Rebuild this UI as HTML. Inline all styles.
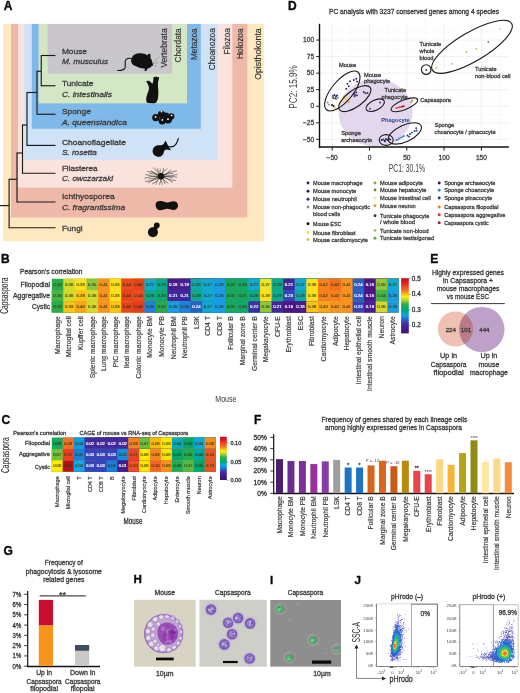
<!DOCTYPE html>
<html><head><meta charset="utf-8"><title>Figure</title>
<style>
html,body{margin:0;padding:0;background:#fff;}
body{width:520px;height:693px;overflow:hidden;font-family:"Liberation Sans",sans-serif;}
svg{display:block;font-family:"Liberation Sans",sans-serif;will-change:transform;}
</style></head><body>
<svg width="520" height="693" viewBox="0 0 520 693">
<text x="3.75" y="10.10" font-size="12" fill="#0a0a0a" font-weight="bold" stroke="#0a0a0a" stroke-width="0.35">A</text>
<rect x="3.20" y="23.80" width="260.60" height="217.50" fill="#fde8bf" />
<rect x="11.00" y="24.00" width="236.30" height="193.40" fill="#efb9aa" />
<rect x="18.00" y="24.00" width="214.30" height="163.60" fill="#fae3dc" />
<rect x="24.30" y="24.00" width="193.30" height="135.70" fill="#cfe2f6" />
<rect x="31.80" y="24.00" width="169.00" height="104.80" fill="#7fb9ea" />
<rect x="38.60" y="24.00" width="148.40" height="79.40" fill="#d4e7c5" />
<rect x="47.60" y="24.00" width="124.60" height="49.70" fill="#c9c7cc" />
<line x1="41.25" y1="55.50" x2="55.50" y2="55.50" stroke="#1a1a1a" stroke-width="1.15" />
<line x1="41.25" y1="85.75" x2="55.50" y2="85.75" stroke="#1a1a1a" stroke-width="1.15" />
<line x1="41.25" y1="55.00" x2="41.25" y2="86.25" stroke="#1a1a1a" stroke-width="1.15" />
<line x1="37.00" y1="71.25" x2="41.25" y2="71.25" stroke="#1a1a1a" stroke-width="1.15" />
<line x1="37.00" y1="70.75" x2="37.00" y2="114.75" stroke="#1a1a1a" stroke-width="1.15" />
<line x1="37.00" y1="114.25" x2="55.50" y2="114.25" stroke="#1a1a1a" stroke-width="1.15" />
<line x1="27.00" y1="92.50" x2="37.00" y2="92.50" stroke="#1a1a1a" stroke-width="1.15" />
<line x1="27.00" y1="92.00" x2="27.00" y2="145.90" stroke="#1a1a1a" stroke-width="1.15" />
<line x1="27.00" y1="145.40" x2="55.50" y2="145.40" stroke="#1a1a1a" stroke-width="1.15" />
<line x1="22.50" y1="125.00" x2="27.00" y2="125.00" stroke="#1a1a1a" stroke-width="1.15" />
<line x1="22.50" y1="124.50" x2="22.50" y2="173.75" stroke="#1a1a1a" stroke-width="1.15" />
<line x1="22.50" y1="173.25" x2="55.50" y2="173.25" stroke="#1a1a1a" stroke-width="1.15" />
<line x1="17.00" y1="153.00" x2="22.50" y2="153.00" stroke="#1a1a1a" stroke-width="1.15" />
<line x1="17.00" y1="152.50" x2="17.00" y2="202.50" stroke="#1a1a1a" stroke-width="1.15" />
<line x1="17.00" y1="202.00" x2="55.50" y2="202.00" stroke="#1a1a1a" stroke-width="1.15" />
<line x1="9.10" y1="179.30" x2="17.00" y2="179.30" stroke="#1a1a1a" stroke-width="1.15" />
<line x1="9.10" y1="178.80" x2="9.10" y2="228.20" stroke="#1a1a1a" stroke-width="1.15" />
<line x1="9.10" y1="227.70" x2="55.50" y2="227.70" stroke="#1a1a1a" stroke-width="1.15" />
<line x1="0.00" y1="205.60" x2="9.10" y2="205.60" stroke="#1a1a1a" stroke-width="1.15" />
<text x="61.90" y="53.50" font-size="8.1" textLength="25.10" lengthAdjust="spacingAndGlyphs" fill="#3a3a3a" stroke="#3a3a3a" stroke-width="0.3" >Mouse</text>
<text x="61.90" y="63.50" font-size="8.1" textLength="46.20" lengthAdjust="spacingAndGlyphs" fill="#3a3a3a" stroke="#3a3a3a" stroke-width="0.3" font-style="italic" >M. musculus</text>
<text x="61.90" y="86.25" font-size="8.1" textLength="31.60" lengthAdjust="spacingAndGlyphs" fill="#3a3a3a" stroke="#3a3a3a" stroke-width="0.3" >Tunicate</text>
<text x="61.90" y="96.75" font-size="8.1" textLength="50.00" lengthAdjust="spacingAndGlyphs" fill="#3a3a3a" stroke="#3a3a3a" stroke-width="0.3" font-style="italic" >C. intestinalis</text>
<text x="61.90" y="114.15" font-size="8.1" textLength="29.00" lengthAdjust="spacingAndGlyphs" fill="#3a3a3a" stroke="#3a3a3a" stroke-width="0.3" >Sponge</text>
<text x="61.90" y="125.05" font-size="8.1" textLength="65.00" lengthAdjust="spacingAndGlyphs" fill="#3a3a3a" stroke="#3a3a3a" stroke-width="0.3" font-style="italic" >A. queenslandica</text>
<text x="61.90" y="145.25" font-size="8.1" textLength="64.00" lengthAdjust="spacingAndGlyphs" fill="#3a3a3a" stroke="#3a3a3a" stroke-width="0.3" >Choanoflagellate</text>
<text x="61.90" y="155.25" font-size="8.1" textLength="35.00" lengthAdjust="spacingAndGlyphs" fill="#3a3a3a" stroke="#3a3a3a" stroke-width="0.3" font-style="italic" >S. rosetta</text>
<text x="61.90" y="170.75" font-size="8.1" textLength="35.75" lengthAdjust="spacingAndGlyphs" fill="#3a3a3a" stroke="#3a3a3a" stroke-width="0.3" >Filasterea</text>
<text x="61.90" y="181.25" font-size="8.1" textLength="51.25" lengthAdjust="spacingAndGlyphs" fill="#3a3a3a" stroke="#3a3a3a" stroke-width="0.3" font-style="italic" >C. owczarzaki</text>
<text x="61.90" y="199.00" font-size="8.1" textLength="52.75" lengthAdjust="spacingAndGlyphs" fill="#3a3a3a" stroke="#3a3a3a" stroke-width="0.3" >Ichthyosporea</text>
<text x="61.90" y="209.55" font-size="8.1" textLength="63.30" lengthAdjust="spacingAndGlyphs" fill="#3a3a3a" stroke="#3a3a3a" stroke-width="0.3" font-style="italic" >C. fragrantissima</text>
<text x="61.90" y="230.75" font-size="8.1" textLength="20.75" lengthAdjust="spacingAndGlyphs" fill="#3a3a3a" stroke="#3a3a3a" stroke-width="0.3" >Fungi</text>
<text transform="translate(167.39,28.30) rotate(-90)" font-size="8.5" text-anchor="end" textLength="39.50" lengthAdjust="spacingAndGlyphs" fill="#333" stroke="#333" stroke-width="0.18">Vertebrata</text>
<text transform="translate(180.69,28.30) rotate(-90)" font-size="8.5" text-anchor="end" textLength="34.10" lengthAdjust="spacingAndGlyphs" fill="#333" stroke="#333" stroke-width="0.18">Chordata</text>
<text transform="translate(196.64,28.30) rotate(-90)" font-size="8.5" text-anchor="end" textLength="31.80" lengthAdjust="spacingAndGlyphs" fill="#333" stroke="#333" stroke-width="0.18">Metazoa</text>
<text transform="translate(214.89,28.30) rotate(-90)" font-size="8.5" text-anchor="end" textLength="42.00" lengthAdjust="spacingAndGlyphs" fill="#333" stroke="#333" stroke-width="0.18">Choanozoa</text>
<text transform="translate(230.39,28.30) rotate(-90)" font-size="8.5" text-anchor="end" textLength="26.20" lengthAdjust="spacingAndGlyphs" fill="#333" stroke="#333" stroke-width="0.18">Filozoa</text>
<text transform="translate(243.29,28.30) rotate(-90)" font-size="8.5" text-anchor="end" textLength="30.80" lengthAdjust="spacingAndGlyphs" fill="#333" stroke="#333" stroke-width="0.18">Holozoa</text>
<text transform="translate(261.09,28.30) rotate(-90)" font-size="8.5" text-anchor="end" textLength="51.50" lengthAdjust="spacingAndGlyphs" fill="#333" stroke="#333" stroke-width="0.18">Opisthokonta</text>
<path d="M131.4,62.5 C130.6,58 133,54.6 137,53.6 C141,52.7 145,53.4 147.8,55.6 C147.6,54 148.6,53.4 149.6,53.7 C150.8,54.1 150.9,56 150.3,57.4 C151.6,59.4 152.4,62 153,64.4 C153.2,65.4 152.4,66 151.4,66.2 C150.8,67.4 149.6,68 148.4,68.2 L147.6,68.6 C147,69.6 146.8,70.4 146.2,71.1 L144.4,71.1 C144.8,70 145,69 144.6,68.5 C142,68.7 139,68 136.6,66.6 C134,65.6 132,64.4 131.4,62.5 Z" fill="#111"/>
<path d="M132,58.8 C129,57.5 125.6,58.6 125.2,61.4 C124.9,64 126.2,66.6 124.6,68.6 C123.2,70.2 120.4,70.6 117.8,70.5" fill="none" stroke="#111" stroke-width="1.1" stroke-linecap="round"/>
<path d="M152.4,63 L159.4,57 M152.8,63.6 L158.6,62.4 M152.4,64.6 L157,66.4" fill="none" stroke="#666" stroke-width="0.4"/>
<path d="M147,102.8 C145.6,100.5 146.2,96.5 147.5,93.5 C148.6,91 149.4,88.5 148.6,86 C148,84 146.5,82.6 146.4,81.6 C146.6,80.5 147.6,80.6 148.2,81.2 C148.8,80.4 149.8,80.6 150,81.6 C150.8,82.6 151.8,83.4 152.6,83.4 C153.4,81.5 153.6,79.5 153.4,77.6 C153.6,76.4 154.8,76.4 155.3,77.2 C156,76.3 157.2,76.4 157.5,77.4 C158.2,76.8 159.2,77.2 159,78.4 C158.2,80.5 157.8,83 158,86 C158.3,90 158.6,94 158,98 C157.6,100.2 156.8,101.8 155.8,102.9 C153,103.3 149.5,103.3 147,102.8 Z" fill="#111"/>
<circle cx="155.8" cy="117.7" r="3.6" fill="#111"/>
<circle cx="161.5" cy="114.3" r="3.6" fill="#111"/>
<circle cx="162.2" cy="120.8" r="3.6" fill="#111"/>
<circle cx="168" cy="119.6" r="4.0" fill="#111"/>
<circle cx="171.3" cy="116.4" r="3.1" fill="#111"/>
<circle cx="166" cy="115.5" r="3" fill="#111"/>
<circle cx="155.6" cy="116.9" r="0.9" fill="#fff"/>
<circle cx="161.5" cy="111.6" r="0.9" fill="#fff"/>
<circle cx="162.3" cy="119.9" r="0.9" fill="#fff"/>
<circle cx="168" cy="119.2" r="0.9" fill="#fff"/>
<circle cx="171.6" cy="115.4" r="0.9" fill="#fff"/>
<path d="M152.6,151.6 C152.4,147.8 155.5,145 159.2,145.2 C161,145.3 162.4,145.2 163.6,144 L165.6,140.4 L167.6,144.8 L171,150.2 L166.4,149.6 C165,149.8 164.2,150.8 163.8,152.4 C163,155.6 160.4,157.2 157.6,156.8 C154.8,156.4 152.8,154.4 152.6,151.6 Z" fill="#111"/>
<path d="M167.2,146.2 C170.5,147.4 174,146.8 175.8,144.4 C177.2,142.5 177.6,140.5 178.4,138.4" fill="none" stroke="#111" stroke-width="1.1" stroke-linecap="round"/>
<circle cx="161" cy="176.3" r="3.2" fill="#111"/>
<path d="M161,176.3 Q153.2,181.9 145.0,181.3 M161,176.3 Q151.5,175.4 144.2,178.3 M161,176.3 Q152.0,177.2 145.2,174.4 M161,176.3 Q154.5,170.9 147.1,171.5 M161,176.3 Q154.4,174.8 151.1,170.5 M161,176.3 Q157.4,170.8 153.0,167.5 M161,176.3 Q158.0,172.3 157.3,168.3 M161,176.3 Q159.6,172.1 160.2,168.6 M161,176.3 Q163.4,172.0 163.6,168.0 M161,176.3 Q162.8,170.9 167.3,168.6 M161,176.3 Q167.9,174.1 171.2,169.4 M161,176.3 Q168.9,171.4 176.8,170.8 M161,176.3 Q170.5,177.2 177.8,174.3 M161,176.3 Q169.9,174.8 177.0,177.3 M161,176.3 Q168.8,180.5 176.2,180.6 M161,176.3 Q168.6,178.1 172.9,182.7 M161,176.3 Q163.6,181.5 168.4,183.3 M161,176.3 Q164.2,180.2 165.2,184.1 M161,176.3 Q160.8,181.1 162.4,184.8 M161,176.3 Q161.0,181.1 159.3,184.8 M161,176.3 Q156.4,180.0 155.8,184.7 M161,176.3 Q157.4,182.1 151.8,184.2 M161,176.3 Q152.9,178.4 148.3,183.1 M161,176.3 Q155.1,172.9 149.4,173.6 M161,176.3 Q167.4,172.8 173.6,173.4 M161,176.3 Q167.7,176.3 172.8,178.1 M161,176.3 Q154.3,178.8 148.4,179.0 " fill="none" stroke="#1a1a1a" stroke-width="0.5"/>
<path d="M155.6,204.8 C155.4,202 157.6,200.8 160.6,201 C163.6,201.2 165.6,202.6 167.6,202.4 C169.8,202.2 171.6,201 174,201.2 C176.8,201.4 178.2,203.4 178,205.8 C177.8,208.4 176.2,210 173.4,210 C171,210 169.4,208.8 167.2,208.8 C165,208.8 163,210.2 160,210.2 C157,210.2 155.8,207.6 155.6,204.8 Z" fill="#111"/>
<circle cx="152.9" cy="232.2" r="5" fill="#111"/><circle cx="156.8" cy="225.3" r="2.9" fill="#111"/><rect x="153.5" y="226" width="4" height="4" fill="#111" transform="rotate(30 155.5 228)"/>
<text x="287.90" y="9.80" font-size="12" fill="#0a0a0a" font-weight="bold" stroke="#0a0a0a" stroke-width="0.35">D</text>
<text x="414.00" y="14.18" font-size="6.4" text-anchor="middle" textLength="170.00" lengthAdjust="spacingAndGlyphs" fill="#3a3a3a" stroke="#3a3a3a" stroke-width="0.3" >PC analysis with 3237 conserved genes among 4 species</text>
<line x1="319.50" y1="147.62" x2="508.80" y2="147.62" stroke="#f2f2f2" stroke-width="0.4" />
<line x1="319.50" y1="131.07" x2="508.80" y2="131.07" stroke="#f2f2f2" stroke-width="0.4" />
<line x1="319.50" y1="114.53" x2="508.80" y2="114.53" stroke="#f2f2f2" stroke-width="0.4" />
<line x1="319.50" y1="97.97" x2="508.80" y2="97.97" stroke="#f2f2f2" stroke-width="0.4" />
<line x1="319.50" y1="81.42" x2="508.80" y2="81.42" stroke="#f2f2f2" stroke-width="0.4" />
<line x1="319.50" y1="64.88" x2="508.80" y2="64.88" stroke="#f2f2f2" stroke-width="0.4" />
<line x1="319.50" y1="48.32" x2="508.80" y2="48.32" stroke="#f2f2f2" stroke-width="0.4" />
<line x1="319.50" y1="31.77" x2="508.80" y2="31.77" stroke="#f2f2f2" stroke-width="0.4" />
<line x1="350.85" y1="23.80" x2="350.85" y2="147.00" stroke="#f2f2f2" stroke-width="0.4" />
<line x1="388.15" y1="23.80" x2="388.15" y2="147.00" stroke="#f2f2f2" stroke-width="0.4" />
<line x1="425.45" y1="23.80" x2="425.45" y2="147.00" stroke="#f2f2f2" stroke-width="0.4" />
<line x1="462.75" y1="23.80" x2="462.75" y2="147.00" stroke="#f2f2f2" stroke-width="0.4" />
<line x1="500.05" y1="23.80" x2="500.05" y2="147.00" stroke="#f2f2f2" stroke-width="0.4" />
<line x1="319.50" y1="139.35" x2="508.80" y2="139.35" stroke="#e6e6e6" stroke-width="0.6" />
<line x1="319.50" y1="122.80" x2="508.80" y2="122.80" stroke="#e6e6e6" stroke-width="0.6" />
<line x1="319.50" y1="106.25" x2="508.80" y2="106.25" stroke="#e6e6e6" stroke-width="0.6" />
<line x1="319.50" y1="89.70" x2="508.80" y2="89.70" stroke="#e6e6e6" stroke-width="0.6" />
<line x1="319.50" y1="73.15" x2="508.80" y2="73.15" stroke="#e6e6e6" stroke-width="0.6" />
<line x1="319.50" y1="56.60" x2="508.80" y2="56.60" stroke="#e6e6e6" stroke-width="0.6" />
<line x1="319.50" y1="40.05" x2="508.80" y2="40.05" stroke="#e6e6e6" stroke-width="0.6" />
<line x1="332.20" y1="23.80" x2="332.20" y2="147.00" stroke="#e6e6e6" stroke-width="0.6" />
<line x1="369.50" y1="23.80" x2="369.50" y2="147.00" stroke="#e6e6e6" stroke-width="0.6" />
<line x1="406.80" y1="23.80" x2="406.80" y2="147.00" stroke="#e6e6e6" stroke-width="0.6" />
<line x1="444.10" y1="23.80" x2="444.10" y2="147.00" stroke="#e6e6e6" stroke-width="0.6" />
<line x1="481.40" y1="23.80" x2="481.40" y2="147.00" stroke="#e6e6e6" stroke-width="0.6" />
<ellipse cx="375.6" cy="112.6" rx="37" ry="34" fill="#e3d7ee"/>
<line x1="319.50" y1="23.80" x2="319.50" y2="147.70" stroke="#111" stroke-width="1.4" />
<line x1="318.80" y1="147.10" x2="508.80" y2="147.10" stroke="#111" stroke-width="1.5" />
<line x1="316.20" y1="139.35" x2="319.50" y2="139.35" stroke="#222" stroke-width="1.0" />
<text x="314.10" y="141.59" font-size="6.6" text-anchor="end" fill="#444" stroke="#444" stroke-width="0.3" >−50</text>
<line x1="316.20" y1="122.80" x2="319.50" y2="122.80" stroke="#222" stroke-width="1.0" />
<text x="314.10" y="125.04" font-size="6.6" text-anchor="end" fill="#444" stroke="#444" stroke-width="0.3" >−25</text>
<line x1="316.20" y1="106.25" x2="319.50" y2="106.25" stroke="#222" stroke-width="1.0" />
<text x="314.10" y="108.49" font-size="6.6" text-anchor="end" fill="#444" stroke="#444" stroke-width="0.3" >0</text>
<line x1="316.20" y1="89.70" x2="319.50" y2="89.70" stroke="#222" stroke-width="1.0" />
<text x="314.10" y="91.94" font-size="6.6" text-anchor="end" fill="#444" stroke="#444" stroke-width="0.3" >25</text>
<line x1="316.20" y1="73.15" x2="319.50" y2="73.15" stroke="#222" stroke-width="1.0" />
<text x="314.10" y="75.39" font-size="6.6" text-anchor="end" fill="#444" stroke="#444" stroke-width="0.3" >50</text>
<line x1="316.20" y1="56.60" x2="319.50" y2="56.60" stroke="#222" stroke-width="1.0" />
<text x="314.10" y="58.84" font-size="6.6" text-anchor="end" fill="#444" stroke="#444" stroke-width="0.3" >75</text>
<line x1="316.20" y1="40.05" x2="319.50" y2="40.05" stroke="#222" stroke-width="1.0" />
<text x="314.10" y="42.29" font-size="6.6" text-anchor="end" fill="#444" stroke="#444" stroke-width="0.3" >100</text>
<line x1="332.20" y1="147.00" x2="332.20" y2="150.60" stroke="#222" stroke-width="1.0" />
<text x="332.20" y="159.64" font-size="6.6" text-anchor="middle" fill="#444" stroke="#444" stroke-width="0.3" >−50</text>
<line x1="369.50" y1="147.00" x2="369.50" y2="150.60" stroke="#222" stroke-width="1.0" />
<text x="369.50" y="159.64" font-size="6.6" text-anchor="middle" fill="#444" stroke="#444" stroke-width="0.3" >0</text>
<line x1="406.80" y1="147.00" x2="406.80" y2="150.60" stroke="#222" stroke-width="1.0" />
<text x="406.80" y="159.64" font-size="6.6" text-anchor="middle" fill="#444" stroke="#444" stroke-width="0.3" >50</text>
<line x1="444.10" y1="147.00" x2="444.10" y2="150.60" stroke="#222" stroke-width="1.0" />
<text x="444.10" y="159.64" font-size="6.6" text-anchor="middle" fill="#444" stroke="#444" stroke-width="0.3" >100</text>
<line x1="481.40" y1="147.00" x2="481.40" y2="150.60" stroke="#222" stroke-width="1.0" />
<text x="481.40" y="159.64" font-size="6.6" text-anchor="middle" fill="#444" stroke="#444" stroke-width="0.3" >150</text>
<text x="388.80" y="171.80" font-size="10.2" textLength="36.30" lengthAdjust="spacingAndGlyphs" fill="#444" >PC1: 30.1%</text>
<text transform="translate(296.6,86.9) rotate(-90)" font-size="10.2" text-anchor="middle" textLength="43.5" lengthAdjust="spacingAndGlyphs" fill="#444">PC2: 15.9%</text>
<circle cx="347.5" cy="83.8" r="0.95" fill="#3b1a6e"/>
<circle cx="350.0" cy="81.3" r="0.95" fill="#3b1a6e"/>
<circle cx="353.8" cy="80.0" r="0.95" fill="#3b1a6e"/>
<circle cx="356.3" cy="78.8" r="0.95" fill="#3b1a6e"/>
<circle cx="348.8" cy="86.3" r="0.95" fill="#3b1a6e"/>
<circle cx="346.3" cy="88.8" r="0.95" fill="#3b1a6e"/>
<circle cx="357.0" cy="81.5" r="0.95" fill="#3b1a6e"/>
<circle cx="333.0" cy="96.0" r="0.95" fill="#2a1a5e"/>
<circle cx="334.5" cy="95.0" r="0.95" fill="#2a1a5e"/>
<circle cx="336.0" cy="96.5" r="0.95" fill="#2a1a5e"/>
<circle cx="333.5" cy="98.0" r="0.95" fill="#2a1a5e"/>
<circle cx="335.5" cy="98.5" r="0.95" fill="#2a1a5e"/>
<circle cx="337.0" cy="95.5" r="0.95" fill="#2a1a5e"/>
<circle cx="332.5" cy="97.5" r="0.95" fill="#8e8e8e"/>
<circle cx="336.5" cy="99.0" r="0.95" fill="#8e8e8e"/>
<circle cx="338.0" cy="97.8" r="0.95" fill="#8e8e8e"/>
<circle cx="343.8" cy="96.3" r="0.9" fill="#f2b233"/>
<circle cx="346.0" cy="99.0" r="0.9" fill="#f2b233"/>
<circle cx="341.5" cy="101.0" r="0.9" fill="#f2b233"/>
<circle cx="348.5" cy="100.0" r="0.9" fill="#f2b233"/>
<circle cx="344.5" cy="103.5" r="0.9" fill="#f2b233"/>
<circle cx="335.0" cy="107.5" r="0.9" fill="#f2b233"/>
<circle cx="337.0" cy="108.8" r="0.9" fill="#f2b233"/>
<circle cx="342.5" cy="98.0" r="0.9" fill="#f1e04a"/>
<circle cx="345.5" cy="101.5" r="0.9" fill="#f1e04a"/>
<circle cx="347.5" cy="97.5" r="0.9" fill="#f1e04a"/>
<circle cx="340.0" cy="103.5" r="0.9" fill="#f1e04a"/>
<circle cx="332.0" cy="105.0" r="0.95" fill="#111"/>
<circle cx="333.5" cy="106.0" r="0.95" fill="#111"/>
<circle cx="327.5" cy="102.5" r="0.95" fill="#8e8e8e"/>
<circle cx="329.0" cy="104.5" r="0.95" fill="#8e8e8e"/>
<circle cx="346.8" cy="101.2" r="0.9" fill="#f39a2e"/>
<circle cx="349.0" cy="102.2" r="0.9" fill="#f39a2e"/>
<circle cx="353.8" cy="93.8" r="0.95" fill="#3b1a6e"/>
<circle cx="355.0" cy="95.0" r="0.95" fill="#3b1a6e"/>
<circle cx="356.3" cy="92.5" r="0.95" fill="#3b1a6e"/>
<circle cx="354.5" cy="96.2" r="0.95" fill="#3b1a6e"/>
<circle cx="357.0" cy="95.4" r="0.95" fill="#3b1a6e"/>
<circle cx="363.8" cy="92.0" r="0.95" fill="#4a1a7a"/>
<circle cx="365.5" cy="93.2" r="0.95" fill="#4a1a7a"/>
<circle cx="367.5" cy="93.0" r="0.95" fill="#4a1a7a"/>
<circle cx="370.0" cy="108.8" r="0.95" fill="#4a2a7a"/>
<circle cx="380.0" cy="102.5" r="0.95" fill="#4a2a7a"/>
<circle cx="396.3" cy="108.2" r="0.85" fill="#e8282e"/>
<circle cx="398.0" cy="107.6" r="0.85" fill="#e8282e"/>
<circle cx="399.6" cy="107.2" r="0.85" fill="#e8282e"/>
<circle cx="401.3" cy="106.8" r="0.85" fill="#b80f2a"/>
<circle cx="402.6" cy="106.4" r="0.85" fill="#b80f2a"/>
<circle cx="403.8" cy="106.2" r="0.85" fill="#b80f2a"/>
<circle cx="411.6" cy="101.2" r="0.85" fill="#f07a28"/>
<circle cx="412.2" cy="100.2" r="0.85" fill="#f07a28"/>
<circle cx="411.2" cy="102.3" r="0.85" fill="#f07a28"/>
<circle cx="381.5" cy="140.0" r="0.95" fill="#16215e"/>
<circle cx="383.0" cy="139.4" r="0.95" fill="#16215e"/>
<circle cx="384.5" cy="140.4" r="0.95" fill="#16215e"/>
<circle cx="386.0" cy="139.0" r="0.95" fill="#16215e"/>
<circle cx="387.5" cy="140.0" r="0.95" fill="#16215e"/>
<circle cx="389.0" cy="138.6" r="0.95" fill="#16215e"/>
<circle cx="390.2" cy="139.6" r="0.95" fill="#16215e"/>
<circle cx="385.0" cy="141.2" r="0.95" fill="#16215e"/>
<circle cx="396.3" cy="140.0" r="0.95" fill="#4a7ab8"/>
<circle cx="399.0" cy="138.5" r="0.95" fill="#4a7ab8"/>
<circle cx="401.0" cy="137.8" r="0.95" fill="#4a7ab8"/>
<circle cx="402.5" cy="136.8" r="0.95" fill="#4a7ab8"/>
<circle cx="404.0" cy="136.0" r="0.95" fill="#4a7ab8"/>
<circle cx="398.0" cy="139.6" r="0.95" fill="#4a7ab8"/>
<circle cx="407.5" cy="135.5" r="0.95" fill="#1e3a8a"/>
<circle cx="410.0" cy="134.0" r="0.95" fill="#1e3a8a"/>
<circle cx="412.0" cy="132.6" r="0.95" fill="#1e3a8a"/>
<circle cx="414.6" cy="131.0" r="0.95" fill="#1e3a8a"/>
<circle cx="416.2" cy="128.2" r="0.95" fill="#1e3a8a"/>
<circle cx="409.0" cy="136.6" r="0.95" fill="#1e3a8a"/>
<circle cx="416.6" cy="130.6" r="0.95" fill="#1e3a8a"/>
<circle cx="436.3" cy="68.0" r="0.9" fill="#a6c85a"/>
<circle cx="452.0" cy="63.8" r="0.9" fill="#a6c85a"/>
<circle cx="466.3" cy="52.0" r="0.9" fill="#a6c85a"/>
<circle cx="476.3" cy="48.8" r="0.9" fill="#a6c85a"/>
<circle cx="488.3" cy="42.0" r="0.9" fill="#6a7a9a"/>
<circle cx="500.0" cy="28.8" r="0.9" fill="#d8d27a"/>
<circle cx="426.3" cy="70.0" r="0.95" fill="#1e4a22"/>
<ellipse cx="342.3" cy="91" rx="24.5" ry="10.5" transform="rotate(-50 342.3 91)" fill="none" stroke="#1a1a1a" stroke-width="1.1"/>
<ellipse cx="354.8" cy="98.6" rx="19" ry="8.2" transform="rotate(-36 354.8 98.6)" fill="none" stroke="#1a1a1a" stroke-width="1.1"/>
<ellipse cx="375.2" cy="105.2" rx="10" ry="5" transform="rotate(-26 375.2 105.2)" fill="none" stroke="#1a1a1a" stroke-width="1.1"/>
<ellipse cx="404.4" cy="104.8" rx="14.2" ry="4.8" transform="rotate(-22 404.4 104.8)" fill="none" stroke="#1a1a1a" stroke-width="1.1"/>
<ellipse cx="386.2" cy="140" rx="7" ry="5.4" transform="rotate(0 386.2 140)" fill="none" stroke="#1a1a1a" stroke-width="1.1"/>
<ellipse cx="404.8" cy="133.4" rx="18" ry="8.3" transform="rotate(-25 404.8 133.4)" fill="none" stroke="#1a1a1a" stroke-width="1.1"/>
<ellipse cx="426.2" cy="69.6" rx="4.8" ry="4.8" transform="rotate(0 426.2 69.6)" fill="none" stroke="#1a1a1a" stroke-width="1.1"/>
<ellipse cx="472" cy="46.8" rx="46" ry="14.5" transform="rotate(-30.5 472 46.8)" fill="none" stroke="#1a1a1a" stroke-width="1.1"/>
<text x="339.00" y="66.94" font-size="5.7" fill="#3a3a3a" stroke="#3a3a3a" stroke-width="0.3" >Mouse</text>
<text x="364.00" y="76.54" font-size="5.7" fill="#3a3a3a" stroke="#3a3a3a" stroke-width="0.3" >Mouse</text>
<text x="364.00" y="83.34" font-size="5.7" fill="#3a3a3a" stroke="#3a3a3a" stroke-width="0.3" >phagocyte</text>
<text x="384.50" y="91.74" font-size="5.7" fill="#3a3a3a" stroke="#3a3a3a" stroke-width="0.3" >Tunicate</text>
<text x="381.50" y="98.54" font-size="5.7" fill="#3a3a3a" stroke="#3a3a3a" stroke-width="0.3" >phagocyte</text>
<text x="420.20" y="101.94" font-size="5.7" fill="#3a3a3a" stroke="#3a3a3a" stroke-width="0.3" >Capsaspora</text>
<text x="341.20" y="134.54" font-size="5.7" fill="#3a3a3a" stroke="#3a3a3a" stroke-width="0.3" >Sponge</text>
<text x="341.20" y="141.94" font-size="5.7" fill="#3a3a3a" stroke="#3a3a3a" stroke-width="0.3" >archaeocyte</text>
<text x="434.60" y="126.54" font-size="5.7" fill="#3a3a3a" stroke="#3a3a3a" stroke-width="0.3" >Sponge</text>
<text x="434.60" y="133.94" font-size="5.7" fill="#3a3a3a" stroke="#3a3a3a" stroke-width="0.3" >choanocyte / pinacocyte</text>
<text x="419.60" y="45.94" font-size="5.7" fill="#3a3a3a" stroke="#3a3a3a" stroke-width="0.3" >Tunicate</text>
<text x="419.60" y="52.74" font-size="5.7" fill="#3a3a3a" stroke="#3a3a3a" stroke-width="0.3" >whole</text>
<text x="419.60" y="59.54" font-size="5.7" fill="#3a3a3a" stroke="#3a3a3a" stroke-width="0.3" >blood</text>
<text x="475.00" y="71.44" font-size="5.7" fill="#3a3a3a" stroke="#3a3a3a" stroke-width="0.3" >Tunicate</text>
<text x="475.00" y="78.14" font-size="5.7" fill="#3a3a3a" stroke="#3a3a3a" stroke-width="0.3" >non-blood cell</text>
<text x="381.20" y="122.01" font-size="5.9" textLength="28.50" lengthAdjust="spacingAndGlyphs" fill="#24408e" font-weight="bold" >Phagocyte</text>
<circle cx="308" cy="183" r="1.45" fill="#3b1a6e"/>
<text x="313.00" y="185.11" font-size="6.2" textLength="49.50" lengthAdjust="spacingAndGlyphs" fill="#3a3a3a" stroke="#3a3a3a" stroke-width="0.3" >Mouse macrophage</text>
<circle cx="308" cy="191.2" r="1.45" fill="#2a1a5e"/>
<text x="313.00" y="193.31" font-size="6.2" textLength="43.25" lengthAdjust="spacingAndGlyphs" fill="#3a3a3a" stroke="#3a3a3a" stroke-width="0.3" >Mouse monocyte</text>
<circle cx="308" cy="199.2" r="1.45" fill="#4a1a7a"/>
<text x="313.00" y="201.31" font-size="6.2" textLength="43.75" lengthAdjust="spacingAndGlyphs" fill="#3a3a3a" stroke="#3a3a3a" stroke-width="0.3" >Mouse neutrophil</text>
<circle cx="308" cy="207" r="1.45" fill="#8e8e8e"/>
<text x="313.00" y="209.11" font-size="6.2" textLength="57.00" lengthAdjust="spacingAndGlyphs" fill="#3a3a3a" stroke="#3a3a3a" stroke-width="0.3" >Mouse non-phagocytic</text>
<text x="313.00" y="215.71" font-size="6.2" textLength="27.00" lengthAdjust="spacingAndGlyphs" fill="#3a3a3a" stroke="#3a3a3a" stroke-width="0.3" >blood cells</text>
<circle cx="308" cy="223.8" r="1.45" fill="#111"/>
<text x="313.00" y="225.91" font-size="6.2" textLength="28.25" lengthAdjust="spacingAndGlyphs" fill="#3a3a3a" stroke="#3a3a3a" stroke-width="0.3" >Mouse ESC</text>
<circle cx="308" cy="232.5" r="1.45" fill="#f1e04a"/>
<text x="313.00" y="234.61" font-size="6.2" textLength="42.50" lengthAdjust="spacingAndGlyphs" fill="#3a3a3a" stroke="#3a3a3a" stroke-width="0.3" >Mouse fibroblast</text>
<circle cx="308" cy="239.6" r="1.45" fill="#f2b233"/>
<text x="313.00" y="241.71" font-size="6.2" textLength="55.00" lengthAdjust="spacingAndGlyphs" fill="#3a3a3a" stroke="#3a3a3a" stroke-width="0.3" >Mouse cardiomyocyte</text>
<circle cx="375" cy="183" r="1.45" fill="#a89a24"/>
<text x="380.00" y="185.11" font-size="6.2" textLength="43.00" lengthAdjust="spacingAndGlyphs" fill="#3a3a3a" stroke="#3a3a3a" stroke-width="0.3" >Mouse adipocyte</text>
<circle cx="375" cy="190" r="1.45" fill="#7d8a1e"/>
<text x="380.00" y="192.11" font-size="6.2" textLength="46.50" lengthAdjust="spacingAndGlyphs" fill="#3a3a3a" stroke="#3a3a3a" stroke-width="0.3" >Mouse hepatocyte</text>
<circle cx="375" cy="198" r="1.45" fill="#f7ec9a"/>
<text x="380.00" y="200.11" font-size="6.2" textLength="50.70" lengthAdjust="spacingAndGlyphs" fill="#3a3a3a" stroke="#3a3a3a" stroke-width="0.3" >Mouse intestinal cell</text>
<circle cx="375" cy="205.8" r="1.45" fill="#f39a2e"/>
<text x="380.00" y="207.91" font-size="6.2" textLength="35.70" lengthAdjust="spacingAndGlyphs" fill="#3a3a3a" stroke="#3a3a3a" stroke-width="0.3" >Mouse neuron</text>
<circle cx="375" cy="215.8" r="1.45" fill="#1e4a22"/>
<text x="380.00" y="217.91" font-size="6.2" textLength="49.30" lengthAdjust="spacingAndGlyphs" fill="#3a3a3a" stroke="#3a3a3a" stroke-width="0.3" >Tunicate phagocyte</text>
<text x="380.00" y="224.21" font-size="6.2" textLength="35.00" lengthAdjust="spacingAndGlyphs" fill="#3a3a3a" stroke="#3a3a3a" stroke-width="0.3" >/ whole blood</text>
<circle cx="375" cy="230.5" r="1.45" fill="#a6c85a"/>
<text x="380.00" y="232.61" font-size="6.2" textLength="48.80" lengthAdjust="spacingAndGlyphs" fill="#3a3a3a" stroke="#3a3a3a" stroke-width="0.3" >Tunicate non-blood</text>
<circle cx="375" cy="238.3" r="1.45" fill="#5aa83a"/>
<text x="380.00" y="240.41" font-size="6.2" textLength="54.20" lengthAdjust="spacingAndGlyphs" fill="#3a3a3a" stroke="#3a3a3a" stroke-width="0.3" >Tunicate testis/gonad</text>
<circle cx="439.2" cy="183" r="1.45" fill="#16215e"/>
<text x="444.20" y="185.11" font-size="6.2" textLength="51.20" lengthAdjust="spacingAndGlyphs" fill="#3a3a3a" stroke="#3a3a3a" stroke-width="0.3" >Sponge archaeocyte</text>
<circle cx="439.2" cy="190.3" r="1.45" fill="#4a7ab8"/>
<text x="444.20" y="192.41" font-size="6.2" textLength="50.00" lengthAdjust="spacingAndGlyphs" fill="#3a3a3a" stroke="#3a3a3a" stroke-width="0.3" >Sponge choanocyte</text>
<circle cx="439.2" cy="198" r="1.45" fill="#1e3a8a"/>
<text x="444.20" y="200.11" font-size="6.2" textLength="48.00" lengthAdjust="spacingAndGlyphs" fill="#3a3a3a" stroke="#3a3a3a" stroke-width="0.3" >Sponge pinacocyte</text>
<circle cx="439.2" cy="207" r="1.45" fill="#f07a28"/>
<text x="444.20" y="209.11" font-size="6.2" textLength="54.20" lengthAdjust="spacingAndGlyphs" fill="#3a3a3a" stroke="#3a3a3a" stroke-width="0.3" >Capsaspora filopodial</text>
<circle cx="439.2" cy="214.8" r="1.45" fill="#e8282e"/>
<text x="444.20" y="216.91" font-size="6.2" textLength="61.20" lengthAdjust="spacingAndGlyphs" fill="#3a3a3a" stroke="#3a3a3a" stroke-width="0.3" >Capsaspora aggregative</text>
<circle cx="439.2" cy="222.7" r="1.45" fill="#b80f2a"/>
<text x="444.20" y="224.81" font-size="6.2" textLength="44.50" lengthAdjust="spacingAndGlyphs" fill="#3a3a3a" stroke="#3a3a3a" stroke-width="0.3" >Capsaspora cystic</text>
<text x="1.10" y="263.00" font-size="12" fill="#0a0a0a" font-weight="bold" stroke="#0a0a0a" stroke-width="0.35">B</text>
<text x="20.00" y="274.24" font-size="6.6" textLength="62.50" lengthAdjust="spacingAndGlyphs" fill="#3a3a3a" stroke="#3a3a3a" stroke-width="0.3" >Pearson's correlation</text>
<text transform="translate(8.2,295.7) rotate(-90)" font-size="10.2" stroke="#333" stroke-width="0.12" text-anchor="middle" textLength="36.3" lengthAdjust="spacingAndGlyphs" fill="#333">Capsaspora</text>
<text x="50.00" y="286.98" font-size="7" text-anchor="end" textLength="29.50" lengthAdjust="spacingAndGlyphs" fill="#3a3a3a" stroke="#3a3a3a" stroke-width="0.3" >Filopodial</text>
<text x="50.00" y="298.38" font-size="7" text-anchor="end" textLength="37.00" lengthAdjust="spacingAndGlyphs" fill="#3a3a3a" stroke="#3a3a3a" stroke-width="0.3" >Aggregative</text>
<text x="50.00" y="309.28" font-size="7" text-anchor="end" textLength="18.00" lengthAdjust="spacingAndGlyphs" fill="#3a3a3a" stroke="#3a3a3a" stroke-width="0.3" >Cystic</text>
<rect x="51.75" y="278.75" width="347.10" height="33.75" fill="#2caa4c"/>
<rect x="63.32" y="278.75" width="335.53" height="33.75" fill="#d2db2d"/>
<rect x="74.89" y="278.75" width="323.96" height="33.75" fill="#fde01b"/>
<rect x="86.46" y="278.75" width="312.39" height="33.75" fill="#8ec63f"/>
<rect x="98.03" y="278.75" width="300.82" height="33.75" fill="#f7931e"/>
<rect x="109.60" y="278.75" width="289.25" height="33.75" fill="#fde01b"/>
<rect x="121.17" y="278.75" width="277.68" height="33.75" fill="#ea4c1f"/>
<rect x="132.74" y="278.75" width="266.11" height="33.75" fill="#e8431e"/>
<rect x="144.31" y="278.75" width="254.54" height="33.75" fill="#14a7d2"/>
<rect x="155.88" y="278.75" width="242.97" height="33.75" fill="#0fa88c"/>
<rect x="167.45" y="278.75" width="231.40" height="33.75" fill="#4a1b8b"/>
<rect x="179.02" y="278.75" width="219.83" height="33.75" fill="#471f90"/>
<rect x="190.59" y="278.75" width="208.26" height="33.75" fill="#0fa8aa"/>
<rect x="202.16" y="278.75" width="196.69" height="33.75" fill="#14a7d2"/>
<rect x="213.73" y="278.75" width="185.12" height="33.75" fill="#1a9be2"/>
<rect x="225.30" y="278.75" width="173.55" height="33.75" fill="#19a75e"/>
<rect x="236.87" y="278.75" width="161.98" height="33.75" fill="#13a770"/>
<rect x="248.44" y="278.75" width="150.41" height="33.75" fill="#14a7d2"/>
<rect x="260.01" y="278.75" width="138.84" height="33.75" fill="#ece426"/>
<rect x="271.58" y="278.75" width="127.27" height="33.75" fill="#0fa88c"/>
<rect x="283.15" y="278.75" width="115.70" height="33.75" fill="#40279c"/>
<rect x="294.72" y="278.75" width="104.13" height="33.75" fill="#14a7d2"/>
<rect x="306.29" y="278.75" width="92.56" height="33.75" fill="#fde01b"/>
<rect x="317.86" y="278.75" width="80.99" height="33.75" fill="#f5821f"/>
<rect x="329.43" y="278.75" width="69.42" height="33.75" fill="#f16f21"/>
<rect x="341.00" y="278.75" width="57.85" height="33.75" fill="#f7931e"/>
<rect x="352.57" y="278.75" width="46.28" height="33.75" fill="#2a5fc8"/>
<rect x="364.14" y="278.75" width="34.71" height="33.75" fill="#4b1585"/>
<rect x="375.71" y="278.75" width="23.14" height="33.75" fill="#8ec63f"/>
<rect x="387.28" y="278.75" width="11.57" height="33.75" fill="#14a7d2"/>
<rect x="51.75" y="290.00" width="347.10" height="22.50" fill="#48b448"/>
<rect x="63.32" y="290.00" width="335.53" height="22.50" fill="#d2db2d"/>
<rect x="74.89" y="290.00" width="323.96" height="22.50" fill="#fcc415"/>
<rect x="86.46" y="290.00" width="312.39" height="22.50" fill="#d2db2d"/>
<rect x="98.03" y="290.00" width="300.82" height="22.50" fill="#f7931e"/>
<rect x="109.60" y="290.00" width="289.25" height="22.50" fill="#fde01b"/>
<rect x="121.17" y="290.00" width="277.68" height="22.50" fill="#e8431e"/>
<rect x="132.74" y="290.00" width="266.11" height="22.50" fill="#ea4c1f"/>
<rect x="144.31" y="290.00" width="254.54" height="22.50" fill="#0fa88c"/>
<rect x="155.88" y="290.00" width="242.97" height="22.50" fill="#13a770"/>
<rect x="167.45" y="290.00" width="231.40" height="22.50" fill="#40279c"/>
<rect x="179.02" y="290.00" width="219.83" height="22.50" fill="#40279c"/>
<rect x="190.59" y="290.00" width="208.26" height="22.50" fill="#0fa88c"/>
<rect x="202.16" y="290.00" width="196.69" height="22.50" fill="#14a7d2"/>
<rect x="213.73" y="290.00" width="185.12" height="22.50" fill="#1a9be2"/>
<rect x="225.30" y="290.00" width="173.55" height="22.50" fill="#19a75e"/>
<rect x="236.87" y="290.00" width="161.98" height="22.50" fill="#19a75e"/>
<rect x="248.44" y="290.00" width="150.41" height="22.50" fill="#0fa88c"/>
<rect x="260.01" y="290.00" width="138.84" height="22.50" fill="#fde01b"/>
<rect x="271.58" y="290.00" width="127.27" height="22.50" fill="#0fa88c"/>
<rect x="283.15" y="290.00" width="115.70" height="22.50" fill="#3346b6"/>
<rect x="294.72" y="290.00" width="104.13" height="22.50" fill="#0fa8aa"/>
<rect x="306.29" y="290.00" width="92.56" height="22.50" fill="#fde01b"/>
<rect x="317.86" y="290.00" width="80.99" height="22.50" fill="#f5821f"/>
<rect x="329.43" y="290.00" width="69.42" height="22.50" fill="#f5821f"/>
<rect x="341.00" y="290.00" width="57.85" height="22.50" fill="#f7931e"/>
<rect x="352.57" y="290.00" width="46.28" height="22.50" fill="#2a5fc8"/>
<rect x="364.14" y="290.00" width="34.71" height="22.50" fill="#4b1585"/>
<rect x="375.71" y="290.00" width="23.14" height="22.50" fill="#48b448"/>
<rect x="387.28" y="290.00" width="11.57" height="22.50" fill="#1a9be2"/>
<rect x="51.75" y="301.25" width="347.10" height="11.25" fill="#2caa4c"/>
<rect x="63.32" y="301.25" width="335.53" height="11.25" fill="#fcc415"/>
<rect x="74.89" y="301.25" width="323.96" height="11.25" fill="#f9a71a"/>
<rect x="86.46" y="301.25" width="312.39" height="11.25" fill="#d2db2d"/>
<rect x="98.03" y="301.25" width="300.82" height="11.25" fill="#f7931e"/>
<rect x="109.60" y="301.25" width="289.25" height="11.25" fill="#fcc415"/>
<rect x="121.17" y="301.25" width="277.68" height="11.25" fill="#e8431e"/>
<rect x="132.74" y="301.25" width="266.11" height="11.25" fill="#e63b1e"/>
<rect x="144.31" y="301.25" width="254.54" height="11.25" fill="#1d80da"/>
<rect x="155.88" y="301.25" width="242.97" height="11.25" fill="#27aa50"/>
<rect x="167.45" y="301.25" width="231.40" height="11.25" fill="#1a9be2"/>
<rect x="179.02" y="301.25" width="219.83" height="11.25" fill="#1d80da"/>
<rect x="190.59" y="301.25" width="208.26" height="11.25" fill="#2a5fc8"/>
<rect x="202.16" y="301.25" width="196.69" height="11.25" fill="#14a7d2"/>
<rect x="213.73" y="301.25" width="185.12" height="11.25" fill="#1a9be2"/>
<rect x="225.30" y="301.25" width="173.55" height="11.25" fill="#19a75e"/>
<rect x="236.87" y="301.25" width="161.98" height="11.25" fill="#13a770"/>
<rect x="248.44" y="301.25" width="150.41" height="11.25" fill="#3b2fa4"/>
<rect x="260.01" y="301.25" width="138.84" height="11.25" fill="#8ec63f"/>
<rect x="271.58" y="301.25" width="127.27" height="11.25" fill="#40279c"/>
<rect x="283.15" y="301.25" width="115.70" height="11.25" fill="#4b1585"/>
<rect x="294.72" y="301.25" width="104.13" height="11.25" fill="#4a1b8b"/>
<rect x="306.29" y="301.25" width="92.56" height="11.25" fill="#fcc415"/>
<rect x="317.86" y="301.25" width="80.99" height="11.25" fill="#f9a71a"/>
<rect x="329.43" y="301.25" width="69.42" height="11.25" fill="#f7931e"/>
<rect x="341.00" y="301.25" width="57.85" height="11.25" fill="#f7931e"/>
<rect x="352.57" y="301.25" width="46.28" height="11.25" fill="#3346b6"/>
<rect x="364.14" y="301.25" width="34.71" height="11.25" fill="#471f90"/>
<rect x="375.71" y="301.25" width="23.14" height="11.25" fill="#d2db2d"/>
<rect x="387.28" y="301.25" width="11.57" height="11.25" fill="#1a9be2"/>
<text x="57.53" y="285.84" font-size="4.3" text-anchor="middle" fill="#3a3a10" fill-opacity="0.8" stroke="#3a3a10" stroke-width="0.18" stroke-opacity="0.8">0.33</text>
<text x="57.53" y="297.09" font-size="4.3" text-anchor="middle" fill="#3a3a10" fill-opacity="0.8" stroke="#3a3a10" stroke-width="0.18" stroke-opacity="0.8">0.34</text>
<text x="57.53" y="308.34" font-size="4.3" text-anchor="middle" fill="#3a3a10" fill-opacity="0.8" stroke="#3a3a10" stroke-width="0.18" stroke-opacity="0.8">0.33</text>
<text transform="translate(59.85,316.20) rotate(-90)" font-size="6.8" text-anchor="end" fill="#3c3c3c" stroke="#3c3c3c" stroke-width="0.18">Macrophage</text>
<text x="69.11" y="285.84" font-size="4.3" text-anchor="middle" fill="#3a3a10" fill-opacity="0.8" stroke="#3a3a10" stroke-width="0.18" stroke-opacity="0.8">0.36</text>
<text x="69.11" y="297.09" font-size="4.3" text-anchor="middle" fill="#3a3a10" fill-opacity="0.8" stroke="#3a3a10" stroke-width="0.18" stroke-opacity="0.8">0.36</text>
<text x="69.11" y="308.34" font-size="4.3" text-anchor="middle" fill="#3a3a10" fill-opacity="0.8" stroke="#3a3a10" stroke-width="0.18" stroke-opacity="0.8">0.39</text>
<text transform="translate(71.42,316.20) rotate(-90)" font-size="6.8" text-anchor="end" fill="#3c3c3c" stroke="#3c3c3c" stroke-width="0.18">Microglial cell</text>
<text x="80.67" y="285.84" font-size="4.3" text-anchor="middle" fill="#3a3a10" fill-opacity="0.8" stroke="#3a3a10" stroke-width="0.18" stroke-opacity="0.8">0.38</text>
<text x="80.67" y="297.09" font-size="4.3" text-anchor="middle" fill="#3a3a10" fill-opacity="0.8" stroke="#3a3a10" stroke-width="0.18" stroke-opacity="0.8">0.39</text>
<text x="80.67" y="308.34" font-size="4.3" text-anchor="middle" fill="#3a3a10" fill-opacity="0.8" stroke="#3a3a10" stroke-width="0.18" stroke-opacity="0.8">0.40</text>
<text transform="translate(82.99,316.20) rotate(-90)" font-size="6.8" text-anchor="end" fill="#3c3c3c" stroke="#3c3c3c" stroke-width="0.18">Kupffer cell</text>
<text x="92.25" y="285.84" font-size="4.3" text-anchor="middle" fill="#3a3a10" fill-opacity="0.8" stroke="#3a3a10" stroke-width="0.18" stroke-opacity="0.8">0.35</text>
<text x="92.25" y="297.09" font-size="4.3" text-anchor="middle" fill="#3a3a10" fill-opacity="0.8" stroke="#3a3a10" stroke-width="0.18" stroke-opacity="0.8">0.36</text>
<text x="92.25" y="308.34" font-size="4.3" text-anchor="middle" fill="#3a3a10" fill-opacity="0.8" stroke="#3a3a10" stroke-width="0.18" stroke-opacity="0.8">0.36</text>
<text transform="translate(94.56,316.20) rotate(-90)" font-size="6.8" text-anchor="end" fill="#3c3c3c" stroke="#3c3c3c" stroke-width="0.18">Splenic macrophage</text>
<text x="103.81" y="285.84" font-size="4.3" text-anchor="middle" fill="#3a3a10" fill-opacity="0.8" stroke="#3a3a10" stroke-width="0.18" stroke-opacity="0.8">0.41</text>
<text x="103.81" y="297.09" font-size="4.3" text-anchor="middle" fill="#3a3a10" fill-opacity="0.8" stroke="#3a3a10" stroke-width="0.18" stroke-opacity="0.8">0.41</text>
<text x="103.81" y="308.34" font-size="4.3" text-anchor="middle" fill="#3a3a10" fill-opacity="0.8" stroke="#3a3a10" stroke-width="0.18" stroke-opacity="0.8">0.41</text>
<text transform="translate(106.13,316.20) rotate(-90)" font-size="6.8" text-anchor="end" fill="#3c3c3c" stroke="#3c3c3c" stroke-width="0.18">Lung macrophage</text>
<text x="115.39" y="285.84" font-size="4.3" text-anchor="middle" fill="#3a3a10" fill-opacity="0.8" stroke="#3a3a10" stroke-width="0.18" stroke-opacity="0.8">0.38</text>
<text x="115.39" y="297.09" font-size="4.3" text-anchor="middle" fill="#3a3a10" fill-opacity="0.8" stroke="#3a3a10" stroke-width="0.18" stroke-opacity="0.8">0.38</text>
<text x="115.39" y="308.34" font-size="4.3" text-anchor="middle" fill="#3a3a10" fill-opacity="0.8" stroke="#3a3a10" stroke-width="0.18" stroke-opacity="0.8">0.39</text>
<text transform="translate(117.70,316.20) rotate(-90)" font-size="6.8" text-anchor="end" fill="#3c3c3c" stroke="#3c3c3c" stroke-width="0.18">PtC macrophage</text>
<text x="126.95" y="285.84" font-size="4.3" text-anchor="middle" fill="#3a3a10" fill-opacity="0.8" stroke="#3a3a10" stroke-width="0.18" stroke-opacity="0.8">0.44</text>
<text x="126.95" y="297.09" font-size="4.3" text-anchor="middle" fill="#3a3a10" fill-opacity="0.8" stroke="#3a3a10" stroke-width="0.18" stroke-opacity="0.8">0.45</text>
<text x="126.95" y="308.34" font-size="4.3" text-anchor="middle" fill="#3a3a10" fill-opacity="0.8" stroke="#3a3a10" stroke-width="0.18" stroke-opacity="0.8">0.45</text>
<text transform="translate(129.27,316.20) rotate(-90)" font-size="6.8" text-anchor="end" fill="#3c3c3c" stroke="#3c3c3c" stroke-width="0.18">Ileal macrophage</text>
<text x="138.53" y="285.84" font-size="4.3" text-anchor="middle" fill="#3a3a10" fill-opacity="0.8" stroke="#3a3a10" stroke-width="0.18" stroke-opacity="0.8">0.45</text>
<text x="138.53" y="297.09" font-size="4.3" text-anchor="middle" fill="#3a3a10" fill-opacity="0.8" stroke="#3a3a10" stroke-width="0.18" stroke-opacity="0.8">0.44</text>
<text x="138.53" y="308.34" font-size="4.3" text-anchor="middle" fill="#3a3a10" fill-opacity="0.8" stroke="#3a3a10" stroke-width="0.18" stroke-opacity="0.8">0.46</text>
<text transform="translate(140.84,316.20) rotate(-90)" font-size="6.8" text-anchor="end" fill="#3c3c3c" stroke="#3c3c3c" stroke-width="0.18">Colonic macrophage</text>
<text x="150.09" y="285.84" font-size="4.3" text-anchor="middle" fill="#3a3a10" fill-opacity="0.8" stroke="#3a3a10" stroke-width="0.18" stroke-opacity="0.8">0.27</text>
<text x="150.09" y="297.09" font-size="4.3" text-anchor="middle" fill="#3a3a10" fill-opacity="0.8" stroke="#3a3a10" stroke-width="0.18" stroke-opacity="0.8">0.29</text>
<text x="150.09" y="308.34" font-size="4.3" text-anchor="middle" fill="#3a3a10" fill-opacity="0.8" stroke="#3a3a10" stroke-width="0.18" stroke-opacity="0.8">0.25</text>
<text transform="translate(152.41,316.20) rotate(-90)" font-size="6.8" text-anchor="end" fill="#3c3c3c" stroke="#3c3c3c" stroke-width="0.18">Monocyte BM</text>
<text x="161.67" y="285.84" font-size="4.3" text-anchor="middle" fill="#3a3a10" fill-opacity="0.8" stroke="#3a3a10" stroke-width="0.18" stroke-opacity="0.8">0.29</text>
<text x="161.67" y="297.09" font-size="4.3" text-anchor="middle" fill="#3a3a10" fill-opacity="0.8" stroke="#3a3a10" stroke-width="0.18" stroke-opacity="0.8">0.30</text>
<text x="161.67" y="308.34" font-size="4.3" text-anchor="middle" fill="#3a3a10" fill-opacity="0.8" stroke="#3a3a10" stroke-width="0.18" stroke-opacity="0.8">0.32</text>
<text transform="translate(163.98,316.20) rotate(-90)" font-size="6.8" text-anchor="end" fill="#3c3c3c" stroke="#3c3c3c" stroke-width="0.18">Monocyte PB</text>
<text x="173.24" y="285.84" font-size="4.3" text-anchor="middle" fill="#fff" stroke="#fff" stroke-width="0.18">0.18</text>
<text x="173.24" y="297.09" font-size="4.3" text-anchor="middle" fill="#fff" stroke="#fff" stroke-width="0.18">0.21</text>
<text x="173.24" y="308.34" font-size="4.3" text-anchor="middle" fill="#3a3a10" fill-opacity="0.8" stroke="#3a3a10" stroke-width="0.18" stroke-opacity="0.8">0.26</text>
<text transform="translate(175.55,316.20) rotate(-90)" font-size="6.8" text-anchor="end" fill="#3c3c3c" stroke="#3c3c3c" stroke-width="0.18">Neutrophil BM</text>
<text x="184.81" y="285.84" font-size="4.3" text-anchor="middle" fill="#fff" stroke="#fff" stroke-width="0.18">0.19</text>
<text x="184.81" y="297.09" font-size="4.3" text-anchor="middle" fill="#fff" stroke="#fff" stroke-width="0.18">0.21</text>
<text x="184.81" y="308.34" font-size="4.3" text-anchor="middle" fill="#3a3a10" fill-opacity="0.8" stroke="#3a3a10" stroke-width="0.18" stroke-opacity="0.8">0.25</text>
<text transform="translate(187.12,316.20) rotate(-90)" font-size="6.8" text-anchor="end" fill="#3c3c3c" stroke="#3c3c3c" stroke-width="0.18">Neutrophil PB</text>
<text x="196.38" y="285.84" font-size="4.3" text-anchor="middle" fill="#3a3a10" fill-opacity="0.8" stroke="#3a3a10" stroke-width="0.18" stroke-opacity="0.8">0.28</text>
<text x="196.38" y="297.09" font-size="4.3" text-anchor="middle" fill="#3a3a10" fill-opacity="0.8" stroke="#3a3a10" stroke-width="0.18" stroke-opacity="0.8">0.29</text>
<text x="196.38" y="308.34" font-size="4.3" text-anchor="middle" fill="#fff" stroke="#fff" stroke-width="0.18">0.24</text>
<text transform="translate(198.69,316.20) rotate(-90)" font-size="6.8" text-anchor="end" fill="#3c3c3c" stroke="#3c3c3c" stroke-width="0.18">LSK</text>
<text x="207.94" y="285.84" font-size="4.3" text-anchor="middle" fill="#3a3a10" fill-opacity="0.8" stroke="#3a3a10" stroke-width="0.18" stroke-opacity="0.8">0.27</text>
<text x="207.94" y="297.09" font-size="4.3" text-anchor="middle" fill="#3a3a10" fill-opacity="0.8" stroke="#3a3a10" stroke-width="0.18" stroke-opacity="0.8">0.27</text>
<text x="207.94" y="308.34" font-size="4.3" text-anchor="middle" fill="#3a3a10" fill-opacity="0.8" stroke="#3a3a10" stroke-width="0.18" stroke-opacity="0.8">0.27</text>
<text transform="translate(210.26,316.20) rotate(-90)" font-size="6.8" text-anchor="end" fill="#3c3c3c" stroke="#3c3c3c" stroke-width="0.18">CD4 T</text>
<text x="219.52" y="285.84" font-size="4.3" text-anchor="middle" fill="#3a3a10" fill-opacity="0.8" stroke="#3a3a10" stroke-width="0.18" stroke-opacity="0.8">0.26</text>
<text x="219.52" y="297.09" font-size="4.3" text-anchor="middle" fill="#3a3a10" fill-opacity="0.8" stroke="#3a3a10" stroke-width="0.18" stroke-opacity="0.8">0.26</text>
<text x="219.52" y="308.34" font-size="4.3" text-anchor="middle" fill="#3a3a10" fill-opacity="0.8" stroke="#3a3a10" stroke-width="0.18" stroke-opacity="0.8">0.26</text>
<text transform="translate(221.83,316.20) rotate(-90)" font-size="6.8" text-anchor="end" fill="#3c3c3c" stroke="#3c3c3c" stroke-width="0.18">CD8 T</text>
<text x="231.09" y="285.84" font-size="4.3" text-anchor="middle" fill="#3a3a10" fill-opacity="0.8" stroke="#3a3a10" stroke-width="0.18" stroke-opacity="0.8">0.31</text>
<text x="231.09" y="297.09" font-size="4.3" text-anchor="middle" fill="#3a3a10" fill-opacity="0.8" stroke="#3a3a10" stroke-width="0.18" stroke-opacity="0.8">0.31</text>
<text x="231.09" y="308.34" font-size="4.3" text-anchor="middle" fill="#3a3a10" fill-opacity="0.8" stroke="#3a3a10" stroke-width="0.18" stroke-opacity="0.8">0.31</text>
<text transform="translate(233.40,316.20) rotate(-90)" font-size="6.8" text-anchor="end" fill="#3c3c3c" stroke="#3c3c3c" stroke-width="0.18">Follicular B</text>
<text x="242.66" y="285.84" font-size="4.3" text-anchor="middle" fill="#3a3a10" fill-opacity="0.8" stroke="#3a3a10" stroke-width="0.18" stroke-opacity="0.8">0.30</text>
<text x="242.66" y="297.09" font-size="4.3" text-anchor="middle" fill="#3a3a10" fill-opacity="0.8" stroke="#3a3a10" stroke-width="0.18" stroke-opacity="0.8">0.31</text>
<text x="242.66" y="308.34" font-size="4.3" text-anchor="middle" fill="#3a3a10" fill-opacity="0.8" stroke="#3a3a10" stroke-width="0.18" stroke-opacity="0.8">0.30</text>
<text transform="translate(244.97,316.20) rotate(-90)" font-size="6.8" text-anchor="end" fill="#3c3c3c" stroke="#3c3c3c" stroke-width="0.18">Marginal zone B</text>
<text x="254.22" y="285.84" font-size="4.3" text-anchor="middle" fill="#3a3a10" fill-opacity="0.8" stroke="#3a3a10" stroke-width="0.18" stroke-opacity="0.8">0.27</text>
<text x="254.22" y="297.09" font-size="4.3" text-anchor="middle" fill="#3a3a10" fill-opacity="0.8" stroke="#3a3a10" stroke-width="0.18" stroke-opacity="0.8">0.29</text>
<text x="254.22" y="308.34" font-size="4.3" text-anchor="middle" fill="#fff" stroke="#fff" stroke-width="0.18">0.22</text>
<text transform="translate(256.54,316.20) rotate(-90)" font-size="6.8" text-anchor="end" fill="#3c3c3c" stroke="#3c3c3c" stroke-width="0.18">Germinal center B</text>
<text x="265.80" y="285.84" font-size="4.3" text-anchor="middle" fill="#3a3a10" fill-opacity="0.8" stroke="#3a3a10" stroke-width="0.18" stroke-opacity="0.8">0.37</text>
<text x="265.80" y="297.09" font-size="4.3" text-anchor="middle" fill="#3a3a10" fill-opacity="0.8" stroke="#3a3a10" stroke-width="0.18" stroke-opacity="0.8">0.38</text>
<text x="265.80" y="308.34" font-size="4.3" text-anchor="middle" fill="#3a3a10" fill-opacity="0.8" stroke="#3a3a10" stroke-width="0.18" stroke-opacity="0.8">0.35</text>
<text transform="translate(268.11,316.20) rotate(-90)" font-size="6.8" text-anchor="end" fill="#3c3c3c" stroke="#3c3c3c" stroke-width="0.18">Megakaryocyte</text>
<text x="277.37" y="285.84" font-size="4.3" text-anchor="middle" fill="#3a3a10" fill-opacity="0.8" stroke="#3a3a10" stroke-width="0.18" stroke-opacity="0.8">0.29</text>
<text x="277.37" y="297.09" font-size="4.3" text-anchor="middle" fill="#3a3a10" fill-opacity="0.8" stroke="#3a3a10" stroke-width="0.18" stroke-opacity="0.8">0.29</text>
<text x="277.37" y="308.34" font-size="4.3" text-anchor="middle" fill="#fff" stroke="#fff" stroke-width="0.18">0.21</text>
<text transform="translate(279.68,316.20) rotate(-90)" font-size="6.8" text-anchor="end" fill="#3c3c3c" stroke="#3c3c3c" stroke-width="0.18">CFU-E</text>
<text x="288.94" y="285.84" font-size="4.3" text-anchor="middle" fill="#fff" stroke="#fff" stroke-width="0.18">0.21</text>
<text x="288.94" y="297.09" font-size="4.3" text-anchor="middle" fill="#fff" stroke="#fff" stroke-width="0.18">0.23</text>
<text x="288.94" y="308.34" font-size="4.3" text-anchor="middle" fill="#fff" stroke="#fff" stroke-width="0.18">0.16</text>
<text transform="translate(291.25,316.20) rotate(-90)" font-size="6.8" text-anchor="end" fill="#3c3c3c" stroke="#3c3c3c" stroke-width="0.18">Erythroblast</text>
<text x="300.50" y="285.84" font-size="4.3" text-anchor="middle" fill="#3a3a10" fill-opacity="0.8" stroke="#3a3a10" stroke-width="0.18" stroke-opacity="0.8">0.27</text>
<text x="300.50" y="297.09" font-size="4.3" text-anchor="middle" fill="#3a3a10" fill-opacity="0.8" stroke="#3a3a10" stroke-width="0.18" stroke-opacity="0.8">0.28</text>
<text x="300.50" y="308.34" font-size="4.3" text-anchor="middle" fill="#fff" stroke="#fff" stroke-width="0.18">0.18</text>
<text transform="translate(302.82,316.20) rotate(-90)" font-size="6.8" text-anchor="end" fill="#3c3c3c" stroke="#3c3c3c" stroke-width="0.18">ESC</text>
<text x="312.07" y="285.84" font-size="4.3" text-anchor="middle" fill="#3a3a10" fill-opacity="0.8" stroke="#3a3a10" stroke-width="0.18" stroke-opacity="0.8">0.38</text>
<text x="312.07" y="297.09" font-size="4.3" text-anchor="middle" fill="#3a3a10" fill-opacity="0.8" stroke="#3a3a10" stroke-width="0.18" stroke-opacity="0.8">0.38</text>
<text x="312.07" y="308.34" font-size="4.3" text-anchor="middle" fill="#3a3a10" fill-opacity="0.8" stroke="#3a3a10" stroke-width="0.18" stroke-opacity="0.8">0.39</text>
<text transform="translate(314.39,316.20) rotate(-90)" font-size="6.8" text-anchor="end" fill="#3c3c3c" stroke="#3c3c3c" stroke-width="0.18">Fibroblast</text>
<text x="323.64" y="285.84" font-size="4.3" text-anchor="middle" fill="#3a3a10" fill-opacity="0.8" stroke="#3a3a10" stroke-width="0.18" stroke-opacity="0.8">0.42</text>
<text x="323.64" y="297.09" font-size="4.3" text-anchor="middle" fill="#3a3a10" fill-opacity="0.8" stroke="#3a3a10" stroke-width="0.18" stroke-opacity="0.8">0.42</text>
<text x="323.64" y="308.34" font-size="4.3" text-anchor="middle" fill="#3a3a10" fill-opacity="0.8" stroke="#3a3a10" stroke-width="0.18" stroke-opacity="0.8">0.40</text>
<text transform="translate(325.96,316.20) rotate(-90)" font-size="6.8" text-anchor="end" fill="#3c3c3c" stroke="#3c3c3c" stroke-width="0.18">Cardiomyocyte</text>
<text x="335.22" y="285.84" font-size="4.3" text-anchor="middle" fill="#3a3a10" fill-opacity="0.8" stroke="#3a3a10" stroke-width="0.18" stroke-opacity="0.8">0.43</text>
<text x="335.22" y="297.09" font-size="4.3" text-anchor="middle" fill="#3a3a10" fill-opacity="0.8" stroke="#3a3a10" stroke-width="0.18" stroke-opacity="0.8">0.42</text>
<text x="335.22" y="308.34" font-size="4.3" text-anchor="middle" fill="#3a3a10" fill-opacity="0.8" stroke="#3a3a10" stroke-width="0.18" stroke-opacity="0.8">0.41</text>
<text transform="translate(337.53,316.20) rotate(-90)" font-size="6.8" text-anchor="end" fill="#3c3c3c" stroke="#3c3c3c" stroke-width="0.18">Adipocyte</text>
<text x="346.79" y="285.84" font-size="4.3" text-anchor="middle" fill="#3a3a10" fill-opacity="0.8" stroke="#3a3a10" stroke-width="0.18" stroke-opacity="0.8">0.41</text>
<text x="346.79" y="297.09" font-size="4.3" text-anchor="middle" fill="#3a3a10" fill-opacity="0.8" stroke="#3a3a10" stroke-width="0.18" stroke-opacity="0.8">0.41</text>
<text x="346.79" y="308.34" font-size="4.3" text-anchor="middle" fill="#3a3a10" fill-opacity="0.8" stroke="#3a3a10" stroke-width="0.18" stroke-opacity="0.8">0.41</text>
<text transform="translate(349.10,316.20) rotate(-90)" font-size="6.8" text-anchor="end" fill="#3c3c3c" stroke="#3c3c3c" stroke-width="0.18">Hepatocyte</text>
<text x="358.36" y="285.84" font-size="4.3" text-anchor="middle" fill="#fff" stroke="#fff" stroke-width="0.18">0.24</text>
<text x="358.36" y="297.09" font-size="4.3" text-anchor="middle" fill="#fff" stroke="#fff" stroke-width="0.18">0.24</text>
<text x="358.36" y="308.34" font-size="4.3" text-anchor="middle" fill="#fff" stroke="#fff" stroke-width="0.18">0.23</text>
<text transform="translate(360.67,316.20) rotate(-90)" font-size="6.8" text-anchor="end" fill="#3c3c3c" stroke="#3c3c3c" stroke-width="0.18">Intestinal epithelial cell</text>
<text x="369.93" y="285.84" font-size="4.3" text-anchor="middle" fill="#fff" stroke="#fff" stroke-width="0.18">0.16</text>
<text x="369.93" y="297.09" font-size="4.3" text-anchor="middle" fill="#fff" stroke="#fff" stroke-width="0.18">0.16</text>
<text x="369.93" y="308.34" font-size="4.3" text-anchor="middle" fill="#fff" stroke="#fff" stroke-width="0.18">0.19</text>
<text transform="translate(372.24,316.20) rotate(-90)" font-size="6.8" text-anchor="end" fill="#3c3c3c" stroke="#3c3c3c" stroke-width="0.18">Intestinal smooth muscle</text>
<text x="381.50" y="285.84" font-size="4.3" text-anchor="middle" fill="#3a3a10" fill-opacity="0.8" stroke="#3a3a10" stroke-width="0.18" stroke-opacity="0.8">0.35</text>
<text x="381.50" y="297.09" font-size="4.3" text-anchor="middle" fill="#3a3a10" fill-opacity="0.8" stroke="#3a3a10" stroke-width="0.18" stroke-opacity="0.8">0.34</text>
<text x="381.50" y="308.34" font-size="4.3" text-anchor="middle" fill="#3a3a10" fill-opacity="0.8" stroke="#3a3a10" stroke-width="0.18" stroke-opacity="0.8">0.36</text>
<text transform="translate(383.81,316.20) rotate(-90)" font-size="6.8" text-anchor="end" fill="#3c3c3c" stroke="#3c3c3c" stroke-width="0.18">Neuron</text>
<text x="393.06" y="285.84" font-size="4.3" text-anchor="middle" fill="#3a3a10" fill-opacity="0.8" stroke="#3a3a10" stroke-width="0.18" stroke-opacity="0.8">0.27</text>
<text x="393.06" y="297.09" font-size="4.3" text-anchor="middle" fill="#3a3a10" fill-opacity="0.8" stroke="#3a3a10" stroke-width="0.18" stroke-opacity="0.8">0.26</text>
<text x="393.06" y="308.34" font-size="4.3" text-anchor="middle" fill="#3a3a10" fill-opacity="0.8" stroke="#3a3a10" stroke-width="0.18" stroke-opacity="0.8">0.26</text>
<text transform="translate(395.38,316.20) rotate(-90)" font-size="6.8" text-anchor="end" fill="#3c3c3c" stroke="#3c3c3c" stroke-width="0.18">Astrocyte</text>
<defs><linearGradient id="gB" x1="0" y1="0" x2="0" y2="1"><stop offset="0.0%" stop-color="#b5121b"/><stop offset="8.5%" stop-color="#ed1c24"/><stop offset="20.0%" stop-color="#f26522"/><stop offset="25.5%" stop-color="#f7941d"/><stop offset="33.0%" stop-color="#fff200"/><stop offset="40.0%" stop-color="#b2d235"/><stop offset="47.0%" stop-color="#30af4b"/><stop offset="57.0%" stop-color="#00a66e"/><stop offset="61.5%" stop-color="#00a9a5"/><stop offset="67.0%" stop-color="#10a8e8"/><stop offset="73.0%" stop-color="#1c75d8"/><stop offset="80.0%" stop-color="#3b3cb2"/><stop offset="88.5%" stop-color="#4a1c8c"/><stop offset="100.0%" stop-color="#3a1874"/></linearGradient></defs>
<rect x="401.1" y="278.2" width="7.699999999999989" height="55.19999999999999" fill="url(#gB)"/>
<line x1="408.80" y1="278.40" x2="410.40" y2="278.40" stroke="#333" stroke-width="0.5" />
<text x="411.80" y="280.58" font-size="6.4" fill="#333" stroke="#333" stroke-width="0.3" >0.5</text>
<line x1="408.80" y1="294.30" x2="410.40" y2="294.30" stroke="#333" stroke-width="0.5" />
<text x="411.80" y="296.48" font-size="6.4" fill="#333" stroke="#333" stroke-width="0.3" >0.4</text>
<line x1="408.80" y1="309.80" x2="410.40" y2="309.80" stroke="#333" stroke-width="0.5" />
<text x="411.80" y="311.98" font-size="6.4" fill="#333" stroke="#333" stroke-width="0.3" >0.3</text>
<line x1="408.80" y1="325.30" x2="410.40" y2="325.30" stroke="#333" stroke-width="0.5" />
<text x="411.80" y="327.48" font-size="6.4" fill="#333" stroke="#333" stroke-width="0.3" >0.2</text>
<text x="215.30" y="402.10" font-size="9.8" textLength="21.10" lengthAdjust="spacingAndGlyphs" fill="#333" >Mouse</text>
<text x="1.40" y="423.80" font-size="12" fill="#0a0a0a" font-weight="bold" stroke="#0a0a0a" stroke-width="0.35">C</text>
<text x="13.25" y="434.97" font-size="5.8" textLength="53.00" lengthAdjust="spacingAndGlyphs" fill="#3a3a3a" stroke="#3a3a3a" stroke-width="0.3" >Pearson's correlation</text>
<text x="79.50" y="434.97" font-size="5.8" textLength="108.70" lengthAdjust="spacingAndGlyphs" fill="#3a3a3a" stroke="#3a3a3a" stroke-width="0.3" >CAGE of mouse vs RNA-seq of Capsaspora</text>
<text transform="translate(8.9,455.2) rotate(-90)" font-size="10.2" stroke="#333" stroke-width="0.12" text-anchor="middle" textLength="35.7" lengthAdjust="spacingAndGlyphs" fill="#333">Capsaspora</text>
<text x="50.00" y="445.34" font-size="6" text-anchor="end" textLength="25.00" lengthAdjust="spacingAndGlyphs" fill="#3a3a3a" stroke="#3a3a3a" stroke-width="0.3" >Filopodial</text>
<text x="50.00" y="455.94" font-size="6" text-anchor="end" textLength="31.00" lengthAdjust="spacingAndGlyphs" fill="#3a3a3a" stroke="#3a3a3a" stroke-width="0.3" >Aggregative</text>
<text x="50.00" y="468.84" font-size="6" text-anchor="end" textLength="14.90" lengthAdjust="spacingAndGlyphs" fill="#3a3a3a" stroke="#3a3a3a" stroke-width="0.3" >Cystic</text>
<rect x="51.75" y="437.50" width="163.80" height="34.26" fill="#13aa60"/>
<rect x="62.67" y="437.50" width="152.88" height="34.26" fill="#f37221"/>
<rect x="73.59" y="437.50" width="141.96" height="34.26" fill="#139ce4"/>
<rect x="84.51" y="437.50" width="131.04" height="34.26" fill="#44299c"/>
<rect x="95.43" y="437.50" width="120.12" height="34.26" fill="#44299c"/>
<rect x="106.35" y="437.50" width="109.20" height="34.26" fill="#44299c"/>
<rect x="117.27" y="437.50" width="98.28" height="34.26" fill="#44299c"/>
<rect x="128.19" y="437.50" width="87.36" height="34.26" fill="#f5831f"/>
<rect x="139.11" y="437.50" width="76.44" height="34.26" fill="#68be41"/>
<rect x="150.03" y="437.50" width="65.52" height="34.26" fill="#faba11"/>
<rect x="160.95" y="437.50" width="54.60" height="34.26" fill="#fee504"/>
<rect x="171.87" y="437.50" width="43.68" height="34.26" fill="#06a9bd"/>
<rect x="182.79" y="437.50" width="32.76" height="34.26" fill="#05a76b"/>
<rect x="193.71" y="437.50" width="21.84" height="34.26" fill="#0da8dc"/>
<rect x="204.63" y="437.50" width="10.92" height="34.26" fill="#f68c1e"/>
<rect x="51.75" y="448.92" width="163.80" height="22.84" fill="#70c040"/>
<rect x="62.67" y="448.92" width="152.88" height="22.84" fill="#ef3f23"/>
<rect x="73.59" y="448.92" width="141.96" height="22.84" fill="#1982dc"/>
<rect x="84.51" y="448.92" width="131.04" height="22.84" fill="#3744b7"/>
<rect x="95.43" y="448.92" width="120.12" height="22.84" fill="#3744b7"/>
<rect x="106.35" y="448.92" width="109.20" height="22.84" fill="#3744b7"/>
<rect x="117.27" y="448.92" width="98.28" height="22.84" fill="#168ee0"/>
<rect x="128.19" y="448.92" width="87.36" height="22.84" fill="#f04223"/>
<rect x="139.11" y="448.92" width="76.44" height="22.84" fill="#feeb02"/>
<rect x="150.03" y="448.92" width="65.52" height="22.84" fill="#f6871e"/>
<rect x="160.95" y="448.92" width="54.60" height="22.84" fill="#fde006"/>
<rect x="171.87" y="448.92" width="43.68" height="22.84" fill="#00a66e"/>
<rect x="182.79" y="448.92" width="32.76" height="22.84" fill="#21ac56"/>
<rect x="193.71" y="448.92" width="21.84" height="22.84" fill="#00a99f"/>
<rect x="204.63" y="448.92" width="10.92" height="22.84" fill="#f15522"/>
<rect x="51.75" y="460.34" width="163.80" height="11.42" fill="#feeb02"/>
<rect x="62.67" y="460.34" width="152.88" height="11.42" fill="#b5121b"/>
<rect x="73.59" y="460.34" width="141.96" height="11.42" fill="#10a8e8"/>
<rect x="84.51" y="460.34" width="131.04" height="11.42" fill="#3744b7"/>
<rect x="95.43" y="460.34" width="120.12" height="11.42" fill="#3744b7"/>
<rect x="106.35" y="460.34" width="109.20" height="11.42" fill="#1a7edb"/>
<rect x="117.27" y="460.34" width="98.28" height="11.42" fill="#451b85"/>
<rect x="128.19" y="460.34" width="87.36" height="11.42" fill="#f04f23"/>
<rect x="139.11" y="460.34" width="76.44" height="11.42" fill="#fee504"/>
<rect x="150.03" y="460.34" width="65.52" height="11.42" fill="#f26522"/>
<rect x="160.95" y="460.34" width="54.60" height="11.42" fill="#f7901d"/>
<rect x="171.87" y="460.34" width="43.68" height="11.42" fill="#1dab59"/>
<rect x="182.79" y="460.34" width="32.76" height="11.42" fill="#55b945"/>
<rect x="193.71" y="460.34" width="21.84" height="11.42" fill="#00a66e"/>
<rect x="204.63" y="460.34" width="10.92" height="11.42" fill="#f15223"/>
<text x="57.21" y="444.64" font-size="4.2" text-anchor="middle" fill="#3a3a10" fill-opacity="0.8" stroke="#3a3a10" stroke-width="0.18" stroke-opacity="0.8">0.06</text>
<text x="57.21" y="456.06" font-size="4.2" text-anchor="middle" fill="#3a3a10" fill-opacity="0.8" stroke="#3a3a10" stroke-width="0.18" stroke-opacity="0.8">0.07</text>
<text x="57.21" y="467.48" font-size="4.2" text-anchor="middle" fill="#3a3a10" fill-opacity="0.8" stroke="#3a3a10" stroke-width="0.18" stroke-opacity="0.8">0.08</text>
<text transform="translate(59.08,476.30) rotate(-90)" font-size="5.5" text-anchor="end" fill="#3a3a3a" stroke="#3a3a3a" stroke-width="0.18">Macrophage</text>
<text x="68.13" y="444.64" font-size="4.2" text-anchor="middle" fill="#3a3a10" fill-opacity="0.8" stroke="#3a3a10" stroke-width="0.18" stroke-opacity="0.8">0.09</text>
<text x="68.13" y="456.06" font-size="4.2" text-anchor="middle" fill="#3a3a10" fill-opacity="0.8" stroke="#3a3a10" stroke-width="0.18" stroke-opacity="0.8">0.11</text>
<text x="68.13" y="467.48" font-size="4.2" text-anchor="middle" fill="#3a3a10" fill-opacity="0.8" stroke="#3a3a10" stroke-width="0.18" stroke-opacity="0.8">0.12</text>
<text transform="translate(70.00,476.30) rotate(-90)" font-size="5.5" text-anchor="end" fill="#3a3a3a" stroke="#3a3a3a" stroke-width="0.18">Microglial cell</text>
<text x="79.05" y="444.64" font-size="4.2" text-anchor="middle" fill="#3a3a10" fill-opacity="0.8" stroke="#3a3a10" stroke-width="0.18" stroke-opacity="0.8">0.04</text>
<text x="79.05" y="456.06" font-size="4.2" text-anchor="middle" fill="#3a3a10" fill-opacity="0.8" stroke="#3a3a10" stroke-width="0.18" stroke-opacity="0.8">0.03</text>
<text x="79.05" y="467.48" font-size="4.2" text-anchor="middle" fill="#3a3a10" fill-opacity="0.8" stroke="#3a3a10" stroke-width="0.18" stroke-opacity="0.8">0.04</text>
<text transform="translate(80.92,476.30) rotate(-90)" font-size="5.5" text-anchor="end" fill="#3a3a3a" stroke="#3a3a3a" stroke-width="0.18">T</text>
<text x="89.97" y="444.64" font-size="4.2" text-anchor="middle" fill="#fff" stroke="#fff" stroke-width="0.18">0.02</text>
<text x="89.97" y="456.06" font-size="4.2" text-anchor="middle" fill="#fff" stroke="#fff" stroke-width="0.18">0.03</text>
<text x="89.97" y="467.48" font-size="4.2" text-anchor="middle" fill="#fff" stroke="#fff" stroke-width="0.18">0.03</text>
<text transform="translate(91.84,476.30) rotate(-90)" font-size="5.5" text-anchor="end" fill="#3a3a3a" stroke="#3a3a3a" stroke-width="0.18">CD4 T</text>
<text x="100.89" y="444.64" font-size="4.2" text-anchor="middle" fill="#fff" stroke="#fff" stroke-width="0.18">0.02</text>
<text x="100.89" y="456.06" font-size="4.2" text-anchor="middle" fill="#fff" stroke="#fff" stroke-width="0.18">0.03</text>
<text x="100.89" y="467.48" font-size="4.2" text-anchor="middle" fill="#fff" stroke="#fff" stroke-width="0.18">0.03</text>
<text transform="translate(102.76,476.30) rotate(-90)" font-size="5.5" text-anchor="end" fill="#3a3a3a" stroke="#3a3a3a" stroke-width="0.18">CD8 T</text>
<text x="111.81" y="444.64" font-size="4.2" text-anchor="middle" fill="#fff" stroke="#fff" stroke-width="0.18">0.02</text>
<text x="111.81" y="456.06" font-size="4.2" text-anchor="middle" fill="#fff" stroke="#fff" stroke-width="0.18">0.03</text>
<text x="111.81" y="467.48" font-size="4.2" text-anchor="middle" fill="#3a3a10" fill-opacity="0.8" stroke="#3a3a10" stroke-width="0.18" stroke-opacity="0.8">0.03</text>
<text transform="translate(113.68,476.30) rotate(-90)" font-size="5.5" text-anchor="end" fill="#3a3a3a" stroke="#3a3a3a" stroke-width="0.18">B</text>
<text x="122.73" y="444.64" font-size="4.2" text-anchor="middle" fill="#fff" stroke="#fff" stroke-width="0.18">0.02</text>
<text x="122.73" y="456.06" font-size="4.2" text-anchor="middle" fill="#3a3a10" fill-opacity="0.8" stroke="#3a3a10" stroke-width="0.18" stroke-opacity="0.8">0.03</text>
<text x="122.73" y="467.48" font-size="4.2" text-anchor="middle" fill="#fff" stroke="#fff" stroke-width="0.18">0.01</text>
<text transform="translate(124.60,476.30) rotate(-90)" font-size="5.5" text-anchor="end" fill="#3a3a3a" stroke="#3a3a3a" stroke-width="0.18">Megakaryocyte</text>
<text x="133.65" y="444.64" font-size="4.2" text-anchor="middle" fill="#3a3a10" fill-opacity="0.8" stroke="#3a3a10" stroke-width="0.18" stroke-opacity="0.8">0.09</text>
<text x="133.65" y="456.06" font-size="4.2" text-anchor="middle" fill="#3a3a10" fill-opacity="0.8" stroke="#3a3a10" stroke-width="0.18" stroke-opacity="0.8">0.11</text>
<text x="133.65" y="467.48" font-size="4.2" text-anchor="middle" fill="#3a3a10" fill-opacity="0.8" stroke="#3a3a10" stroke-width="0.18" stroke-opacity="0.8">0.10</text>
<text transform="translate(135.52,476.30) rotate(-90)" font-size="5.5" text-anchor="end" fill="#3a3a3a" stroke="#3a3a3a" stroke-width="0.18">Fibroblast</text>
<text x="144.57" y="444.64" font-size="4.2" text-anchor="middle" fill="#3a3a10" fill-opacity="0.8" stroke="#3a3a10" stroke-width="0.18" stroke-opacity="0.8">0.07</text>
<text x="144.57" y="456.06" font-size="4.2" text-anchor="middle" fill="#3a3a10" fill-opacity="0.8" stroke="#3a3a10" stroke-width="0.18" stroke-opacity="0.8">0.08</text>
<text x="144.57" y="467.48" font-size="4.2" text-anchor="middle" fill="#3a3a10" fill-opacity="0.8" stroke="#3a3a10" stroke-width="0.18" stroke-opacity="0.8">0.08</text>
<text transform="translate(146.44,476.30) rotate(-90)" font-size="5.5" text-anchor="end" fill="#3a3a3a" stroke="#3a3a3a" stroke-width="0.18">Cardiomyocyte</text>
<text x="155.49" y="444.64" font-size="4.2" text-anchor="middle" fill="#3a3a10" fill-opacity="0.8" stroke="#3a3a10" stroke-width="0.18" stroke-opacity="0.8">0.08</text>
<text x="155.49" y="456.06" font-size="4.2" text-anchor="middle" fill="#3a3a10" fill-opacity="0.8" stroke="#3a3a10" stroke-width="0.18" stroke-opacity="0.8">0.09</text>
<text x="155.49" y="467.48" font-size="4.2" text-anchor="middle" fill="#3a3a10" fill-opacity="0.8" stroke="#3a3a10" stroke-width="0.18" stroke-opacity="0.8">0.10</text>
<text transform="translate(157.36,476.30) rotate(-90)" font-size="5.5" text-anchor="end" fill="#3a3a3a" stroke="#3a3a3a" stroke-width="0.18">Adipocyte</text>
<text x="166.41" y="444.64" font-size="4.2" text-anchor="middle" fill="#3a3a10" fill-opacity="0.8" stroke="#3a3a10" stroke-width="0.18" stroke-opacity="0.8">0.08</text>
<text x="166.41" y="456.06" font-size="4.2" text-anchor="middle" fill="#3a3a10" fill-opacity="0.8" stroke="#3a3a10" stroke-width="0.18" stroke-opacity="0.8">0.08</text>
<text x="166.41" y="467.48" font-size="4.2" text-anchor="middle" fill="#3a3a10" fill-opacity="0.8" stroke="#3a3a10" stroke-width="0.18" stroke-opacity="0.8">0.09</text>
<text transform="translate(168.28,476.30) rotate(-90)" font-size="5.5" text-anchor="end" fill="#3a3a3a" stroke="#3a3a3a" stroke-width="0.18">Hepatocyte</text>
<text x="177.33" y="444.64" font-size="4.2" text-anchor="middle" fill="#3a3a10" fill-opacity="0.8" stroke="#3a3a10" stroke-width="0.18" stroke-opacity="0.8">0.04</text>
<text x="177.33" y="456.06" font-size="4.2" text-anchor="middle" fill="#3a3a10" fill-opacity="0.8" stroke="#3a3a10" stroke-width="0.18" stroke-opacity="0.8">0.05</text>
<text x="177.33" y="467.48" font-size="4.2" text-anchor="middle" fill="#3a3a10" fill-opacity="0.8" stroke="#3a3a10" stroke-width="0.18" stroke-opacity="0.8">0.06</text>
<text transform="translate(179.20,476.30) rotate(-90)" font-size="5.5" text-anchor="end" fill="#3a3a3a" stroke="#3a3a3a" stroke-width="0.18">Enterocyte</text>
<text x="188.25" y="444.64" font-size="4.2" text-anchor="middle" fill="#3a3a10" fill-opacity="0.8" stroke="#3a3a10" stroke-width="0.18" stroke-opacity="0.8">0.05</text>
<text x="188.25" y="456.06" font-size="4.2" text-anchor="middle" fill="#3a3a10" fill-opacity="0.8" stroke="#3a3a10" stroke-width="0.18" stroke-opacity="0.8">0.06</text>
<text x="188.25" y="467.48" font-size="4.2" text-anchor="middle" fill="#3a3a10" fill-opacity="0.8" stroke="#3a3a10" stroke-width="0.18" stroke-opacity="0.8">0.07</text>
<text transform="translate(190.12,476.30) rotate(-90)" font-size="5.5" text-anchor="end" fill="#3a3a3a" stroke="#3a3a3a" stroke-width="0.18">Smooth muscle</text>
<text x="199.17" y="444.64" font-size="4.2" text-anchor="middle" fill="#3a3a10" fill-opacity="0.8" stroke="#3a3a10" stroke-width="0.18" stroke-opacity="0.8">0.04</text>
<text x="199.17" y="456.06" font-size="4.2" text-anchor="middle" fill="#3a3a10" fill-opacity="0.8" stroke="#3a3a10" stroke-width="0.18" stroke-opacity="0.8">0.05</text>
<text x="199.17" y="467.48" font-size="4.2" text-anchor="middle" fill="#3a3a10" fill-opacity="0.8" stroke="#3a3a10" stroke-width="0.18" stroke-opacity="0.8">0.05</text>
<text transform="translate(201.04,476.30) rotate(-90)" font-size="5.5" text-anchor="end" fill="#3a3a3a" stroke="#3a3a3a" stroke-width="0.18">Neuron</text>
<text x="210.09" y="444.64" font-size="4.2" text-anchor="middle" fill="#3a3a10" fill-opacity="0.8" stroke="#3a3a10" stroke-width="0.18" stroke-opacity="0.8">0.09</text>
<text x="210.09" y="456.06" font-size="4.2" text-anchor="middle" fill="#3a3a10" fill-opacity="0.8" stroke="#3a3a10" stroke-width="0.18" stroke-opacity="0.8">0.10</text>
<text x="210.09" y="467.48" font-size="4.2" text-anchor="middle" fill="#3a3a10" fill-opacity="0.8" stroke="#3a3a10" stroke-width="0.18" stroke-opacity="0.8">0.10</text>
<text transform="translate(211.96,476.30) rotate(-90)" font-size="5.5" text-anchor="end" fill="#3a3a3a" stroke="#3a3a3a" stroke-width="0.18">Astrocyte</text>
<defs><linearGradient id="gC" x1="0" y1="0" x2="0" y2="1"><stop offset="0.0%" stop-color="#b5121b"/><stop offset="8.5%" stop-color="#ed1c24"/><stop offset="20.0%" stop-color="#f26522"/><stop offset="25.5%" stop-color="#f7941d"/><stop offset="33.0%" stop-color="#fff200"/><stop offset="40.0%" stop-color="#b2d235"/><stop offset="47.0%" stop-color="#30af4b"/><stop offset="57.0%" stop-color="#00a66e"/><stop offset="61.5%" stop-color="#00a9a5"/><stop offset="67.0%" stop-color="#10a8e8"/><stop offset="73.0%" stop-color="#1c75d8"/><stop offset="80.0%" stop-color="#3b3cb2"/><stop offset="88.5%" stop-color="#4a1c8c"/><stop offset="100.0%" stop-color="#3a1874"/></linearGradient></defs>
<rect x="220" y="436.8" width="6.800000000000011" height="43.19999999999999" fill="url(#gC)"/>
<line x1="226.80" y1="443.00" x2="228.40" y2="443.00" stroke="#333" stroke-width="0.5" />
<text x="230.40" y="444.90" font-size="5.6" fill="#333" stroke="#333" stroke-width="0.3" >0.10</text>
<line x1="226.80" y1="462.00" x2="228.40" y2="462.00" stroke="#333" stroke-width="0.5" />
<text x="230.40" y="463.90" font-size="5.6" fill="#333" stroke="#333" stroke-width="0.3" >0.05</text>
<line x1="226.80" y1="480.20" x2="228.40" y2="480.20" stroke="#333" stroke-width="0.5" />
<text x="230.40" y="482.10" font-size="5.6" fill="#333" stroke="#333" stroke-width="0.3" >0.00</text>
<text x="133.00" y="523.79" font-size="8.2" text-anchor="middle" textLength="18.80" lengthAdjust="spacingAndGlyphs" fill="#333" stroke="#333" stroke-width="0.3" >Mouse</text>
<text x="430.30" y="262.90" font-size="12" fill="#0a0a0a" font-weight="bold" stroke="#0a0a0a" stroke-width="0.35">E</text>
<text x="468.00" y="275.35" font-size="6.9" text-anchor="middle" textLength="72.00" lengthAdjust="spacingAndGlyphs" fill="#3a3a3a" stroke="#3a3a3a" stroke-width="0.3" >Highly expressed genes</text>
<text x="468.00" y="283.25" font-size="6.9" text-anchor="middle" textLength="50.00" lengthAdjust="spacingAndGlyphs" fill="#3a3a3a" stroke="#3a3a3a" stroke-width="0.3" >in Capsaspora +</text>
<text x="468.00" y="291.35" font-size="6.9" text-anchor="middle" textLength="62.50" lengthAdjust="spacingAndGlyphs" fill="#3a3a3a" stroke="#3a3a3a" stroke-width="0.3" >mouse macrophages</text>
<text x="468.00" y="299.15" font-size="6.9" text-anchor="middle" textLength="42.50" lengthAdjust="spacingAndGlyphs" fill="#3a3a3a" stroke="#3a3a3a" stroke-width="0.3" >vs mouse ESC</text>
<line x1="431.00" y1="303.60" x2="504.80" y2="303.60" stroke="#222" stroke-width="0.9" />
<circle cx="455.5" cy="329" r="17.6" fill="#efc1b4"/>
<circle cx="481.9" cy="329.5" r="22.6" fill="#bea1c8"/>
<clipPath id="clipE"><circle cx="455.5" cy="329" r="17.6"/></clipPath>
<circle cx="481.9" cy="329.5" r="22.6" fill="#b97a89" clip-path="url(#clipE)"/>
<text x="450.80" y="331.81" font-size="6.2" text-anchor="middle" fill="#3a3a3a" stroke="#3a3a3a" stroke-width="0.3" >224</text>
<text x="466.00" y="331.81" font-size="6.2" text-anchor="middle" fill="#3a3a3a" stroke="#3a3a3a" stroke-width="0.3" >101</text>
<text x="484.40" y="331.81" font-size="6.2" text-anchor="middle" fill="#3a3a3a" stroke="#3a3a3a" stroke-width="0.3" >444</text>
<text x="448.60" y="358.35" font-size="6.9" text-anchor="middle" textLength="17.00" lengthAdjust="spacingAndGlyphs" fill="#3a3a3a" stroke="#3a3a3a" stroke-width="0.3" >Up in</text>
<text x="448.60" y="367.15" font-size="6.9" text-anchor="middle" textLength="35.50" lengthAdjust="spacingAndGlyphs" fill="#3a3a3a" stroke="#3a3a3a" stroke-width="0.3" >Capsaspora</text>
<text x="448.60" y="374.75" font-size="6.9" text-anchor="middle" textLength="30.00" lengthAdjust="spacingAndGlyphs" fill="#3a3a3a" stroke="#3a3a3a" stroke-width="0.3" >filopodial</text>
<text x="488.90" y="358.35" font-size="6.9" text-anchor="middle" textLength="17.00" lengthAdjust="spacingAndGlyphs" fill="#3a3a3a" stroke="#3a3a3a" stroke-width="0.3" >Up in</text>
<text x="488.90" y="367.15" font-size="6.9" text-anchor="middle" textLength="21.00" lengthAdjust="spacingAndGlyphs" fill="#3a3a3a" stroke="#3a3a3a" stroke-width="0.3" >mouse</text>
<text x="488.90" y="374.75" font-size="6.9" text-anchor="middle" textLength="38.00" lengthAdjust="spacingAndGlyphs" fill="#3a3a3a" stroke="#3a3a3a" stroke-width="0.3" >macrophage</text>
<text x="253.90" y="424.00" font-size="12" fill="#0a0a0a" font-weight="bold" stroke="#0a0a0a" stroke-width="0.35">F</text>
<text x="394.40" y="421.55" font-size="6.9" text-anchor="middle" textLength="146.00" lengthAdjust="spacingAndGlyphs" fill="#3a3a3a" stroke="#3a3a3a" stroke-width="0.3" >Frequency of genes shared by each lineage cells</text>
<text x="393.50" y="430.05" font-size="6.9" text-anchor="middle" textLength="137.00" lengthAdjust="spacingAndGlyphs" fill="#3a3a3a" stroke="#3a3a3a" stroke-width="0.3" >among highly expressed genes in Capsaspora</text>
<line x1="273.70" y1="434.20" x2="273.70" y2="494.00" stroke="#111" stroke-width="1.2" />
<line x1="273.10" y1="493.50" x2="514.00" y2="493.50" stroke="#111" stroke-width="1.4" />
<line x1="270.30" y1="493.40" x2="273.70" y2="493.40" stroke="#222" stroke-width="0.9" />
<text x="266.80" y="495.84" font-size="6.6" text-anchor="end" fill="#333" stroke="#333" stroke-width="0.3" >0%</text>
<line x1="270.30" y1="482.20" x2="273.70" y2="482.20" stroke="#222" stroke-width="0.9" />
<text x="266.80" y="484.64" font-size="6.6" text-anchor="end" fill="#333" stroke="#333" stroke-width="0.3" >10%</text>
<line x1="270.30" y1="471.00" x2="273.70" y2="471.00" stroke="#222" stroke-width="0.9" />
<text x="266.80" y="473.44" font-size="6.6" text-anchor="end" fill="#333" stroke="#333" stroke-width="0.3" >20%</text>
<line x1="270.30" y1="459.80" x2="273.70" y2="459.80" stroke="#222" stroke-width="0.9" />
<text x="266.80" y="462.24" font-size="6.6" text-anchor="end" fill="#333" stroke="#333" stroke-width="0.3" >30%</text>
<line x1="270.30" y1="448.60" x2="273.70" y2="448.60" stroke="#222" stroke-width="0.9" />
<text x="266.80" y="451.04" font-size="6.6" text-anchor="end" fill="#333" stroke="#333" stroke-width="0.3" >40%</text>
<line x1="270.30" y1="437.40" x2="273.70" y2="437.40" stroke="#222" stroke-width="0.9" />
<text x="266.80" y="439.84" font-size="6.6" text-anchor="end" fill="#333" stroke="#333" stroke-width="0.3" >50%</text>
<rect x="276.00" y="459.13" width="7.00" height="34.07" fill="#4a1f6f" />
<text transform="translate(281.78,496.30) rotate(-90)" font-size="6.7" text-anchor="end" fill="#3c3c3c" stroke="#3c3c3c" stroke-width="0.18">Macrophage</text>
<rect x="287.44" y="461.03" width="7.00" height="32.17" fill="#6b2d91" />
<text transform="translate(293.22,496.30) rotate(-90)" font-size="6.7" text-anchor="end" fill="#3c3c3c" stroke="#3c3c3c" stroke-width="0.18">Monocyte BM</text>
<rect x="298.88" y="461.03" width="7.00" height="32.17" fill="#7a2f9c" />
<text transform="translate(304.66,496.30) rotate(-90)" font-size="6.7" text-anchor="end" fill="#3c3c3c" stroke="#3c3c3c" stroke-width="0.18">Monocyte PB</text>
<rect x="310.32" y="464.06" width="7.00" height="29.14" fill="#97309f" />
<text transform="translate(316.10,496.30) rotate(-90)" font-size="6.7" text-anchor="end" fill="#3c3c3c" stroke="#3c3c3c" stroke-width="0.18">Neutrophil BM</text>
<rect x="321.76" y="461.37" width="7.00" height="31.83" fill="#8a3ca6" />
<text transform="translate(327.54,496.30) rotate(-90)" font-size="6.7" text-anchor="end" fill="#3c3c3c" stroke="#3c3c3c" stroke-width="0.18">Neutrophil PB</text>
<rect x="333.20" y="459.91" width="7.00" height="33.29" fill="#9e9e9e" />
<text transform="translate(338.98,496.30) rotate(-90)" font-size="6.7" text-anchor="end" fill="#3c3c3c" stroke="#3c3c3c" stroke-width="0.18">LSK</text>
<rect x="344.64" y="467.53" width="7.00" height="25.67" fill="#1e74c4" />
<text transform="translate(350.42,496.30) rotate(-90)" font-size="6.7" text-anchor="end" fill="#3c3c3c" stroke="#3c3c3c" stroke-width="0.18">CD4 T</text>
<rect x="356.08" y="467.53" width="7.00" height="25.67" fill="#1e74c4" />
<text transform="translate(361.86,496.30) rotate(-90)" font-size="6.7" text-anchor="end" fill="#3c3c3c" stroke="#3c3c3c" stroke-width="0.18">CD8 T</text>
<rect x="367.52" y="465.40" width="7.00" height="27.80" fill="#d5661c" />
<text transform="translate(373.30,496.30) rotate(-90)" font-size="6.7" text-anchor="end" fill="#3c3c3c" stroke="#3c3c3c" stroke-width="0.18">Follicular B</text>
<rect x="378.96" y="460.70" width="7.00" height="32.50" fill="#d9671c" />
<text transform="translate(384.74,496.30) rotate(-90)" font-size="6.7" text-anchor="end" fill="#3c3c3c" stroke="#3c3c3c" stroke-width="0.18">Marginal zone B</text>
<rect x="390.40" y="466.18" width="7.00" height="27.02" fill="#c95b18" />
<text transform="translate(396.18,496.30) rotate(-90)" font-size="6.7" text-anchor="end" fill="#3c3c3c" stroke="#3c3c3c" stroke-width="0.18">Germinal center B</text>
<rect x="401.84" y="460.70" width="7.00" height="32.50" fill="#b98a10" />
<text transform="translate(407.62,496.30) rotate(-90)" font-size="6.7" text-anchor="end" fill="#3c3c3c" stroke="#3c3c3c" stroke-width="0.18">Megakaryocyte</text>
<rect x="413.28" y="470.78" width="7.00" height="22.42" fill="#e8444b" />
<text transform="translate(419.06,496.30) rotate(-90)" font-size="6.7" text-anchor="end" fill="#3c3c3c" stroke="#3c3c3c" stroke-width="0.18">CFU-E</text>
<rect x="424.72" y="474.25" width="7.00" height="18.95" fill="#e8444b" />
<text transform="translate(430.50,496.30) rotate(-90)" font-size="6.7" text-anchor="end" fill="#3c3c3c" stroke="#3c3c3c" stroke-width="0.18">Erythroblast</text>
<rect x="436.16" y="459.24" width="7.00" height="33.96" fill="#fcd684" />
<text transform="translate(441.94,496.30) rotate(-90)" font-size="6.7" text-anchor="end" fill="#3c3c3c" stroke="#3c3c3c" stroke-width="0.18">Fibroblast</text>
<rect x="447.60" y="464.84" width="7.00" height="28.36" fill="#f9b436" />
<text transform="translate(453.38,496.30) rotate(-90)" font-size="6.7" text-anchor="end" fill="#3c3c3c" stroke="#3c3c3c" stroke-width="0.18">Cardiomyocyte</text>
<rect x="459.04" y="453.08" width="7.00" height="40.12" fill="#b5a51c" />
<text transform="translate(464.82,496.30) rotate(-90)" font-size="6.7" text-anchor="end" fill="#3c3c3c" stroke="#3c3c3c" stroke-width="0.18">Adipocyte</text>
<rect x="470.48" y="440.31" width="7.00" height="52.89" fill="#8f8b16" />
<text transform="translate(476.26,496.30) rotate(-90)" font-size="6.7" text-anchor="end" fill="#3c3c3c" stroke="#3c3c3c" stroke-width="0.18">Hepatocyte</text>
<rect x="481.92" y="461.82" width="7.00" height="31.38" fill="#fde7a4" />
<text transform="translate(487.70,496.30) rotate(-90)" font-size="6.7" text-anchor="end" fill="#3c3c3c" stroke="#3c3c3c" stroke-width="0.18">Intestinal epithelial cell</text>
<rect x="493.36" y="458.57" width="7.00" height="34.63" fill="#fcd88c" />
<text transform="translate(499.14,496.30) rotate(-90)" font-size="6.7" text-anchor="end" fill="#3c3c3c" stroke="#3c3c3c" stroke-width="0.18">Intestinal smooth muscle</text>
<rect x="504.80" y="462.26" width="7.00" height="30.94" fill="#f58b3c" />
<text transform="translate(510.58,496.30) rotate(-90)" font-size="6.7" text-anchor="end" fill="#3c3c3c" stroke="#3c3c3c" stroke-width="0.18">Neuron</text>
<text x="348.14" y="467.00" font-size="5" text-anchor="middle" fill="#444" stroke="#444" stroke-width="0.3" >*</text>
<text x="359.58" y="467.00" font-size="5" text-anchor="middle" fill="#444" stroke="#444" stroke-width="0.3" >*</text>
<text x="372.52" y="462.33" font-size="4.2" text-anchor="middle" fill="#444" >P = .12</text>
<text x="392.90" y="464.43" font-size="4.2" text-anchor="middle" fill="#444" >P = .16</text>
<text x="416.78" y="470.30" font-size="5" text-anchor="middle" fill="#444" stroke="#444" stroke-width="0.3" >**</text>
<text x="428.22" y="473.76" font-size="4.6" text-anchor="middle" fill="#444" >****</text>
<text x="473.98" y="440.16" font-size="4.6" text-anchor="middle" fill="#444" >****</text>
<text x="3.40" y="555.30" font-size="12" fill="#0a0a0a" font-weight="bold" stroke="#0a0a0a" stroke-width="0.35">G</text>
<text x="63.80" y="564.84" font-size="6.6" text-anchor="middle" textLength="38.00" lengthAdjust="spacingAndGlyphs" fill="#3a3a3a" stroke="#3a3a3a" stroke-width="0.3" >Frequency of</text>
<text x="63.80" y="573.54" font-size="6.6" text-anchor="middle" textLength="76.00" lengthAdjust="spacingAndGlyphs" fill="#3a3a3a" stroke="#3a3a3a" stroke-width="0.3" >phagocytosis &amp; lysosome</text>
<text x="63.80" y="581.54" font-size="6.6" text-anchor="middle" textLength="41.00" lengthAdjust="spacingAndGlyphs" fill="#3a3a3a" stroke="#3a3a3a" stroke-width="0.3" >related genes</text>
<line x1="27.70" y1="591.00" x2="27.70" y2="667.00" stroke="#111" stroke-width="1.2" />
<line x1="27.10" y1="666.50" x2="100.00" y2="666.50" stroke="#111" stroke-width="1.3" />
<line x1="24.20" y1="666.20" x2="27.50" y2="666.20" stroke="#222" stroke-width="0.9" />
<text x="21.20" y="668.74" font-size="6.6" text-anchor="end" textLength="8.60" lengthAdjust="spacingAndGlyphs" fill="#333" stroke="#333" stroke-width="0.3" >0%</text>
<line x1="24.20" y1="655.92" x2="27.50" y2="655.92" stroke="#222" stroke-width="0.9" />
<text x="21.20" y="658.46" font-size="6.6" text-anchor="end" textLength="8.60" lengthAdjust="spacingAndGlyphs" fill="#333" stroke="#333" stroke-width="0.3" >1%</text>
<line x1="24.20" y1="645.64" x2="27.50" y2="645.64" stroke="#222" stroke-width="0.9" />
<text x="21.20" y="648.18" font-size="6.6" text-anchor="end" textLength="8.60" lengthAdjust="spacingAndGlyphs" fill="#333" stroke="#333" stroke-width="0.3" >2%</text>
<line x1="24.20" y1="635.36" x2="27.50" y2="635.36" stroke="#222" stroke-width="0.9" />
<text x="21.20" y="637.90" font-size="6.6" text-anchor="end" textLength="8.60" lengthAdjust="spacingAndGlyphs" fill="#333" stroke="#333" stroke-width="0.3" >3%</text>
<line x1="24.20" y1="625.08" x2="27.50" y2="625.08" stroke="#222" stroke-width="0.9" />
<text x="21.20" y="627.62" font-size="6.6" text-anchor="end" textLength="8.60" lengthAdjust="spacingAndGlyphs" fill="#333" stroke="#333" stroke-width="0.3" >4%</text>
<line x1="24.20" y1="614.80" x2="27.50" y2="614.80" stroke="#222" stroke-width="0.9" />
<text x="21.20" y="617.34" font-size="6.6" text-anchor="end" textLength="8.60" lengthAdjust="spacingAndGlyphs" fill="#333" stroke="#333" stroke-width="0.3" >5%</text>
<line x1="24.20" y1="604.52" x2="27.50" y2="604.52" stroke="#222" stroke-width="0.9" />
<text x="21.20" y="607.06" font-size="6.6" text-anchor="end" textLength="8.60" lengthAdjust="spacingAndGlyphs" fill="#333" stroke="#333" stroke-width="0.3" >6%</text>
<line x1="24.20" y1="594.24" x2="27.50" y2="594.24" stroke="#222" stroke-width="0.9" />
<text x="21.20" y="596.78" font-size="6.6" text-anchor="end" textLength="8.60" lengthAdjust="spacingAndGlyphs" fill="#333" stroke="#333" stroke-width="0.3" >7%</text>
<rect x="38.80" y="625.29" width="14.20" height="40.61" fill="#f7941d" />
<rect x="38.80" y="599.89" width="14.20" height="25.39" fill="#c8102e" />
<rect x="75.00" y="650.78" width="14.20" height="15.12" fill="#c9c9c9" />
<rect x="75.00" y="645.02" width="14.20" height="5.76" fill="#3f4b5c" />
<line x1="39.70" y1="595.90" x2="85.80" y2="595.90" stroke="#4a4a4a" stroke-width="1.2" />
<text x="62.60" y="597.66" font-size="9" text-anchor="middle" fill="#333" font-weight="bold" >**</text>
<text x="44.10" y="675.21" font-size="6.8" text-anchor="middle" textLength="15.90" lengthAdjust="spacingAndGlyphs" fill="#3a3a3a" stroke="#3a3a3a" stroke-width="0.3" >Up in</text>
<text x="44.10" y="683.71" font-size="6.8" text-anchor="middle" textLength="35.00" lengthAdjust="spacingAndGlyphs" fill="#3a3a3a" stroke="#3a3a3a" stroke-width="0.3" >Capsaspora</text>
<text x="44.10" y="691.21" font-size="6.8" text-anchor="middle" textLength="27.70" lengthAdjust="spacingAndGlyphs" fill="#3a3a3a" stroke="#3a3a3a" stroke-width="0.3" >filopodial</text>
<text x="82.70" y="675.21" font-size="6.8" text-anchor="middle" textLength="25.40" lengthAdjust="spacingAndGlyphs" fill="#3a3a3a" stroke="#3a3a3a" stroke-width="0.3" >Down in</text>
<text x="82.70" y="683.71" font-size="6.8" text-anchor="middle" textLength="35.30" lengthAdjust="spacingAndGlyphs" fill="#3a3a3a" stroke="#3a3a3a" stroke-width="0.3" >Capsaspora</text>
<text x="82.70" y="691.21" font-size="6.8" text-anchor="middle" textLength="23.70" lengthAdjust="spacingAndGlyphs" fill="#3a3a3a" stroke="#3a3a3a" stroke-width="0.3" >filopoial</text>
<defs><filter id="bl1" x="-20%" y="-20%" width="140%" height="140%"><feGaussianBlur stdDeviation="0.7"/></filter><filter id="bl2" x="-20%" y="-20%" width="140%" height="140%"><feGaussianBlur stdDeviation="0.45"/></filter><filter id="bl3" x="-30%" y="-30%" width="160%" height="160%"><feGaussianBlur stdDeviation="1.1"/></filter><radialGradient id="nuc" cx="50%" cy="50%" r="50%"><stop offset="0" stop-color="#8a2fa6"/><stop offset="0.75" stop-color="#8f3bab"/><stop offset="1" stop-color="#9a55b5"/></radialGradient><radialGradient id="capc" cx="50%" cy="50%" r="50%"><stop offset="0" stop-color="#7f5cba"/><stop offset="0.6" stop-color="#7753b3"/><stop offset="0.85" stop-color="#9a7cc4"/><stop offset="1" stop-color="#c8b0d2" stop-opacity="0.6"/></radialGradient></defs>
<text x="133.60" y="583.30" font-size="11.6" fill="#0a0a0a" font-weight="bold" stroke="#0a0a0a" stroke-width="0.35">H</text>
<text x="164.80" y="594.54" font-size="6.6" text-anchor="middle" textLength="20.50" lengthAdjust="spacingAndGlyphs" fill="#3a3a3a" stroke="#3a3a3a" stroke-width="0.3" >Mouse</text>
<text x="232.80" y="594.54" font-size="6.6" text-anchor="middle" textLength="35.50" lengthAdjust="spacingAndGlyphs" fill="#3a3a3a" stroke="#3a3a3a" stroke-width="0.3" >Capsaspora</text>
<rect x="134.00" y="599.80" width="61.70" height="66.90" fill="#d7d4c4" />
<clipPath id="cH1"><rect x="134" y="599.8" width="61.7" height="66.9"/></clipPath>
<g clip-path="url(#cH1)">
<circle cx="148.7" cy="636.2" r="0.46" fill="#b9b29c" opacity="0.55"/>
<circle cx="171.3" cy="641.7" r="0.37" fill="#b9b29c" opacity="0.55"/>
<circle cx="134.8" cy="655.8" r="0.43" fill="#b9b29c" opacity="0.55"/>
<circle cx="148.5" cy="666.4" r="0.49" fill="#b9b29c" opacity="0.55"/>
<circle cx="185.6" cy="631.7" r="0.54" fill="#b9b29c" opacity="0.55"/>
<circle cx="143.3" cy="642.3" r="0.61" fill="#b9b29c" opacity="0.55"/>
<circle cx="166.3" cy="649.4" r="0.55" fill="#b9b29c" opacity="0.55"/>
<circle cx="138.0" cy="650.5" r="0.53" fill="#b9b29c" opacity="0.55"/>
<circle cx="152.6" cy="601.9" r="0.61" fill="#b9b29c" opacity="0.55"/>
<circle cx="163.2" cy="647.9" r="0.61" fill="#b9b29c" opacity="0.55"/>
<circle cx="178.1" cy="661.4" r="0.47" fill="#b9b29c" opacity="0.55"/>
<circle cx="183.4" cy="629.5" r="0.63" fill="#b9b29c" opacity="0.55"/>
<circle cx="188.2" cy="606.3" r="0.39" fill="#b9b29c" opacity="0.55"/>
<circle cx="147.4" cy="664.4" r="0.48" fill="#b9b29c" opacity="0.55"/>
<circle cx="172.7" cy="619.9" r="0.50" fill="#b9b29c" opacity="0.55"/>
<circle cx="157.8" cy="623.3" r="0.53" fill="#b9b29c" opacity="0.55"/>
<circle cx="170.0" cy="660.3" r="0.55" fill="#b9b29c" opacity="0.55"/>
<circle cx="191.3" cy="657.1" r="0.65" fill="#b9b29c" opacity="0.55"/>
<circle cx="175.4" cy="610.7" r="0.61" fill="#b9b29c" opacity="0.55"/>
<circle cx="193.5" cy="660.3" r="0.52" fill="#b9b29c" opacity="0.55"/>
<circle cx="178.0" cy="613.9" r="0.60" fill="#b9b29c" opacity="0.55"/>
<circle cx="169.4" cy="618.9" r="0.37" fill="#b9b29c" opacity="0.55"/>
<circle cx="186.7" cy="666.0" r="0.38" fill="#b9b29c" opacity="0.55"/>
<circle cx="183.4" cy="627.3" r="0.40" fill="#b9b29c" opacity="0.55"/>
<circle cx="152.1" cy="651.2" r="0.61" fill="#b9b29c" opacity="0.55"/>
<circle cx="136.7" cy="640.9" r="0.36" fill="#b9b29c" opacity="0.55"/>
<g filter="url(#bl2)">
<circle cx="163.6" cy="633.7" r="19.4" fill="#a078c2"/>
<circle cx="163.6" cy="633.7" r="18.0" fill="#bfa6d0"/>
<circle cx="150.2" cy="624.6" r="3.0" fill="#e6dde6" stroke="#a27cc2" stroke-width="0.7"/>
<circle cx="147.9" cy="631.2" r="2.7" fill="#e6dde6" stroke="#a27cc2" stroke-width="0.7"/>
<circle cx="148.4" cy="638.0" r="2.8" fill="#e6dde6" stroke="#a27cc2" stroke-width="0.7"/>
<circle cx="151.4" cy="644.0" r="2.9" fill="#e6dde6" stroke="#a27cc2" stroke-width="0.7"/>
<circle cx="156.4" cy="648.2" r="2.8" fill="#e6dde6" stroke="#a27cc2" stroke-width="0.7"/>
<circle cx="162.2" cy="648.0" r="3.8" fill="#e6dde6" stroke="#a27cc2" stroke-width="0.7"/>
<circle cx="169.0" cy="650.0" r="2.5" fill="#e6dde6" stroke="#a27cc2" stroke-width="0.7"/>
<circle cx="174.4" cy="647.6" r="2.5" fill="#e6dde6" stroke="#a27cc2" stroke-width="0.7"/>
<circle cx="178.4" cy="643.4" r="2.3" fill="#e6dde6" stroke="#a27cc2" stroke-width="0.7"/>
<circle cx="155.2" cy="619.2" r="2.9" fill="#e6dde6" stroke="#a27cc2" stroke-width="0.7"/>
<circle cx="161.2" cy="616.8" r="2.6" fill="#e6dde6" stroke="#a27cc2" stroke-width="0.7"/>
<circle cx="167.2" cy="616.2" r="2.4" fill="#e6dde6" stroke="#a27cc2" stroke-width="0.7"/>
<circle cx="172.8" cy="617.8" r="2.3" fill="#e6dde6" stroke="#a27cc2" stroke-width="0.7"/>
<circle cx="177.4" cy="621.2" r="2.2" fill="#e6dde6" stroke="#a27cc2" stroke-width="0.7"/>
<circle cx="180.4" cy="626.0" r="2.0" fill="#e6dde6" stroke="#a27cc2" stroke-width="0.7"/>
<circle cx="181.4" cy="632" r="1.8" fill="#e6dde6" stroke="#a27cc2" stroke-width="0.7"/>
<circle cx="180.8" cy="638.2" r="2.0" fill="#e6dde6" stroke="#a27cc2" stroke-width="0.7"/>
<circle cx="153.2" cy="629.0" r="2.2" fill="#e6dde6" stroke="#a27cc2" stroke-width="0.7"/>
<circle cx="152.8" cy="635.2" r="2.3" fill="#e6dde6" stroke="#a27cc2" stroke-width="0.7"/>
<circle cx="155.0" cy="641.2" r="2.2" fill="#e6dde6" stroke="#a27cc2" stroke-width="0.7"/>
<circle cx="158.4" cy="624.0" r="2.2" fill="#e6dde6" stroke="#a27cc2" stroke-width="0.7"/>
<circle cx="158.0" cy="644.6" r="1.7" fill="#e6dde6" stroke="#a27cc2" stroke-width="0.7"/>
<path d="M157.4,633 C157,627 161,622.6 166.4,622.4 C172,622.2 177.6,626 178,632.4 C178.4,639 174,644.6 168,644.8 C162,645 157.8,640 157.4,633 Z" fill="#9a4db2"/>
<circle cx="163.0" cy="629.1" r="2.0" fill="#b98acb" opacity="0.6"/>
<circle cx="173.5" cy="631.2" r="2.2" fill="#8327a0" opacity="0.6"/>
<circle cx="171.5" cy="634.2" r="2.2" fill="#8327a0" opacity="0.6"/>
<circle cx="163.0" cy="627.3" r="1.1" fill="#b98acb" opacity="0.6"/>
<circle cx="165.5" cy="633.9" r="1.7" fill="#8327a0" opacity="0.6"/>
<circle cx="167.5" cy="633.4" r="1.2" fill="#8327a0" opacity="0.6"/>
<circle cx="166.2" cy="641.2" r="2.0" fill="#b98acb" opacity="0.6"/>
<circle cx="171.3" cy="639.3" r="1.1" fill="#8327a0" opacity="0.6"/>
<circle cx="166.8" cy="632.8" r="0.9" fill="#8327a0" opacity="0.6"/>
<circle cx="168.8" cy="632.2" r="1.2" fill="#b98acb" opacity="0.6"/>
<circle cx="175.1" cy="632.6" r="1.3" fill="#8327a0" opacity="0.6"/>
<circle cx="172.1" cy="632.4" r="1.8" fill="#8327a0" opacity="0.6"/>
<circle cx="169.9" cy="641.3" r="1.9" fill="#b98acb" opacity="0.6"/>
<circle cx="175.1" cy="631.9" r="1.3" fill="#8327a0" opacity="0.6"/>
<circle cx="166.7" cy="634.6" r="1.1" fill="#8327a0" opacity="0.6"/>
<circle cx="170.0" cy="634.5" r="1.7" fill="#b98acb" opacity="0.6"/>
<circle cx="173.4" cy="633.6" r="1.4" fill="#8327a0" opacity="0.6"/>
<circle cx="165.0" cy="640.0" r="1.6" fill="#8327a0" opacity="0.6"/>
<circle cx="165.9" cy="637.3" r="1.9" fill="#b98acb" opacity="0.6"/>
<circle cx="175.5" cy="636.4" r="0.9" fill="#8327a0" opacity="0.6"/>
<circle cx="167.6" cy="626.2" r="0.9" fill="#8327a0" opacity="0.6"/>
<circle cx="168.3" cy="630.4" r="1.7" fill="#b98acb" opacity="0.6"/>
<circle cx="168.0" cy="633.5" r="1.2" fill="#8327a0" opacity="0.6"/>
<circle cx="169.2" cy="633.0" r="2.0" fill="#8327a0" opacity="0.6"/>
<circle cx="174.9" cy="630.0" r="1.4" fill="#b98acb" opacity="0.6"/>
<circle cx="164.8" cy="637.1" r="2.0" fill="#8327a0" opacity="0.6"/>
<circle cx="172.6" cy="637.5" r="2.0" fill="#8327a0" opacity="0.6"/>
<circle cx="167.8" cy="633.3" r="2.2" fill="#b98acb" opacity="0.6"/>
<circle cx="170.1" cy="635.1" r="1.8" fill="#8327a0" opacity="0.6"/>
<circle cx="170.1" cy="632.1" r="2.2" fill="#8327a0" opacity="0.6"/>
</g>
<circle cx="163.6" cy="633.7" r="19.1" fill="none" stroke="#9668ba" stroke-width="0.8" filter="url(#bl2)"/>
</g>
<rect x="156.00" y="657.60" width="17.70" height="2.70" fill="#0a0a0a" />
<text x="164.70" y="675.98" font-size="6.4" text-anchor="middle" textLength="17.50" lengthAdjust="spacingAndGlyphs" fill="#3a3a3a" stroke="#3a3a3a" stroke-width="0.3" >10µm</text>
<rect x="199.50" y="599.80" width="67.30" height="66.90" fill="#cdcfc8" />
<g filter="url(#bl1)">
<circle cx="211" cy="609.6" r="6.8" fill="#c7b4d4" opacity="0.7"/>
<circle cx="211" cy="609.6" r="5.3" fill="#7a5cb8"/>
<circle cx="211" cy="609.6" r="3.4" fill="#9a84c8"/>
<circle cx="209.5" cy="610.1" r="0.85" fill="#d6cbe6" opacity="0.9"/>
<circle cx="212.3" cy="608.9" r="0.85" fill="#d6cbe6" opacity="0.9"/>
<circle cx="209.3" cy="609.5" r="0.85" fill="#d6cbe6" opacity="0.9"/>
<circle cx="211.6" cy="611.0" r="0.85" fill="#d6cbe6" opacity="0.9"/>
<circle cx="209.2" cy="607.6" r="0.9" fill="#6542a6" opacity="0.8"/>
<circle cx="212.6" cy="610.7" r="0.9" fill="#6542a6" opacity="0.8"/>
<circle cx="213.3" cy="611.1" r="0.9" fill="#6542a6" opacity="0.8"/>
<circle cx="228.2" cy="622.7" r="6.8" fill="#c7b4d4" opacity="0.7"/>
<circle cx="228.2" cy="622.7" r="5.3" fill="#7a5cb8"/>
<circle cx="228.2" cy="622.7" r="3.4" fill="#9a84c8"/>
<circle cx="228.0" cy="622.1" r="0.85" fill="#d6cbe6" opacity="0.9"/>
<circle cx="230.5" cy="622.4" r="0.85" fill="#d6cbe6" opacity="0.9"/>
<circle cx="227.2" cy="621.3" r="0.85" fill="#d6cbe6" opacity="0.9"/>
<circle cx="228.5" cy="623.2" r="0.85" fill="#d6cbe6" opacity="0.9"/>
<circle cx="226.6" cy="622.4" r="0.9" fill="#6542a6" opacity="0.8"/>
<circle cx="228.9" cy="624.4" r="0.9" fill="#6542a6" opacity="0.8"/>
<circle cx="230.4" cy="623.1" r="0.9" fill="#6542a6" opacity="0.8"/>
<circle cx="238.1" cy="618" r="6.8" fill="#c7b4d4" opacity="0.7"/>
<circle cx="238.1" cy="618" r="5.3" fill="#7a5cb8"/>
<circle cx="238.1" cy="618" r="3.4" fill="#9a84c8"/>
<circle cx="236.1" cy="618.8" r="0.85" fill="#d6cbe6" opacity="0.9"/>
<circle cx="236.4" cy="617.8" r="0.85" fill="#d6cbe6" opacity="0.9"/>
<circle cx="236.3" cy="618.0" r="0.85" fill="#d6cbe6" opacity="0.9"/>
<circle cx="237.0" cy="618.3" r="0.85" fill="#d6cbe6" opacity="0.9"/>
<circle cx="241.1" cy="617.9" r="0.9" fill="#6542a6" opacity="0.8"/>
<circle cx="239.5" cy="615.8" r="0.9" fill="#6542a6" opacity="0.8"/>
<circle cx="237.4" cy="619.7" r="0.9" fill="#6542a6" opacity="0.8"/>
<circle cx="250.1" cy="623.4" r="6.8" fill="#c7b4d4" opacity="0.7"/>
<circle cx="250.1" cy="623.4" r="5.3" fill="#7a5cb8"/>
<circle cx="250.1" cy="623.4" r="3.4" fill="#9a84c8"/>
<circle cx="249.9" cy="624.1" r="0.85" fill="#d6cbe6" opacity="0.9"/>
<circle cx="250.2" cy="622.1" r="0.85" fill="#d6cbe6" opacity="0.9"/>
<circle cx="250.8" cy="622.3" r="0.85" fill="#d6cbe6" opacity="0.9"/>
<circle cx="252.2" cy="622.8" r="0.85" fill="#d6cbe6" opacity="0.9"/>
<circle cx="251.9" cy="623.4" r="0.9" fill="#6542a6" opacity="0.8"/>
<circle cx="252.0" cy="622.2" r="0.9" fill="#6542a6" opacity="0.8"/>
<circle cx="252.2" cy="623.1" r="0.9" fill="#6542a6" opacity="0.8"/>
<circle cx="232.1" cy="634.2" r="6.8" fill="#c7b4d4" opacity="0.7"/>
<circle cx="232.1" cy="634.2" r="5.3" fill="#7a5cb8"/>
<circle cx="232.1" cy="634.2" r="3.4" fill="#9a84c8"/>
<circle cx="233.7" cy="635.0" r="0.85" fill="#d6cbe6" opacity="0.9"/>
<circle cx="232.3" cy="633.1" r="0.85" fill="#d6cbe6" opacity="0.9"/>
<circle cx="233.1" cy="634.8" r="0.85" fill="#d6cbe6" opacity="0.9"/>
<circle cx="234.0" cy="633.8" r="0.85" fill="#d6cbe6" opacity="0.9"/>
<circle cx="233.5" cy="635.5" r="0.9" fill="#6542a6" opacity="0.8"/>
<circle cx="233.4" cy="635.1" r="0.9" fill="#6542a6" opacity="0.8"/>
<circle cx="232.6" cy="632.5" r="0.9" fill="#6542a6" opacity="0.8"/>
<circle cx="224.4" cy="644.4" r="6.8" fill="#c7b4d4" opacity="0.7"/>
<circle cx="224.4" cy="644.4" r="5.3" fill="#7a5cb8"/>
<circle cx="224.4" cy="644.4" r="3.4" fill="#9a84c8"/>
<circle cx="223.1" cy="643.9" r="0.85" fill="#d6cbe6" opacity="0.9"/>
<circle cx="225.1" cy="646.2" r="0.85" fill="#d6cbe6" opacity="0.9"/>
<circle cx="225.6" cy="645.7" r="0.85" fill="#d6cbe6" opacity="0.9"/>
<circle cx="225.4" cy="645.3" r="0.85" fill="#d6cbe6" opacity="0.9"/>
<circle cx="224.8" cy="646.3" r="0.9" fill="#6542a6" opacity="0.8"/>
<circle cx="227.1" cy="643.9" r="0.9" fill="#6542a6" opacity="0.8"/>
<circle cx="223.5" cy="647.1" r="0.9" fill="#6542a6" opacity="0.8"/>
<circle cx="249.6" cy="658.5" r="6.8" fill="#c7b4d4" opacity="0.7"/>
<circle cx="249.6" cy="658.5" r="5.3" fill="#7a5cb8"/>
<circle cx="249.6" cy="658.5" r="3.4" fill="#9a84c8"/>
<circle cx="249.9" cy="659.8" r="0.85" fill="#d6cbe6" opacity="0.9"/>
<circle cx="250.7" cy="657.1" r="0.85" fill="#d6cbe6" opacity="0.9"/>
<circle cx="251.5" cy="659.9" r="0.85" fill="#d6cbe6" opacity="0.9"/>
<circle cx="249.8" cy="659.5" r="0.85" fill="#d6cbe6" opacity="0.9"/>
<circle cx="249.9" cy="656.5" r="0.9" fill="#6542a6" opacity="0.8"/>
<circle cx="249.1" cy="660.0" r="0.9" fill="#6542a6" opacity="0.8"/>
<circle cx="251.6" cy="659.8" r="0.9" fill="#6542a6" opacity="0.8"/>
</g>
<rect x="223.00" y="660.90" width="14.70" height="2.20" fill="#0a0a0a" />
<text x="269.90" y="583.50" font-size="11.6" fill="#0a0a0a" font-weight="bold" stroke="#0a0a0a" stroke-width="0.35">I</text>
<text x="305.40" y="594.54" font-size="6.6" text-anchor="middle" textLength="35.50" lengthAdjust="spacingAndGlyphs" fill="#3a3a3a" stroke="#3a3a3a" stroke-width="0.3" >Capsaspora</text>
<rect x="270.30" y="600.00" width="70.70" height="66.60" fill="#8e8e8e" />
<clipPath id="cI"><rect x="270.3" y="600" width="70.7" height="66.6"/></clipPath>
<g clip-path="url(#cI)"><g filter="url(#bl2)">
<circle cx="280.2" cy="608.8" r="5.6" fill="#949894"/>
<circle cx="280.2" cy="608.8" r="5.6" fill="none" stroke="#a6aca5" stroke-width="0.6"/>
<path d="M281.7,604.6 A4.6,4.6 0 0 1 283.8,611.4" fill="none" stroke="#5e645e" stroke-width="0.7" opacity="0.8"/>
<ellipse cx="279.8" cy="609.1" rx="3.9" ry="3.6" fill="#4fa76a" opacity="0.9"/>
<circle cx="279.4" cy="609.7" r="1.9" fill="#6fd08c" opacity="0.9"/>
<circle cx="281.4" cy="610.8" r="0.8" fill="#3f7a52" opacity="0.7"/>
<circle cx="278.9" cy="607.3" r="0.8" fill="#3f7a52" opacity="0.7"/>
<circle cx="313.2" cy="639.8" r="5.6" fill="#949894"/>
<circle cx="313.2" cy="639.8" r="5.6" fill="none" stroke="#a6aca5" stroke-width="0.6"/>
<path d="M314.7,635.6 A4.6,4.6 0 0 1 316.8,642.4" fill="none" stroke="#5e645e" stroke-width="0.7" opacity="0.8"/>
<ellipse cx="312.8" cy="640.1" rx="3.9" ry="3.6" fill="#4fa76a" opacity="0.9"/>
<circle cx="312.4" cy="640.7" r="1.9" fill="#6fd08c" opacity="0.9"/>
<circle cx="313.7" cy="642.2" r="0.8" fill="#3f7a52" opacity="0.7"/>
<circle cx="313.9" cy="637.9" r="0.8" fill="#3f7a52" opacity="0.7"/>
<circle cx="289.5" cy="657.5" r="5.6" fill="#949894"/>
<circle cx="289.5" cy="657.5" r="5.6" fill="none" stroke="#a6aca5" stroke-width="0.6"/>
<path d="M291.0,653.3 A4.6,4.6 0 0 1 293.1,660.1" fill="none" stroke="#5e645e" stroke-width="0.7" opacity="0.8"/>
<ellipse cx="289.1" cy="657.8" rx="3.9" ry="3.6" fill="#4fa76a" opacity="0.9"/>
<circle cx="288.7" cy="658.4" r="1.9" fill="#6fd08c" opacity="0.9"/>
<circle cx="287.9" cy="657.5" r="0.8" fill="#3f7a52" opacity="0.7"/>
<circle cx="291.3" cy="657.5" r="0.8" fill="#3f7a52" opacity="0.7"/>
<circle cx="336.9" cy="649.2" r="5.6" fill="#949894"/>
<circle cx="336.9" cy="649.2" r="5.6" fill="none" stroke="#a6aca5" stroke-width="0.6"/>
<path d="M338.4,645.0 A4.6,4.6 0 0 1 340.5,651.8" fill="none" stroke="#5e645e" stroke-width="0.7" opacity="0.8"/>
<ellipse cx="336.5" cy="649.5" rx="3.9" ry="3.6" fill="#4fa76a" opacity="0.36000000000000004"/>
<circle cx="336.1" cy="650.1" r="1.9" fill="#6fd08c" opacity="0.36000000000000004"/>
<circle cx="335.8" cy="648.5" r="0.8" fill="#3f7a52" opacity="0.7"/>
<circle cx="337.3" cy="647.7" r="0.8" fill="#3f7a52" opacity="0.7"/>
<circle cx="298" cy="603" r="1.6" fill="#999" opacity="0.8"/>
<circle cx="290.5" cy="620" r="1.6" fill="#999" opacity="0.8"/>
<circle cx="326" cy="653" r="1.6" fill="#999" opacity="0.8"/>
</g></g>
<rect x="312.00" y="660.50" width="19.20" height="3.20" fill="#0a0a0a" />
<text x="322.00" y="676.18" font-size="6.4" text-anchor="middle" textLength="17.50" lengthAdjust="spacingAndGlyphs" fill="#3a3a3a" stroke="#3a3a3a" stroke-width="0.3" >10µm</text>
<text x="354.40" y="584.20" font-size="11.6" fill="#0a0a0a" font-weight="bold" stroke="#0a0a0a" stroke-width="0.35">J</text>
<text x="407.10" y="598.84" font-size="6.6" text-anchor="middle" textLength="32.00" lengthAdjust="spacingAndGlyphs" fill="#3a3a3a" stroke="#3a3a3a" stroke-width="0.3" >pHrodo (–)</text>
<text x="488.90" y="598.64" font-size="6.6" text-anchor="middle" textLength="33.00" lengthAdjust="spacingAndGlyphs" fill="#3a3a3a" stroke="#3a3a3a" stroke-width="0.3" >pHrodo (+)</text>
<rect x="376.50" y="603.80" width="61.10" height="62.70" fill="#ffffff" />
<path d="M376.5,603.8 H411.5" fill="none" stroke="#bdbdbd" stroke-width="0.6"/>
<text x="373.50" y="607.20" font-size="4.4" text-anchor="end" fill="#444" >250K</text>
<line x1="374.90" y1="605.70" x2="376.50" y2="605.70" stroke="#666" stroke-width="0.4" />
<text x="373.50" y="619.50" font-size="4.4" text-anchor="end" fill="#444" >200K</text>
<line x1="374.90" y1="618.00" x2="376.50" y2="618.00" stroke="#666" stroke-width="0.4" />
<text x="373.50" y="631.50" font-size="4.4" text-anchor="end" fill="#444" >150K</text>
<line x1="374.90" y1="630.00" x2="376.50" y2="630.00" stroke="#666" stroke-width="0.4" />
<text x="373.50" y="643.30" font-size="4.4" text-anchor="end" fill="#444" >100K</text>
<line x1="374.90" y1="641.80" x2="376.50" y2="641.80" stroke="#666" stroke-width="0.4" />
<text x="373.50" y="655.20" font-size="4.4" text-anchor="end" fill="#444" >50K</text>
<line x1="374.90" y1="653.70" x2="376.50" y2="653.70" stroke="#666" stroke-width="0.4" />
<text x="373.50" y="666.70" font-size="4.4" text-anchor="end" fill="#444" >0K</text>
<line x1="374.90" y1="665.20" x2="376.50" y2="665.20" stroke="#666" stroke-width="0.4" />
<text x="381.2" y="673.6" font-size="4.3" text-anchor="middle" fill="#444">-10<tspan font-size="2.6" dy="-1.6">3</tspan></text>
<line x1="381.20" y1="666.50" x2="381.20" y2="668.00" stroke="#666" stroke-width="0.4" />
<text x="392.4" y="673.6" font-size="4.3" text-anchor="middle" fill="#444">0<tspan font-size="2.6" dy="-1.6"></tspan></text>
<line x1="392.40" y1="666.50" x2="392.40" y2="668.00" stroke="#666" stroke-width="0.4" />
<text x="401.2" y="673.6" font-size="4.3" text-anchor="middle" fill="#444">10<tspan font-size="2.6" dy="-1.6">3</tspan></text>
<line x1="401.20" y1="666.50" x2="401.20" y2="668.00" stroke="#666" stroke-width="0.4" />
<text x="418.8" y="673.6" font-size="4.3" text-anchor="middle" fill="#444">10<tspan font-size="2.6" dy="-1.6">4</tspan></text>
<line x1="418.80" y1="666.50" x2="418.80" y2="668.00" stroke="#666" stroke-width="0.4" />
<text x="433.5" y="673.6" font-size="4.3" text-anchor="middle" fill="#444">10<tspan font-size="2.6" dy="-1.6">5</tspan></text>
<line x1="433.50" y1="666.50" x2="433.50" y2="668.00" stroke="#666" stroke-width="0.4" />
<rect x="459.80" y="604.40" width="58.20" height="62.10" fill="#ffffff" />
<path d="M459.8,604.4 H493.4" fill="none" stroke="#bdbdbd" stroke-width="0.6"/>
<text x="456.80" y="607.20" font-size="4.4" text-anchor="end" fill="#444" >250K</text>
<line x1="458.20" y1="605.70" x2="459.80" y2="605.70" stroke="#666" stroke-width="0.4" />
<text x="456.80" y="619.50" font-size="4.4" text-anchor="end" fill="#444" >200K</text>
<line x1="458.20" y1="618.00" x2="459.80" y2="618.00" stroke="#666" stroke-width="0.4" />
<text x="456.80" y="631.50" font-size="4.4" text-anchor="end" fill="#444" >150K</text>
<line x1="458.20" y1="630.00" x2="459.80" y2="630.00" stroke="#666" stroke-width="0.4" />
<text x="456.80" y="643.30" font-size="4.4" text-anchor="end" fill="#444" >100K</text>
<line x1="458.20" y1="641.80" x2="459.80" y2="641.80" stroke="#666" stroke-width="0.4" />
<text x="456.80" y="655.20" font-size="4.4" text-anchor="end" fill="#444" >50K</text>
<line x1="458.20" y1="653.70" x2="459.80" y2="653.70" stroke="#666" stroke-width="0.4" />
<text x="456.80" y="666.70" font-size="4.4" text-anchor="end" fill="#444" >0K</text>
<line x1="458.20" y1="665.20" x2="459.80" y2="665.20" stroke="#666" stroke-width="0.4" />
<text x="462.5" y="673.6" font-size="4.3" text-anchor="middle" fill="#444">-10<tspan font-size="2.6" dy="-1.6">3</tspan></text>
<line x1="462.50" y1="666.50" x2="462.50" y2="668.00" stroke="#666" stroke-width="0.4" />
<text x="473.5" y="673.6" font-size="4.3" text-anchor="middle" fill="#444">0<tspan font-size="2.6" dy="-1.6"></tspan></text>
<line x1="473.50" y1="666.50" x2="473.50" y2="668.00" stroke="#666" stroke-width="0.4" />
<text x="482.7" y="673.6" font-size="4.3" text-anchor="middle" fill="#444">10<tspan font-size="2.6" dy="-1.6">3</tspan></text>
<line x1="482.70" y1="666.50" x2="482.70" y2="668.00" stroke="#666" stroke-width="0.4" />
<text x="500.1" y="673.6" font-size="4.3" text-anchor="middle" fill="#444">10<tspan font-size="2.6" dy="-1.6">4</tspan></text>
<line x1="500.10" y1="666.50" x2="500.10" y2="668.00" stroke="#666" stroke-width="0.4" />
<text x="514.7" y="673.6" font-size="4.3" text-anchor="middle" fill="#444">10<tspan font-size="2.6" dy="-1.6">5</tspan></text>
<line x1="514.70" y1="666.50" x2="514.70" y2="668.00" stroke="#666" stroke-width="0.4" />
<defs><filter id="blJ" x="-30%" y="-30%" width="160%" height="160%"><feGaussianBlur stdDeviation="0.55"/></filter></defs>
<clipPath id="cJ1"><rect x="377" y="604.2" width="60.2" height="61.8"/></clipPath><clipPath id="cJ2"><rect x="460.3" y="604.8" width="57.4" height="61.2"/></clipPath>
<g clip-path="url(#cJ1)">
<g filter="url(#blJ)" transform="rotate(5.5 395 644)"><ellipse cx="395.1" cy="644" rx="2.9" ry="13" fill="#1aa9b8"/><ellipse cx="394.9" cy="645.2" rx="2.0" ry="9.4" fill="#5cc24e"/><ellipse cx="394.7" cy="646" rx="1.2" ry="6.2" fill="#e9dc30"/><ellipse cx="394.6" cy="646.5" rx="0.65" ry="3.8" fill="#f0702a"/></g>
<path d="M392.9 626.3h0.7v0.7h-0.7zM394.9 624.9h0.7v0.7h-0.7zM400.0 648.9h0.7v0.7h-0.7zM397.9 660.2h0.7v0.7h-0.7zM391.7 654.3h0.7v0.7h-0.7zM402.7 649.5h0.7v0.7h-0.7zM400.4 622.2h0.7v0.7h-0.7zM404.7 627.2h0.7v0.7h-0.7zM391.4 660.0h0.7v0.7h-0.7zM393.6 659.1h0.7v0.7h-0.7zM391.1 647.5h0.7v0.7h-0.7zM391.1 653.7h0.7v0.7h-0.7zM391.2 647.2h0.7v0.7h-0.7zM396.6 617.2h0.7v0.7h-0.7zM391.9 656.9h0.7v0.7h-0.7zM401.5 634.0h0.7v0.7h-0.7zM392.7 658.1h0.7v0.7h-0.7zM392.8 658.1h0.7v0.7h-0.7zM398.0 654.0h0.7v0.7h-0.7zM396.1 625.9h0.7v0.7h-0.7zM391.3 652.8h0.7v0.7h-0.7zM391.1 648.8h0.7v0.7h-0.7zM403.0 622.1h0.7v0.7h-0.7zM396.0 656.2h0.7v0.7h-0.7zM401.3 628.8h0.7v0.7h-0.7zM401.0 629.2h0.7v0.7h-0.7zM395.3 627.6h0.7v0.7h-0.7zM400.6 647.6h0.7v0.7h-0.7zM392.2 657.4h0.7v0.7h-0.7zM390.6 650.5h0.7v0.7h-0.7zM402.3 630.6h0.7v0.7h-0.7zM391.1 657.7h0.7v0.7h-0.7zM395.7 658.8h0.7v0.7h-0.7zM401.9 647.7h0.7v0.7h-0.7zM397.9 616.5h0.7v0.7h-0.7zM392.1 636.6h0.7v0.7h-0.7zM394.1 658.7h0.7v0.7h-0.7zM394.6 629.3h0.7v0.7h-0.7zM394.3 630.6h0.7v0.7h-0.7zM402.5 637.1h0.7v0.7h-0.7zM395.0 627.0h0.7v0.7h-0.7zM398.5 621.3h0.7v0.7h-0.7zM392.9 629.9h0.7v0.7h-0.7zM392.8 656.5h0.7v0.7h-0.7zM390.9 646.7h0.7v0.7h-0.7zM390.4 644.7h0.7v0.7h-0.7zM400.4 649.8h0.7v0.7h-0.7zM397.7 655.0h0.7v0.7h-0.7zM399.8 650.9h0.7v0.7h-0.7zM391.9 640.9h0.7v0.7h-0.7zM399.7 659.8h0.7v0.7h-0.7zM396.4 625.0h0.7v0.7h-0.7zM397.8 617.4h0.7v0.7h-0.7zM400.5 654.6h0.7v0.7h-0.7zM400.4 654.1h0.7v0.7h-0.7zM400.4 615.2h0.7v0.7h-0.7zM390.8 649.0h0.7v0.7h-0.7zM391.2 647.2h0.7v0.7h-0.7zM396.1 657.1h0.7v0.7h-0.7zM404.3 632.4h0.7v0.7h-0.7zM394.7 658.9h0.7v0.7h-0.7zM390.3 654.9h0.7v0.7h-0.7zM401.0 645.9h0.7v0.7h-0.7zM391.3 656.0h0.7v0.7h-0.7zM399.9 650.0h0.7v0.7h-0.7zM405.1 646.1h0.7v0.7h-0.7zM401.7 646.7h0.7v0.7h-0.7zM390.4 655.5h0.7v0.7h-0.7zM392.7 656.3h0.7v0.7h-0.7zM393.5 633.8h0.7v0.7h-0.7zM401.0 645.4h0.7v0.7h-0.7zM399.9 652.7h0.7v0.7h-0.7zM392.6 659.0h0.7v0.7h-0.7zM400.6 628.4h0.7v0.7h-0.7zM399.8 626.6h0.7v0.7h-0.7zM400.8 619.9h0.7v0.7h-0.7zM392.6 636.4h0.7v0.7h-0.7zM401.2 623.6h0.7v0.7h-0.7zM400.8 628.7h0.7v0.7h-0.7zM391.7 658.8h0.7v0.7h-0.7zM393.1 635.1h0.7v0.7h-0.7zM398.1 660.6h0.7v0.7h-0.7zM401.7 643.6h0.7v0.7h-0.7zM392.2 637.0h0.7v0.7h-0.7zM392.6 637.0h0.7v0.7h-0.7zM399.5 656.7h0.7v0.7h-0.7zM400.0 649.3h0.7v0.7h-0.7zM393.3 633.9h0.7v0.7h-0.7zM392.3 657.9h0.7v0.7h-0.7zM401.8 643.3h0.7v0.7h-0.7zM391.2 651.4h0.7v0.7h-0.7zM396.2 620.7h0.7v0.7h-0.7zM395.7 626.3h0.7v0.7h-0.7zM398.6 653.0h0.7v0.7h-0.7zM402.0 630.6h0.7v0.7h-0.7zM392.9 635.7h0.7v0.7h-0.7zM391.2 652.2h0.7v0.7h-0.7zM397.5 654.2h0.7v0.7h-0.7zM394.3 629.8h0.7v0.7h-0.7zM393.4 634.9h0.7v0.7h-0.7zM401.5 628.7h0.7v0.7h-0.7zM398.8 652.9h0.7v0.7h-0.7zM393.0 634.8h0.7v0.7h-0.7zM399.4 654.9h0.7v0.7h-0.7zM391.1 656.6h0.7v0.7h-0.7zM399.5 653.7h0.7v0.7h-0.7zM398.8 653.7h0.7v0.7h-0.7zM397.8 619.1h0.7v0.7h-0.7zM395.5 627.5h0.7v0.7h-0.7zM395.6 656.8h0.7v0.7h-0.7zM401.7 628.1h0.7v0.7h-0.7zM401.2 641.9h0.7v0.7h-0.7zM402.0 619.3h0.7v0.7h-0.7zM395.3 625.3h0.7v0.7h-0.7zM401.1 652.6h0.7v0.7h-0.7zM393.8 659.3h0.7v0.7h-0.7zM392.4 657.7h0.7v0.7h-0.7zM394.3 656.7h0.7v0.7h-0.7zM400.9 625.9h0.7v0.7h-0.7zM391.0 653.2h0.7v0.7h-0.7zM400.5 620.6h0.7v0.7h-0.7zM398.9 616.2h0.7v0.7h-0.7zM402.5 624.8h0.7v0.7h-0.7zM391.2 648.1h0.7v0.7h-0.7zM393.9 632.8h0.7v0.7h-0.7zM400.1 656.7h0.7v0.7h-0.7zM400.2 625.3h0.7v0.7h-0.7zM394.6 658.1h0.7v0.7h-0.7zM392.9 633.1h0.7v0.7h-0.7zM401.3 619.4h0.7v0.7h-0.7zM393.3 632.3h0.7v0.7h-0.7zM392.0 659.1h0.7v0.7h-0.7zM390.3 655.8h0.7v0.7h-0.7zM401.8 636.8h0.7v0.7h-0.7zM398.0 623.4h0.7v0.7h-0.7zM401.9 638.5h0.7v0.7h-0.7zM395.4 656.4h0.7v0.7h-0.7zM402.2 636.6h0.7v0.7h-0.7zM406.1 630.7h0.7v0.7h-0.7zM396.3 624.6h0.7v0.7h-0.7zM389.7 645.2h0.7v0.7h-0.7zM395.8 624.9h0.7v0.7h-0.7zM398.2 620.8h0.7v0.7h-0.7zM391.3 646.4h0.7v0.7h-0.7zM395.0 626.5h0.7v0.7h-0.7zM398.7 614.3h0.7v0.7h-0.7zM393.7 633.6h0.7v0.7h-0.7zM395.9 657.5h0.7v0.7h-0.7zM395.1 627.5h0.7v0.7h-0.7zM401.6 631.9h0.7v0.7h-0.7zM399.7 659.5h0.7v0.7h-0.7zM391.2 644.1h0.7v0.7h-0.7zM392.4 659.4h0.7v0.7h-0.7zM408.4 628.7h0.7v0.7h-0.7zM395.0 625.1h0.7v0.7h-0.7zM390.9 652.7h0.7v0.7h-0.7zM391.9 638.1h0.7v0.7h-0.7zM401.1 641.3h0.7v0.7h-0.7zM401.3 636.4h0.7v0.7h-0.7zM395.5 657.0h0.7v0.7h-0.7zM399.1 654.2h0.7v0.7h-0.7zM395.4 624.2h0.7v0.7h-0.7zM391.3 640.2h0.7v0.7h-0.7zM399.6 653.8h0.7v0.7h-0.7zM403.3 634.1h0.7v0.7h-0.7zM392.6 627.8h0.7v0.7h-0.7zM391.3 644.0h0.7v0.7h-0.7zM391.0 652.1h0.7v0.7h-0.7zM401.0 631.2h0.7v0.7h-0.7zM403.9 629.8h0.7v0.7h-0.7zM402.8 645.6h0.7v0.7h-0.7zM391.5 653.6h0.7v0.7h-0.7zM401.0 643.6h0.7v0.7h-0.7zM390.1 651.4h0.7v0.7h-0.7zM397.4 621.6h0.7v0.7h-0.7zM399.4 615.1h0.7v0.7h-0.7zM392.6 659.5h0.7v0.7h-0.7zM396.4 624.2h0.7v0.7h-0.7zM403.8 641.7h0.7v0.7h-0.7zM396.0 656.3h0.7v0.7h-0.7zM390.5 656.4h0.7v0.7h-0.7zM391.7 641.9h0.7v0.7h-0.7zM390.2 652.9h0.7v0.7h-0.7zM404.4 638.0h0.7v0.7h-0.7zM403.3 626.2h0.7v0.7h-0.7zM399.3 651.2h0.7v0.7h-0.7zM400.3 647.4h0.7v0.7h-0.7zM391.3 646.4h0.7v0.7h-0.7zM387.9 653.1h0.7v0.7h-0.7zM392.9 632.4h0.7v0.7h-0.7zM394.6 625.5h0.7v0.7h-0.7zM391.4 654.2h0.7v0.7h-0.7zM404.0 618.7h0.7v0.7h-0.7zM401.8 645.8h0.7v0.7h-0.7zM394.9 656.9h0.7v0.7h-0.7zM391.8 659.1h0.7v0.7h-0.7zM398.7 624.6h0.7v0.7h-0.7zM394.7 625.9h0.7v0.7h-0.7zM401.7 632.3h0.7v0.7h-0.7zM402.5 628.2h0.7v0.7h-0.7zM395.4 621.7h0.7v0.7h-0.7zM392.7 636.1h0.7v0.7h-0.7zM391.4 645.1h0.7v0.7h-0.7zM392.1 637.9h0.7v0.7h-0.7zM401.2 625.4h0.7v0.7h-0.7zM391.4 639.8h0.7v0.7h-0.7zM390.5 645.8h0.7v0.7h-0.7zM392.4 635.2h0.7v0.7h-0.7zM397.3 613.9h0.7v0.7h-0.7zM399.7 651.5h0.7v0.7h-0.7zM392.9 659.0h0.7v0.7h-0.7zM396.7 624.7h0.7v0.7h-0.7zM398.1 624.6h0.7v0.7h-0.7zM402.3 634.6h0.7v0.7h-0.7zM400.2 649.2h0.7v0.7h-0.7zM393.6 628.9h0.7v0.7h-0.7zM391.3 658.7h0.7v0.7h-0.7zM395.0 624.6h0.7v0.7h-0.7zM397.9 619.5h0.7v0.7h-0.7zM397.5 654.3h0.7v0.7h-0.7zM391.5 658.9h0.7v0.7h-0.7zM398.2 658.3h0.7v0.7h-0.7zM392.9 636.6h0.7v0.7h-0.7zM402.8 627.5h0.7v0.7h-0.7zM396.6 658.6h0.7v0.7h-0.7zM400.5 646.0h0.7v0.7h-0.7zM394.4 626.4h0.7v0.7h-0.7zM400.9 629.8h0.7v0.7h-0.7zM394.0 659.4h0.7v0.7h-0.7zM391.9 657.3h0.7v0.7h-0.7zM402.2 628.0h0.7v0.7h-0.7zM397.3 623.0h0.7v0.7h-0.7zM390.7 650.8h0.7v0.7h-0.7zM401.3 644.2h0.7v0.7h-0.7zM390.0 652.9h0.7v0.7h-0.7zM395.1 627.1h0.7v0.7h-0.7zM399.9 620.3h0.7v0.7h-0.7zM390.9 649.2h0.7v0.7h-0.7zM393.3 635.2h0.7v0.7h-0.7zM393.1 633.7h0.7v0.7h-0.7zM405.3 629.9h0.7v0.7h-0.7zM393.8 632.0h0.7v0.7h-0.7zM401.9 648.3h0.7v0.7h-0.7zM392.3 660.1h0.7v0.7h-0.7zM402.5 627.4h0.7v0.7h-0.7zM399.2 657.0h0.7v0.7h-0.7zM402.0 631.1h0.7v0.7h-0.7zM397.4 621.9h0.7v0.7h-0.7zM392.0 659.0h0.7v0.7h-0.7zM395.7 623.4h0.7v0.7h-0.7zM400.6 645.7h0.7v0.7h-0.7zM392.2 660.6h0.7v0.7h-0.7zM389.8 656.4h0.7v0.7h-0.7zM397.2 657.6h0.7v0.7h-0.7zM397.0 621.8h0.7v0.7h-0.7zM403.6 643.6h0.7v0.7h-0.7zM396.3 624.8h0.7v0.7h-0.7zM402.3 647.1h0.7v0.7h-0.7zM403.0 623.5h0.7v0.7h-0.7zM396.0 624.7h0.7v0.7h-0.7zM391.5 654.7h0.7v0.7h-0.7zM390.2 646.3h0.7v0.7h-0.7zM390.9 646.4h0.7v0.7h-0.7zM398.0 655.3h0.7v0.7h-0.7zM390.9 651.1h0.7v0.7h-0.7zM401.3 635.0h0.7v0.7h-0.7zM403.2 628.6h0.7v0.7h-0.7zM395.6 660.8h0.7v0.7h-0.7zM391.9 641.4h0.7v0.7h-0.7zM391.0 659.8h0.7v0.7h-0.7zM401.1 646.7h0.7v0.7h-0.7zM404.8 624.6h0.7v0.7h-0.7zM389.4 649.0h0.7v0.7h-0.7zM395.9 625.0h0.7v0.7h-0.7zM397.2 615.2h0.7v0.7h-0.7zM396.7 658.1h0.7v0.7h-0.7zM400.2 622.2h0.7v0.7h-0.7zM401.7 645.9h0.7v0.7h-0.7zM396.8 655.6h0.7v0.7h-0.7zM398.8 652.7h0.7v0.7h-0.7zM393.3 631.0h0.7v0.7h-0.7zM402.6 629.7h0.7v0.7h-0.7zM392.8 656.4h0.7v0.7h-0.7zM397.7 619.3h0.7v0.7h-0.7zM400.2 627.2h0.7v0.7h-0.7zM399.7 619.9h0.7v0.7h-0.7zM403.9 627.9h0.7v0.7h-0.7zM389.7 655.4h0.7v0.7h-0.7zM390.9 648.3h0.7v0.7h-0.7zM393.1 658.8h0.7v0.7h-0.7zM390.5 650.2h0.7v0.7h-0.7zM403.5 621.9h0.7v0.7h-0.7zM402.2 635.5h0.7v0.7h-0.7zM400.9 619.0h0.7v0.7h-0.7zM397.1 623.2h0.7v0.7h-0.7zM396.7 657.1h0.7v0.7h-0.7zM399.6 651.1h0.7v0.7h-0.7zM391.8 655.3h0.7v0.7h-0.7zM400.4 651.5h0.7v0.7h-0.7zM399.4 621.9h0.7v0.7h-0.7zM394.4 627.3h0.7v0.7h-0.7zM398.1 622.8h0.7v0.7h-0.7zM391.9 655.2h0.7v0.7h-0.7zM393.5 628.8h0.7v0.7h-0.7zM398.9 652.7h0.7v0.7h-0.7zM390.6 659.5h0.7v0.7h-0.7zM395.8 622.2h0.7v0.7h-0.7zM400.1 649.4h0.7v0.7h-0.7zM396.9 656.3h0.7v0.7h-0.7zM402.7 650.6h0.7v0.7h-0.7zM402.9 659.1h0.7v0.7h-0.7zM397.4 657.0h0.7v0.7h-0.7zM391.5 644.7h0.7v0.7h-0.7zM402.2 642.0h0.7v0.7h-0.7zM395.3 624.5h0.7v0.7h-0.7zM390.5 653.1h0.7v0.7h-0.7zM397.0 655.2h0.7v0.7h-0.7zM398.3 622.5h0.7v0.7h-0.7zM397.3 659.1h0.7v0.7h-0.7zM401.9 648.2h0.7v0.7h-0.7zM404.8 613.8h0.7v0.7h-0.7zM394.0 630.9h0.7v0.7h-0.7zM397.8 619.4h0.7v0.7h-0.7zM393.9 632.8h0.7v0.7h-0.7zM400.6 652.1h0.7v0.7h-0.7zM401.7 643.6h0.7v0.7h-0.7zM390.0 660.7h0.7v0.7h-0.7zM397.9 618.8h0.7v0.7h-0.7zM401.4 649.2h0.7v0.7h-0.7zM394.5 623.8h0.7v0.7h-0.7zM397.5 658.4h0.7v0.7h-0.7zM401.8 639.0h0.7v0.7h-0.7zM391.4 640.3h0.7v0.7h-0.7zM401.6 640.5h0.7v0.7h-0.7zM391.7 660.1h0.7v0.7h-0.7zM405.5 659.1h0.7v0.7h-0.7zM398.3 658.3h0.7v0.7h-0.7zM396.1 658.3h0.7v0.7h-0.7zM392.6 635.1h0.7v0.7h-0.7zM401.9 652.2h0.7v0.7h-0.7zM391.6 654.4h0.7v0.7h-0.7zM400.9 643.8h0.7v0.7h-0.7zM400.8 626.1h0.7v0.7h-0.7zM401.5 639.5h0.7v0.7h-0.7zM402.5 625.2h0.7v0.7h-0.7zM401.3 634.3h0.7v0.7h-0.7zM397.4 624.4h0.7v0.7h-0.7zM400.0 651.6h0.7v0.7h-0.7zM391.4 654.4h0.7v0.7h-0.7zM390.6 645.0h0.7v0.7h-0.7zM392.0 657.8h0.7v0.7h-0.7zM391.9 637.8h0.7v0.7h-0.7z" fill="#3d36b4" opacity="0.85"/>
<path d="M394.0 635.2h0.8v0.8h-0.8zM397.6 627.1h0.8v0.8h-0.8zM399.7 631.1h0.8v0.8h-0.8zM392.2 649.4h0.8v0.8h-0.8zM400.0 642.3h0.8v0.8h-0.8zM396.8 651.8h0.8v0.8h-0.8zM398.3 626.2h0.8v0.8h-0.8zM400.0 646.2h0.8v0.8h-0.8zM392.4 650.7h0.8v0.8h-0.8zM391.8 650.9h0.8v0.8h-0.8zM397.8 650.1h0.8v0.8h-0.8zM392.5 640.2h0.8v0.8h-0.8zM392.7 639.1h0.8v0.8h-0.8zM395.3 630.6h0.8v0.8h-0.8zM391.6 645.6h0.8v0.8h-0.8zM392.1 651.0h0.8v0.8h-0.8zM399.7 632.1h0.8v0.8h-0.8zM399.3 626.3h0.8v0.8h-0.8zM392.7 641.0h0.8v0.8h-0.8zM393.9 637.9h0.8v0.8h-0.8zM394.4 654.9h0.8v0.8h-0.8zM398.6 648.8h0.8v0.8h-0.8zM393.3 637.8h0.8v0.8h-0.8zM394.3 654.8h0.8v0.8h-0.8zM393.7 633.8h0.8v0.8h-0.8zM396.6 630.1h0.8v0.8h-0.8zM392.7 644.1h0.8v0.8h-0.8zM397.5 649.6h0.8v0.8h-0.8zM393.7 634.7h0.8v0.8h-0.8zM397.0 630.6h0.8v0.8h-0.8zM396.0 651.5h0.8v0.8h-0.8zM394.4 635.8h0.8v0.8h-0.8zM398.5 648.8h0.8v0.8h-0.8zM392.7 652.2h0.8v0.8h-0.8zM398.8 648.2h0.8v0.8h-0.8zM396.2 632.8h0.8v0.8h-0.8zM395.9 653.8h0.8v0.8h-0.8zM399.0 640.7h0.8v0.8h-0.8zM398.6 648.7h0.8v0.8h-0.8zM393.7 633.8h0.8v0.8h-0.8zM393.4 639.6h0.8v0.8h-0.8zM398.7 634.5h0.8v0.8h-0.8zM393.0 639.7h0.8v0.8h-0.8zM394.8 652.5h0.8v0.8h-0.8zM399.2 640.0h0.8v0.8h-0.8zM391.4 648.7h0.8v0.8h-0.8zM399.8 633.8h0.8v0.8h-0.8zM396.8 650.5h0.8v0.8h-0.8zM391.5 651.0h0.8v0.8h-0.8zM396.1 631.8h0.8v0.8h-0.8zM394.5 653.1h0.8v0.8h-0.8zM399.3 638.8h0.8v0.8h-0.8zM392.7 643.6h0.8v0.8h-0.8zM398.5 652.1h0.8v0.8h-0.8zM395.0 634.5h0.8v0.8h-0.8zM399.2 630.8h0.8v0.8h-0.8zM393.3 653.3h0.8v0.8h-0.8zM397.5 650.6h0.8v0.8h-0.8zM400.9 634.0h0.8v0.8h-0.8zM393.9 638.2h0.8v0.8h-0.8zM396.7 651.4h0.8v0.8h-0.8zM393.5 636.5h0.8v0.8h-0.8zM392.7 653.4h0.8v0.8h-0.8zM392.7 651.3h0.8v0.8h-0.8zM397.1 629.7h0.8v0.8h-0.8zM393.3 639.9h0.8v0.8h-0.8zM392.1 650.0h0.8v0.8h-0.8zM392.2 654.6h0.8v0.8h-0.8zM392.8 642.6h0.8v0.8h-0.8zM397.1 628.7h0.8v0.8h-0.8zM398.5 633.0h0.8v0.8h-0.8zM394.0 635.1h0.8v0.8h-0.8zM392.4 652.1h0.8v0.8h-0.8zM398.6 649.0h0.8v0.8h-0.8zM392.8 642.7h0.8v0.8h-0.8zM392.5 642.4h0.8v0.8h-0.8zM398.2 648.2h0.8v0.8h-0.8zM399.7 638.8h0.8v0.8h-0.8zM392.6 654.9h0.8v0.8h-0.8zM398.9 641.8h0.8v0.8h-0.8zM394.4 631.0h0.8v0.8h-0.8zM393.8 656.1h0.8v0.8h-0.8zM398.3 646.2h0.8v0.8h-0.8zM392.4 642.7h0.8v0.8h-0.8zM396.8 632.3h0.8v0.8h-0.8zM396.0 655.0h0.8v0.8h-0.8zM392.3 655.7h0.8v0.8h-0.8zM398.7 646.0h0.8v0.8h-0.8zM392.0 649.1h0.8v0.8h-0.8zM397.1 652.0h0.8v0.8h-0.8zM394.0 636.5h0.8v0.8h-0.8zM395.2 629.2h0.8v0.8h-0.8zM392.5 652.3h0.8v0.8h-0.8zM391.7 645.6h0.8v0.8h-0.8zM397.2 651.5h0.8v0.8h-0.8zM397.1 652.3h0.8v0.8h-0.8zM399.4 637.1h0.8v0.8h-0.8zM400.2 630.3h0.8v0.8h-0.8zM398.1 652.4h0.8v0.8h-0.8zM391.7 649.0h0.8v0.8h-0.8zM392.0 650.0h0.8v0.8h-0.8zM395.4 652.3h0.8v0.8h-0.8zM399.0 648.5h0.8v0.8h-0.8zM394.0 635.0h0.8v0.8h-0.8zM393.7 636.1h0.8v0.8h-0.8zM392.6 643.2h0.8v0.8h-0.8zM393.0 656.4h0.8v0.8h-0.8zM401.0 632.8h0.8v0.8h-0.8zM399.0 638.0h0.8v0.8h-0.8zM398.0 646.0h0.8v0.8h-0.8zM398.2 647.0h0.8v0.8h-0.8zM393.9 638.1h0.8v0.8h-0.8zM393.0 653.7h0.8v0.8h-0.8zM392.2 651.8h0.8v0.8h-0.8zM393.3 652.9h0.8v0.8h-0.8zM396.1 651.5h0.8v0.8h-0.8zM392.6 652.5h0.8v0.8h-0.8zM395.6 653.6h0.8v0.8h-0.8zM398.9 629.2h0.8v0.8h-0.8zM399.0 627.8h0.8v0.8h-0.8zM397.2 629.5h0.8v0.8h-0.8zM398.8 649.9h0.8v0.8h-0.8zM391.7 654.6h0.8v0.8h-0.8zM392.3 647.1h0.8v0.8h-0.8zM392.8 655.1h0.8v0.8h-0.8zM391.3 650.3h0.8v0.8h-0.8zM400.2 640.4h0.8v0.8h-0.8zM399.9 634.5h0.8v0.8h-0.8zM395.6 633.3h0.8v0.8h-0.8zM399.6 647.3h0.8v0.8h-0.8zM399.0 634.2h0.8v0.8h-0.8zM396.3 630.0h0.8v0.8h-0.8zM393.7 636.5h0.8v0.8h-0.8zM392.9 652.9h0.8v0.8h-0.8zM399.6 640.5h0.8v0.8h-0.8zM395.0 653.4h0.8v0.8h-0.8zM398.0 652.3h0.8v0.8h-0.8zM393.9 653.6h0.8v0.8h-0.8zM401.1 637.8h0.8v0.8h-0.8zM392.4 650.0h0.8v0.8h-0.8zM398.4 646.9h0.8v0.8h-0.8zM398.9 625.6h0.8v0.8h-0.8zM391.7 650.8h0.8v0.8h-0.8zM392.7 653.9h0.8v0.8h-0.8zM398.3 646.2h0.8v0.8h-0.8zM393.1 640.4h0.8v0.8h-0.8zM398.0 630.7h0.8v0.8h-0.8zM399.7 632.0h0.8v0.8h-0.8zM393.0 641.0h0.8v0.8h-0.8zM398.6 643.9h0.8v0.8h-0.8zM397.1 626.2h0.8v0.8h-0.8zM392.8 654.6h0.8v0.8h-0.8zM394.3 633.9h0.8v0.8h-0.8zM397.5 625.2h0.8v0.8h-0.8zM395.0 632.1h0.8v0.8h-0.8zM395.9 632.1h0.8v0.8h-0.8zM397.7 647.9h0.8v0.8h-0.8zM391.9 648.3h0.8v0.8h-0.8zM400.5 633.9h0.8v0.8h-0.8zM392.5 645.3h0.8v0.8h-0.8zM400.6 641.3h0.8v0.8h-0.8zM397.9 646.3h0.8v0.8h-0.8zM392.4 655.4h0.8v0.8h-0.8zM396.9 649.8h0.8v0.8h-0.8zM393.1 637.0h0.8v0.8h-0.8zM394.9 633.6h0.8v0.8h-0.8zM393.0 652.0h0.8v0.8h-0.8zM399.8 640.9h0.8v0.8h-0.8zM396.9 629.5h0.8v0.8h-0.8zM396.3 652.5h0.8v0.8h-0.8zM399.4 648.9h0.8v0.8h-0.8zM399.2 636.7h0.8v0.8h-0.8zM396.0 627.6h0.8v0.8h-0.8zM397.9 634.5h0.8v0.8h-0.8zM394.0 635.5h0.8v0.8h-0.8zM396.6 650.4h0.8v0.8h-0.8zM397.3 633.1h0.8v0.8h-0.8zM397.8 649.1h0.8v0.8h-0.8zM399.9 637.8h0.8v0.8h-0.8zM399.5 629.7h0.8v0.8h-0.8zM397.9 650.4h0.8v0.8h-0.8zM399.3 644.2h0.8v0.8h-0.8zM391.5 649.4h0.8v0.8h-0.8zM397.5 650.5h0.8v0.8h-0.8zM398.2 646.6h0.8v0.8h-0.8zM393.4 653.6h0.8v0.8h-0.8zM392.7 653.8h0.8v0.8h-0.8zM392.6 653.6h0.8v0.8h-0.8zM393.3 636.8h0.8v0.8h-0.8zM399.8 637.4h0.8v0.8h-0.8zM399.9 646.0h0.8v0.8h-0.8zM400.8 631.9h0.8v0.8h-0.8zM395.1 651.8h0.8v0.8h-0.8zM392.2 647.3h0.8v0.8h-0.8zM396.4 627.8h0.8v0.8h-0.8zM400.0 630.1h0.8v0.8h-0.8zM398.9 648.5h0.8v0.8h-0.8zM396.0 628.7h0.8v0.8h-0.8zM398.6 639.8h0.8v0.8h-0.8zM399.0 649.5h0.8v0.8h-0.8zM393.2 653.7h0.8v0.8h-0.8zM397.5 632.5h0.8v0.8h-0.8zM395.5 631.2h0.8v0.8h-0.8zM393.3 656.0h0.8v0.8h-0.8zM399.5 645.9h0.8v0.8h-0.8zM399.4 635.2h0.8v0.8h-0.8zM398.8 647.2h0.8v0.8h-0.8zM392.3 641.4h0.8v0.8h-0.8zM396.4 629.6h0.8v0.8h-0.8zM392.3 646.2h0.8v0.8h-0.8zM393.6 638.0h0.8v0.8h-0.8zM393.3 653.2h0.8v0.8h-0.8zM392.2 651.0h0.8v0.8h-0.8zM394.3 635.0h0.8v0.8h-0.8zM391.8 649.5h0.8v0.8h-0.8zM398.5 625.2h0.8v0.8h-0.8zM398.2 630.7h0.8v0.8h-0.8zM398.6 627.4h0.8v0.8h-0.8zM392.5 644.3h0.8v0.8h-0.8zM397.7 651.3h0.8v0.8h-0.8zM392.9 642.2h0.8v0.8h-0.8zM392.6 654.7h0.8v0.8h-0.8zM394.4 631.2h0.8v0.8h-0.8zM397.3 649.9h0.8v0.8h-0.8zM398.6 641.7h0.8v0.8h-0.8zM396.7 652.4h0.8v0.8h-0.8zM396.5 630.9h0.8v0.8h-0.8zM393.9 638.3h0.8v0.8h-0.8zM393.3 654.8h0.8v0.8h-0.8zM396.6 628.0h0.8v0.8h-0.8zM399.1 646.6h0.8v0.8h-0.8zM395.0 653.1h0.8v0.8h-0.8zM392.3 649.3h0.8v0.8h-0.8zM396.1 654.6h0.8v0.8h-0.8zM398.2 646.7h0.8v0.8h-0.8zM396.0 628.6h0.8v0.8h-0.8zM399.4 637.4h0.8v0.8h-0.8zM396.4 625.9h0.8v0.8h-0.8zM392.4 645.1h0.8v0.8h-0.8zM392.6 652.9h0.8v0.8h-0.8zM396.8 653.1h0.8v0.8h-0.8zM393.5 652.3h0.8v0.8h-0.8zM399.5 633.7h0.8v0.8h-0.8zM398.2 651.5h0.8v0.8h-0.8zM395.9 653.1h0.8v0.8h-0.8zM393.9 655.7h0.8v0.8h-0.8zM399.7 636.8h0.8v0.8h-0.8zM396.5 650.4h0.8v0.8h-0.8zM399.9 636.1h0.8v0.8h-0.8zM391.7 648.6h0.8v0.8h-0.8zM391.4 652.2h0.8v0.8h-0.8zM397.2 651.6h0.8v0.8h-0.8zM392.3 647.3h0.8v0.8h-0.8zM399.6 630.7h0.8v0.8h-0.8zM395.6 632.1h0.8v0.8h-0.8zM393.2 653.6h0.8v0.8h-0.8zM396.2 631.8h0.8v0.8h-0.8zM395.5 653.4h0.8v0.8h-0.8zM396.9 632.2h0.8v0.8h-0.8zM392.4 649.6h0.8v0.8h-0.8zM396.1 631.6h0.8v0.8h-0.8zM395.0 630.4h0.8v0.8h-0.8zM398.4 651.8h0.8v0.8h-0.8zM392.5 650.7h0.8v0.8h-0.8zM398.5 635.6h0.8v0.8h-0.8zM399.0 642.0h0.8v0.8h-0.8zM398.3 649.9h0.8v0.8h-0.8zM399.1 627.4h0.8v0.8h-0.8zM392.6 651.9h0.8v0.8h-0.8zM395.4 632.1h0.8v0.8h-0.8zM392.4 646.7h0.8v0.8h-0.8zM396.5 652.4h0.8v0.8h-0.8zM391.7 654.1h0.8v0.8h-0.8zM399.0 647.6h0.8v0.8h-0.8zM395.3 652.8h0.8v0.8h-0.8zM398.3 652.4h0.8v0.8h-0.8zM399.3 647.5h0.8v0.8h-0.8zM393.5 639.2h0.8v0.8h-0.8zM395.3 653.7h0.8v0.8h-0.8zM398.1 632.6h0.8v0.8h-0.8zM398.2 648.2h0.8v0.8h-0.8zM395.4 629.4h0.8v0.8h-0.8zM398.1 645.7h0.8v0.8h-0.8zM393.5 653.0h0.8v0.8h-0.8zM399.4 633.9h0.8v0.8h-0.8zM393.2 637.8h0.8v0.8h-0.8zM394.9 632.2h0.8v0.8h-0.8zM399.0 648.3h0.8v0.8h-0.8zM391.4 647.5h0.8v0.8h-0.8zM391.8 650.7h0.8v0.8h-0.8zM393.4 640.3h0.8v0.8h-0.8zM397.2 650.6h0.8v0.8h-0.8zM392.4 649.6h0.8v0.8h-0.8zM391.7 646.1h0.8v0.8h-0.8zM399.7 646.9h0.8v0.8h-0.8zM392.3 648.7h0.8v0.8h-0.8zM395.3 632.6h0.8v0.8h-0.8zM392.3 649.3h0.8v0.8h-0.8zM398.1 647.4h0.8v0.8h-0.8zM399.9 629.1h0.8v0.8h-0.8zM398.4 648.1h0.8v0.8h-0.8zM398.4 651.7h0.8v0.8h-0.8zM400.9 639.2h0.8v0.8h-0.8zM393.3 652.7h0.8v0.8h-0.8zM396.6 626.6h0.8v0.8h-0.8zM396.9 653.2h0.8v0.8h-0.8zM392.3 644.7h0.8v0.8h-0.8zM400.3 646.5h0.8v0.8h-0.8zM392.1 650.4h0.8v0.8h-0.8zM394.5 635.9h0.8v0.8h-0.8zM392.4 652.4h0.8v0.8h-0.8zM393.9 637.1h0.8v0.8h-0.8zM391.6 651.2h0.8v0.8h-0.8zM394.5 630.8h0.8v0.8h-0.8zM392.8 655.3h0.8v0.8h-0.8zM396.8 651.0h0.8v0.8h-0.8zM392.0 654.5h0.8v0.8h-0.8zM392.9 652.0h0.8v0.8h-0.8zM396.4 628.0h0.8v0.8h-0.8zM395.8 631.6h0.8v0.8h-0.8zM391.9 649.9h0.8v0.8h-0.8zM392.0 645.8h0.8v0.8h-0.8zM398.7 651.0h0.8v0.8h-0.8zM393.1 655.0h0.8v0.8h-0.8zM392.1 651.4h0.8v0.8h-0.8zM392.7 655.3h0.8v0.8h-0.8zM399.3 638.9h0.8v0.8h-0.8zM392.5 650.7h0.8v0.8h-0.8zM392.3 649.1h0.8v0.8h-0.8zM392.1 646.6h0.8v0.8h-0.8zM391.8 645.9h0.8v0.8h-0.8zM391.7 651.1h0.8v0.8h-0.8zM399.6 645.0h0.8v0.8h-0.8zM391.7 645.8h0.8v0.8h-0.8zM391.8 652.6h0.8v0.8h-0.8zM392.8 640.8h0.8v0.8h-0.8zM392.3 646.1h0.8v0.8h-0.8zM394.2 654.9h0.8v0.8h-0.8zM398.2 635.1h0.8v0.8h-0.8zM391.2 649.7h0.8v0.8h-0.8zM392.0 651.5h0.8v0.8h-0.8zM392.3 652.3h0.8v0.8h-0.8zM397.9 648.5h0.8v0.8h-0.8zM392.1 650.0h0.8v0.8h-0.8zM391.3 652.6h0.8v0.8h-0.8zM400.4 633.5h0.8v0.8h-0.8zM399.6 647.4h0.8v0.8h-0.8zM397.0 649.4h0.8v0.8h-0.8zM391.4 650.5h0.8v0.8h-0.8zM397.1 649.4h0.8v0.8h-0.8zM397.4 650.6h0.8v0.8h-0.8zM394.2 636.0h0.8v0.8h-0.8zM399.2 639.0h0.8v0.8h-0.8zM399.3 639.6h0.8v0.8h-0.8zM391.5 647.3h0.8v0.8h-0.8zM398.0 627.2h0.8v0.8h-0.8zM398.6 647.2h0.8v0.8h-0.8zM395.7 652.6h0.8v0.8h-0.8zM391.4 649.5h0.8v0.8h-0.8zM399.9 636.4h0.8v0.8h-0.8zM394.7 631.2h0.8v0.8h-0.8zM394.4 633.3h0.8v0.8h-0.8zM395.3 633.5h0.8v0.8h-0.8zM391.8 650.1h0.8v0.8h-0.8zM396.6 632.7h0.8v0.8h-0.8zM394.3 632.6h0.8v0.8h-0.8zM392.8 639.1h0.8v0.8h-0.8zM395.2 653.0h0.8v0.8h-0.8zM391.7 645.7h0.8v0.8h-0.8zM398.5 640.2h0.8v0.8h-0.8zM394.2 634.9h0.8v0.8h-0.8zM394.5 631.3h0.8v0.8h-0.8zM398.1 649.0h0.8v0.8h-0.8zM392.5 641.9h0.8v0.8h-0.8zM392.7 656.2h0.8v0.8h-0.8zM397.7 651.0h0.8v0.8h-0.8zM393.7 652.9h0.8v0.8h-0.8zM392.3 652.7h0.8v0.8h-0.8zM392.3 642.6h0.8v0.8h-0.8zM400.1 636.6h0.8v0.8h-0.8zM396.0 629.5h0.8v0.8h-0.8zM395.2 653.7h0.8v0.8h-0.8zM395.3 630.9h0.8v0.8h-0.8zM392.1 653.9h0.8v0.8h-0.8zM391.4 650.2h0.8v0.8h-0.8zM396.2 629.3h0.8v0.8h-0.8zM398.7 638.3h0.8v0.8h-0.8zM395.6 632.8h0.8v0.8h-0.8zM394.8 655.0h0.8v0.8h-0.8zM398.9 650.3h0.8v0.8h-0.8zM397.1 624.9h0.8v0.8h-0.8zM398.6 647.8h0.8v0.8h-0.8zM396.1 632.4h0.8v0.8h-0.8zM398.2 652.0h0.8v0.8h-0.8zM393.0 655.9h0.8v0.8h-0.8zM395.4 652.3h0.8v0.8h-0.8zM398.1 652.5h0.8v0.8h-0.8zM394.9 634.7h0.8v0.8h-0.8zM396.7 653.6h0.8v0.8h-0.8zM397.0 632.8h0.8v0.8h-0.8zM392.0 646.2h0.8v0.8h-0.8zM399.3 637.5h0.8v0.8h-0.8zM394.9 633.9h0.8v0.8h-0.8zM398.3 629.7h0.8v0.8h-0.8zM397.7 650.6h0.8v0.8h-0.8zM397.9 650.0h0.8v0.8h-0.8zM393.0 653.5h0.8v0.8h-0.8zM392.7 652.8h0.8v0.8h-0.8zM391.2 647.4h0.8v0.8h-0.8zM398.7 638.0h0.8v0.8h-0.8zM396.6 629.1h0.8v0.8h-0.8zM397.5 631.8h0.8v0.8h-0.8zM392.1 643.7h0.8v0.8h-0.8zM393.0 640.3h0.8v0.8h-0.8zM395.8 655.0h0.8v0.8h-0.8zM391.7 647.0h0.8v0.8h-0.8zM398.2 633.6h0.8v0.8h-0.8zM392.6 652.2h0.8v0.8h-0.8zM398.3 631.5h0.8v0.8h-0.8zM398.1 647.5h0.8v0.8h-0.8zM391.7 651.8h0.8v0.8h-0.8zM398.0 625.8h0.8v0.8h-0.8zM393.8 633.7h0.8v0.8h-0.8zM395.7 631.3h0.8v0.8h-0.8zM395.7 651.6h0.8v0.8h-0.8zM396.1 652.2h0.8v0.8h-0.8zM395.9 652.9h0.8v0.8h-0.8zM396.6 653.9h0.8v0.8h-0.8zM393.1 652.2h0.8v0.8h-0.8zM392.6 653.0h0.8v0.8h-0.8zM391.7 652.7h0.8v0.8h-0.8zM396.3 626.4h0.8v0.8h-0.8zM393.1 655.3h0.8v0.8h-0.8zM399.1 635.3h0.8v0.8h-0.8zM396.6 626.4h0.8v0.8h-0.8zM400.7 639.8h0.8v0.8h-0.8zM397.1 650.0h0.8v0.8h-0.8zM393.8 633.9h0.8v0.8h-0.8zM400.0 640.0h0.8v0.8h-0.8zM399.7 649.1h0.8v0.8h-0.8zM398.5 627.9h0.8v0.8h-0.8zM391.9 650.3h0.8v0.8h-0.8zM394.2 635.6h0.8v0.8h-0.8zM400.5 639.1h0.8v0.8h-0.8zM395.4 631.6h0.8v0.8h-0.8zM392.6 654.0h0.8v0.8h-0.8zM392.8 651.7h0.8v0.8h-0.8zM395.5 629.2h0.8v0.8h-0.8zM393.1 655.0h0.8v0.8h-0.8zM393.9 652.6h0.8v0.8h-0.8zM397.7 651.8h0.8v0.8h-0.8zM392.8 653.7h0.8v0.8h-0.8zM397.1 650.8h0.8v0.8h-0.8zM392.7 643.2h0.8v0.8h-0.8zM393.8 655.8h0.8v0.8h-0.8zM393.3 636.9h0.8v0.8h-0.8zM392.0 654.1h0.8v0.8h-0.8zM397.1 626.1h0.8v0.8h-0.8zM391.7 648.8h0.8v0.8h-0.8zM393.7 637.8h0.8v0.8h-0.8zM398.6 642.2h0.8v0.8h-0.8zM393.6 639.0h0.8v0.8h-0.8zM393.7 652.4h0.8v0.8h-0.8zM398.6 647.6h0.8v0.8h-0.8zM396.9 630.3h0.8v0.8h-0.8zM398.7 644.6h0.8v0.8h-0.8zM392.6 651.8h0.8v0.8h-0.8zM394.2 636.9h0.8v0.8h-0.8zM391.3 650.3h0.8v0.8h-0.8zM393.4 653.3h0.8v0.8h-0.8zM396.2 631.6h0.8v0.8h-0.8zM400.7 639.1h0.8v0.8h-0.8zM392.0 648.8h0.8v0.8h-0.8zM399.5 640.1h0.8v0.8h-0.8zM399.2 640.5h0.8v0.8h-0.8zM395.0 634.1h0.8v0.8h-0.8zM391.9 653.5h0.8v0.8h-0.8zM396.1 631.5h0.8v0.8h-0.8zM392.9 653.8h0.8v0.8h-0.8zM398.9 649.2h0.8v0.8h-0.8zM399.4 637.9h0.8v0.8h-0.8zM394.9 634.4h0.8v0.8h-0.8zM392.9 637.3h0.8v0.8h-0.8zM394.2 654.1h0.8v0.8h-0.8zM398.6 647.7h0.8v0.8h-0.8zM399.9 645.3h0.8v0.8h-0.8zM393.4 653.1h0.8v0.8h-0.8zM396.5 652.4h0.8v0.8h-0.8zM392.4 644.8h0.8v0.8h-0.8zM392.7 638.8h0.8v0.8h-0.8zM399.9 637.5h0.8v0.8h-0.8zM399.6 630.7h0.8v0.8h-0.8zM391.9 648.0h0.8v0.8h-0.8zM394.7 632.6h0.8v0.8h-0.8zM399.5 646.9h0.8v0.8h-0.8zM396.4 652.9h0.8v0.8h-0.8zM392.3 643.6h0.8v0.8h-0.8zM393.3 639.2h0.8v0.8h-0.8zM398.2 634.4h0.8v0.8h-0.8zM393.6 635.9h0.8v0.8h-0.8zM397.6 650.6h0.8v0.8h-0.8zM393.3 654.9h0.8v0.8h-0.8zM393.1 655.1h0.8v0.8h-0.8zM392.8 656.2h0.8v0.8h-0.8zM399.1 649.3h0.8v0.8h-0.8zM398.3 648.4h0.8v0.8h-0.8zM396.1 650.9h0.8v0.8h-0.8zM395.4 631.2h0.8v0.8h-0.8zM392.5 653.1h0.8v0.8h-0.8zM398.4 650.9h0.8v0.8h-0.8zM395.3 628.4h0.8v0.8h-0.8zM392.7 643.6h0.8v0.8h-0.8zM391.7 650.0h0.8v0.8h-0.8zM397.2 651.8h0.8v0.8h-0.8zM400.9 639.8h0.8v0.8h-0.8zM392.0 647.7h0.8v0.8h-0.8zM392.8 653.3h0.8v0.8h-0.8zM393.1 652.8h0.8v0.8h-0.8zM400.1 640.8h0.8v0.8h-0.8zM396.3 631.4h0.8v0.8h-0.8zM398.8 647.3h0.8v0.8h-0.8zM398.2 652.5h0.8v0.8h-0.8zM394.7 652.9h0.8v0.8h-0.8zM392.4 644.0h0.8v0.8h-0.8zM400.8 630.9h0.8v0.8h-0.8zM399.1 634.9h0.8v0.8h-0.8zM400.2 633.5h0.8v0.8h-0.8zM396.9 650.1h0.8v0.8h-0.8zM395.5 653.5h0.8v0.8h-0.8zM394.0 637.0h0.8v0.8h-0.8zM398.5 638.3h0.8v0.8h-0.8zM394.4 655.6h0.8v0.8h-0.8zM399.3 649.9h0.8v0.8h-0.8zM400.2 645.5h0.8v0.8h-0.8zM393.8 652.7h0.8v0.8h-0.8zM392.8 654.5h0.8v0.8h-0.8zM392.3 652.8h0.8v0.8h-0.8zM393.9 655.6h0.8v0.8h-0.8zM391.4 646.0h0.8v0.8h-0.8zM399.6 649.2h0.8v0.8h-0.8zM397.2 628.0h0.8v0.8h-0.8zM392.8 643.5h0.8v0.8h-0.8zM398.6 634.9h0.8v0.8h-0.8zM393.0 652.2h0.8v0.8h-0.8zM392.8 652.4h0.8v0.8h-0.8zM394.1 632.3h0.8v0.8h-0.8zM395.5 630.8h0.8v0.8h-0.8zM394.8 630.8h0.8v0.8h-0.8zM392.6 640.7h0.8v0.8h-0.8zM400.0 640.8h0.8v0.8h-0.8zM399.9 646.6h0.8v0.8h-0.8zM394.3 634.8h0.8v0.8h-0.8zM401.1 639.9h0.8v0.8h-0.8zM391.8 649.5h0.8v0.8h-0.8zM395.0 654.1h0.8v0.8h-0.8zM397.3 631.3h0.8v0.8h-0.8zM393.1 641.5h0.8v0.8h-0.8zM398.3 636.1h0.8v0.8h-0.8zM392.7 638.6h0.8v0.8h-0.8zM393.4 653.4h0.8v0.8h-0.8zM394.1 633.2h0.8v0.8h-0.8zM394.9 653.6h0.8v0.8h-0.8zM392.8 651.7h0.8v0.8h-0.8zM395.6 653.4h0.8v0.8h-0.8zM394.6 652.1h0.8v0.8h-0.8zM392.2 642.7h0.8v0.8h-0.8zM393.7 652.6h0.8v0.8h-0.8zM398.0 634.1h0.8v0.8h-0.8zM396.4 627.7h0.8v0.8h-0.8zM398.7 646.5h0.8v0.8h-0.8zM391.6 648.9h0.8v0.8h-0.8zM392.9 654.1h0.8v0.8h-0.8zM398.6 635.2h0.8v0.8h-0.8zM392.0 647.7h0.8v0.8h-0.8zM400.3 635.2h0.8v0.8h-0.8zM392.7 653.7h0.8v0.8h-0.8zM399.9 636.3h0.8v0.8h-0.8zM400.7 630.0h0.8v0.8h-0.8zM392.0 653.6h0.8v0.8h-0.8zM396.1 651.8h0.8v0.8h-0.8zM400.0 640.9h0.8v0.8h-0.8zM394.5 632.7h0.8v0.8h-0.8zM396.7 631.3h0.8v0.8h-0.8zM395.5 653.5h0.8v0.8h-0.8zM393.2 637.8h0.8v0.8h-0.8zM392.7 652.0h0.8v0.8h-0.8zM396.1 627.1h0.8v0.8h-0.8zM395.5 654.5h0.8v0.8h-0.8zM398.2 648.4h0.8v0.8h-0.8zM392.9 638.0h0.8v0.8h-0.8zM392.2 652.4h0.8v0.8h-0.8zM398.4 635.3h0.8v0.8h-0.8zM395.5 631.5h0.8v0.8h-0.8zM398.4 645.3h0.8v0.8h-0.8zM399.1 642.5h0.8v0.8h-0.8zM399.2 633.1h0.8v0.8h-0.8zM395.1 631.8h0.8v0.8h-0.8zM393.8 654.9h0.8v0.8h-0.8zM393.9 633.8h0.8v0.8h-0.8zM391.8 645.3h0.8v0.8h-0.8zM398.2 631.7h0.8v0.8h-0.8zM392.1 651.8h0.8v0.8h-0.8zM392.6 652.4h0.8v0.8h-0.8zM395.7 654.0h0.8v0.8h-0.8zM399.3 649.2h0.8v0.8h-0.8zM392.1 651.8h0.8v0.8h-0.8zM393.7 655.2h0.8v0.8h-0.8zM394.7 655.2h0.8v0.8h-0.8zM399.1 637.6h0.8v0.8h-0.8zM397.2 652.9h0.8v0.8h-0.8zM391.8 650.0h0.8v0.8h-0.8zM393.1 656.0h0.8v0.8h-0.8zM394.0 636.3h0.8v0.8h-0.8zM395.6 628.5h0.8v0.8h-0.8zM394.1 637.0h0.8v0.8h-0.8zM392.1 654.6h0.8v0.8h-0.8zM391.3 652.0h0.8v0.8h-0.8zM397.4 633.4h0.8v0.8h-0.8zM395.2 653.5h0.8v0.8h-0.8zM392.1 650.6h0.8v0.8h-0.8zM392.5 644.3h0.8v0.8h-0.8zM391.7 651.6h0.8v0.8h-0.8zM400.1 647.4h0.8v0.8h-0.8zM399.7 641.9h0.8v0.8h-0.8zM394.4 634.8h0.8v0.8h-0.8zM397.5 627.5h0.8v0.8h-0.8zM394.0 636.4h0.8v0.8h-0.8zM400.2 629.4h0.8v0.8h-0.8zM393.2 653.5h0.8v0.8h-0.8zM392.4 644.3h0.8v0.8h-0.8zM394.3 653.8h0.8v0.8h-0.8zM399.8 643.7h0.8v0.8h-0.8zM392.0 646.6h0.8v0.8h-0.8zM392.2 649.7h0.8v0.8h-0.8zM397.0 630.1h0.8v0.8h-0.8zM392.1 652.9h0.8v0.8h-0.8zM393.0 641.5h0.8v0.8h-0.8zM391.8 645.6h0.8v0.8h-0.8zM392.4 651.7h0.8v0.8h-0.8zM396.3 631.5h0.8v0.8h-0.8zM396.9 650.6h0.8v0.8h-0.8zM398.1 650.2h0.8v0.8h-0.8zM397.2 628.3h0.8v0.8h-0.8zM394.9 654.7h0.8v0.8h-0.8zM399.9 642.6h0.8v0.8h-0.8zM400.8 639.7h0.8v0.8h-0.8zM392.2 649.3h0.8v0.8h-0.8zM392.2 654.9h0.8v0.8h-0.8zM392.8 638.5h0.8v0.8h-0.8zM393.2 655.6h0.8v0.8h-0.8zM393.0 641.1h0.8v0.8h-0.8zM392.3 655.2h0.8v0.8h-0.8zM393.8 638.0h0.8v0.8h-0.8zM391.4 648.5h0.8v0.8h-0.8zM394.9 653.8h0.8v0.8h-0.8zM396.2 632.3h0.8v0.8h-0.8zM397.9 647.7h0.8v0.8h-0.8zM395.9 629.4h0.8v0.8h-0.8zM397.5 650.8h0.8v0.8h-0.8zM399.1 642.4h0.8v0.8h-0.8zM393.0 654.1h0.8v0.8h-0.8zM392.3 650.6h0.8v0.8h-0.8zM398.2 633.4h0.8v0.8h-0.8zM397.9 646.6h0.8v0.8h-0.8zM392.6 643.4h0.8v0.8h-0.8zM399.9 643.0h0.8v0.8h-0.8zM398.8 625.5h0.8v0.8h-0.8zM398.1 630.5h0.8v0.8h-0.8zM392.5 654.9h0.8v0.8h-0.8zM394.0 635.5h0.8v0.8h-0.8zM399.4 630.4h0.8v0.8h-0.8zM398.9 633.7h0.8v0.8h-0.8zM398.6 633.4h0.8v0.8h-0.8zM396.1 654.5h0.8v0.8h-0.8zM392.4 645.1h0.8v0.8h-0.8zM393.2 652.3h0.8v0.8h-0.8zM391.4 646.7h0.8v0.8h-0.8zM392.5 651.3h0.8v0.8h-0.8zM399.2 633.4h0.8v0.8h-0.8zM393.2 654.8h0.8v0.8h-0.8zM395.3 652.8h0.8v0.8h-0.8zM398.8 642.5h0.8v0.8h-0.8zM392.3 649.4h0.8v0.8h-0.8zM391.6 646.2h0.8v0.8h-0.8zM398.3 647.0h0.8v0.8h-0.8zM391.6 649.6h0.8v0.8h-0.8zM395.7 652.9h0.8v0.8h-0.8zM394.8 635.2h0.8v0.8h-0.8zM391.4 646.9h0.8v0.8h-0.8zM398.1 633.7h0.8v0.8h-0.8zM398.6 632.7h0.8v0.8h-0.8zM392.1 651.7h0.8v0.8h-0.8zM391.5 652.3h0.8v0.8h-0.8zM393.8 654.5h0.8v0.8h-0.8zM398.8 634.3h0.8v0.8h-0.8zM393.3 652.6h0.8v0.8h-0.8zM398.0 632.4h0.8v0.8h-0.8zM399.5 649.8h0.8v0.8h-0.8zM392.7 651.9h0.8v0.8h-0.8zM392.2 648.3h0.8v0.8h-0.8zM393.6 654.0h0.8v0.8h-0.8zM395.4 653.9h0.8v0.8h-0.8zM397.0 626.5h0.8v0.8h-0.8zM393.2 638.0h0.8v0.8h-0.8zM398.0 647.7h0.8v0.8h-0.8zM398.8 637.9h0.8v0.8h-0.8zM400.3 633.9h0.8v0.8h-0.8zM398.0 646.6h0.8v0.8h-0.8zM396.8 625.2h0.8v0.8h-0.8zM393.2 640.9h0.8v0.8h-0.8zM392.2 650.4h0.8v0.8h-0.8zM393.6 636.1h0.8v0.8h-0.8zM394.3 636.8h0.8v0.8h-0.8zM393.8 634.2h0.8v0.8h-0.8zM391.7 647.5h0.8v0.8h-0.8zM393.1 655.0h0.8v0.8h-0.8zM395.6 630.9h0.8v0.8h-0.8zM393.8 638.6h0.8v0.8h-0.8zM398.8 631.8h0.8v0.8h-0.8zM392.7 652.8h0.8v0.8h-0.8zM396.3 627.6h0.8v0.8h-0.8zM397.9 633.1h0.8v0.8h-0.8zM392.4 639.6h0.8v0.8h-0.8zM398.5 637.3h0.8v0.8h-0.8zM395.9 651.4h0.8v0.8h-0.8zM399.0 633.4h0.8v0.8h-0.8zM397.4 631.8h0.8v0.8h-0.8zM392.0 643.2h0.8v0.8h-0.8zM392.4 650.9h0.8v0.8h-0.8zM393.2 641.5h0.8v0.8h-0.8zM399.3 647.8h0.8v0.8h-0.8zM398.1 650.1h0.8v0.8h-0.8zM396.3 631.1h0.8v0.8h-0.8zM396.2 651.2h0.8v0.8h-0.8zM398.5 638.3h0.8v0.8h-0.8zM397.8 648.9h0.8v0.8h-0.8zM400.1 637.8h0.8v0.8h-0.8zM392.3 641.1h0.8v0.8h-0.8zM394.9 653.9h0.8v0.8h-0.8zM394.2 635.4h0.8v0.8h-0.8zM392.6 651.7h0.8v0.8h-0.8zM392.4 654.0h0.8v0.8h-0.8zM392.3 646.6h0.8v0.8h-0.8zM399.6 638.2h0.8v0.8h-0.8zM400.6 635.6h0.8v0.8h-0.8zM400.2 629.1h0.8v0.8h-0.8zM392.9 651.7h0.8v0.8h-0.8zM400.5 641.2h0.8v0.8h-0.8zM398.0 647.6h0.8v0.8h-0.8zM397.4 650.0h0.8v0.8h-0.8zM396.4 631.1h0.8v0.8h-0.8zM393.4 653.3h0.8v0.8h-0.8zM392.0 651.5h0.8v0.8h-0.8zM397.5 632.1h0.8v0.8h-0.8zM396.9 654.2h0.8v0.8h-0.8zM395.8 627.2h0.8v0.8h-0.8zM394.9 630.1h0.8v0.8h-0.8zM391.8 653.7h0.8v0.8h-0.8zM394.8 653.0h0.8v0.8h-0.8zM393.4 652.3h0.8v0.8h-0.8zM393.5 636.6h0.8v0.8h-0.8zM391.7 649.8h0.8v0.8h-0.8zM397.2 625.0h0.8v0.8h-0.8zM395.9 651.0h0.8v0.8h-0.8zM391.9 652.2h0.8v0.8h-0.8zM391.5 651.6h0.8v0.8h-0.8zM397.8 650.5h0.8v0.8h-0.8zM394.1 636.1h0.8v0.8h-0.8zM397.3 631.6h0.8v0.8h-0.8zM396.5 632.5h0.8v0.8h-0.8zM392.6 651.5h0.8v0.8h-0.8zM391.2 649.9h0.8v0.8h-0.8zM392.0 642.1h0.8v0.8h-0.8zM394.9 631.7h0.8v0.8h-0.8zM395.9 627.4h0.8v0.8h-0.8zM394.9 633.7h0.8v0.8h-0.8zM396.1 631.8h0.8v0.8h-0.8zM399.0 648.5h0.8v0.8h-0.8zM400.2 636.6h0.8v0.8h-0.8zM393.5 652.7h0.8v0.8h-0.8zM394.0 653.5h0.8v0.8h-0.8zM395.9 654.6h0.8v0.8h-0.8zM393.6 639.1h0.8v0.8h-0.8zM397.7 647.7h0.8v0.8h-0.8zM399.8 646.0h0.8v0.8h-0.8zM397.8 648.4h0.8v0.8h-0.8zM392.3 653.5h0.8v0.8h-0.8zM398.0 651.0h0.8v0.8h-0.8zM400.9 632.0h0.8v0.8h-0.8zM391.9 644.1h0.8v0.8h-0.8zM391.4 652.2h0.8v0.8h-0.8zM393.3 654.6h0.8v0.8h-0.8zM395.0 654.4h0.8v0.8h-0.8zM392.4 644.4h0.8v0.8h-0.8zM392.4 645.0h0.8v0.8h-0.8zM393.1 641.9h0.8v0.8h-0.8zM391.4 652.5h0.8v0.8h-0.8zM397.5 651.6h0.8v0.8h-0.8zM394.1 632.2h0.8v0.8h-0.8zM394.0 652.2h0.8v0.8h-0.8zM394.0 636.9h0.8v0.8h-0.8zM396.7 651.0h0.8v0.8h-0.8zM392.3 647.4h0.8v0.8h-0.8zM391.8 651.6h0.8v0.8h-0.8zM395.4 632.0h0.8v0.8h-0.8zM398.0 629.5h0.8v0.8h-0.8zM392.1 642.8h0.8v0.8h-0.8zM392.9 655.7h0.8v0.8h-0.8zM395.0 633.2h0.8v0.8h-0.8zM392.4 645.1h0.8v0.8h-0.8zM400.2 638.8h0.8v0.8h-0.8zM399.3 636.5h0.8v0.8h-0.8zM392.8 652.3h0.8v0.8h-0.8zM392.7 642.2h0.8v0.8h-0.8zM391.5 648.0h0.8v0.8h-0.8zM396.4 652.5h0.8v0.8h-0.8zM397.9 646.7h0.8v0.8h-0.8zM395.2 631.1h0.8v0.8h-0.8zM394.3 653.6h0.8v0.8h-0.8zM398.3 647.2h0.8v0.8h-0.8zM395.7 652.8h0.8v0.8h-0.8zM399.5 642.2h0.8v0.8h-0.8zM399.5 640.6h0.8v0.8h-0.8zM400.8 634.2h0.8v0.8h-0.8zM392.1 648.4h0.8v0.8h-0.8zM396.7 628.0h0.8v0.8h-0.8zM398.9 631.9h0.8v0.8h-0.8zM392.5 651.5h0.8v0.8h-0.8zM397.8 649.2h0.8v0.8h-0.8zM392.3 653.9h0.8v0.8h-0.8zM399.8 638.3h0.8v0.8h-0.8zM399.7 649.1h0.8v0.8h-0.8zM398.7 633.3h0.8v0.8h-0.8z" fill="#2a66d4" opacity="1"/>
<path d="M392.5 647.2h0.8v0.8h-0.8zM397.1 647.9h0.8v0.8h-0.8zM396.6 636.3h0.8v0.8h-0.8zM397.5 643.2h0.8v0.8h-0.8zM394.9 636.1h0.8v0.8h-0.8zM397.9 639.4h0.8v0.8h-0.8zM396.0 650.9h0.8v0.8h-0.8zM395.5 635.2h0.8v0.8h-0.8zM394.1 650.1h0.8v0.8h-0.8zM397.5 645.0h0.8v0.8h-0.8zM393.2 651.9h0.8v0.8h-0.8zM393.2 651.9h0.8v0.8h-0.8zM394.2 639.3h0.8v0.8h-0.8zM393.0 646.9h0.8v0.8h-0.8zM394.9 650.7h0.8v0.8h-0.8zM396.4 635.7h0.8v0.8h-0.8zM393.2 650.9h0.8v0.8h-0.8zM396.5 647.6h0.8v0.8h-0.8zM393.1 644.8h0.8v0.8h-0.8zM397.4 645.8h0.8v0.8h-0.8zM393.9 650.5h0.8v0.8h-0.8zM395.2 635.5h0.8v0.8h-0.8zM396.5 634.5h0.8v0.8h-0.8zM394.9 649.5h0.8v0.8h-0.8zM397.4 642.9h0.8v0.8h-0.8zM397.9 642.6h0.8v0.8h-0.8zM392.5 647.2h0.8v0.8h-0.8zM394.8 651.5h0.8v0.8h-0.8zM392.7 644.2h0.8v0.8h-0.8zM396.4 648.5h0.8v0.8h-0.8zM394.1 638.3h0.8v0.8h-0.8zM393.4 651.9h0.8v0.8h-0.8zM394.4 651.8h0.8v0.8h-0.8zM397.6 638.0h0.8v0.8h-0.8zM396.1 635.7h0.8v0.8h-0.8zM397.4 647.3h0.8v0.8h-0.8zM395.0 637.6h0.8v0.8h-0.8zM395.9 637.2h0.8v0.8h-0.8zM394.4 650.1h0.8v0.8h-0.8zM394.3 651.7h0.8v0.8h-0.8zM392.9 644.9h0.8v0.8h-0.8zM393.0 651.8h0.8v0.8h-0.8zM396.7 646.5h0.8v0.8h-0.8zM397.9 636.2h0.8v0.8h-0.8zM397.4 634.5h0.8v0.8h-0.8zM394.6 637.0h0.8v0.8h-0.8zM395.5 650.0h0.8v0.8h-0.8zM393.8 641.0h0.8v0.8h-0.8zM397.3 642.8h0.8v0.8h-0.8zM394.8 638.3h0.8v0.8h-0.8zM396.7 648.2h0.8v0.8h-0.8zM393.1 643.7h0.8v0.8h-0.8zM397.7 647.0h0.8v0.8h-0.8zM393.4 651.1h0.8v0.8h-0.8zM393.2 643.5h0.8v0.8h-0.8zM395.7 633.7h0.8v0.8h-0.8zM396.6 649.1h0.8v0.8h-0.8zM397.0 636.8h0.8v0.8h-0.8zM396.9 640.0h0.8v0.8h-0.8zM393.0 645.0h0.8v0.8h-0.8zM393.6 642.6h0.8v0.8h-0.8zM397.5 635.5h0.8v0.8h-0.8zM397.0 641.6h0.8v0.8h-0.8zM394.1 639.4h0.8v0.8h-0.8zM394.8 649.7h0.8v0.8h-0.8zM396.7 635.8h0.8v0.8h-0.8zM394.0 640.2h0.8v0.8h-0.8zM396.3 636.3h0.8v0.8h-0.8zM393.7 641.3h0.8v0.8h-0.8zM393.5 649.9h0.8v0.8h-0.8zM395.3 635.8h0.8v0.8h-0.8zM393.6 650.8h0.8v0.8h-0.8zM394.0 650.1h0.8v0.8h-0.8zM397.3 647.8h0.8v0.8h-0.8zM396.8 634.1h0.8v0.8h-0.8zM395.1 650.0h0.8v0.8h-0.8zM396.7 648.4h0.8v0.8h-0.8zM392.8 648.2h0.8v0.8h-0.8zM393.0 646.1h0.8v0.8h-0.8zM394.9 650.4h0.8v0.8h-0.8zM394.1 651.8h0.8v0.8h-0.8zM394.4 650.4h0.8v0.8h-0.8zM392.9 644.7h0.8v0.8h-0.8zM398.2 644.0h0.8v0.8h-0.8zM396.6 647.1h0.8v0.8h-0.8zM396.7 645.9h0.8v0.8h-0.8zM392.9 648.5h0.8v0.8h-0.8zM396.1 648.2h0.8v0.8h-0.8zM396.9 636.1h0.8v0.8h-0.8zM397.4 645.1h0.8v0.8h-0.8zM397.8 642.2h0.8v0.8h-0.8zM393.4 643.5h0.8v0.8h-0.8zM397.2 647.0h0.8v0.8h-0.8zM396.6 648.5h0.8v0.8h-0.8zM396.9 647.7h0.8v0.8h-0.8zM392.9 649.9h0.8v0.8h-0.8zM393.3 641.3h0.8v0.8h-0.8zM397.9 642.6h0.8v0.8h-0.8zM396.6 637.0h0.8v0.8h-0.8zM393.0 646.3h0.8v0.8h-0.8zM392.8 646.3h0.8v0.8h-0.8zM396.9 647.8h0.8v0.8h-0.8zM392.8 647.0h0.8v0.8h-0.8zM395.9 650.1h0.8v0.8h-0.8zM394.2 638.5h0.8v0.8h-0.8zM393.1 651.0h0.8v0.8h-0.8zM396.8 648.8h0.8v0.8h-0.8zM392.9 647.2h0.8v0.8h-0.8zM395.8 650.6h0.8v0.8h-0.8zM393.7 640.6h0.8v0.8h-0.8zM394.9 637.1h0.8v0.8h-0.8zM392.5 648.3h0.8v0.8h-0.8zM392.6 649.4h0.8v0.8h-0.8zM396.6 635.0h0.8v0.8h-0.8zM395.1 634.9h0.8v0.8h-0.8zM396.7 638.8h0.8v0.8h-0.8zM396.2 649.2h0.8v0.8h-0.8zM395.1 634.5h0.8v0.8h-0.8zM397.0 646.3h0.8v0.8h-0.8zM394.8 637.2h0.8v0.8h-0.8zM393.6 641.8h0.8v0.8h-0.8zM397.6 644.3h0.8v0.8h-0.8zM392.7 650.3h0.8v0.8h-0.8zM398.0 644.8h0.8v0.8h-0.8zM395.4 634.4h0.8v0.8h-0.8zM397.0 644.9h0.8v0.8h-0.8zM398.1 644.4h0.8v0.8h-0.8zM394.8 637.2h0.8v0.8h-0.8zM393.0 651.7h0.8v0.8h-0.8zM397.0 648.5h0.8v0.8h-0.8zM394.9 649.6h0.8v0.8h-0.8zM396.8 638.1h0.8v0.8h-0.8zM395.4 649.7h0.8v0.8h-0.8zM396.9 647.4h0.8v0.8h-0.8zM394.8 651.5h0.8v0.8h-0.8zM393.1 651.1h0.8v0.8h-0.8zM393.1 652.0h0.8v0.8h-0.8zM398.0 640.1h0.8v0.8h-0.8zM392.8 648.4h0.8v0.8h-0.8zM397.4 646.6h0.8v0.8h-0.8zM395.2 635.4h0.8v0.8h-0.8zM395.4 650.9h0.8v0.8h-0.8zM392.7 646.9h0.8v0.8h-0.8zM397.2 643.2h0.8v0.8h-0.8zM393.8 650.5h0.8v0.8h-0.8zM397.2 647.3h0.8v0.8h-0.8zM394.9 636.2h0.8v0.8h-0.8zM393.9 650.4h0.8v0.8h-0.8zM394.1 640.1h0.8v0.8h-0.8zM393.6 650.9h0.8v0.8h-0.8zM395.7 636.3h0.8v0.8h-0.8zM397.9 639.4h0.8v0.8h-0.8zM396.7 633.5h0.8v0.8h-0.8zM396.2 650.4h0.8v0.8h-0.8zM392.4 647.5h0.8v0.8h-0.8zM393.6 642.9h0.8v0.8h-0.8zM393.5 650.0h0.8v0.8h-0.8zM396.6 647.9h0.8v0.8h-0.8zM397.2 638.4h0.8v0.8h-0.8zM392.4 648.5h0.8v0.8h-0.8zM394.9 636.8h0.8v0.8h-0.8zM396.6 646.1h0.8v0.8h-0.8zM397.6 639.2h0.8v0.8h-0.8zM393.0 648.6h0.8v0.8h-0.8zM395.6 637.2h0.8v0.8h-0.8zM392.8 649.0h0.8v0.8h-0.8zM397.4 646.7h0.8v0.8h-0.8zM394.6 651.2h0.8v0.8h-0.8zM397.0 645.8h0.8v0.8h-0.8zM397.4 635.9h0.8v0.8h-0.8zM397.4 643.3h0.8v0.8h-0.8zM392.9 647.9h0.8v0.8h-0.8zM395.0 650.9h0.8v0.8h-0.8zM392.8 649.2h0.8v0.8h-0.8zM392.4 647.2h0.8v0.8h-0.8zM395.3 651.4h0.8v0.8h-0.8zM394.1 650.0h0.8v0.8h-0.8zM393.7 650.0h0.8v0.8h-0.8zM397.2 638.5h0.8v0.8h-0.8zM392.8 646.4h0.8v0.8h-0.8zM396.5 647.9h0.8v0.8h-0.8zM396.1 636.0h0.8v0.8h-0.8zM393.8 641.0h0.8v0.8h-0.8zM393.8 641.1h0.8v0.8h-0.8zM392.5 647.5h0.8v0.8h-0.8zM396.9 647.0h0.8v0.8h-0.8zM394.5 639.1h0.8v0.8h-0.8zM397.1 640.4h0.8v0.8h-0.8zM397.1 636.1h0.8v0.8h-0.8zM397.5 642.2h0.8v0.8h-0.8zM396.1 636.2h0.8v0.8h-0.8zM398.2 637.0h0.8v0.8h-0.8zM397.0 648.0h0.8v0.8h-0.8zM393.8 651.4h0.8v0.8h-0.8zM394.6 637.6h0.8v0.8h-0.8zM396.3 637.0h0.8v0.8h-0.8zM393.7 652.0h0.8v0.8h-0.8zM395.2 650.5h0.8v0.8h-0.8zM393.8 650.9h0.8v0.8h-0.8zM395.2 650.9h0.8v0.8h-0.8zM392.8 647.4h0.8v0.8h-0.8zM395.1 635.9h0.8v0.8h-0.8zM395.8 650.1h0.8v0.8h-0.8zM394.0 638.5h0.8v0.8h-0.8zM393.0 648.5h0.8v0.8h-0.8zM394.9 636.6h0.8v0.8h-0.8zM393.2 651.2h0.8v0.8h-0.8zM395.5 635.8h0.8v0.8h-0.8zM397.0 645.9h0.8v0.8h-0.8zM398.1 637.7h0.8v0.8h-0.8zM396.8 634.3h0.8v0.8h-0.8zM397.2 642.3h0.8v0.8h-0.8zM394.5 638.7h0.8v0.8h-0.8zM394.5 650.2h0.8v0.8h-0.8zM392.8 649.5h0.8v0.8h-0.8zM395.2 651.3h0.8v0.8h-0.8zM395.0 637.6h0.8v0.8h-0.8zM393.1 651.6h0.8v0.8h-0.8zM397.3 645.1h0.8v0.8h-0.8zM392.5 647.6h0.8v0.8h-0.8zM394.8 638.2h0.8v0.8h-0.8zM395.0 636.1h0.8v0.8h-0.8zM398.1 642.7h0.8v0.8h-0.8zM397.9 637.5h0.8v0.8h-0.8zM397.2 639.6h0.8v0.8h-0.8zM398.1 636.5h0.8v0.8h-0.8zM395.7 648.9h0.8v0.8h-0.8zM393.8 652.1h0.8v0.8h-0.8zM398.0 640.8h0.8v0.8h-0.8zM393.1 649.1h0.8v0.8h-0.8zM395.1 634.9h0.8v0.8h-0.8zM393.7 650.0h0.8v0.8h-0.8zM393.2 651.9h0.8v0.8h-0.8zM397.0 646.2h0.8v0.8h-0.8zM396.8 633.6h0.8v0.8h-0.8zM394.3 650.4h0.8v0.8h-0.8zM393.1 644.7h0.8v0.8h-0.8zM393.5 650.3h0.8v0.8h-0.8zM392.9 643.4h0.8v0.8h-0.8zM393.8 640.9h0.8v0.8h-0.8zM395.7 635.5h0.8v0.8h-0.8zM395.8 649.5h0.8v0.8h-0.8zM393.3 651.9h0.8v0.8h-0.8zM394.9 637.2h0.8v0.8h-0.8zM395.4 651.3h0.8v0.8h-0.8zM396.8 646.6h0.8v0.8h-0.8zM392.8 648.7h0.8v0.8h-0.8zM394.4 651.5h0.8v0.8h-0.8zM398.3 641.0h0.8v0.8h-0.8zM398.3 642.2h0.8v0.8h-0.8zM392.7 645.6h0.8v0.8h-0.8zM395.3 637.2h0.8v0.8h-0.8zM394.1 639.0h0.8v0.8h-0.8zM392.8 648.9h0.8v0.8h-0.8zM393.4 643.4h0.8v0.8h-0.8zM394.3 639.9h0.8v0.8h-0.8zM393.1 651.0h0.8v0.8h-0.8zM396.9 649.0h0.8v0.8h-0.8zM396.5 647.6h0.8v0.8h-0.8zM393.6 650.6h0.8v0.8h-0.8zM393.4 652.1h0.8v0.8h-0.8zM392.7 646.8h0.8v0.8h-0.8zM396.7 633.2h0.8v0.8h-0.8zM396.9 649.3h0.8v0.8h-0.8zM397.3 648.6h0.8v0.8h-0.8zM392.6 650.5h0.8v0.8h-0.8zM397.5 637.5h0.8v0.8h-0.8zM394.6 649.9h0.8v0.8h-0.8zM395.7 635.5h0.8v0.8h-0.8zM392.9 650.1h0.8v0.8h-0.8zM396.7 635.5h0.8v0.8h-0.8zM398.0 638.8h0.8v0.8h-0.8zM393.9 639.7h0.8v0.8h-0.8zM394.0 639.4h0.8v0.8h-0.8zM395.2 634.3h0.8v0.8h-0.8zM392.9 647.9h0.8v0.8h-0.8zM397.9 639.6h0.8v0.8h-0.8zM393.1 642.3h0.8v0.8h-0.8zM392.9 650.3h0.8v0.8h-0.8zM397.4 648.1h0.8v0.8h-0.8zM396.6 647.9h0.8v0.8h-0.8zM393.4 651.5h0.8v0.8h-0.8zM394.8 637.3h0.8v0.8h-0.8zM392.8 651.1h0.8v0.8h-0.8zM394.1 639.3h0.8v0.8h-0.8zM393.4 652.1h0.8v0.8h-0.8zM397.4 648.3h0.8v0.8h-0.8zM393.1 649.8h0.8v0.8h-0.8zM394.3 640.0h0.8v0.8h-0.8zM392.8 645.4h0.8v0.8h-0.8zM393.4 651.2h0.8v0.8h-0.8zM395.3 636.9h0.8v0.8h-0.8zM397.7 646.3h0.8v0.8h-0.8zM393.4 650.9h0.8v0.8h-0.8zM396.3 636.4h0.8v0.8h-0.8zM395.5 650.1h0.8v0.8h-0.8zM396.6 649.0h0.8v0.8h-0.8zM394.4 652.0h0.8v0.8h-0.8zM393.1 649.7h0.8v0.8h-0.8zM396.0 633.1h0.8v0.8h-0.8zM395.5 635.2h0.8v0.8h-0.8zM397.4 646.6h0.8v0.8h-0.8zM397.1 645.8h0.8v0.8h-0.8zM395.9 633.9h0.8v0.8h-0.8zM394.1 650.5h0.8v0.8h-0.8zM395.9 650.4h0.8v0.8h-0.8zM395.9 634.7h0.8v0.8h-0.8zM397.3 646.0h0.8v0.8h-0.8zM395.8 648.6h0.8v0.8h-0.8zM394.4 650.0h0.8v0.8h-0.8zM394.3 639.9h0.8v0.8h-0.8zM392.7 651.0h0.8v0.8h-0.8zM395.0 635.3h0.8v0.8h-0.8zM397.2 647.7h0.8v0.8h-0.8zM396.4 638.3h0.8v0.8h-0.8zM393.0 650.4h0.8v0.8h-0.8zM393.4 643.8h0.8v0.8h-0.8zM395.3 636.8h0.8v0.8h-0.8zM392.4 649.5h0.8v0.8h-0.8zM397.7 636.3h0.8v0.8h-0.8zM397.6 641.7h0.8v0.8h-0.8zM395.4 650.7h0.8v0.8h-0.8zM395.6 635.6h0.8v0.8h-0.8zM393.0 651.8h0.8v0.8h-0.8zM395.0 649.8h0.8v0.8h-0.8zM393.0 645.1h0.8v0.8h-0.8zM393.6 651.2h0.8v0.8h-0.8zM393.2 651.9h0.8v0.8h-0.8zM396.2 636.6h0.8v0.8h-0.8zM393.6 650.3h0.8v0.8h-0.8zM392.9 650.2h0.8v0.8h-0.8zM393.7 642.2h0.8v0.8h-0.8zM397.6 646.7h0.8v0.8h-0.8zM393.2 642.1h0.8v0.8h-0.8zM393.0 649.4h0.8v0.8h-0.8zM396.0 648.2h0.8v0.8h-0.8zM393.0 644.1h0.8v0.8h-0.8zM395.3 634.4h0.8v0.8h-0.8zM393.0 650.9h0.8v0.8h-0.8zM392.8 651.0h0.8v0.8h-0.8zM394.8 650.4h0.8v0.8h-0.8zM393.4 651.8h0.8v0.8h-0.8zM394.8 637.6h0.8v0.8h-0.8zM397.6 641.2h0.8v0.8h-0.8zM396.5 634.0h0.8v0.8h-0.8zM395.3 650.0h0.8v0.8h-0.8zM393.0 646.4h0.8v0.8h-0.8zM392.8 645.9h0.8v0.8h-0.8zM396.5 648.6h0.8v0.8h-0.8zM398.1 636.2h0.8v0.8h-0.8zM397.2 645.2h0.8v0.8h-0.8zM397.3 643.2h0.8v0.8h-0.8zM394.2 650.4h0.8v0.8h-0.8zM397.5 646.0h0.8v0.8h-0.8zM395.2 634.8h0.8v0.8h-0.8zM396.9 643.9h0.8v0.8h-0.8zM395.2 634.3h0.8v0.8h-0.8zM392.8 648.4h0.8v0.8h-0.8zM397.1 639.6h0.8v0.8h-0.8zM394.0 651.0h0.8v0.8h-0.8zM396.2 633.3h0.8v0.8h-0.8zM395.0 651.4h0.8v0.8h-0.8zM396.3 634.6h0.8v0.8h-0.8zM398.0 642.9h0.8v0.8h-0.8zM393.2 644.6h0.8v0.8h-0.8zM393.0 649.6h0.8v0.8h-0.8zM394.6 637.1h0.8v0.8h-0.8zM397.0 647.1h0.8v0.8h-0.8zM398.3 642.2h0.8v0.8h-0.8zM393.5 650.3h0.8v0.8h-0.8zM395.2 650.4h0.8v0.8h-0.8zM396.9 637.3h0.8v0.8h-0.8zM392.6 648.6h0.8v0.8h-0.8zM394.5 651.9h0.8v0.8h-0.8zM393.3 651.9h0.8v0.8h-0.8zM395.2 635.1h0.8v0.8h-0.8zM397.0 645.9h0.8v0.8h-0.8zM397.6 636.2h0.8v0.8h-0.8zM397.2 645.9h0.8v0.8h-0.8zM398.0 636.4h0.8v0.8h-0.8zM394.9 650.0h0.8v0.8h-0.8zM393.6 650.2h0.8v0.8h-0.8zM397.2 645.4h0.8v0.8h-0.8zM396.9 642.9h0.8v0.8h-0.8zM398.2 643.0h0.8v0.8h-0.8zM392.8 647.1h0.8v0.8h-0.8zM397.0 642.3h0.8v0.8h-0.8zM397.3 645.9h0.8v0.8h-0.8zM393.7 651.1h0.8v0.8h-0.8zM393.9 639.2h0.8v0.8h-0.8zM393.7 640.1h0.8v0.8h-0.8zM395.5 636.4h0.8v0.8h-0.8zM396.8 635.8h0.8v0.8h-0.8zM393.5 643.2h0.8v0.8h-0.8zM397.2 641.3h0.8v0.8h-0.8zM394.0 639.9h0.8v0.8h-0.8zM395.7 650.8h0.8v0.8h-0.8zM393.7 650.8h0.8v0.8h-0.8zM395.1 637.0h0.8v0.8h-0.8zM396.2 637.4h0.8v0.8h-0.8zM396.6 648.2h0.8v0.8h-0.8zM397.0 646.2h0.8v0.8h-0.8zM392.8 651.3h0.8v0.8h-0.8zM393.2 650.5h0.8v0.8h-0.8zM393.2 642.5h0.8v0.8h-0.8zM393.5 652.1h0.8v0.8h-0.8zM397.2 635.1h0.8v0.8h-0.8zM396.1 634.5h0.8v0.8h-0.8zM394.1 652.1h0.8v0.8h-0.8zM395.8 650.5h0.8v0.8h-0.8zM396.9 639.5h0.8v0.8h-0.8zM396.7 648.4h0.8v0.8h-0.8zM396.3 647.8h0.8v0.8h-0.8zM395.1 650.5h0.8v0.8h-0.8zM393.0 647.5h0.8v0.8h-0.8zM394.7 637.0h0.8v0.8h-0.8zM397.7 647.0h0.8v0.8h-0.8zM393.1 644.0h0.8v0.8h-0.8zM395.7 635.7h0.8v0.8h-0.8zM396.6 635.0h0.8v0.8h-0.8zM397.7 636.2h0.8v0.8h-0.8zM397.5 640.3h0.8v0.8h-0.8zM392.7 645.8h0.8v0.8h-0.8zM395.9 649.0h0.8v0.8h-0.8zM392.9 650.5h0.8v0.8h-0.8zM395.4 636.7h0.8v0.8h-0.8zM395.4 636.8h0.8v0.8h-0.8zM394.9 636.4h0.8v0.8h-0.8zM397.4 635.6h0.8v0.8h-0.8zM396.6 647.2h0.8v0.8h-0.8zM397.0 648.6h0.8v0.8h-0.8zM395.7 649.3h0.8v0.8h-0.8zM394.5 650.5h0.8v0.8h-0.8zM393.0 642.6h0.8v0.8h-0.8zM396.8 639.2h0.8v0.8h-0.8zM393.1 643.9h0.8v0.8h-0.8zM393.8 639.2h0.8v0.8h-0.8zM396.6 646.4h0.8v0.8h-0.8zM394.0 651.9h0.8v0.8h-0.8zM392.9 650.1h0.8v0.8h-0.8zM395.8 650.2h0.8v0.8h-0.8zM398.0 640.8h0.8v0.8h-0.8zM397.3 648.0h0.8v0.8h-0.8zM395.5 633.8h0.8v0.8h-0.8zM393.0 645.1h0.8v0.8h-0.8zM397.1 648.8h0.8v0.8h-0.8zM396.8 637.5h0.8v0.8h-0.8zM394.8 651.1h0.8v0.8h-0.8zM397.5 640.7h0.8v0.8h-0.8zM392.8 647.0h0.8v0.8h-0.8zM393.2 645.2h0.8v0.8h-0.8zM397.5 641.2h0.8v0.8h-0.8zM397.5 647.0h0.8v0.8h-0.8zM396.1 635.6h0.8v0.8h-0.8zM396.5 636.4h0.8v0.8h-0.8zM394.5 638.8h0.8v0.8h-0.8zM394.7 637.0h0.8v0.8h-0.8zM395.8 650.7h0.8v0.8h-0.8zM395.6 650.1h0.8v0.8h-0.8zM393.8 651.9h0.8v0.8h-0.8zM397.7 642.8h0.8v0.8h-0.8zM396.3 647.9h0.8v0.8h-0.8zM395.8 633.3h0.8v0.8h-0.8zM395.0 650.8h0.8v0.8h-0.8zM393.2 643.4h0.8v0.8h-0.8zM393.7 650.4h0.8v0.8h-0.8zM395.3 636.3h0.8v0.8h-0.8zM397.3 648.7h0.8v0.8h-0.8zM392.8 644.7h0.8v0.8h-0.8zM395.3 650.4h0.8v0.8h-0.8zM393.0 647.2h0.8v0.8h-0.8zM396.9 641.0h0.8v0.8h-0.8zM395.4 650.3h0.8v0.8h-0.8zM392.5 647.7h0.8v0.8h-0.8zM393.0 646.5h0.8v0.8h-0.8zM394.8 636.9h0.8v0.8h-0.8zM392.9 650.8h0.8v0.8h-0.8zM394.4 638.0h0.8v0.8h-0.8zM395.9 633.4h0.8v0.8h-0.8zM393.1 644.2h0.8v0.8h-0.8zM393.0 647.6h0.8v0.8h-0.8zM395.8 650.1h0.8v0.8h-0.8zM397.7 647.2h0.8v0.8h-0.8zM393.4 652.1h0.8v0.8h-0.8zM394.7 637.8h0.8v0.8h-0.8zM397.0 648.0h0.8v0.8h-0.8zM394.4 636.6h0.8v0.8h-0.8zM395.6 650.7h0.8v0.8h-0.8zM397.3 634.0h0.8v0.8h-0.8zM393.5 640.5h0.8v0.8h-0.8zM395.2 636.4h0.8v0.8h-0.8zM395.3 635.2h0.8v0.8h-0.8zM392.5 649.4h0.8v0.8h-0.8zM395.9 633.4h0.8v0.8h-0.8zM394.7 650.3h0.8v0.8h-0.8zM394.4 650.5h0.8v0.8h-0.8zM393.5 642.7h0.8v0.8h-0.8zM393.3 641.7h0.8v0.8h-0.8zM397.1 648.1h0.8v0.8h-0.8zM393.2 650.7h0.8v0.8h-0.8zM396.9 648.0h0.8v0.8h-0.8zM395.8 633.6h0.8v0.8h-0.8zM393.0 649.4h0.8v0.8h-0.8zM393.9 640.5h0.8v0.8h-0.8zM392.4 647.3h0.8v0.8h-0.8zM392.9 647.9h0.8v0.8h-0.8zM392.6 646.3h0.8v0.8h-0.8zM395.7 648.8h0.8v0.8h-0.8zM395.5 650.3h0.8v0.8h-0.8zM397.7 646.5h0.8v0.8h-0.8zM397.4 646.2h0.8v0.8h-0.8zM395.4 651.0h0.8v0.8h-0.8zM394.3 651.8h0.8v0.8h-0.8zM397.6 644.7h0.8v0.8h-0.8zM395.9 633.7h0.8v0.8h-0.8zM396.4 649.6h0.8v0.8h-0.8zM397.0 640.6h0.8v0.8h-0.8zM396.7 649.6h0.8v0.8h-0.8zM396.4 650.3h0.8v0.8h-0.8zM395.9 650.1h0.8v0.8h-0.8zM395.6 636.1h0.8v0.8h-0.8zM392.5 645.8h0.8v0.8h-0.8zM393.3 651.4h0.8v0.8h-0.8zM392.9 646.1h0.8v0.8h-0.8zM393.3 642.2h0.8v0.8h-0.8zM397.9 646.3h0.8v0.8h-0.8zM393.3 642.9h0.8v0.8h-0.8zM392.7 645.4h0.8v0.8h-0.8zM395.8 634.3h0.8v0.8h-0.8zM395.7 636.4h0.8v0.8h-0.8zM395.3 637.2h0.8v0.8h-0.8zM397.1 649.0h0.8v0.8h-0.8zM398.1 636.1h0.8v0.8h-0.8zM395.7 635.1h0.8v0.8h-0.8zM398.1 640.4h0.8v0.8h-0.8zM395.0 636.5h0.8v0.8h-0.8zM393.6 641.6h0.8v0.8h-0.8zM397.1 647.6h0.8v0.8h-0.8zM393.9 650.7h0.8v0.8h-0.8zM398.0 643.6h0.8v0.8h-0.8zM396.5 636.8h0.8v0.8h-0.8zM392.7 648.4h0.8v0.8h-0.8zM395.3 635.7h0.8v0.8h-0.8zM398.0 638.9h0.8v0.8h-0.8zM393.5 649.9h0.8v0.8h-0.8zM396.7 649.4h0.8v0.8h-0.8zM392.4 647.1h0.8v0.8h-0.8zM397.2 646.2h0.8v0.8h-0.8zM394.7 651.6h0.8v0.8h-0.8zM392.7 647.6h0.8v0.8h-0.8zM394.4 650.1h0.8v0.8h-0.8zM397.9 637.5h0.8v0.8h-0.8zM394.5 636.3h0.8v0.8h-0.8zM394.5 638.0h0.8v0.8h-0.8zM393.0 650.2h0.8v0.8h-0.8zM393.2 649.0h0.8v0.8h-0.8zM397.0 638.5h0.8v0.8h-0.8zM394.2 637.5h0.8v0.8h-0.8zM393.4 649.7h0.8v0.8h-0.8zM395.7 635.5h0.8v0.8h-0.8zM393.0 647.5h0.8v0.8h-0.8zM393.8 640.7h0.8v0.8h-0.8zM392.6 645.0h0.8v0.8h-0.8zM397.2 636.7h0.8v0.8h-0.8zM395.7 633.3h0.8v0.8h-0.8zM397.3 635.2h0.8v0.8h-0.8zM393.4 640.7h0.8v0.8h-0.8zM392.8 650.6h0.8v0.8h-0.8zM394.9 638.2h0.8v0.8h-0.8zM392.9 647.0h0.8v0.8h-0.8zM396.8 646.9h0.8v0.8h-0.8zM394.5 649.9h0.8v0.8h-0.8zM393.4 641.5h0.8v0.8h-0.8zM395.0 650.5h0.8v0.8h-0.8zM396.6 649.9h0.8v0.8h-0.8zM393.5 652.0h0.8v0.8h-0.8zM395.5 636.3h0.8v0.8h-0.8zM393.6 642.0h0.8v0.8h-0.8zM397.7 642.8h0.8v0.8h-0.8zM397.4 639.7h0.8v0.8h-0.8zM394.6 637.4h0.8v0.8h-0.8zM397.1 640.3h0.8v0.8h-0.8z" fill="#1aa9b8" opacity="1"/>
<path d="M395.9 645.4h0.8v0.8h-0.8zM395.9 641.6h0.8v0.8h-0.8zM393.5 648.4h0.8v0.8h-0.8zM395.9 638.2h0.8v0.8h-0.8zM394.5 639.8h0.8v0.8h-0.8zM393.7 649.4h0.8v0.8h-0.8zM393.2 648.8h0.8v0.8h-0.8zM394.9 639.3h0.8v0.8h-0.8zM393.7 648.0h0.8v0.8h-0.8zM396.4 646.0h0.8v0.8h-0.8zM393.4 646.9h0.8v0.8h-0.8zM396.5 640.8h0.8v0.8h-0.8zM396.0 644.5h0.8v0.8h-0.8zM395.0 639.0h0.8v0.8h-0.8zM396.1 644.2h0.8v0.8h-0.8zM393.2 648.3h0.8v0.8h-0.8zM394.9 639.0h0.8v0.8h-0.8zM396.0 641.5h0.8v0.8h-0.8zM393.2 647.4h0.8v0.8h-0.8zM395.0 648.0h0.8v0.8h-0.8zM393.9 643.0h0.8v0.8h-0.8zM395.3 638.3h0.8v0.8h-0.8zM394.2 640.8h0.8v0.8h-0.8zM394.6 641.2h0.8v0.8h-0.8zM393.2 647.4h0.8v0.8h-0.8zM396.0 645.8h0.8v0.8h-0.8zM394.6 640.0h0.8v0.8h-0.8zM394.6 639.8h0.8v0.8h-0.8zM395.7 647.7h0.8v0.8h-0.8zM394.0 648.5h0.8v0.8h-0.8zM395.8 643.4h0.8v0.8h-0.8zM393.4 648.9h0.8v0.8h-0.8zM395.0 639.2h0.8v0.8h-0.8zM396.3 643.0h0.8v0.8h-0.8zM395.4 648.1h0.8v0.8h-0.8zM393.3 647.1h0.8v0.8h-0.8zM394.5 640.3h0.8v0.8h-0.8zM395.8 646.6h0.8v0.8h-0.8zM393.5 647.6h0.8v0.8h-0.8zM395.8 641.2h0.8v0.8h-0.8zM396.2 643.1h0.8v0.8h-0.8zM394.8 640.3h0.8v0.8h-0.8zM395.7 648.5h0.8v0.8h-0.8zM395.4 637.9h0.8v0.8h-0.8zM393.2 647.7h0.8v0.8h-0.8zM393.8 649.8h0.8v0.8h-0.8zM396.6 642.1h0.8v0.8h-0.8zM395.1 639.0h0.8v0.8h-0.8zM394.4 640.2h0.8v0.8h-0.8zM393.5 645.9h0.8v0.8h-0.8zM393.4 645.6h0.8v0.8h-0.8zM395.8 647.6h0.8v0.8h-0.8zM396.2 640.8h0.8v0.8h-0.8zM393.4 647.5h0.8v0.8h-0.8zM393.2 646.0h0.8v0.8h-0.8zM393.0 646.6h0.8v0.8h-0.8zM395.0 648.2h0.8v0.8h-0.8zM395.5 646.6h0.8v0.8h-0.8zM393.5 649.8h0.8v0.8h-0.8zM394.4 641.2h0.8v0.8h-0.8zM396.3 645.9h0.8v0.8h-0.8zM393.0 647.6h0.8v0.8h-0.8zM396.4 639.6h0.8v0.8h-0.8zM396.6 640.6h0.8v0.8h-0.8zM396.3 639.8h0.8v0.8h-0.8zM395.7 640.1h0.8v0.8h-0.8zM393.9 641.5h0.8v0.8h-0.8zM394.7 639.4h0.8v0.8h-0.8zM396.1 641.9h0.8v0.8h-0.8zM394.9 638.4h0.8v0.8h-0.8zM395.9 641.7h0.8v0.8h-0.8zM393.3 645.1h0.8v0.8h-0.8zM393.6 648.6h0.8v0.8h-0.8zM393.9 648.9h0.8v0.8h-0.8zM393.4 649.4h0.8v0.8h-0.8zM396.4 641.2h0.8v0.8h-0.8zM395.1 639.0h0.8v0.8h-0.8zM394.4 641.6h0.8v0.8h-0.8zM396.4 645.6h0.8v0.8h-0.8zM396.1 640.8h0.8v0.8h-0.8zM393.5 648.7h0.8v0.8h-0.8zM393.8 642.6h0.8v0.8h-0.8zM396.1 639.2h0.8v0.8h-0.8zM393.3 647.2h0.8v0.8h-0.8zM393.3 645.3h0.8v0.8h-0.8zM393.4 648.1h0.8v0.8h-0.8zM393.2 648.2h0.8v0.8h-0.8zM394.6 649.6h0.8v0.8h-0.8zM393.3 649.2h0.8v0.8h-0.8zM393.7 649.3h0.8v0.8h-0.8zM393.9 642.9h0.8v0.8h-0.8zM394.3 641.7h0.8v0.8h-0.8zM395.9 646.9h0.8v0.8h-0.8zM393.9 648.6h0.8v0.8h-0.8zM395.3 647.9h0.8v0.8h-0.8zM395.7 647.6h0.8v0.8h-0.8zM396.2 647.0h0.8v0.8h-0.8zM395.4 648.4h0.8v0.8h-0.8zM395.3 639.3h0.8v0.8h-0.8zM395.0 649.1h0.8v0.8h-0.8zM393.3 647.4h0.8v0.8h-0.8zM396.7 641.1h0.8v0.8h-0.8zM393.4 649.6h0.8v0.8h-0.8zM396.1 646.3h0.8v0.8h-0.8zM395.1 639.4h0.8v0.8h-0.8zM393.6 647.8h0.8v0.8h-0.8zM395.7 640.1h0.8v0.8h-0.8zM394.1 640.7h0.8v0.8h-0.8zM394.4 641.2h0.8v0.8h-0.8zM393.8 644.0h0.8v0.8h-0.8zM395.5 648.4h0.8v0.8h-0.8zM396.0 647.9h0.8v0.8h-0.8zM393.4 647.7h0.8v0.8h-0.8zM396.7 640.0h0.8v0.8h-0.8zM393.2 648.8h0.8v0.8h-0.8zM393.7 648.5h0.8v0.8h-0.8zM395.5 647.8h0.8v0.8h-0.8zM393.7 648.1h0.8v0.8h-0.8zM393.6 647.7h0.8v0.8h-0.8zM395.6 647.7h0.8v0.8h-0.8zM395.3 647.8h0.8v0.8h-0.8zM395.1 639.7h0.8v0.8h-0.8zM395.9 639.8h0.8v0.8h-0.8zM393.5 649.6h0.8v0.8h-0.8zM395.0 640.1h0.8v0.8h-0.8zM393.8 649.3h0.8v0.8h-0.8zM394.4 640.5h0.8v0.8h-0.8zM393.9 648.5h0.8v0.8h-0.8zM396.7 645.1h0.8v0.8h-0.8zM394.0 648.4h0.8v0.8h-0.8zM393.4 646.4h0.8v0.8h-0.8zM393.4 646.6h0.8v0.8h-0.8zM395.8 646.6h0.8v0.8h-0.8zM393.7 643.5h0.8v0.8h-0.8zM393.3 647.9h0.8v0.8h-0.8zM396.6 639.3h0.8v0.8h-0.8zM394.0 641.6h0.8v0.8h-0.8zM393.3 647.1h0.8v0.8h-0.8zM395.5 640.8h0.8v0.8h-0.8zM394.2 649.5h0.8v0.8h-0.8zM393.5 646.4h0.8v0.8h-0.8zM395.4 648.5h0.8v0.8h-0.8zM396.4 643.9h0.8v0.8h-0.8zM396.0 645.0h0.8v0.8h-0.8zM393.3 645.1h0.8v0.8h-0.8zM396.2 646.0h0.8v0.8h-0.8zM395.8 648.5h0.8v0.8h-0.8zM395.5 648.2h0.8v0.8h-0.8zM394.2 642.0h0.8v0.8h-0.8zM394.8 640.9h0.8v0.8h-0.8zM395.3 637.7h0.8v0.8h-0.8zM395.2 647.6h0.8v0.8h-0.8zM395.9 645.4h0.8v0.8h-0.8zM396.5 641.1h0.8v0.8h-0.8zM395.6 648.4h0.8v0.8h-0.8zM394.5 639.6h0.8v0.8h-0.8zM396.6 643.7h0.8v0.8h-0.8zM395.9 646.6h0.8v0.8h-0.8zM396.4 641.6h0.8v0.8h-0.8zM393.7 643.1h0.8v0.8h-0.8zM393.9 643.7h0.8v0.8h-0.8zM394.9 649.2h0.8v0.8h-0.8zM396.1 638.9h0.8v0.8h-0.8zM395.5 647.4h0.8v0.8h-0.8zM393.3 648.8h0.8v0.8h-0.8zM393.2 647.0h0.8v0.8h-0.8zM396.5 646.7h0.8v0.8h-0.8zM394.9 647.8h0.8v0.8h-0.8zM393.4 649.0h0.8v0.8h-0.8zM393.4 647.1h0.8v0.8h-0.8zM394.2 649.7h0.8v0.8h-0.8zM394.8 648.7h0.8v0.8h-0.8zM396.0 637.9h0.8v0.8h-0.8zM396.0 646.8h0.8v0.8h-0.8zM393.8 649.1h0.8v0.8h-0.8zM393.1 647.5h0.8v0.8h-0.8zM394.7 639.2h0.8v0.8h-0.8zM396.5 646.3h0.8v0.8h-0.8zM396.5 644.2h0.8v0.8h-0.8zM396.0 644.1h0.8v0.8h-0.8zM393.3 647.5h0.8v0.8h-0.8zM396.0 642.4h0.8v0.8h-0.8zM395.2 639.1h0.8v0.8h-0.8zM393.7 649.8h0.8v0.8h-0.8zM393.5 648.9h0.8v0.8h-0.8zM396.4 645.9h0.8v0.8h-0.8zM396.1 638.6h0.8v0.8h-0.8zM394.5 649.3h0.8v0.8h-0.8zM395.6 648.6h0.8v0.8h-0.8zM393.9 649.1h0.8v0.8h-0.8zM395.2 648.7h0.8v0.8h-0.8zM393.5 649.3h0.8v0.8h-0.8zM395.7 647.0h0.8v0.8h-0.8zM396.3 643.1h0.8v0.8h-0.8zM393.4 649.4h0.8v0.8h-0.8zM393.2 649.1h0.8v0.8h-0.8zM395.9 641.8h0.8v0.8h-0.8zM396.1 640.3h0.8v0.8h-0.8zM393.3 647.5h0.8v0.8h-0.8zM394.7 648.7h0.8v0.8h-0.8zM393.4 647.5h0.8v0.8h-0.8zM393.9 642.9h0.8v0.8h-0.8zM395.6 648.1h0.8v0.8h-0.8zM396.7 645.2h0.8v0.8h-0.8zM395.1 638.2h0.8v0.8h-0.8zM396.4 640.7h0.8v0.8h-0.8zM393.2 645.9h0.8v0.8h-0.8zM393.2 648.3h0.8v0.8h-0.8zM396.4 643.8h0.8v0.8h-0.8zM393.8 649.9h0.8v0.8h-0.8zM393.5 646.2h0.8v0.8h-0.8zM393.9 649.1h0.8v0.8h-0.8zM395.3 648.0h0.8v0.8h-0.8zM393.1 645.9h0.8v0.8h-0.8zM396.3 641.4h0.8v0.8h-0.8zM393.4 649.1h0.8v0.8h-0.8zM393.1 647.0h0.8v0.8h-0.8zM395.2 638.5h0.8v0.8h-0.8zM395.7 640.7h0.8v0.8h-0.8zM395.7 640.6h0.8v0.8h-0.8zM393.2 646.2h0.8v0.8h-0.8zM394.4 649.3h0.8v0.8h-0.8zM394.6 640.1h0.8v0.8h-0.8zM396.6 642.1h0.8v0.8h-0.8zM394.8 648.7h0.8v0.8h-0.8zM394.6 648.6h0.8v0.8h-0.8zM393.5 647.0h0.8v0.8h-0.8zM396.2 646.2h0.8v0.8h-0.8zM396.0 646.8h0.8v0.8h-0.8zM395.0 639.7h0.8v0.8h-0.8zM393.6 649.8h0.8v0.8h-0.8zM395.4 639.8h0.8v0.8h-0.8zM395.5 639.8h0.8v0.8h-0.8zM393.7 649.5h0.8v0.8h-0.8zM394.8 639.5h0.8v0.8h-0.8zM393.7 642.4h0.8v0.8h-0.8zM395.6 648.5h0.8v0.8h-0.8zM396.3 642.8h0.8v0.8h-0.8zM396.5 642.6h0.8v0.8h-0.8zM393.5 648.1h0.8v0.8h-0.8zM394.4 649.1h0.8v0.8h-0.8zM396.3 646.9h0.8v0.8h-0.8zM395.3 637.8h0.8v0.8h-0.8zM393.5 647.0h0.8v0.8h-0.8zM393.6 644.5h0.8v0.8h-0.8zM396.4 640.4h0.8v0.8h-0.8zM393.3 648.0h0.8v0.8h-0.8zM395.6 639.3h0.8v0.8h-0.8zM394.6 639.3h0.8v0.8h-0.8zM395.9 642.4h0.8v0.8h-0.8zM394.5 641.0h0.8v0.8h-0.8zM396.1 640.6h0.8v0.8h-0.8zM393.3 645.9h0.8v0.8h-0.8zM394.4 639.9h0.8v0.8h-0.8zM393.5 648.3h0.8v0.8h-0.8zM393.9 648.7h0.8v0.8h-0.8zM394.4 640.6h0.8v0.8h-0.8zM396.8 643.7h0.8v0.8h-0.8zM393.6 648.6h0.8v0.8h-0.8zM395.8 640.6h0.8v0.8h-0.8zM393.4 648.0h0.8v0.8h-0.8zM395.3 648.1h0.8v0.8h-0.8zM395.6 638.7h0.8v0.8h-0.8zM393.9 648.5h0.8v0.8h-0.8zM396.2 646.7h0.8v0.8h-0.8zM396.5 641.2h0.8v0.8h-0.8zM393.1 647.1h0.8v0.8h-0.8zM395.9 645.0h0.8v0.8h-0.8zM395.5 641.3h0.8v0.8h-0.8zM394.1 641.0h0.8v0.8h-0.8zM395.6 648.4h0.8v0.8h-0.8zM394.2 649.8h0.8v0.8h-0.8zM396.3 641.5h0.8v0.8h-0.8zM396.5 646.5h0.8v0.8h-0.8zM395.9 647.4h0.8v0.8h-0.8zM395.3 637.7h0.8v0.8h-0.8zM396.3 638.7h0.8v0.8h-0.8zM393.8 649.9h0.8v0.8h-0.8zM394.0 641.6h0.8v0.8h-0.8zM394.0 649.0h0.8v0.8h-0.8zM395.8 644.7h0.8v0.8h-0.8zM396.0 641.2h0.8v0.8h-0.8zM393.3 648.7h0.8v0.8h-0.8zM394.8 649.5h0.8v0.8h-0.8zM396.3 646.0h0.8v0.8h-0.8zM393.3 649.1h0.8v0.8h-0.8zM394.2 641.1h0.8v0.8h-0.8zM393.8 649.3h0.8v0.8h-0.8zM393.9 648.5h0.8v0.8h-0.8zM394.9 638.8h0.8v0.8h-0.8zM396.9 641.2h0.8v0.8h-0.8zM393.6 649.0h0.8v0.8h-0.8zM396.1 646.7h0.8v0.8h-0.8zM395.8 646.0h0.8v0.8h-0.8zM393.7 649.8h0.8v0.8h-0.8zM396.2 640.1h0.8v0.8h-0.8zM393.0 647.8h0.8v0.8h-0.8zM394.0 641.1h0.8v0.8h-0.8zM393.2 647.9h0.8v0.8h-0.8zM395.3 648.9h0.8v0.8h-0.8zM394.8 640.6h0.8v0.8h-0.8zM396.1 647.8h0.8v0.8h-0.8zM396.0 643.9h0.8v0.8h-0.8zM395.0 648.9h0.8v0.8h-0.8zM395.9 637.9h0.8v0.8h-0.8zM394.9 648.4h0.8v0.8h-0.8zM395.4 638.2h0.8v0.8h-0.8zM395.9 647.7h0.8v0.8h-0.8zM394.1 641.6h0.8v0.8h-0.8zM394.3 648.5h0.8v0.8h-0.8zM395.7 640.6h0.8v0.8h-0.8zM393.9 642.9h0.8v0.8h-0.8zM396.3 640.4h0.8v0.8h-0.8zM393.5 648.9h0.8v0.8h-0.8zM396.5 645.4h0.8v0.8h-0.8zM394.1 649.7h0.8v0.8h-0.8zM396.1 639.8h0.8v0.8h-0.8zM396.2 644.0h0.8v0.8h-0.8zM393.4 648.6h0.8v0.8h-0.8zM393.1 645.9h0.8v0.8h-0.8zM396.0 642.6h0.8v0.8h-0.8zM394.5 641.4h0.8v0.8h-0.8zM395.2 638.8h0.8v0.8h-0.8zM394.3 641.8h0.8v0.8h-0.8zM396.0 647.5h0.8v0.8h-0.8zM393.5 648.0h0.8v0.8h-0.8zM396.0 646.9h0.8v0.8h-0.8zM393.3 647.6h0.8v0.8h-0.8zM395.7 639.0h0.8v0.8h-0.8zM393.8 649.9h0.8v0.8h-0.8zM394.3 648.7h0.8v0.8h-0.8zM394.1 641.7h0.8v0.8h-0.8z" fill="#5cc24e" opacity="1"/>
<path d="M394.8 647.1h0.8v0.8h-0.8zM394.5 647.1h0.8v0.8h-0.8zM394.2 647.9h0.8v0.8h-0.8zM395.0 643.1h0.8v0.8h-0.8zM393.9 647.5h0.8v0.8h-0.8zM394.3 647.7h0.8v0.8h-0.8zM394.6 647.1h0.8v0.8h-0.8zM394.3 647.9h0.8v0.8h-0.8zM395.3 641.8h0.8v0.8h-0.8zM394.5 647.7h0.8v0.8h-0.8zM395.1 643.2h0.8v0.8h-0.8zM395.1 646.0h0.8v0.8h-0.8zM393.7 645.0h0.8v0.8h-0.8zM394.6 642.8h0.8v0.8h-0.8zM393.5 646.7h0.8v0.8h-0.8zM395.2 645.8h0.8v0.8h-0.8zM394.2 643.4h0.8v0.8h-0.8zM394.7 647.0h0.8v0.8h-0.8zM393.6 646.6h0.8v0.8h-0.8zM395.6 645.8h0.8v0.8h-0.8zM395.2 641.5h0.8v0.8h-0.8zM393.8 645.3h0.8v0.8h-0.8zM393.7 646.2h0.8v0.8h-0.8zM394.7 641.7h0.8v0.8h-0.8zM393.7 645.9h0.8v0.8h-0.8zM393.9 645.1h0.8v0.8h-0.8zM395.1 644.0h0.8v0.8h-0.8zM394.8 641.8h0.8v0.8h-0.8zM394.0 648.1h0.8v0.8h-0.8zM394.4 643.3h0.8v0.8h-0.8zM394.3 648.1h0.8v0.8h-0.8zM395.6 643.0h0.8v0.8h-0.8zM395.6 644.9h0.8v0.8h-0.8zM395.2 646.4h0.8v0.8h-0.8zM395.6 646.2h0.8v0.8h-0.8zM393.6 645.6h0.8v0.8h-0.8zM394.4 642.1h0.8v0.8h-0.8zM393.7 645.3h0.8v0.8h-0.8zM394.8 641.4h0.8v0.8h-0.8zM393.9 644.7h0.8v0.8h-0.8zM395.6 644.9h0.8v0.8h-0.8zM393.8 644.5h0.8v0.8h-0.8zM393.7 646.4h0.8v0.8h-0.8zM393.7 646.9h0.8v0.8h-0.8zM394.4 642.4h0.8v0.8h-0.8zM394.2 643.5h0.8v0.8h-0.8zM395.4 646.8h0.8v0.8h-0.8zM394.5 647.1h0.8v0.8h-0.8zM393.7 646.6h0.8v0.8h-0.8zM395.2 645.7h0.8v0.8h-0.8zM393.6 647.0h0.8v0.8h-0.8zM394.8 641.8h0.8v0.8h-0.8zM394.5 642.3h0.8v0.8h-0.8zM395.0 647.2h0.8v0.8h-0.8zM393.6 647.4h0.8v0.8h-0.8zM393.5 646.0h0.8v0.8h-0.8zM393.8 646.9h0.8v0.8h-0.8zM394.6 647.2h0.8v0.8h-0.8zM393.7 645.8h0.8v0.8h-0.8zM394.8 641.9h0.8v0.8h-0.8zM394.1 644.0h0.8v0.8h-0.8zM395.3 646.3h0.8v0.8h-0.8zM394.9 646.6h0.8v0.8h-0.8zM395.1 644.6h0.8v0.8h-0.8zM394.5 647.3h0.8v0.8h-0.8zM393.6 646.6h0.8v0.8h-0.8zM395.3 644.0h0.8v0.8h-0.8zM395.5 642.0h0.8v0.8h-0.8zM394.5 642.5h0.8v0.8h-0.8zM395.3 644.2h0.8v0.8h-0.8zM393.6 646.9h0.8v0.8h-0.8zM395.7 645.4h0.8v0.8h-0.8zM393.8 647.5h0.8v0.8h-0.8zM394.8 647.8h0.8v0.8h-0.8zM394.2 644.0h0.8v0.8h-0.8zM394.7 641.2h0.8v0.8h-0.8zM394.1 643.8h0.8v0.8h-0.8zM393.7 647.4h0.8v0.8h-0.8zM395.8 643.3h0.8v0.8h-0.8zM394.8 641.5h0.8v0.8h-0.8zM393.9 644.1h0.8v0.8h-0.8zM395.6 641.6h0.8v0.8h-0.8zM394.7 641.5h0.8v0.8h-0.8zM394.8 646.9h0.8v0.8h-0.8zM393.9 647.6h0.8v0.8h-0.8zM394.4 642.4h0.8v0.8h-0.8zM394.8 647.8h0.8v0.8h-0.8zM394.5 641.6h0.8v0.8h-0.8zM395.6 643.0h0.8v0.8h-0.8zM393.9 647.3h0.8v0.8h-0.8zM395.1 641.1h0.8v0.8h-0.8zM395.3 645.3h0.8v0.8h-0.8zM395.1 645.8h0.8v0.8h-0.8zM395.0 647.0h0.8v0.8h-0.8zM394.8 641.6h0.8v0.8h-0.8zM394.7 646.9h0.8v0.8h-0.8zM394.5 647.6h0.8v0.8h-0.8zM395.1 644.0h0.8v0.8h-0.8zM394.5 642.6h0.8v0.8h-0.8zM395.5 642.9h0.8v0.8h-0.8zM393.8 648.1h0.8v0.8h-0.8zM394.1 643.7h0.8v0.8h-0.8zM393.6 645.4h0.8v0.8h-0.8zM394.4 642.1h0.8v0.8h-0.8zM394.5 647.5h0.8v0.8h-0.8zM395.5 644.1h0.8v0.8h-0.8zM393.7 647.2h0.8v0.8h-0.8zM395.1 646.7h0.8v0.8h-0.8zM395.0 641.9h0.8v0.8h-0.8zM394.4 642.3h0.8v0.8h-0.8zM394.4 641.9h0.8v0.8h-0.8zM394.7 647.9h0.8v0.8h-0.8zM395.8 644.1h0.8v0.8h-0.8zM395.1 642.8h0.8v0.8h-0.8zM394.8 643.2h0.8v0.8h-0.8zM395.6 643.4h0.8v0.8h-0.8zM393.9 644.6h0.8v0.8h-0.8zM393.6 646.1h0.8v0.8h-0.8zM395.3 641.6h0.8v0.8h-0.8zM394.6 642.2h0.8v0.8h-0.8zM393.9 647.6h0.8v0.8h-0.8zM395.0 641.5h0.8v0.8h-0.8zM394.4 647.7h0.8v0.8h-0.8zM394.6 642.8h0.8v0.8h-0.8zM395.1 646.5h0.8v0.8h-0.8zM393.8 648.0h0.8v0.8h-0.8zM395.4 642.0h0.8v0.8h-0.8zM395.4 646.3h0.8v0.8h-0.8zM393.7 645.9h0.8v0.8h-0.8zM394.6 642.5h0.8v0.8h-0.8zM394.4 642.6h0.8v0.8h-0.8zM394.8 641.2h0.8v0.8h-0.8zM395.6 644.5h0.8v0.8h-0.8zM394.3 647.3h0.8v0.8h-0.8zM394.0 647.6h0.8v0.8h-0.8zM393.7 646.4h0.8v0.8h-0.8zM393.7 646.9h0.8v0.8h-0.8zM395.4 646.9h0.8v0.8h-0.8z" fill="#e9dc30" opacity="1"/>
<path d="M394.9 644.5h0.8v0.8h-0.8zM394.1 645.6h0.8v0.8h-0.8zM394.9 643.9h0.8v0.8h-0.8zM394.5 643.9h0.8v0.8h-0.8zM394.2 647.1h0.8v0.8h-0.8zM394.7 646.4h0.8v0.8h-0.8zM394.7 643.9h0.8v0.8h-0.8zM394.5 643.6h0.8v0.8h-0.8zM395.0 643.9h0.8v0.8h-0.8zM394.0 646.3h0.8v0.8h-0.8zM393.9 647.0h0.8v0.8h-0.8zM394.3 645.9h0.8v0.8h-0.8zM394.7 646.0h0.8v0.8h-0.8zM394.0 645.7h0.8v0.8h-0.8zM395.0 645.4h0.8v0.8h-0.8zM393.9 646.1h0.8v0.8h-0.8zM394.2 645.5h0.8v0.8h-0.8zM394.6 646.2h0.8v0.8h-0.8zM394.4 644.0h0.8v0.8h-0.8zM394.9 646.1h0.8v0.8h-0.8zM394.6 644.9h0.8v0.8h-0.8zM394.1 645.9h0.8v0.8h-0.8zM394.4 643.9h0.8v0.8h-0.8zM395.0 645.2h0.8v0.8h-0.8zM394.5 645.6h0.8v0.8h-0.8zM394.0 645.8h0.8v0.8h-0.8zM393.9 646.3h0.8v0.8h-0.8zM394.2 645.4h0.8v0.8h-0.8zM394.1 645.9h0.8v0.8h-0.8zM394.1 646.2h0.8v0.8h-0.8zM394.1 646.5h0.8v0.8h-0.8zM394.3 646.8h0.8v0.8h-0.8zM394.6 644.9h0.8v0.8h-0.8zM394.1 646.3h0.8v0.8h-0.8zM393.9 645.8h0.8v0.8h-0.8zM394.7 646.4h0.8v0.8h-0.8zM394.8 643.4h0.8v0.8h-0.8zM394.1 644.6h0.8v0.8h-0.8zM394.4 645.4h0.8v0.8h-0.8zM394.3 644.0h0.8v0.8h-0.8zM394.4 646.6h0.8v0.8h-0.8zM394.1 646.4h0.8v0.8h-0.8zM393.9 645.4h0.8v0.8h-0.8zM393.9 645.5h0.8v0.8h-0.8zM394.5 644.2h0.8v0.8h-0.8zM395.0 643.9h0.8v0.8h-0.8zM394.9 645.5h0.8v0.8h-0.8zM394.5 645.2h0.8v0.8h-0.8zM394.0 646.2h0.8v0.8h-0.8zM394.4 644.1h0.8v0.8h-0.8zM394.5 644.8h0.8v0.8h-0.8zM394.0 645.3h0.8v0.8h-0.8zM394.2 644.6h0.8v0.8h-0.8zM394.6 646.6h0.8v0.8h-0.8zM394.4 644.2h0.8v0.8h-0.8zM394.6 645.7h0.8v0.8h-0.8zM394.1 644.3h0.8v0.8h-0.8zM394.2 645.5h0.8v0.8h-0.8zM394.0 646.3h0.8v0.8h-0.8zM394.3 645.8h0.8v0.8h-0.8zM394.3 644.5h0.8v0.8h-0.8zM393.9 645.4h0.8v0.8h-0.8zM394.2 644.6h0.8v0.8h-0.8z" fill="#f0702a" opacity="1"/>
</g>
<g clip-path="url(#cJ2)">
<g filter="url(#blJ)"><ellipse cx="505.1" cy="652.6" rx="5.8" ry="6.6" fill="#1aa9b8"/><ellipse cx="505.2" cy="653" rx="4.1" ry="4.8" fill="#5cc24e"/><ellipse cx="505.2" cy="653.4" rx="2.6" ry="3" fill="#e9dc30"/><ellipse cx="505.2" cy="653.6" rx="1.4" ry="1.7" fill="#f0702a"/></g>
<path d="M507.8 638.0h0.7v0.7h-0.7zM494.8 660.3h0.7v0.7h-0.7zM512.2 644.0h0.7v0.7h-0.7zM495.5 661.3h0.7v0.7h-0.7zM504.6 639.4h0.7v0.7h-0.7zM492.3 656.0h0.7v0.7h-0.7zM513.3 645.9h0.7v0.7h-0.7zM493.6 659.3h0.7v0.7h-0.7zM510.0 639.6h0.7v0.7h-0.7zM507.6 634.1h0.7v0.7h-0.7zM497.1 641.0h0.7v0.7h-0.7zM490.4 655.9h0.7v0.7h-0.7zM494.9 641.5h0.7v0.7h-0.7zM492.2 644.8h0.7v0.7h-0.7zM507.2 636.2h0.7v0.7h-0.7zM505.9 639.5h0.7v0.7h-0.7zM496.8 661.6h0.7v0.7h-0.7zM501.6 639.1h0.7v0.7h-0.7zM513.0 645.9h0.7v0.7h-0.7zM509.7 640.5h0.7v0.7h-0.7zM493.1 643.7h0.7v0.7h-0.7zM511.8 640.2h0.7v0.7h-0.7zM496.4 640.4h0.7v0.7h-0.7zM513.7 646.1h0.7v0.7h-0.7zM498.8 637.5h0.7v0.7h-0.7zM504.4 637.5h0.7v0.7h-0.7zM494.1 640.7h0.7v0.7h-0.7zM511.9 635.8h0.7v0.7h-0.7zM497.1 642.3h0.7v0.7h-0.7zM495.7 642.7h0.7v0.7h-0.7zM504.4 637.3h0.7v0.7h-0.7zM491.9 656.8h0.7v0.7h-0.7zM500.5 636.2h0.7v0.7h-0.7zM498.5 641.4h0.7v0.7h-0.7zM503.2 631.6h0.7v0.7h-0.7zM489.3 658.9h0.7v0.7h-0.7zM502.6 638.9h0.7v0.7h-0.7zM491.3 656.8h0.7v0.7h-0.7zM511.8 636.8h0.7v0.7h-0.7zM506.5 637.7h0.7v0.7h-0.7zM492.0 649.0h0.7v0.7h-0.7zM498.7 641.3h0.7v0.7h-0.7zM503.7 639.5h0.7v0.7h-0.7zM505.5 636.8h0.7v0.7h-0.7zM495.0 642.4h0.7v0.7h-0.7zM507.1 639.7h0.7v0.7h-0.7zM494.2 660.6h0.7v0.7h-0.7zM511.3 642.0h0.7v0.7h-0.7zM503.3 633.1h0.7v0.7h-0.7zM505.9 637.0h0.7v0.7h-0.7zM509.8 641.3h0.7v0.7h-0.7zM500.8 633.4h0.7v0.7h-0.7zM501.8 639.7h0.7v0.7h-0.7zM491.3 642.0h0.7v0.7h-0.7zM506.3 639.6h0.7v0.7h-0.7zM488.1 655.4h0.7v0.7h-0.7zM496.5 641.5h0.7v0.7h-0.7zM491.8 658.5h0.7v0.7h-0.7zM490.9 654.8h0.7v0.7h-0.7zM509.5 638.4h0.7v0.7h-0.7zM512.0 638.9h0.7v0.7h-0.7zM513.2 641.1h0.7v0.7h-0.7zM513.4 641.6h0.7v0.7h-0.7zM512.3 636.2h0.7v0.7h-0.7zM506.2 632.0h0.7v0.7h-0.7zM501.3 636.1h0.7v0.7h-0.7zM505.2 639.4h0.7v0.7h-0.7zM507.9 631.3h0.7v0.7h-0.7zM512.9 641.1h0.7v0.7h-0.7zM512.5 637.1h0.7v0.7h-0.7zM511.1 626.5h0.7v0.7h-0.7zM505.8 630.2h0.7v0.7h-0.7zM509.2 637.3h0.7v0.7h-0.7zM508.0 633.2h0.7v0.7h-0.7zM511.2 642.2h0.7v0.7h-0.7zM504.0 636.1h0.7v0.7h-0.7zM507.0 628.1h0.7v0.7h-0.7zM509.4 638.8h0.7v0.7h-0.7zM506.0 632.4h0.7v0.7h-0.7zM506.7 636.7h0.7v0.7h-0.7zM511.7 640.8h0.7v0.7h-0.7zM502.4 639.5h0.7v0.7h-0.7zM506.1 635.5h0.7v0.7h-0.7zM511.8 631.3h0.7v0.7h-0.7zM502.8 639.3h0.7v0.7h-0.7zM510.9 636.8h0.7v0.7h-0.7zM509.7 638.5h0.7v0.7h-0.7zM511.3 627.0h0.7v0.7h-0.7zM508.5 639.5h0.7v0.7h-0.7zM508.5 624.3h0.7v0.7h-0.7zM507.2 639.5h0.7v0.7h-0.7zM502.9 635.4h0.7v0.7h-0.7zM513.8 621.5h0.7v0.7h-0.7zM504.2 639.6h0.7v0.7h-0.7zM507.1 637.1h0.7v0.7h-0.7zM509.0 639.4h0.7v0.7h-0.7zM505.3 633.4h0.7v0.7h-0.7zM508.3 634.7h0.7v0.7h-0.7zM513.1 643.1h0.7v0.7h-0.7zM510.0 626.7h0.7v0.7h-0.7zM504.6 632.0h0.7v0.7h-0.7zM510.7 641.5h0.7v0.7h-0.7zM508.2 639.1h0.7v0.7h-0.7zM511.4 635.5h0.7v0.7h-0.7zM512.4 640.0h0.7v0.7h-0.7zM511.5 638.9h0.7v0.7h-0.7zM513.5 638.1h0.7v0.7h-0.7zM505.0 629.8h0.7v0.7h-0.7zM506.3 639.2h0.7v0.7h-0.7zM507.9 633.5h0.7v0.7h-0.7zM507.9 619.8h0.7v0.7h-0.7zM512.4 642.9h0.7v0.7h-0.7zM513.3 631.8h0.7v0.7h-0.7zM509.3 629.7h0.7v0.7h-0.7zM503.6 634.7h0.7v0.7h-0.7zM500.9 631.7h0.7v0.7h-0.7zM512.3 633.5h0.7v0.7h-0.7zM508.2 640.5h0.7v0.7h-0.7zM512.1 623.8h0.7v0.7h-0.7zM511.5 639.9h0.7v0.7h-0.7zM501.8 630.9h0.7v0.7h-0.7zM506.6 639.0h0.7v0.7h-0.7zM499.4 637.5h0.7v0.7h-0.7zM507.6 630.4h0.7v0.7h-0.7zM506.2 637.0h0.7v0.7h-0.7zM513.7 633.7h0.7v0.7h-0.7zM509.0 636.1h0.7v0.7h-0.7zM505.1 639.0h0.7v0.7h-0.7zM507.8 637.2h0.7v0.7h-0.7zM506.2 630.7h0.7v0.7h-0.7zM504.9 639.2h0.7v0.7h-0.7zM506.3 636.5h0.7v0.7h-0.7zM506.8 628.0h0.7v0.7h-0.7zM511.1 624.0h0.7v0.7h-0.7zM504.1 627.5h0.7v0.7h-0.7zM511.8 630.8h0.7v0.7h-0.7zM504.7 635.4h0.7v0.7h-0.7zM503.6 631.1h0.7v0.7h-0.7zM510.0 633.9h0.7v0.7h-0.7zM510.7 641.5h0.7v0.7h-0.7zM508.6 629.5h0.7v0.7h-0.7zM502.9 632.5h0.7v0.7h-0.7zM513.1 626.9h0.7v0.7h-0.7zM510.6 640.2h0.7v0.7h-0.7zM509.7 641.1h0.7v0.7h-0.7zM505.6 626.4h0.7v0.7h-0.7zM508.4 632.1h0.7v0.7h-0.7zM512.5 628.2h0.7v0.7h-0.7zM506.5 635.6h0.7v0.7h-0.7zM509.7 636.1h0.7v0.7h-0.7zM510.9 630.7h0.7v0.7h-0.7zM508.5 635.8h0.7v0.7h-0.7zM505.8 632.3h0.7v0.7h-0.7zM505.0 635.6h0.7v0.7h-0.7zM508.3 631.4h0.7v0.7h-0.7zM507.7 634.0h0.7v0.7h-0.7zM512.9 642.1h0.7v0.7h-0.7zM513.5 645.6h0.7v0.7h-0.7zM505.9 635.3h0.7v0.7h-0.7zM511.1 639.9h0.7v0.7h-0.7zM508.0 632.8h0.7v0.7h-0.7zM501.4 634.0h0.7v0.7h-0.7zM509.7 631.1h0.7v0.7h-0.7zM509.6 631.4h0.7v0.7h-0.7zM507.1 633.4h0.7v0.7h-0.7zM505.5 630.5h0.7v0.7h-0.7zM509.3 631.1h0.7v0.7h-0.7zM509.2 623.2h0.7v0.7h-0.7zM509.0 639.2h0.7v0.7h-0.7zM505.0 632.6h0.7v0.7h-0.7zM504.7 628.0h0.7v0.7h-0.7zM506.3 635.3h0.7v0.7h-0.7zM506.8 638.9h0.7v0.7h-0.7zM510.8 636.9h0.7v0.7h-0.7zM505.7 624.3h0.7v0.7h-0.7zM510.8 637.4h0.7v0.7h-0.7zM508.0 639.9h0.7v0.7h-0.7zM509.5 639.0h0.7v0.7h-0.7zM507.5 637.1h0.7v0.7h-0.7zM507.9 630.9h0.7v0.7h-0.7zM509.5 623.3h0.7v0.7h-0.7zM504.3 635.5h0.7v0.7h-0.7zM506.6 622.6h0.7v0.7h-0.7zM507.3 633.8h0.7v0.7h-0.7zM508.7 639.9h0.7v0.7h-0.7zM510.5 641.1h0.7v0.7h-0.7zM506.5 631.7h0.7v0.7h-0.7zM511.8 643.4h0.7v0.7h-0.7zM508.8 631.2h0.7v0.7h-0.7zM507.1 638.6h0.7v0.7h-0.7zM509.9 633.9h0.7v0.7h-0.7zM508.3 636.5h0.7v0.7h-0.7zM507.8 635.2h0.7v0.7h-0.7zM509.2 636.6h0.7v0.7h-0.7zM508.8 640.4h0.7v0.7h-0.7zM513.1 644.5h0.7v0.7h-0.7zM512.1 632.8h0.7v0.7h-0.7zM512.0 626.2h0.7v0.7h-0.7zM506.0 635.1h0.7v0.7h-0.7zM510.4 630.5h0.7v0.7h-0.7zM507.7 622.1h0.7v0.7h-0.7zM511.1 632.7h0.7v0.7h-0.7zM504.4 638.0h0.7v0.7h-0.7zM513.1 643.7h0.7v0.7h-0.7zM507.0 640.0h0.7v0.7h-0.7zM509.6 626.9h0.7v0.7h-0.7zM512.2 638.8h0.7v0.7h-0.7zM508.1 636.5h0.7v0.7h-0.7zM505.4 638.8h0.7v0.7h-0.7zM509.2 639.0h0.7v0.7h-0.7zM508.1 633.1h0.7v0.7h-0.7zM507.1 640.0h0.7v0.7h-0.7zM508.4 640.2h0.7v0.7h-0.7zM511.9 638.5h0.7v0.7h-0.7zM506.6 637.1h0.7v0.7h-0.7zM512.1 635.3h0.7v0.7h-0.7zM513.0 620.0h0.7v0.7h-0.7zM509.3 620.5h0.7v0.7h-0.7zM511.8 642.2h0.7v0.7h-0.7zM511.0 641.0h0.7v0.7h-0.7zM511.6 635.6h0.7v0.7h-0.7zM510.9 635.7h0.7v0.7h-0.7zM504.4 637.4h0.7v0.7h-0.7zM509.8 641.6h0.7v0.7h-0.7zM503.2 638.0h0.7v0.7h-0.7zM502.7 633.3h0.7v0.7h-0.7zM504.9 634.0h0.7v0.7h-0.7zM507.9 636.2h0.7v0.7h-0.7zM511.6 628.0h0.7v0.7h-0.7zM507.8 634.0h0.7v0.7h-0.7zM506.2 638.9h0.7v0.7h-0.7zM509.3 634.6h0.7v0.7h-0.7zM506.5 637.8h0.7v0.7h-0.7zM510.5 628.8h0.7v0.7h-0.7zM510.4 630.3h0.7v0.7h-0.7zM506.9 637.9h0.7v0.7h-0.7zM510.9 639.8h0.7v0.7h-0.7zM505.9 638.9h0.7v0.7h-0.7zM509.1 628.6h0.7v0.7h-0.7zM510.1 637.5h0.7v0.7h-0.7zM512.8 639.6h0.7v0.7h-0.7zM505.7 631.9h0.7v0.7h-0.7zM504.8 631.4h0.7v0.7h-0.7zM509.9 630.8h0.7v0.7h-0.7zM507.2 634.5h0.7v0.7h-0.7zM508.2 635.9h0.7v0.7h-0.7zM503.1 636.9h0.7v0.7h-0.7zM513.0 640.4h0.7v0.7h-0.7zM510.2 636.5h0.7v0.7h-0.7zM507.4 639.4h0.7v0.7h-0.7zM506.6 628.0h0.7v0.7h-0.7zM506.4 632.0h0.7v0.7h-0.7zM510.3 640.7h0.7v0.7h-0.7zM506.0 627.5h0.7v0.7h-0.7zM511.8 639.6h0.7v0.7h-0.7zM507.6 625.0h0.7v0.7h-0.7zM500.5 639.6h0.7v0.7h-0.7zM511.3 624.1h0.7v0.7h-0.7zM513.1 636.7h0.7v0.7h-0.7zM503.3 629.9h0.7v0.7h-0.7zM513.7 643.4h0.7v0.7h-0.7zM509.1 634.2h0.7v0.7h-0.7zM507.4 638.6h0.7v0.7h-0.7zM509.3 626.5h0.7v0.7h-0.7zM511.4 629.9h0.7v0.7h-0.7zM507.1 630.2h0.7v0.7h-0.7zM509.3 622.4h0.7v0.7h-0.7zM503.0 638.9h0.7v0.7h-0.7zM511.0 628.4h0.7v0.7h-0.7zM506.1 638.4h0.7v0.7h-0.7zM512.6 630.4h0.7v0.7h-0.7zM513.8 643.0h0.7v0.7h-0.7zM507.7 628.6h0.7v0.7h-0.7zM512.1 631.9h0.7v0.7h-0.7zM491.1 655.1h0.7v0.7h-0.7zM489.0 658.4h0.7v0.7h-0.7zM492.5 657.0h0.7v0.7h-0.7zM486.0 652.4h0.7v0.7h-0.7zM481.4 657.2h0.7v0.7h-0.7zM491.5 656.8h0.7v0.7h-0.7zM490.3 651.5h0.7v0.7h-0.7zM488.2 658.4h0.7v0.7h-0.7zM487.0 655.9h0.7v0.7h-0.7zM480.8 655.6h0.7v0.7h-0.7zM490.1 659.8h0.7v0.7h-0.7zM494.8 661.0h0.7v0.7h-0.7zM491.2 652.8h0.7v0.7h-0.7zM492.7 660.4h0.7v0.7h-0.7zM486.2 659.4h0.7v0.7h-0.7zM481.6 652.9h0.7v0.7h-0.7zM485.4 657.2h0.7v0.7h-0.7zM491.8 650.4h0.7v0.7h-0.7zM492.3 656.9h0.7v0.7h-0.7zM491.7 659.7h0.7v0.7h-0.7zM487.5 656.4h0.7v0.7h-0.7zM496.3 661.9h0.7v0.7h-0.7zM491.3 656.5h0.7v0.7h-0.7zM487.8 654.7h0.7v0.7h-0.7zM485.8 657.9h0.7v0.7h-0.7zM485.3 658.0h0.7v0.7h-0.7zM488.3 658.2h0.7v0.7h-0.7zM493.1 658.6h0.7v0.7h-0.7zM496.1 661.3h0.7v0.7h-0.7zM475.6 655.3h0.7v0.7h-0.7zM490.7 654.9h0.7v0.7h-0.7zM490.1 656.8h0.7v0.7h-0.7zM490.4 657.8h0.7v0.7h-0.7zM491.4 655.9h0.7v0.7h-0.7zM481.4 653.6h0.7v0.7h-0.7zM485.1 659.8h0.7v0.7h-0.7zM490.6 655.1h0.7v0.7h-0.7zM480.3 656.9h0.7v0.7h-0.7zM493.4 661.1h0.7v0.7h-0.7zM494.4 661.6h0.7v0.7h-0.7zM488.6 654.6h0.7v0.7h-0.7zM490.9 657.5h0.7v0.7h-0.7zM490.0 656.0h0.7v0.7h-0.7zM488.6 658.2h0.7v0.7h-0.7zM486.2 654.7h0.7v0.7h-0.7zM492.2 659.0h0.7v0.7h-0.7zM491.0 657.2h0.7v0.7h-0.7zM494.4 660.7h0.7v0.7h-0.7zM491.9 655.0h0.7v0.7h-0.7zM479.9 656.1h0.7v0.7h-0.7zM489.4 653.4h0.7v0.7h-0.7zM486.8 657.0h0.7v0.7h-0.7zM490.9 657.6h0.7v0.7h-0.7zM493.1 658.5h0.7v0.7h-0.7zM493.4 658.3h0.7v0.7h-0.7zM481.4 654.3h0.7v0.7h-0.7zM482.4 659.7h0.7v0.7h-0.7zM486.2 656.9h0.7v0.7h-0.7zM489.8 654.6h0.7v0.7h-0.7zM485.4 653.7h0.7v0.7h-0.7zM481.8 657.2h0.7v0.7h-0.7zM490.3 655.8h0.7v0.7h-0.7zM477.2 656.3h0.7v0.7h-0.7zM491.2 655.0h0.7v0.7h-0.7zM490.5 655.2h0.7v0.7h-0.7zM492.2 657.2h0.7v0.7h-0.7zM492.0 660.3h0.7v0.7h-0.7zM478.0 657.8h0.7v0.7h-0.7zM487.9 657.7h0.7v0.7h-0.7zM486.7 658.9h0.7v0.7h-0.7zM492.4 656.4h0.7v0.7h-0.7zM488.7 654.1h0.7v0.7h-0.7zM485.5 653.8h0.7v0.7h-0.7zM487.5 657.4h0.7v0.7h-0.7zM483.1 657.2h0.7v0.7h-0.7zM489.0 657.4h0.7v0.7h-0.7zM494.6 661.1h0.7v0.7h-0.7zM488.5 658.1h0.7v0.7h-0.7zM493.4 660.8h0.7v0.7h-0.7zM491.0 655.7h0.7v0.7h-0.7zM483.3 657.1h0.7v0.7h-0.7zM488.7 658.3h0.7v0.7h-0.7zM490.2 655.2h0.7v0.7h-0.7zM490.6 655.7h0.7v0.7h-0.7zM483.4 654.2h0.7v0.7h-0.7zM486.3 654.9h0.7v0.7h-0.7zM489.8 656.6h0.7v0.7h-0.7zM489.0 658.3h0.7v0.7h-0.7zM484.7 656.9h0.7v0.7h-0.7zM483.9 656.1h0.7v0.7h-0.7zM482.5 657.7h0.7v0.7h-0.7zM486.0 656.6h0.7v0.7h-0.7zM486.4 657.7h0.7v0.7h-0.7zM489.2 658.4h0.7v0.7h-0.7zM491.9 651.6h0.7v0.7h-0.7zM491.6 659.3h0.7v0.7h-0.7zM487.1 650.3h0.7v0.7h-0.7zM485.5 654.5h0.7v0.7h-0.7zM491.4 656.4h0.7v0.7h-0.7zM490.8 653.7h0.7v0.7h-0.7zM490.1 655.2h0.7v0.7h-0.7zM490.9 651.9h0.7v0.7h-0.7zM490.4 652.5h0.7v0.7h-0.7zM491.8 656.4h0.7v0.7h-0.7zM487.5 656.1h0.7v0.7h-0.7zM486.7 656.4h0.7v0.7h-0.7zM492.2 658.5h0.7v0.7h-0.7zM489.6 659.1h0.7v0.7h-0.7zM487.5 652.5h0.7v0.7h-0.7zM491.7 651.9h0.7v0.7h-0.7zM486.2 652.8h0.7v0.7h-0.7zM490.5 657.5h0.7v0.7h-0.7zM487.9 656.8h0.7v0.7h-0.7zM492.6 659.6h0.7v0.7h-0.7zM491.9 657.5h0.7v0.7h-0.7zM494.3 659.4h0.7v0.7h-0.7zM491.6 656.8h0.7v0.7h-0.7zM487.8 659.6h0.7v0.7h-0.7zM483.9 657.8h0.7v0.7h-0.7zM485.8 657.0h0.7v0.7h-0.7zM483.0 658.8h0.7v0.7h-0.7zM489.8 653.9h0.7v0.7h-0.7zM484.0 653.1h0.7v0.7h-0.7zM493.7 658.9h0.7v0.7h-0.7zM491.6 651.3h0.7v0.7h-0.7zM482.2 658.3h0.7v0.7h-0.7zM488.9 656.6h0.7v0.7h-0.7zM489.8 657.3h0.7v0.7h-0.7zM481.5 656.0h0.7v0.7h-0.7zM483.6 654.2h0.7v0.7h-0.7zM485.9 660.8h0.7v0.7h-0.7zM487.9 655.0h0.7v0.7h-0.7zM493.5 659.4h0.7v0.7h-0.7zM490.7 660.2h0.7v0.7h-0.7zM491.1 656.1h0.7v0.7h-0.7zM487.5 657.7h0.7v0.7h-0.7zM492.1 658.6h0.7v0.7h-0.7zM493.0 658.3h0.7v0.7h-0.7zM488.0 657.0h0.7v0.7h-0.7zM488.9 652.1h0.7v0.7h-0.7zM490.0 655.4h0.7v0.7h-0.7zM489.4 654.1h0.7v0.7h-0.7zM490.9 656.8h0.7v0.7h-0.7zM492.7 659.8h0.7v0.7h-0.7zM494.4 660.7h0.7v0.7h-0.7zM488.1 653.8h0.7v0.7h-0.7zM476.8 657.1h0.7v0.7h-0.7zM491.6 659.9h0.7v0.7h-0.7zM485.3 655.9h0.7v0.7h-0.7zM481.3 654.1h0.7v0.7h-0.7zM494.4 660.4h0.7v0.7h-0.7zM485.3 657.2h0.7v0.7h-0.7zM489.2 654.4h0.7v0.7h-0.7zM492.5 658.1h0.7v0.7h-0.7zM491.3 657.8h0.7v0.7h-0.7zM490.4 656.6h0.7v0.7h-0.7zM492.8 659.2h0.7v0.7h-0.7zM484.7 653.6h0.7v0.7h-0.7zM489.7 658.9h0.7v0.7h-0.7zM469.9 656.0h0.7v0.7h-0.7zM492.5 657.1h0.7v0.7h-0.7zM489.9 653.8h0.7v0.7h-0.7zM490.1 652.1h0.7v0.7h-0.7zM488.6 656.1h0.7v0.7h-0.7zM491.8 654.4h0.7v0.7h-0.7zM483.8 658.1h0.7v0.7h-0.7zM489.1 658.9h0.7v0.7h-0.7zM485.1 654.3h0.7v0.7h-0.7zM495.8 661.1h0.7v0.7h-0.7zM484.3 654.9h0.7v0.7h-0.7zM491.8 653.2h0.7v0.7h-0.7zM490.7 658.0h0.7v0.7h-0.7zM481.7 654.5h0.7v0.7h-0.7zM486.7 656.8h0.7v0.7h-0.7zM483.6 658.6h0.7v0.7h-0.7zM481.2 657.6h0.7v0.7h-0.7zM479.4 655.9h0.7v0.7h-0.7zM488.7 657.2h0.7v0.7h-0.7zM491.3 657.7h0.7v0.7h-0.7zM477.3 644.4h0.7v0.7h-0.7zM484.3 657.0h0.7v0.7h-0.7zM484.5 652.8h0.7v0.7h-0.7zM483.3 656.0h0.7v0.7h-0.7zM479.3 658.3h0.7v0.7h-0.7zM483.5 655.3h0.7v0.7h-0.7zM482.4 656.4h0.7v0.7h-0.7zM478.1 650.5h0.7v0.7h-0.7zM476.4 657.2h0.7v0.7h-0.7zM473.3 644.4h0.7v0.7h-0.7zM483.7 644.3h0.7v0.7h-0.7zM473.2 648.0h0.7v0.7h-0.7zM480.9 651.6h0.7v0.7h-0.7zM472.3 643.4h0.7v0.7h-0.7zM483.7 655.1h0.7v0.7h-0.7zM483.2 643.2h0.7v0.7h-0.7zM477.3 648.9h0.7v0.7h-0.7zM485.9 647.6h0.7v0.7h-0.7z" fill="#3d36b4" opacity="0.85"/>
<path d="M497.4 658.3h0.8v0.8h-0.8zM513.5 655.8h0.8v0.8h-0.8zM499.6 645.8h0.8v0.8h-0.8zM493.2 653.8h0.8v0.8h-0.8zM505.9 644.8h0.8v0.8h-0.8zM512.8 648.8h0.8v0.8h-0.8zM493.3 654.3h0.8v0.8h-0.8zM511.7 654.9h0.8v0.8h-0.8zM510.0 660.2h0.8v0.8h-0.8zM509.7 647.9h0.8v0.8h-0.8zM507.3 644.5h0.8v0.8h-0.8zM499.2 661.6h0.8v0.8h-0.8zM499.4 658.7h0.8v0.8h-0.8zM504.8 643.9h0.8v0.8h-0.8zM510.9 649.1h0.8v0.8h-0.8zM507.5 662.1h0.8v0.8h-0.8zM508.0 643.9h0.8v0.8h-0.8zM498.0 656.2h0.8v0.8h-0.8zM508.2 646.5h0.8v0.8h-0.8zM509.6 659.3h0.8v0.8h-0.8zM495.5 653.1h0.8v0.8h-0.8zM508.3 644.2h0.8v0.8h-0.8zM503.4 660.3h0.8v0.8h-0.8zM505.7 660.8h0.8v0.8h-0.8zM504.7 644.1h0.8v0.8h-0.8zM506.4 660.4h0.8v0.8h-0.8zM495.1 646.9h0.8v0.8h-0.8zM497.9 643.1h0.8v0.8h-0.8zM510.0 656.6h0.8v0.8h-0.8zM509.5 657.8h0.8v0.8h-0.8zM507.3 644.7h0.8v0.8h-0.8zM507.1 645.3h0.8v0.8h-0.8zM496.4 655.9h0.8v0.8h-0.8zM509.8 648.9h0.8v0.8h-0.8zM510.8 647.6h0.8v0.8h-0.8zM503.5 641.9h0.8v0.8h-0.8zM499.8 644.9h0.8v0.8h-0.8zM508.1 643.3h0.8v0.8h-0.8zM506.3 662.0h0.8v0.8h-0.8zM499.8 647.0h0.8v0.8h-0.8zM508.0 660.3h0.8v0.8h-0.8zM498.0 648.5h0.8v0.8h-0.8zM505.2 660.2h0.8v0.8h-0.8zM511.1 650.1h0.8v0.8h-0.8zM496.2 655.2h0.8v0.8h-0.8zM494.4 656.4h0.8v0.8h-0.8zM512.9 656.0h0.8v0.8h-0.8zM506.0 644.8h0.8v0.8h-0.8zM508.7 646.7h0.8v0.8h-0.8zM497.1 658.6h0.8v0.8h-0.8zM500.9 644.3h0.8v0.8h-0.8zM498.3 658.6h0.8v0.8h-0.8zM509.1 658.1h0.8v0.8h-0.8zM496.7 653.1h0.8v0.8h-0.8zM497.9 646.0h0.8v0.8h-0.8zM513.2 654.6h0.8v0.8h-0.8zM508.6 660.1h0.8v0.8h-0.8zM496.6 655.1h0.8v0.8h-0.8zM499.2 646.7h0.8v0.8h-0.8zM508.4 646.6h0.8v0.8h-0.8zM496.9 654.1h0.8v0.8h-0.8zM497.2 658.9h0.8v0.8h-0.8zM509.5 646.7h0.8v0.8h-0.8zM494.7 649.4h0.8v0.8h-0.8zM513.6 654.1h0.8v0.8h-0.8zM498.7 658.9h0.8v0.8h-0.8zM505.1 640.8h0.8v0.8h-0.8zM504.2 660.6h0.8v0.8h-0.8zM494.1 653.9h0.8v0.8h-0.8zM507.3 644.5h0.8v0.8h-0.8zM498.9 659.3h0.8v0.8h-0.8zM497.9 656.4h0.8v0.8h-0.8zM513.5 648.9h0.8v0.8h-0.8zM508.5 658.2h0.8v0.8h-0.8zM499.8 658.4h0.8v0.8h-0.8zM494.7 651.2h0.8v0.8h-0.8zM497.3 661.0h0.8v0.8h-0.8zM501.8 644.8h0.8v0.8h-0.8zM503.0 645.3h0.8v0.8h-0.8zM509.1 657.7h0.8v0.8h-0.8zM510.7 652.2h0.8v0.8h-0.8zM509.8 646.3h0.8v0.8h-0.8zM503.7 641.6h0.8v0.8h-0.8zM503.7 643.5h0.8v0.8h-0.8zM510.4 647.6h0.8v0.8h-0.8zM506.4 642.8h0.8v0.8h-0.8zM494.9 651.7h0.8v0.8h-0.8zM510.3 659.1h0.8v0.8h-0.8zM495.5 657.7h0.8v0.8h-0.8zM508.0 642.2h0.8v0.8h-0.8zM511.0 646.7h0.8v0.8h-0.8zM512.7 657.4h0.8v0.8h-0.8zM508.7 661.6h0.8v0.8h-0.8zM505.8 660.9h0.8v0.8h-0.8zM498.7 647.7h0.8v0.8h-0.8zM507.1 660.2h0.8v0.8h-0.8zM510.2 656.5h0.8v0.8h-0.8zM510.3 645.5h0.8v0.8h-0.8zM495.4 653.6h0.8v0.8h-0.8zM504.1 661.8h0.8v0.8h-0.8zM513.6 651.4h0.8v0.8h-0.8zM506.8 645.4h0.8v0.8h-0.8zM511.1 654.4h0.8v0.8h-0.8zM497.5 648.1h0.8v0.8h-0.8zM511.8 655.6h0.8v0.8h-0.8zM511.9 656.0h0.8v0.8h-0.8zM498.3 657.6h0.8v0.8h-0.8zM494.9 653.3h0.8v0.8h-0.8zM507.4 642.1h0.8v0.8h-0.8zM495.2 648.4h0.8v0.8h-0.8zM502.2 643.2h0.8v0.8h-0.8zM508.0 643.7h0.8v0.8h-0.8zM503.6 641.2h0.8v0.8h-0.8zM508.5 646.2h0.8v0.8h-0.8zM496.3 648.0h0.8v0.8h-0.8zM508.5 660.1h0.8v0.8h-0.8zM497.0 650.8h0.8v0.8h-0.8zM511.1 654.6h0.8v0.8h-0.8zM506.6 641.8h0.8v0.8h-0.8zM505.1 644.3h0.8v0.8h-0.8zM506.4 660.0h0.8v0.8h-0.8zM510.3 646.5h0.8v0.8h-0.8zM497.9 643.6h0.8v0.8h-0.8zM508.4 658.2h0.8v0.8h-0.8zM511.0 657.8h0.8v0.8h-0.8zM497.9 648.1h0.8v0.8h-0.8zM493.7 655.9h0.8v0.8h-0.8zM504.3 642.3h0.8v0.8h-0.8zM503.0 643.3h0.8v0.8h-0.8zM508.4 646.6h0.8v0.8h-0.8zM504.0 661.0h0.8v0.8h-0.8zM496.4 654.9h0.8v0.8h-0.8zM513.5 657.1h0.8v0.8h-0.8zM497.8 656.5h0.8v0.8h-0.8zM498.6 647.8h0.8v0.8h-0.8zM503.7 644.3h0.8v0.8h-0.8zM504.7 640.1h0.8v0.8h-0.8zM501.2 645.4h0.8v0.8h-0.8zM507.3 643.2h0.8v0.8h-0.8zM501.0 659.0h0.8v0.8h-0.8zM503.8 642.3h0.8v0.8h-0.8zM503.3 644.3h0.8v0.8h-0.8zM495.7 654.7h0.8v0.8h-0.8zM495.1 658.6h0.8v0.8h-0.8zM506.3 642.2h0.8v0.8h-0.8zM510.3 644.5h0.8v0.8h-0.8zM503.5 660.5h0.8v0.8h-0.8zM508.9 641.5h0.8v0.8h-0.8zM494.5 645.7h0.8v0.8h-0.8zM496.7 648.0h0.8v0.8h-0.8zM500.2 659.4h0.8v0.8h-0.8zM509.1 647.5h0.8v0.8h-0.8zM507.9 660.2h0.8v0.8h-0.8zM504.6 644.3h0.8v0.8h-0.8zM507.1 645.7h0.8v0.8h-0.8zM512.3 658.4h0.8v0.8h-0.8zM506.8 643.6h0.8v0.8h-0.8zM511.0 655.6h0.8v0.8h-0.8zM507.0 642.0h0.8v0.8h-0.8zM501.9 660.5h0.8v0.8h-0.8zM509.7 648.0h0.8v0.8h-0.8zM500.5 642.4h0.8v0.8h-0.8zM497.6 645.5h0.8v0.8h-0.8zM496.5 653.9h0.8v0.8h-0.8zM510.3 656.1h0.8v0.8h-0.8zM510.0 658.2h0.8v0.8h-0.8zM496.4 651.3h0.8v0.8h-0.8zM497.1 650.5h0.8v0.8h-0.8zM510.3 647.1h0.8v0.8h-0.8zM509.5 659.4h0.8v0.8h-0.8zM504.9 643.7h0.8v0.8h-0.8zM506.0 659.9h0.8v0.8h-0.8zM499.6 644.7h0.8v0.8h-0.8zM502.5 642.5h0.8v0.8h-0.8zM509.7 643.4h0.8v0.8h-0.8zM510.7 655.4h0.8v0.8h-0.8zM508.7 643.5h0.8v0.8h-0.8zM508.6 661.3h0.8v0.8h-0.8zM507.9 645.2h0.8v0.8h-0.8zM501.9 644.8h0.8v0.8h-0.8zM504.8 640.6h0.8v0.8h-0.8zM510.1 656.3h0.8v0.8h-0.8zM500.6 641.6h0.8v0.8h-0.8zM495.9 648.6h0.8v0.8h-0.8zM503.3 643.2h0.8v0.8h-0.8zM504.2 660.5h0.8v0.8h-0.8zM507.2 644.5h0.8v0.8h-0.8zM505.6 643.5h0.8v0.8h-0.8zM511.1 644.9h0.8v0.8h-0.8zM501.4 661.6h0.8v0.8h-0.8zM498.9 641.3h0.8v0.8h-0.8zM493.6 648.4h0.8v0.8h-0.8zM501.3 645.1h0.8v0.8h-0.8zM498.6 645.7h0.8v0.8h-0.8zM501.4 645.3h0.8v0.8h-0.8zM497.9 648.6h0.8v0.8h-0.8zM509.4 660.8h0.8v0.8h-0.8zM503.3 660.0h0.8v0.8h-0.8zM506.3 661.8h0.8v0.8h-0.8zM509.1 644.6h0.8v0.8h-0.8zM504.1 643.8h0.8v0.8h-0.8zM494.2 650.0h0.8v0.8h-0.8zM504.5 644.3h0.8v0.8h-0.8zM509.4 646.7h0.8v0.8h-0.8zM508.9 645.1h0.8v0.8h-0.8zM499.4 659.3h0.8v0.8h-0.8zM511.3 659.9h0.8v0.8h-0.8zM505.2 642.9h0.8v0.8h-0.8zM508.4 643.5h0.8v0.8h-0.8zM505.7 645.1h0.8v0.8h-0.8zM495.7 653.9h0.8v0.8h-0.8zM513.3 649.0h0.8v0.8h-0.8zM501.8 645.6h0.8v0.8h-0.8zM497.1 651.7h0.8v0.8h-0.8zM506.3 644.9h0.8v0.8h-0.8zM494.7 652.6h0.8v0.8h-0.8zM509.2 647.5h0.8v0.8h-0.8zM508.1 661.5h0.8v0.8h-0.8zM512.1 654.7h0.8v0.8h-0.8zM510.1 660.1h0.8v0.8h-0.8zM497.3 646.8h0.8v0.8h-0.8zM510.2 656.4h0.8v0.8h-0.8zM499.2 642.2h0.8v0.8h-0.8zM510.5 655.8h0.8v0.8h-0.8zM504.1 661.2h0.8v0.8h-0.8zM508.5 646.2h0.8v0.8h-0.8zM507.6 643.3h0.8v0.8h-0.8zM492.2 652.7h0.8v0.8h-0.8zM512.8 658.7h0.8v0.8h-0.8zM496.7 648.7h0.8v0.8h-0.8zM499.1 658.7h0.8v0.8h-0.8zM497.4 647.3h0.8v0.8h-0.8zM508.8 659.5h0.8v0.8h-0.8zM509.3 660.5h0.8v0.8h-0.8zM509.3 658.4h0.8v0.8h-0.8zM498.4 645.9h0.8v0.8h-0.8zM501.3 645.7h0.8v0.8h-0.8zM498.5 658.4h0.8v0.8h-0.8zM499.7 662.0h0.8v0.8h-0.8zM505.9 645.2h0.8v0.8h-0.8zM500.9 643.9h0.8v0.8h-0.8zM506.5 643.6h0.8v0.8h-0.8zM495.5 653.7h0.8v0.8h-0.8zM505.7 642.7h0.8v0.8h-0.8zM506.0 643.9h0.8v0.8h-0.8zM505.7 641.9h0.8v0.8h-0.8zM505.8 660.9h0.8v0.8h-0.8zM509.2 646.6h0.8v0.8h-0.8zM497.8 642.8h0.8v0.8h-0.8zM506.9 645.3h0.8v0.8h-0.8zM513.7 656.1h0.8v0.8h-0.8zM499.5 641.9h0.8v0.8h-0.8zM502.4 643.3h0.8v0.8h-0.8zM512.4 653.0h0.8v0.8h-0.8zM495.4 653.9h0.8v0.8h-0.8zM512.2 651.0h0.8v0.8h-0.8zM497.4 644.3h0.8v0.8h-0.8zM510.8 654.8h0.8v0.8h-0.8zM498.3 658.5h0.8v0.8h-0.8zM511.4 656.1h0.8v0.8h-0.8zM500.0 644.3h0.8v0.8h-0.8zM508.8 658.6h0.8v0.8h-0.8zM497.3 650.1h0.8v0.8h-0.8zM504.7 642.4h0.8v0.8h-0.8zM511.2 655.8h0.8v0.8h-0.8zM511.6 653.6h0.8v0.8h-0.8zM508.1 645.7h0.8v0.8h-0.8zM494.2 649.1h0.8v0.8h-0.8zM497.7 647.8h0.8v0.8h-0.8zM509.8 659.2h0.8v0.8h-0.8zM508.9 643.3h0.8v0.8h-0.8zM495.4 656.2h0.8v0.8h-0.8zM497.3 657.0h0.8v0.8h-0.8zM494.5 646.5h0.8v0.8h-0.8zM500.3 645.2h0.8v0.8h-0.8zM497.8 659.5h0.8v0.8h-0.8zM497.7 649.1h0.8v0.8h-0.8zM506.6 644.4h0.8v0.8h-0.8zM503.5 642.8h0.8v0.8h-0.8zM498.2 647.5h0.8v0.8h-0.8zM511.5 650.2h0.8v0.8h-0.8zM500.5 646.1h0.8v0.8h-0.8zM497.6 646.1h0.8v0.8h-0.8zM510.9 659.0h0.8v0.8h-0.8zM513.5 655.6h0.8v0.8h-0.8zM512.8 654.9h0.8v0.8h-0.8zM499.9 646.5h0.8v0.8h-0.8zM496.8 650.5h0.8v0.8h-0.8zM502.4 661.6h0.8v0.8h-0.8zM496.1 650.4h0.8v0.8h-0.8zM503.8 660.1h0.8v0.8h-0.8zM492.8 654.6h0.8v0.8h-0.8zM494.4 657.4h0.8v0.8h-0.8zM507.6 645.2h0.8v0.8h-0.8zM499.5 647.2h0.8v0.8h-0.8zM496.1 653.2h0.8v0.8h-0.8zM502.1 640.0h0.8v0.8h-0.8zM501.0 660.4h0.8v0.8h-0.8zM497.6 656.5h0.8v0.8h-0.8zM496.3 647.4h0.8v0.8h-0.8zM497.2 659.2h0.8v0.8h-0.8zM510.7 654.9h0.8v0.8h-0.8zM508.9 647.2h0.8v0.8h-0.8zM501.6 661.7h0.8v0.8h-0.8zM500.0 642.4h0.8v0.8h-0.8zM503.3 659.8h0.8v0.8h-0.8zM511.4 655.4h0.8v0.8h-0.8zM509.0 643.2h0.8v0.8h-0.8zM510.8 660.1h0.8v0.8h-0.8zM504.4 644.2h0.8v0.8h-0.8zM505.7 660.2h0.8v0.8h-0.8zM497.0 655.8h0.8v0.8h-0.8zM494.3 656.8h0.8v0.8h-0.8zM507.7 660.5h0.8v0.8h-0.8zM499.6 644.9h0.8v0.8h-0.8zM510.9 647.1h0.8v0.8h-0.8zM506.8 640.3h0.8v0.8h-0.8zM513.8 652.3h0.8v0.8h-0.8zM494.4 653.6h0.8v0.8h-0.8zM507.7 661.9h0.8v0.8h-0.8zM510.6 656.4h0.8v0.8h-0.8zM506.8 643.3h0.8v0.8h-0.8zM499.2 659.0h0.8v0.8h-0.8zM507.5 645.1h0.8v0.8h-0.8zM499.9 660.5h0.8v0.8h-0.8zM511.2 648.2h0.8v0.8h-0.8zM512.1 657.3h0.8v0.8h-0.8zM500.4 660.0h0.8v0.8h-0.8zM495.6 648.9h0.8v0.8h-0.8zM495.6 654.4h0.8v0.8h-0.8zM508.2 661.9h0.8v0.8h-0.8zM508.6 646.0h0.8v0.8h-0.8zM498.1 658.7h0.8v0.8h-0.8zM506.2 644.9h0.8v0.8h-0.8zM501.3 659.4h0.8v0.8h-0.8zM499.0 658.1h0.8v0.8h-0.8zM509.6 646.5h0.8v0.8h-0.8zM507.0 659.4h0.8v0.8h-0.8zM507.7 644.9h0.8v0.8h-0.8zM495.1 648.1h0.8v0.8h-0.8zM495.7 657.6h0.8v0.8h-0.8zM509.3 659.9h0.8v0.8h-0.8zM500.3 646.5h0.8v0.8h-0.8zM500.9 643.3h0.8v0.8h-0.8zM497.6 649.5h0.8v0.8h-0.8zM510.9 647.8h0.8v0.8h-0.8zM509.0 658.2h0.8v0.8h-0.8zM496.8 651.6h0.8v0.8h-0.8zM504.7 643.9h0.8v0.8h-0.8zM495.7 652.5h0.8v0.8h-0.8zM505.8 660.6h0.8v0.8h-0.8zM502.9 641.9h0.8v0.8h-0.8zM511.7 646.6h0.8v0.8h-0.8zM497.5 649.1h0.8v0.8h-0.8zM512.2 656.8h0.8v0.8h-0.8zM508.3 642.6h0.8v0.8h-0.8zM495.9 649.6h0.8v0.8h-0.8zM495.1 657.1h0.8v0.8h-0.8zM507.6 661.6h0.8v0.8h-0.8zM506.1 642.8h0.8v0.8h-0.8zM491.9 651.8h0.8v0.8h-0.8zM492.7 652.4h0.8v0.8h-0.8zM510.2 646.8h0.8v0.8h-0.8zM494.8 657.8h0.8v0.8h-0.8zM500.8 645.5h0.8v0.8h-0.8zM496.4 651.8h0.8v0.8h-0.8zM513.4 656.8h0.8v0.8h-0.8zM508.6 661.5h0.8v0.8h-0.8zM513.7 656.0h0.8v0.8h-0.8zM496.4 661.0h0.8v0.8h-0.8zM499.6 646.5h0.8v0.8h-0.8zM497.3 657.6h0.8v0.8h-0.8zM497.0 660.2h0.8v0.8h-0.8zM508.1 645.7h0.8v0.8h-0.8zM511.6 655.3h0.8v0.8h-0.8zM511.5 644.3h0.8v0.8h-0.8zM511.3 649.6h0.8v0.8h-0.8zM509.7 641.7h0.8v0.8h-0.8zM496.6 648.6h0.8v0.8h-0.8zM510.6 650.1h0.8v0.8h-0.8zM500.5 642.9h0.8v0.8h-0.8zM496.7 653.1h0.8v0.8h-0.8zM504.9 644.6h0.8v0.8h-0.8zM512.8 646.4h0.8v0.8h-0.8zM513.0 649.3h0.8v0.8h-0.8zM501.9 644.6h0.8v0.8h-0.8zM507.9 641.3h0.8v0.8h-0.8zM505.5 640.6h0.8v0.8h-0.8zM512.6 648.3h0.8v0.8h-0.8zM506.9 644.1h0.8v0.8h-0.8zM505.5 643.5h0.8v0.8h-0.8zM501.9 640.8h0.8v0.8h-0.8zM510.4 645.8h0.8v0.8h-0.8zM507.8 641.5h0.8v0.8h-0.8zM506.6 643.4h0.8v0.8h-0.8zM511.4 645.0h0.8v0.8h-0.8zM506.8 641.9h0.8v0.8h-0.8zM509.8 645.8h0.8v0.8h-0.8zM504.8 642.1h0.8v0.8h-0.8zM506.2 641.9h0.8v0.8h-0.8zM503.1 644.2h0.8v0.8h-0.8zM507.6 641.2h0.8v0.8h-0.8zM506.1 640.4h0.8v0.8h-0.8zM505.9 641.0h0.8v0.8h-0.8zM506.7 642.5h0.8v0.8h-0.8zM513.4 650.3h0.8v0.8h-0.8zM509.1 646.8h0.8v0.8h-0.8zM508.0 645.3h0.8v0.8h-0.8zM506.9 643.5h0.8v0.8h-0.8zM503.9 641.8h0.8v0.8h-0.8zM505.9 641.5h0.8v0.8h-0.8zM512.5 649.3h0.8v0.8h-0.8zM501.9 645.4h0.8v0.8h-0.8zM508.3 643.7h0.8v0.8h-0.8zM512.1 649.3h0.8v0.8h-0.8zM504.1 644.4h0.8v0.8h-0.8zM513.2 649.6h0.8v0.8h-0.8zM507.5 640.5h0.8v0.8h-0.8zM511.5 651.2h0.8v0.8h-0.8zM510.4 642.6h0.8v0.8h-0.8zM500.5 645.6h0.8v0.8h-0.8zM509.0 642.1h0.8v0.8h-0.8zM507.4 641.6h0.8v0.8h-0.8zM510.6 642.6h0.8v0.8h-0.8zM511.3 646.1h0.8v0.8h-0.8zM496.8 650.1h0.8v0.8h-0.8zM508.8 641.4h0.8v0.8h-0.8zM503.1 645.1h0.8v0.8h-0.8zM511.9 651.3h0.8v0.8h-0.8zM509.1 643.1h0.8v0.8h-0.8zM503.3 642.6h0.8v0.8h-0.8zM500.7 644.3h0.8v0.8h-0.8zM510.5 651.1h0.8v0.8h-0.8zM504.2 642.9h0.8v0.8h-0.8zM502.7 645.3h0.8v0.8h-0.8zM506.4 644.9h0.8v0.8h-0.8zM506.5 641.9h0.8v0.8h-0.8zM510.8 648.6h0.8v0.8h-0.8zM512.7 645.6h0.8v0.8h-0.8zM504.4 640.0h0.8v0.8h-0.8zM505.5 639.9h0.8v0.8h-0.8zM496.1 651.7h0.8v0.8h-0.8zM509.9 643.2h0.8v0.8h-0.8zM501.3 640.4h0.8v0.8h-0.8zM511.9 648.6h0.8v0.8h-0.8zM502.7 642.8h0.8v0.8h-0.8zM510.3 648.5h0.8v0.8h-0.8zM511.5 643.8h0.8v0.8h-0.8zM506.6 644.1h0.8v0.8h-0.8zM510.2 645.3h0.8v0.8h-0.8zM505.4 645.1h0.8v0.8h-0.8zM508.9 645.1h0.8v0.8h-0.8zM508.4 646.2h0.8v0.8h-0.8zM512.8 651.8h0.8v0.8h-0.8zM502.8 644.9h0.8v0.8h-0.8zM507.3 644.3h0.8v0.8h-0.8zM509.3 643.7h0.8v0.8h-0.8zM504.8 643.4h0.8v0.8h-0.8zM501.0 641.7h0.8v0.8h-0.8zM506.3 643.6h0.8v0.8h-0.8zM510.8 649.3h0.8v0.8h-0.8zM507.9 641.9h0.8v0.8h-0.8zM507.0 645.7h0.8v0.8h-0.8zM510.8 647.4h0.8v0.8h-0.8zM511.0 646.6h0.8v0.8h-0.8zM501.1 642.4h0.8v0.8h-0.8zM509.2 645.0h0.8v0.8h-0.8zM504.6 645.0h0.8v0.8h-0.8zM504.8 641.2h0.8v0.8h-0.8zM509.0 641.1h0.8v0.8h-0.8zM505.3 641.2h0.8v0.8h-0.8zM504.7 640.0h0.8v0.8h-0.8zM512.2 651.0h0.8v0.8h-0.8zM504.7 643.1h0.8v0.8h-0.8zM507.0 645.0h0.8v0.8h-0.8zM505.1 640.7h0.8v0.8h-0.8zM506.0 643.1h0.8v0.8h-0.8zM507.1 645.2h0.8v0.8h-0.8zM503.7 644.2h0.8v0.8h-0.8zM513.7 652.7h0.8v0.8h-0.8zM510.6 651.2h0.8v0.8h-0.8zM511.0 647.4h0.8v0.8h-0.8zM509.2 644.8h0.8v0.8h-0.8zM502.4 642.8h0.8v0.8h-0.8zM511.0 651.8h0.8v0.8h-0.8zM505.1 644.9h0.8v0.8h-0.8zM506.9 645.2h0.8v0.8h-0.8zM506.7 641.9h0.8v0.8h-0.8zM503.1 643.5h0.8v0.8h-0.8zM510.2 646.3h0.8v0.8h-0.8zM511.8 652.3h0.8v0.8h-0.8zM512.3 652.0h0.8v0.8h-0.8zM509.7 642.5h0.8v0.8h-0.8zM503.6 642.5h0.8v0.8h-0.8zM511.5 649.9h0.8v0.8h-0.8zM497.6 644.5h0.8v0.8h-0.8zM506.9 645.6h0.8v0.8h-0.8zM510.4 645.1h0.8v0.8h-0.8zM497.4 649.1h0.8v0.8h-0.8zM509.8 646.3h0.8v0.8h-0.8zM510.9 647.5h0.8v0.8h-0.8zM505.1 640.8h0.8v0.8h-0.8zM502.9 641.3h0.8v0.8h-0.8zM508.9 646.8h0.8v0.8h-0.8zM507.9 640.6h0.8v0.8h-0.8zM507.0 643.0h0.8v0.8h-0.8zM501.4 644.6h0.8v0.8h-0.8zM510.0 645.5h0.8v0.8h-0.8zM505.4 642.3h0.8v0.8h-0.8zM509.8 646.1h0.8v0.8h-0.8zM510.8 645.5h0.8v0.8h-0.8zM504.2 644.0h0.8v0.8h-0.8zM501.8 641.1h0.8v0.8h-0.8zM506.6 640.1h0.8v0.8h-0.8zM503.4 645.1h0.8v0.8h-0.8zM503.1 640.9h0.8v0.8h-0.8zM509.1 646.6h0.8v0.8h-0.8zM504.3 644.3h0.8v0.8h-0.8zM504.2 641.2h0.8v0.8h-0.8zM509.9 642.9h0.8v0.8h-0.8zM505.9 643.7h0.8v0.8h-0.8zM508.8 646.8h0.8v0.8h-0.8zM512.6 646.4h0.8v0.8h-0.8zM508.8 643.9h0.8v0.8h-0.8zM508.9 642.2h0.8v0.8h-0.8zM507.0 642.4h0.8v0.8h-0.8zM511.1 648.9h0.8v0.8h-0.8zM509.1 643.6h0.8v0.8h-0.8zM508.6 646.5h0.8v0.8h-0.8zM505.6 642.6h0.8v0.8h-0.8zM507.4 643.5h0.8v0.8h-0.8zM513.3 647.5h0.8v0.8h-0.8zM501.7 642.8h0.8v0.8h-0.8zM508.4 642.7h0.8v0.8h-0.8zM503.2 641.3h0.8v0.8h-0.8zM506.6 644.5h0.8v0.8h-0.8zM504.7 644.6h0.8v0.8h-0.8zM506.4 644.3h0.8v0.8h-0.8zM506.9 643.1h0.8v0.8h-0.8zM502.6 641.9h0.8v0.8h-0.8zM511.0 652.3h0.8v0.8h-0.8zM510.6 643.1h0.8v0.8h-0.8zM508.4 640.8h0.8v0.8h-0.8zM503.2 642.4h0.8v0.8h-0.8zM504.7 644.0h0.8v0.8h-0.8zM508.8 647.1h0.8v0.8h-0.8zM509.2 647.3h0.8v0.8h-0.8zM507.9 645.7h0.8v0.8h-0.8zM505.7 643.9h0.8v0.8h-0.8zM508.4 645.0h0.8v0.8h-0.8zM505.9 640.5h0.8v0.8h-0.8zM509.6 645.2h0.8v0.8h-0.8zM509.8 645.5h0.8v0.8h-0.8zM506.5 641.6h0.8v0.8h-0.8zM506.2 642.6h0.8v0.8h-0.8zM506.3 644.4h0.8v0.8h-0.8zM497.0 652.1h0.8v0.8h-0.8zM502.2 642.6h0.8v0.8h-0.8zM510.7 648.8h0.8v0.8h-0.8zM511.9 647.9h0.8v0.8h-0.8zM507.8 645.8h0.8v0.8h-0.8zM503.6 639.9h0.8v0.8h-0.8zM512.4 649.7h0.8v0.8h-0.8zM505.4 643.9h0.8v0.8h-0.8zM503.1 642.3h0.8v0.8h-0.8zM504.4 644.0h0.8v0.8h-0.8zM496.3 649.3h0.8v0.8h-0.8zM501.9 642.7h0.8v0.8h-0.8zM504.2 645.0h0.8v0.8h-0.8zM505.0 645.0h0.8v0.8h-0.8zM492.1 651.9h0.8v0.8h-0.8zM498.2 658.3h0.8v0.8h-0.8zM492.5 653.2h0.8v0.8h-0.8zM500.9 660.6h0.8v0.8h-0.8zM499.6 659.7h0.8v0.8h-0.8zM496.5 656.5h0.8v0.8h-0.8zM501.0 658.9h0.8v0.8h-0.8zM502.4 661.8h0.8v0.8h-0.8zM497.2 656.3h0.8v0.8h-0.8zM500.7 660.1h0.8v0.8h-0.8zM501.4 660.9h0.8v0.8h-0.8zM493.5 657.6h0.8v0.8h-0.8zM499.3 659.8h0.8v0.8h-0.8zM497.8 657.9h0.8v0.8h-0.8zM492.6 656.5h0.8v0.8h-0.8zM495.5 651.5h0.8v0.8h-0.8zM495.0 655.8h0.8v0.8h-0.8zM497.4 660.3h0.8v0.8h-0.8zM492.4 654.7h0.8v0.8h-0.8zM496.4 658.1h0.8v0.8h-0.8zM496.8 655.3h0.8v0.8h-0.8zM496.7 648.5h0.8v0.8h-0.8zM500.8 658.7h0.8v0.8h-0.8zM495.0 659.5h0.8v0.8h-0.8zM494.9 655.4h0.8v0.8h-0.8zM496.1 656.7h0.8v0.8h-0.8zM495.2 655.5h0.8v0.8h-0.8zM494.1 648.6h0.8v0.8h-0.8zM496.0 658.2h0.8v0.8h-0.8zM496.5 657.5h0.8v0.8h-0.8zM502.1 659.3h0.8v0.8h-0.8zM496.1 655.0h0.8v0.8h-0.8zM496.5 651.6h0.8v0.8h-0.8zM492.7 654.3h0.8v0.8h-0.8zM495.4 657.5h0.8v0.8h-0.8zM497.3 657.9h0.8v0.8h-0.8zM495.7 652.5h0.8v0.8h-0.8zM495.8 655.6h0.8v0.8h-0.8zM495.6 655.1h0.8v0.8h-0.8zM495.0 654.0h0.8v0.8h-0.8zM498.7 659.1h0.8v0.8h-0.8zM492.1 655.2h0.8v0.8h-0.8zM494.9 657.6h0.8v0.8h-0.8zM496.8 655.8h0.8v0.8h-0.8zM494.4 656.9h0.8v0.8h-0.8zM496.1 660.1h0.8v0.8h-0.8zM495.8 653.0h0.8v0.8h-0.8zM496.6 652.4h0.8v0.8h-0.8zM498.1 659.9h0.8v0.8h-0.8zM496.2 655.5h0.8v0.8h-0.8zM495.5 653.5h0.8v0.8h-0.8zM502.7 659.9h0.8v0.8h-0.8zM492.4 653.1h0.8v0.8h-0.8zM494.1 655.5h0.8v0.8h-0.8zM500.3 660.8h0.8v0.8h-0.8zM496.1 657.9h0.8v0.8h-0.8zM499.0 659.8h0.8v0.8h-0.8zM501.2 658.8h0.8v0.8h-0.8zM492.4 656.3h0.8v0.8h-0.8zM497.9 656.7h0.8v0.8h-0.8zM496.0 657.2h0.8v0.8h-0.8zM501.1 659.8h0.8v0.8h-0.8zM499.7 659.1h0.8v0.8h-0.8zM495.9 651.1h0.8v0.8h-0.8zM495.6 651.8h0.8v0.8h-0.8zM495.9 659.5h0.8v0.8h-0.8zM496.4 657.8h0.8v0.8h-0.8zM492.3 655.4h0.8v0.8h-0.8zM497.9 658.3h0.8v0.8h-0.8zM493.7 656.4h0.8v0.8h-0.8zM498.4 660.8h0.8v0.8h-0.8zM495.1 658.8h0.8v0.8h-0.8zM496.2 655.2h0.8v0.8h-0.8zM497.1 658.1h0.8v0.8h-0.8zM492.6 654.5h0.8v0.8h-0.8zM494.9 656.1h0.8v0.8h-0.8zM494.1 658.5h0.8v0.8h-0.8zM498.4 659.7h0.8v0.8h-0.8zM494.9 656.2h0.8v0.8h-0.8zM492.1 654.3h0.8v0.8h-0.8zM495.2 652.5h0.8v0.8h-0.8zM501.1 659.1h0.8v0.8h-0.8zM495.6 657.9h0.8v0.8h-0.8zM495.8 656.7h0.8v0.8h-0.8zM496.8 650.2h0.8v0.8h-0.8zM500.1 662.0h0.8v0.8h-0.8zM500.2 659.0h0.8v0.8h-0.8zM499.4 658.5h0.8v0.8h-0.8zM497.2 659.8h0.8v0.8h-0.8zM495.9 657.8h0.8v0.8h-0.8zM494.9 656.0h0.8v0.8h-0.8zM493.5 654.2h0.8v0.8h-0.8zM495.9 657.3h0.8v0.8h-0.8zM494.5 656.9h0.8v0.8h-0.8zM495.5 659.6h0.8v0.8h-0.8zM494.8 655.3h0.8v0.8h-0.8zM492.1 655.2h0.8v0.8h-0.8zM495.8 654.0h0.8v0.8h-0.8zM495.6 658.2h0.8v0.8h-0.8zM496.5 649.9h0.8v0.8h-0.8zM499.1 658.7h0.8v0.8h-0.8zM502.7 660.9h0.8v0.8h-0.8zM496.5 658.6h0.8v0.8h-0.8zM502.3 660.2h0.8v0.8h-0.8zM502.0 660.3h0.8v0.8h-0.8zM501.0 658.9h0.8v0.8h-0.8zM500.9 660.2h0.8v0.8h-0.8zM497.4 658.0h0.8v0.8h-0.8zM495.3 659.1h0.8v0.8h-0.8zM496.0 658.4h0.8v0.8h-0.8zM493.7 656.4h0.8v0.8h-0.8zM498.5 657.7h0.8v0.8h-0.8zM501.1 661.3h0.8v0.8h-0.8zM498.6 658.3h0.8v0.8h-0.8zM500.8 659.0h0.8v0.8h-0.8zM498.0 661.9h0.8v0.8h-0.8zM497.2 656.1h0.8v0.8h-0.8zM492.5 651.9h0.8v0.8h-0.8zM493.9 654.3h0.8v0.8h-0.8zM491.9 653.9h0.8v0.8h-0.8zM498.5 659.9h0.8v0.8h-0.8zM496.4 655.0h0.8v0.8h-0.8zM496.8 656.9h0.8v0.8h-0.8zM500.6 661.6h0.8v0.8h-0.8zM497.6 658.5h0.8v0.8h-0.8zM501.7 659.9h0.8v0.8h-0.8zM492.7 654.9h0.8v0.8h-0.8zM492.0 654.0h0.8v0.8h-0.8zM496.5 650.2h0.8v0.8h-0.8zM495.7 654.0h0.8v0.8h-0.8zM500.0 659.9h0.8v0.8h-0.8zM499.1 658.2h0.8v0.8h-0.8zM495.6 658.6h0.8v0.8h-0.8zM492.8 656.8h0.8v0.8h-0.8zM497.1 655.3h0.8v0.8h-0.8zM500.4 659.3h0.8v0.8h-0.8zM494.8 652.6h0.8v0.8h-0.8zM495.1 655.7h0.8v0.8h-0.8zM502.0 661.1h0.8v0.8h-0.8zM499.5 658.1h0.8v0.8h-0.8zM501.2 659.9h0.8v0.8h-0.8zM496.7 656.0h0.8v0.8h-0.8zM498.3 656.8h0.8v0.8h-0.8zM502.1 659.8h0.8v0.8h-0.8zM501.4 659.7h0.8v0.8h-0.8zM496.3 657.6h0.8v0.8h-0.8zM494.0 651.4h0.8v0.8h-0.8zM493.8 657.1h0.8v0.8h-0.8zM495.4 651.2h0.8v0.8h-0.8zM493.2 657.4h0.8v0.8h-0.8zM493.7 657.2h0.8v0.8h-0.8zM496.1 653.6h0.8v0.8h-0.8zM495.1 657.8h0.8v0.8h-0.8zM494.3 657.2h0.8v0.8h-0.8zM496.2 658.1h0.8v0.8h-0.8zM494.6 655.9h0.8v0.8h-0.8zM495.0 652.7h0.8v0.8h-0.8zM495.7 654.4h0.8v0.8h-0.8zM493.0 653.7h0.8v0.8h-0.8zM493.7 653.4h0.8v0.8h-0.8zM493.1 654.2h0.8v0.8h-0.8zM493.8 655.7h0.8v0.8h-0.8zM498.8 661.7h0.8v0.8h-0.8zM495.8 654.8h0.8v0.8h-0.8zM499.3 660.8h0.8v0.8h-0.8zM496.5 659.4h0.8v0.8h-0.8zM501.2 660.1h0.8v0.8h-0.8zM494.7 655.4h0.8v0.8h-0.8zM500.5 659.1h0.8v0.8h-0.8zM499.4 659.4h0.8v0.8h-0.8zM496.3 660.8h0.8v0.8h-0.8zM496.5 657.3h0.8v0.8h-0.8zM498.2 658.5h0.8v0.8h-0.8zM501.8 660.9h0.8v0.8h-0.8zM496.2 653.1h0.8v0.8h-0.8zM499.5 658.5h0.8v0.8h-0.8zM496.5 657.2h0.8v0.8h-0.8zM496.1 653.4h0.8v0.8h-0.8zM500.6 660.2h0.8v0.8h-0.8zM494.8 659.0h0.8v0.8h-0.8zM497.6 657.8h0.8v0.8h-0.8zM494.4 656.8h0.8v0.8h-0.8zM494.0 654.7h0.8v0.8h-0.8zM498.2 657.9h0.8v0.8h-0.8zM497.1 655.1h0.8v0.8h-0.8zM493.3 657.5h0.8v0.8h-0.8zM493.0 656.2h0.8v0.8h-0.8zM496.7 655.7h0.8v0.8h-0.8zM493.4 658.2h0.8v0.8h-0.8zM500.4 659.1h0.8v0.8h-0.8zM492.3 653.9h0.8v0.8h-0.8zM498.4 657.6h0.8v0.8h-0.8zM500.9 659.0h0.8v0.8h-0.8zM495.4 652.2h0.8v0.8h-0.8zM495.8 658.0h0.8v0.8h-0.8zM498.4 659.6h0.8v0.8h-0.8zM493.3 657.3h0.8v0.8h-0.8zM495.7 656.7h0.8v0.8h-0.8zM498.5 658.8h0.8v0.8h-0.8zM492.0 652.5h0.8v0.8h-0.8zM499.8 658.3h0.8v0.8h-0.8zM495.2 656.1h0.8v0.8h-0.8zM497.8 656.7h0.8v0.8h-0.8zM501.1 661.1h0.8v0.8h-0.8zM498.0 660.2h0.8v0.8h-0.8zM495.4 658.6h0.8v0.8h-0.8zM495.9 653.5h0.8v0.8h-0.8zM498.2 659.3h0.8v0.8h-0.8zM496.2 659.2h0.8v0.8h-0.8zM494.3 658.3h0.8v0.8h-0.8zM497.2 656.8h0.8v0.8h-0.8zM497.5 659.2h0.8v0.8h-0.8zM500.0 659.9h0.8v0.8h-0.8zM498.0 658.9h0.8v0.8h-0.8zM501.1 659.8h0.8v0.8h-0.8zM495.8 654.8h0.8v0.8h-0.8zM494.4 659.3h0.8v0.8h-0.8zM497.3 650.4h0.8v0.8h-0.8zM495.2 654.2h0.8v0.8h-0.8zM494.9 655.8h0.8v0.8h-0.8zM500.1 658.8h0.8v0.8h-0.8zM496.1 653.5h0.8v0.8h-0.8zM496.9 653.1h0.8v0.8h-0.8zM494.5 653.2h0.8v0.8h-0.8zM492.5 652.8h0.8v0.8h-0.8zM493.5 652.0h0.8v0.8h-0.8zM494.5 659.3h0.8v0.8h-0.8zM493.4 654.8h0.8v0.8h-0.8zM497.4 658.5h0.8v0.8h-0.8zM496.9 653.0h0.8v0.8h-0.8zM497.4 657.7h0.8v0.8h-0.8zM492.4 654.7h0.8v0.8h-0.8zM493.3 655.5h0.8v0.8h-0.8zM502.4 660.2h0.8v0.8h-0.8zM495.6 653.4h0.8v0.8h-0.8zM497.9 656.8h0.8v0.8h-0.8zM495.3 651.7h0.8v0.8h-0.8zM494.3 657.5h0.8v0.8h-0.8zM498.8 659.1h0.8v0.8h-0.8zM501.2 660.0h0.8v0.8h-0.8zM492.4 653.6h0.8v0.8h-0.8zM492.2 654.8h0.8v0.8h-0.8zM496.8 651.4h0.8v0.8h-0.8zM495.2 659.0h0.8v0.8h-0.8zM501.7 660.6h0.8v0.8h-0.8zM502.5 661.6h0.8v0.8h-0.8zM496.0 659.1h0.8v0.8h-0.8zM497.8 657.1h0.8v0.8h-0.8zM495.3 651.9h0.8v0.8h-0.8zM500.3 658.4h0.8v0.8h-0.8zM497.0 657.7h0.8v0.8h-0.8zM495.7 656.5h0.8v0.8h-0.8zM494.7 658.8h0.8v0.8h-0.8zM497.0 657.2h0.8v0.8h-0.8zM501.9 659.1h0.8v0.8h-0.8z" fill="#2a66d4" opacity="1"/>
<path d="M506.9 657.2h0.8v0.8h-0.8zM501.9 658.0h0.8v0.8h-0.8zM503.8 647.3h0.8v0.8h-0.8zM506.9 657.6h0.8v0.8h-0.8zM500.4 657.1h0.8v0.8h-0.8zM509.0 651.6h0.8v0.8h-0.8zM505.6 646.9h0.8v0.8h-0.8zM509.9 652.7h0.8v0.8h-0.8zM508.4 658.0h0.8v0.8h-0.8zM503.2 659.1h0.8v0.8h-0.8zM503.6 657.6h0.8v0.8h-0.8zM499.0 654.0h0.8v0.8h-0.8zM499.0 655.5h0.8v0.8h-0.8zM507.2 658.7h0.8v0.8h-0.8zM509.2 656.8h0.8v0.8h-0.8zM501.0 646.8h0.8v0.8h-0.8zM507.9 657.9h0.8v0.8h-0.8zM504.1 645.8h0.8v0.8h-0.8zM509.4 651.8h0.8v0.8h-0.8zM505.0 658.6h0.8v0.8h-0.8zM507.2 656.8h0.8v0.8h-0.8zM500.9 657.4h0.8v0.8h-0.8zM509.1 648.6h0.8v0.8h-0.8zM510.3 650.5h0.8v0.8h-0.8zM509.2 655.1h0.8v0.8h-0.8zM509.4 655.0h0.8v0.8h-0.8zM507.9 648.8h0.8v0.8h-0.8zM508.7 649.7h0.8v0.8h-0.8zM507.1 657.7h0.8v0.8h-0.8zM498.6 651.3h0.8v0.8h-0.8zM507.2 647.3h0.8v0.8h-0.8zM504.5 646.1h0.8v0.8h-0.8zM507.4 657.4h0.8v0.8h-0.8zM507.4 657.6h0.8v0.8h-0.8zM500.7 657.5h0.8v0.8h-0.8zM506.0 658.4h0.8v0.8h-0.8zM505.5 646.0h0.8v0.8h-0.8zM509.7 654.9h0.8v0.8h-0.8zM498.7 654.7h0.8v0.8h-0.8zM508.5 650.1h0.8v0.8h-0.8zM498.0 649.6h0.8v0.8h-0.8zM505.4 646.6h0.8v0.8h-0.8zM509.9 655.3h0.8v0.8h-0.8zM508.3 657.4h0.8v0.8h-0.8zM504.6 647.5h0.8v0.8h-0.8zM499.8 657.5h0.8v0.8h-0.8zM505.3 659.4h0.8v0.8h-0.8zM508.3 647.7h0.8v0.8h-0.8zM509.0 652.9h0.8v0.8h-0.8zM498.7 651.6h0.8v0.8h-0.8zM508.3 647.5h0.8v0.8h-0.8zM506.7 648.2h0.8v0.8h-0.8zM510.4 654.5h0.8v0.8h-0.8zM501.3 646.3h0.8v0.8h-0.8zM499.6 655.2h0.8v0.8h-0.8zM503.2 645.4h0.8v0.8h-0.8zM499.2 651.8h0.8v0.8h-0.8zM507.2 645.9h0.8v0.8h-0.8zM503.6 646.6h0.8v0.8h-0.8zM507.0 648.1h0.8v0.8h-0.8zM506.0 658.0h0.8v0.8h-0.8zM505.0 646.4h0.8v0.8h-0.8zM500.2 656.9h0.8v0.8h-0.8zM504.9 647.0h0.8v0.8h-0.8zM501.9 647.7h0.8v0.8h-0.8zM501.8 647.0h0.8v0.8h-0.8zM500.9 656.4h0.8v0.8h-0.8zM507.7 657.5h0.8v0.8h-0.8zM508.3 649.0h0.8v0.8h-0.8zM500.6 647.8h0.8v0.8h-0.8zM499.5 656.5h0.8v0.8h-0.8zM501.7 647.0h0.8v0.8h-0.8zM509.9 654.8h0.8v0.8h-0.8zM505.8 657.7h0.8v0.8h-0.8zM508.8 656.8h0.8v0.8h-0.8zM506.4 658.4h0.8v0.8h-0.8zM501.0 647.2h0.8v0.8h-0.8zM506.6 647.5h0.8v0.8h-0.8zM509.2 648.0h0.8v0.8h-0.8zM505.5 646.5h0.8v0.8h-0.8zM502.3 647.5h0.8v0.8h-0.8zM500.0 655.4h0.8v0.8h-0.8zM505.7 647.6h0.8v0.8h-0.8zM508.3 657.6h0.8v0.8h-0.8zM497.4 652.0h0.8v0.8h-0.8zM507.9 648.8h0.8v0.8h-0.8zM508.1 648.9h0.8v0.8h-0.8zM506.8 648.2h0.8v0.8h-0.8zM509.1 651.8h0.8v0.8h-0.8zM500.6 647.6h0.8v0.8h-0.8zM507.4 657.4h0.8v0.8h-0.8zM502.7 657.9h0.8v0.8h-0.8zM502.2 658.0h0.8v0.8h-0.8zM498.9 655.3h0.8v0.8h-0.8zM498.2 652.9h0.8v0.8h-0.8zM504.9 646.9h0.8v0.8h-0.8zM510.2 653.2h0.8v0.8h-0.8zM499.9 649.8h0.8v0.8h-0.8zM498.8 648.2h0.8v0.8h-0.8zM506.3 645.4h0.8v0.8h-0.8zM508.6 655.3h0.8v0.8h-0.8zM506.6 647.4h0.8v0.8h-0.8zM509.2 650.2h0.8v0.8h-0.8zM499.5 648.2h0.8v0.8h-0.8zM507.9 657.6h0.8v0.8h-0.8zM503.6 646.7h0.8v0.8h-0.8zM499.7 656.4h0.8v0.8h-0.8zM499.3 654.4h0.8v0.8h-0.8zM505.9 646.1h0.8v0.8h-0.8zM501.5 647.6h0.8v0.8h-0.8zM508.0 648.8h0.8v0.8h-0.8zM506.9 647.4h0.8v0.8h-0.8zM509.2 655.3h0.8v0.8h-0.8zM507.1 657.8h0.8v0.8h-0.8zM506.7 648.1h0.8v0.8h-0.8zM508.8 655.9h0.8v0.8h-0.8zM508.6 649.5h0.8v0.8h-0.8zM498.5 653.3h0.8v0.8h-0.8zM504.1 658.9h0.8v0.8h-0.8zM510.3 653.3h0.8v0.8h-0.8zM507.3 646.2h0.8v0.8h-0.8zM506.9 657.8h0.8v0.8h-0.8zM505.7 646.3h0.8v0.8h-0.8zM508.0 647.3h0.8v0.8h-0.8zM498.0 651.9h0.8v0.8h-0.8zM498.0 651.2h0.8v0.8h-0.8zM507.6 647.8h0.8v0.8h-0.8zM500.7 657.8h0.8v0.8h-0.8zM504.6 646.2h0.8v0.8h-0.8zM501.6 657.5h0.8v0.8h-0.8zM503.8 646.6h0.8v0.8h-0.8zM499.6 655.3h0.8v0.8h-0.8zM509.0 655.1h0.8v0.8h-0.8zM509.9 653.7h0.8v0.8h-0.8zM503.6 658.9h0.8v0.8h-0.8zM506.0 657.9h0.8v0.8h-0.8zM506.7 645.9h0.8v0.8h-0.8zM510.2 653.3h0.8v0.8h-0.8zM505.1 645.8h0.8v0.8h-0.8zM504.2 659.1h0.8v0.8h-0.8zM510.1 653.0h0.8v0.8h-0.8zM505.5 658.9h0.8v0.8h-0.8zM504.4 646.3h0.8v0.8h-0.8zM499.3 651.1h0.8v0.8h-0.8zM499.4 657.1h0.8v0.8h-0.8zM508.4 649.5h0.8v0.8h-0.8zM507.2 657.7h0.8v0.8h-0.8zM499.9 656.6h0.8v0.8h-0.8zM505.3 646.4h0.8v0.8h-0.8zM499.4 655.6h0.8v0.8h-0.8zM507.1 648.2h0.8v0.8h-0.8zM506.4 658.6h0.8v0.8h-0.8zM501.8 657.6h0.8v0.8h-0.8zM509.0 647.8h0.8v0.8h-0.8zM508.6 648.9h0.8v0.8h-0.8zM499.5 647.9h0.8v0.8h-0.8zM498.8 654.4h0.8v0.8h-0.8zM505.5 659.2h0.8v0.8h-0.8zM500.6 656.0h0.8v0.8h-0.8zM501.7 648.5h0.8v0.8h-0.8zM503.2 658.0h0.8v0.8h-0.8zM503.6 645.3h0.8v0.8h-0.8zM502.7 647.6h0.8v0.8h-0.8zM497.9 654.4h0.8v0.8h-0.8zM510.0 655.2h0.8v0.8h-0.8zM501.1 658.1h0.8v0.8h-0.8zM499.3 652.2h0.8v0.8h-0.8zM510.2 655.5h0.8v0.8h-0.8zM506.4 657.3h0.8v0.8h-0.8zM510.0 651.9h0.8v0.8h-0.8zM509.0 647.6h0.8v0.8h-0.8zM508.0 647.5h0.8v0.8h-0.8zM507.6 647.5h0.8v0.8h-0.8zM507.8 647.9h0.8v0.8h-0.8zM508.8 649.8h0.8v0.8h-0.8zM503.6 645.3h0.8v0.8h-0.8zM498.6 656.2h0.8v0.8h-0.8zM509.0 650.6h0.8v0.8h-0.8zM499.5 647.7h0.8v0.8h-0.8zM505.0 646.0h0.8v0.8h-0.8zM508.9 657.2h0.8v0.8h-0.8zM500.7 656.6h0.8v0.8h-0.8zM505.3 659.3h0.8v0.8h-0.8zM506.9 646.2h0.8v0.8h-0.8zM509.4 651.0h0.8v0.8h-0.8zM500.1 648.5h0.8v0.8h-0.8zM503.5 658.6h0.8v0.8h-0.8zM505.9 657.9h0.8v0.8h-0.8zM510.2 655.5h0.8v0.8h-0.8zM500.1 649.5h0.8v0.8h-0.8zM508.9 656.2h0.8v0.8h-0.8zM503.4 646.8h0.8v0.8h-0.8zM498.1 654.6h0.8v0.8h-0.8zM498.1 652.3h0.8v0.8h-0.8zM505.2 647.3h0.8v0.8h-0.8zM502.5 659.0h0.8v0.8h-0.8zM501.2 657.0h0.8v0.8h-0.8zM501.4 658.5h0.8v0.8h-0.8zM508.8 655.7h0.8v0.8h-0.8zM506.0 657.7h0.8v0.8h-0.8zM503.2 658.9h0.8v0.8h-0.8zM508.4 647.7h0.8v0.8h-0.8zM510.2 653.4h0.8v0.8h-0.8zM498.1 653.9h0.8v0.8h-0.8zM506.6 657.5h0.8v0.8h-0.8zM509.9 652.4h0.8v0.8h-0.8zM499.5 649.4h0.8v0.8h-0.8zM509.5 649.6h0.8v0.8h-0.8zM505.4 646.3h0.8v0.8h-0.8zM503.9 658.7h0.8v0.8h-0.8zM506.7 648.1h0.8v0.8h-0.8zM508.8 651.2h0.8v0.8h-0.8zM502.5 647.5h0.8v0.8h-0.8zM508.9 650.0h0.8v0.8h-0.8zM506.9 648.2h0.8v0.8h-0.8zM508.5 655.9h0.8v0.8h-0.8zM510.6 653.6h0.8v0.8h-0.8zM503.0 658.8h0.8v0.8h-0.8zM507.9 647.9h0.8v0.8h-0.8zM506.4 658.9h0.8v0.8h-0.8zM504.0 658.2h0.8v0.8h-0.8zM509.6 653.9h0.8v0.8h-0.8zM502.4 646.3h0.8v0.8h-0.8zM508.3 656.5h0.8v0.8h-0.8zM506.6 646.5h0.8v0.8h-0.8zM505.3 658.2h0.8v0.8h-0.8zM505.2 646.9h0.8v0.8h-0.8zM507.3 648.0h0.8v0.8h-0.8zM498.2 650.4h0.8v0.8h-0.8zM504.9 658.0h0.8v0.8h-0.8zM501.6 657.6h0.8v0.8h-0.8zM507.1 647.2h0.8v0.8h-0.8zM507.0 648.2h0.8v0.8h-0.8zM502.2 658.0h0.8v0.8h-0.8zM502.4 658.2h0.8v0.8h-0.8zM501.5 658.1h0.8v0.8h-0.8zM497.9 655.7h0.8v0.8h-0.8zM509.0 657.3h0.8v0.8h-0.8zM504.6 658.9h0.8v0.8h-0.8zM498.6 656.3h0.8v0.8h-0.8zM502.5 657.4h0.8v0.8h-0.8zM508.6 656.6h0.8v0.8h-0.8zM501.7 646.0h0.8v0.8h-0.8zM503.7 646.8h0.8v0.8h-0.8zM500.0 655.9h0.8v0.8h-0.8zM508.8 649.1h0.8v0.8h-0.8zM507.6 647.5h0.8v0.8h-0.8zM508.6 655.0h0.8v0.8h-0.8zM508.7 656.1h0.8v0.8h-0.8zM508.1 657.0h0.8v0.8h-0.8zM498.0 655.5h0.8v0.8h-0.8zM508.2 647.6h0.8v0.8h-0.8zM507.3 658.4h0.8v0.8h-0.8zM509.2 652.2h0.8v0.8h-0.8zM499.6 649.9h0.8v0.8h-0.8zM502.5 657.7h0.8v0.8h-0.8zM499.6 650.4h0.8v0.8h-0.8zM503.8 659.0h0.8v0.8h-0.8zM505.7 659.2h0.8v0.8h-0.8zM505.4 659.3h0.8v0.8h-0.8zM499.5 656.7h0.8v0.8h-0.8zM507.2 656.9h0.8v0.8h-0.8zM498.5 652.6h0.8v0.8h-0.8zM503.5 645.6h0.8v0.8h-0.8zM507.1 646.3h0.8v0.8h-0.8zM505.3 647.5h0.8v0.8h-0.8zM507.4 648.7h0.8v0.8h-0.8zM508.3 648.0h0.8v0.8h-0.8zM499.7 654.8h0.8v0.8h-0.8zM508.9 653.9h0.8v0.8h-0.8zM500.2 649.1h0.8v0.8h-0.8zM503.6 646.3h0.8v0.8h-0.8zM506.2 647.3h0.8v0.8h-0.8zM497.4 653.7h0.8v0.8h-0.8zM508.9 654.4h0.8v0.8h-0.8zM501.3 656.7h0.8v0.8h-0.8zM497.3 651.0h0.8v0.8h-0.8zM504.1 646.2h0.8v0.8h-0.8zM501.6 647.1h0.8v0.8h-0.8zM507.1 657.8h0.8v0.8h-0.8zM505.2 645.8h0.8v0.8h-0.8zM504.3 658.6h0.8v0.8h-0.8zM508.2 658.1h0.8v0.8h-0.8zM498.4 655.6h0.8v0.8h-0.8zM507.0 646.4h0.8v0.8h-0.8zM503.9 647.2h0.8v0.8h-0.8zM508.4 657.1h0.8v0.8h-0.8zM510.1 653.1h0.8v0.8h-0.8zM499.4 651.0h0.8v0.8h-0.8zM506.1 647.6h0.8v0.8h-0.8zM500.8 647.2h0.8v0.8h-0.8zM505.8 659.3h0.8v0.8h-0.8zM501.0 656.4h0.8v0.8h-0.8zM506.1 659.3h0.8v0.8h-0.8zM499.1 652.2h0.8v0.8h-0.8zM506.9 657.5h0.8v0.8h-0.8zM509.4 655.9h0.8v0.8h-0.8zM507.3 646.9h0.8v0.8h-0.8zM509.2 650.9h0.8v0.8h-0.8zM500.1 658.0h0.8v0.8h-0.8zM502.1 657.6h0.8v0.8h-0.8zM499.3 651.8h0.8v0.8h-0.8zM510.0 655.3h0.8v0.8h-0.8zM507.6 657.2h0.8v0.8h-0.8zM500.7 656.4h0.8v0.8h-0.8zM510.0 655.9h0.8v0.8h-0.8zM506.4 658.4h0.8v0.8h-0.8zM509.2 652.6h0.8v0.8h-0.8zM509.5 656.2h0.8v0.8h-0.8zM499.3 656.6h0.8v0.8h-0.8zM499.1 649.2h0.8v0.8h-0.8zM498.5 652.3h0.8v0.8h-0.8zM503.0 658.2h0.8v0.8h-0.8zM506.2 659.1h0.8v0.8h-0.8zM508.8 651.1h0.8v0.8h-0.8zM504.5 645.7h0.8v0.8h-0.8zM508.1 648.2h0.8v0.8h-0.8zM509.7 653.8h0.8v0.8h-0.8zM508.3 656.6h0.8v0.8h-0.8zM507.6 657.2h0.8v0.8h-0.8zM509.3 652.5h0.8v0.8h-0.8zM506.1 647.7h0.8v0.8h-0.8zM504.6 658.0h0.8v0.8h-0.8zM504.8 657.9h0.8v0.8h-0.8zM500.7 647.5h0.8v0.8h-0.8zM508.9 653.4h0.8v0.8h-0.8zM499.4 647.6h0.8v0.8h-0.8zM507.0 658.1h0.8v0.8h-0.8zM497.8 650.2h0.8v0.8h-0.8zM507.9 647.7h0.8v0.8h-0.8zM508.8 651.1h0.8v0.8h-0.8zM509.4 655.0h0.8v0.8h-0.8zM505.6 659.0h0.8v0.8h-0.8zM503.0 658.4h0.8v0.8h-0.8zM500.8 657.0h0.8v0.8h-0.8zM508.2 649.9h0.8v0.8h-0.8zM502.9 657.7h0.8v0.8h-0.8zM500.6 647.7h0.8v0.8h-0.8zM498.9 648.0h0.8v0.8h-0.8zM505.4 659.0h0.8v0.8h-0.8zM507.9 649.4h0.8v0.8h-0.8zM506.7 658.7h0.8v0.8h-0.8zM501.9 658.9h0.8v0.8h-0.8zM505.4 647.5h0.8v0.8h-0.8zM508.8 649.0h0.8v0.8h-0.8zM505.3 647.3h0.8v0.8h-0.8zM497.6 652.7h0.8v0.8h-0.8zM497.4 655.1h0.8v0.8h-0.8zM508.2 657.2h0.8v0.8h-0.8zM509.7 653.3h0.8v0.8h-0.8zM505.1 647.1h0.8v0.8h-0.8zM506.8 647.0h0.8v0.8h-0.8zM507.7 657.1h0.8v0.8h-0.8zM508.8 657.6h0.8v0.8h-0.8zM506.5 645.5h0.8v0.8h-0.8zM499.1 654.9h0.8v0.8h-0.8zM498.4 652.1h0.8v0.8h-0.8zM504.0 646.1h0.8v0.8h-0.8zM509.8 655.9h0.8v0.8h-0.8zM508.6 655.5h0.8v0.8h-0.8zM506.8 645.8h0.8v0.8h-0.8zM497.2 652.5h0.8v0.8h-0.8zM498.2 653.6h0.8v0.8h-0.8zM500.7 648.5h0.8v0.8h-0.8zM508.8 654.3h0.8v0.8h-0.8zM501.4 658.5h0.8v0.8h-0.8zM502.7 658.6h0.8v0.8h-0.8zM500.4 649.9h0.8v0.8h-0.8zM508.7 651.2h0.8v0.8h-0.8zM499.6 648.3h0.8v0.8h-0.8zM508.0 656.2h0.8v0.8h-0.8zM500.7 658.2h0.8v0.8h-0.8zM497.2 653.9h0.8v0.8h-0.8zM498.9 652.0h0.8v0.8h-0.8zM504.9 647.2h0.8v0.8h-0.8zM509.9 655.3h0.8v0.8h-0.8zM508.5 656.0h0.8v0.8h-0.8zM499.5 651.5h0.8v0.8h-0.8zM500.5 649.5h0.8v0.8h-0.8zM510.2 655.3h0.8v0.8h-0.8zM499.1 653.7h0.8v0.8h-0.8zM505.6 658.0h0.8v0.8h-0.8zM507.3 646.5h0.8v0.8h-0.8zM507.0 658.9h0.8v0.8h-0.8zM507.2 658.4h0.8v0.8h-0.8zM498.9 654.6h0.8v0.8h-0.8zM509.4 655.8h0.8v0.8h-0.8zM505.1 658.4h0.8v0.8h-0.8zM503.7 647.4h0.8v0.8h-0.8zM506.5 657.7h0.8v0.8h-0.8zM505.0 646.0h0.8v0.8h-0.8zM508.6 655.9h0.8v0.8h-0.8zM508.8 649.6h0.8v0.8h-0.8zM508.5 650.4h0.8v0.8h-0.8zM508.9 653.7h0.8v0.8h-0.8zM497.3 652.0h0.8v0.8h-0.8zM500.6 649.3h0.8v0.8h-0.8zM505.7 657.9h0.8v0.8h-0.8zM508.5 657.2h0.8v0.8h-0.8zM498.7 653.1h0.8v0.8h-0.8zM505.8 658.1h0.8v0.8h-0.8zM509.9 655.5h0.8v0.8h-0.8zM502.7 646.6h0.8v0.8h-0.8zM500.4 646.6h0.8v0.8h-0.8zM500.1 658.0h0.8v0.8h-0.8zM498.8 653.8h0.8v0.8h-0.8zM499.3 656.5h0.8v0.8h-0.8zM502.6 657.3h0.8v0.8h-0.8zM507.6 646.8h0.8v0.8h-0.8zM501.9 646.5h0.8v0.8h-0.8zM498.6 652.4h0.8v0.8h-0.8zM499.4 649.4h0.8v0.8h-0.8zM506.2 647.7h0.8v0.8h-0.8zM507.1 648.5h0.8v0.8h-0.8zM497.0 652.5h0.8v0.8h-0.8zM501.0 656.7h0.8v0.8h-0.8zM509.9 653.1h0.8v0.8h-0.8zM498.4 656.1h0.8v0.8h-0.8zM505.6 645.9h0.8v0.8h-0.8zM509.4 648.6h0.8v0.8h-0.8zM504.3 646.6h0.8v0.8h-0.8zM510.2 653.0h0.8v0.8h-0.8zM509.2 652.6h0.8v0.8h-0.8zM503.9 646.4h0.8v0.8h-0.8zM507.5 646.7h0.8v0.8h-0.8zM505.0 646.8h0.8v0.8h-0.8zM508.3 649.7h0.8v0.8h-0.8zM505.4 645.5h0.8v0.8h-0.8zM505.9 646.9h0.8v0.8h-0.8zM509.1 647.7h0.8v0.8h-0.8zM508.6 650.7h0.8v0.8h-0.8zM507.6 646.2h0.8v0.8h-0.8zM509.7 650.1h0.8v0.8h-0.8zM509.5 651.9h0.8v0.8h-0.8zM506.6 646.8h0.8v0.8h-0.8zM505.9 647.5h0.8v0.8h-0.8zM507.2 646.8h0.8v0.8h-0.8zM507.3 646.3h0.8v0.8h-0.8zM501.7 646.2h0.8v0.8h-0.8zM506.7 647.2h0.8v0.8h-0.8zM504.2 645.3h0.8v0.8h-0.8zM505.2 645.6h0.8v0.8h-0.8zM506.3 646.0h0.8v0.8h-0.8zM504.0 646.5h0.8v0.8h-0.8zM508.3 647.1h0.8v0.8h-0.8zM506.8 648.1h0.8v0.8h-0.8zM509.2 651.4h0.8v0.8h-0.8zM507.5 648.0h0.8v0.8h-0.8zM505.2 646.3h0.8v0.8h-0.8zM507.9 649.3h0.8v0.8h-0.8zM505.0 645.3h0.8v0.8h-0.8zM505.9 645.4h0.8v0.8h-0.8zM509.7 651.2h0.8v0.8h-0.8zM503.7 645.2h0.8v0.8h-0.8zM501.4 648.5h0.8v0.8h-0.8zM509.5 652.5h0.8v0.8h-0.8zM500.3 646.7h0.8v0.8h-0.8zM509.3 649.0h0.8v0.8h-0.8zM509.2 649.3h0.8v0.8h-0.8zM504.7 647.0h0.8v0.8h-0.8zM506.2 646.1h0.8v0.8h-0.8zM501.0 648.4h0.8v0.8h-0.8zM505.8 647.7h0.8v0.8h-0.8zM508.4 647.8h0.8v0.8h-0.8zM507.8 648.4h0.8v0.8h-0.8zM502.6 646.0h0.8v0.8h-0.8zM504.6 646.9h0.8v0.8h-0.8zM503.3 647.6h0.8v0.8h-0.8zM503.9 645.8h0.8v0.8h-0.8zM504.5 646.5h0.8v0.8h-0.8zM500.9 648.1h0.8v0.8h-0.8zM502.8 647.1h0.8v0.8h-0.8zM503.5 647.5h0.8v0.8h-0.8zM503.2 645.8h0.8v0.8h-0.8zM507.3 647.0h0.8v0.8h-0.8zM501.1 647.1h0.8v0.8h-0.8zM502.8 646.2h0.8v0.8h-0.8zM510.0 651.5h0.8v0.8h-0.8zM506.1 646.2h0.8v0.8h-0.8zM504.4 647.4h0.8v0.8h-0.8zM503.4 647.6h0.8v0.8h-0.8zM506.0 647.6h0.8v0.8h-0.8zM504.9 647.1h0.8v0.8h-0.8zM502.9 647.8h0.8v0.8h-0.8zM505.0 645.6h0.8v0.8h-0.8zM505.6 646.2h0.8v0.8h-0.8zM504.6 645.9h0.8v0.8h-0.8zM508.8 651.6h0.8v0.8h-0.8zM508.3 647.3h0.8v0.8h-0.8zM501.7 647.9h0.8v0.8h-0.8zM505.1 646.5h0.8v0.8h-0.8zM506.7 646.0h0.8v0.8h-0.8zM499.9 650.7h0.8v0.8h-0.8zM497.9 653.0h0.8v0.8h-0.8zM509.9 652.7h0.8v0.8h-0.8zM506.5 647.3h0.8v0.8h-0.8zM504.1 647.4h0.8v0.8h-0.8zM508.6 647.6h0.8v0.8h-0.8zM505.6 645.9h0.8v0.8h-0.8zM497.3 652.7h0.8v0.8h-0.8zM507.6 648.5h0.8v0.8h-0.8zM504.0 646.5h0.8v0.8h-0.8zM509.4 648.3h0.8v0.8h-0.8zM499.4 650.0h0.8v0.8h-0.8zM505.6 646.5h0.8v0.8h-0.8zM510.6 652.4h0.8v0.8h-0.8zM509.4 650.0h0.8v0.8h-0.8zM502.0 647.6h0.8v0.8h-0.8zM499.2 648.4h0.8v0.8h-0.8zM500.0 648.1h0.8v0.8h-0.8zM499.4 648.9h0.8v0.8h-0.8zM509.4 650.4h0.8v0.8h-0.8zM504.5 645.8h0.8v0.8h-0.8zM506.1 647.3h0.8v0.8h-0.8zM499.1 656.2h0.8v0.8h-0.8zM498.4 652.5h0.8v0.8h-0.8zM499.2 653.7h0.8v0.8h-0.8zM498.9 653.7h0.8v0.8h-0.8zM500.7 657.9h0.8v0.8h-0.8zM498.0 655.6h0.8v0.8h-0.8zM498.6 652.2h0.8v0.8h-0.8zM498.4 652.7h0.8v0.8h-0.8zM498.2 649.8h0.8v0.8h-0.8zM498.7 653.5h0.8v0.8h-0.8zM501.3 658.2h0.8v0.8h-0.8zM500.3 656.4h0.8v0.8h-0.8zM498.1 649.8h0.8v0.8h-0.8zM499.1 654.6h0.8v0.8h-0.8zM497.8 652.9h0.8v0.8h-0.8zM499.0 652.6h0.8v0.8h-0.8zM498.0 650.5h0.8v0.8h-0.8zM502.8 657.5h0.8v0.8h-0.8zM498.6 650.6h0.8v0.8h-0.8zM499.3 655.2h0.8v0.8h-0.8zM498.9 653.8h0.8v0.8h-0.8zM500.1 657.6h0.8v0.8h-0.8zM498.3 652.7h0.8v0.8h-0.8zM501.3 658.1h0.8v0.8h-0.8zM500.2 658.1h0.8v0.8h-0.8zM497.8 652.5h0.8v0.8h-0.8zM499.9 657.5h0.8v0.8h-0.8zM498.6 654.7h0.8v0.8h-0.8zM501.5 658.7h0.8v0.8h-0.8zM500.3 657.1h0.8v0.8h-0.8zM499.9 658.0h0.8v0.8h-0.8zM499.8 657.6h0.8v0.8h-0.8zM497.1 654.1h0.8v0.8h-0.8zM498.7 654.8h0.8v0.8h-0.8zM498.0 654.6h0.8v0.8h-0.8zM497.6 655.6h0.8v0.8h-0.8zM500.3 656.4h0.8v0.8h-0.8zM497.9 652.5h0.8v0.8h-0.8zM500.3 656.6h0.8v0.8h-0.8zM499.1 653.0h0.8v0.8h-0.8zM498.5 652.4h0.8v0.8h-0.8zM498.0 655.6h0.8v0.8h-0.8zM497.4 652.8h0.8v0.8h-0.8zM498.0 653.7h0.8v0.8h-0.8zM498.6 656.3h0.8v0.8h-0.8zM501.9 658.3h0.8v0.8h-0.8zM497.8 650.7h0.8v0.8h-0.8zM499.9 657.0h0.8v0.8h-0.8zM498.7 655.9h0.8v0.8h-0.8zM497.9 654.9h0.8v0.8h-0.8zM497.8 652.2h0.8v0.8h-0.8zM501.9 658.1h0.8v0.8h-0.8zM500.1 657.6h0.8v0.8h-0.8zM502.5 658.0h0.8v0.8h-0.8zM498.6 654.5h0.8v0.8h-0.8zM500.1 657.4h0.8v0.8h-0.8zM499.1 655.3h0.8v0.8h-0.8zM498.1 655.1h0.8v0.8h-0.8zM502.7 658.0h0.8v0.8h-0.8zM497.5 654.0h0.8v0.8h-0.8zM498.3 654.7h0.8v0.8h-0.8zM500.3 656.4h0.8v0.8h-0.8zM499.2 656.2h0.8v0.8h-0.8zM499.7 655.5h0.8v0.8h-0.8zM499.5 654.6h0.8v0.8h-0.8zM497.8 652.2h0.8v0.8h-0.8zM498.7 654.1h0.8v0.8h-0.8zM499.4 654.4h0.8v0.8h-0.8zM497.6 655.6h0.8v0.8h-0.8zM499.2 650.1h0.8v0.8h-0.8zM499.4 654.3h0.8v0.8h-0.8zM498.4 656.3h0.8v0.8h-0.8zM501.5 656.7h0.8v0.8h-0.8zM497.5 654.5h0.8v0.8h-0.8zM498.1 649.8h0.8v0.8h-0.8zM497.9 653.9h0.8v0.8h-0.8zM502.6 658.5h0.8v0.8h-0.8zM499.7 657.0h0.8v0.8h-0.8zM501.5 657.1h0.8v0.8h-0.8zM499.8 656.3h0.8v0.8h-0.8zM501.7 648.5h0.8v0.8h-0.8zM502.1 658.0h0.8v0.8h-0.8zM499.4 657.3h0.8v0.8h-0.8zM498.8 654.0h0.8v0.8h-0.8zM500.7 656.4h0.8v0.8h-0.8zM500.8 657.0h0.8v0.8h-0.8zM500.4 657.1h0.8v0.8h-0.8zM499.0 656.8h0.8v0.8h-0.8zM498.3 655.5h0.8v0.8h-0.8zM498.8 656.6h0.8v0.8h-0.8zM498.5 652.6h0.8v0.8h-0.8zM498.5 653.3h0.8v0.8h-0.8zM497.7 650.8h0.8v0.8h-0.8zM499.8 656.5h0.8v0.8h-0.8zM501.0 656.7h0.8v0.8h-0.8zM502.6 658.2h0.8v0.8h-0.8zM500.1 657.6h0.8v0.8h-0.8zM498.0 655.6h0.8v0.8h-0.8zM498.2 654.4h0.8v0.8h-0.8zM499.3 653.5h0.8v0.8h-0.8zM500.9 658.4h0.8v0.8h-0.8zM500.4 658.2h0.8v0.8h-0.8zM500.0 657.3h0.8v0.8h-0.8zM500.1 649.7h0.8v0.8h-0.8zM497.8 650.6h0.8v0.8h-0.8zM497.8 654.2h0.8v0.8h-0.8zM502.5 658.4h0.8v0.8h-0.8zM498.1 650.8h0.8v0.8h-0.8zM502.3 647.6h0.8v0.8h-0.8zM500.2 648.7h0.8v0.8h-0.8zM497.9 655.7h0.8v0.8h-0.8zM498.4 656.6h0.8v0.8h-0.8zM501.8 657.2h0.8v0.8h-0.8zM501.1 657.4h0.8v0.8h-0.8zM502.5 659.1h0.8v0.8h-0.8zM499.1 653.2h0.8v0.8h-0.8zM500.3 656.7h0.8v0.8h-0.8zM498.4 656.3h0.8v0.8h-0.8z" fill="#1aa9b8" opacity="1"/>
<path d="M501.4 655.9h0.8v0.8h-0.8zM504.3 657.4h0.8v0.8h-0.8zM507.4 650.9h0.8v0.8h-0.8zM501.8 655.4h0.8v0.8h-0.8zM508.4 651.2h0.8v0.8h-0.8zM502.0 656.1h0.8v0.8h-0.8zM500.9 653.3h0.8v0.8h-0.8zM503.8 649.1h0.8v0.8h-0.8zM502.9 657.1h0.8v0.8h-0.8zM507.6 652.9h0.8v0.8h-0.8zM504.9 657.1h0.8v0.8h-0.8zM503.4 649.5h0.8v0.8h-0.8zM500.4 651.3h0.8v0.8h-0.8zM508.3 650.4h0.8v0.8h-0.8zM506.1 649.3h0.8v0.8h-0.8zM504.5 656.7h0.8v0.8h-0.8zM501.1 651.8h0.8v0.8h-0.8zM500.9 653.7h0.8v0.8h-0.8zM501.1 654.1h0.8v0.8h-0.8zM500.6 652.9h0.8v0.8h-0.8zM505.8 657.0h0.8v0.8h-0.8zM506.3 655.6h0.8v0.8h-0.8zM507.5 652.0h0.8v0.8h-0.8zM503.4 649.4h0.8v0.8h-0.8zM500.1 651.6h0.8v0.8h-0.8zM500.8 654.4h0.8v0.8h-0.8zM508.8 653.9h0.8v0.8h-0.8zM507.2 648.8h0.8v0.8h-0.8zM506.8 650.2h0.8v0.8h-0.8zM503.8 647.9h0.8v0.8h-0.8zM504.9 656.9h0.8v0.8h-0.8zM499.6 651.8h0.8v0.8h-0.8zM508.0 653.4h0.8v0.8h-0.8zM501.0 651.6h0.8v0.8h-0.8zM501.1 655.0h0.8v0.8h-0.8zM502.7 656.2h0.8v0.8h-0.8zM499.9 654.4h0.8v0.8h-0.8zM503.9 649.3h0.8v0.8h-0.8zM503.5 647.8h0.8v0.8h-0.8zM503.1 649.0h0.8v0.8h-0.8zM506.6 649.6h0.8v0.8h-0.8zM504.6 648.0h0.8v0.8h-0.8zM508.1 654.0h0.8v0.8h-0.8zM502.3 649.4h0.8v0.8h-0.8zM502.6 648.2h0.8v0.8h-0.8zM507.4 649.6h0.8v0.8h-0.8zM504.2 656.5h0.8v0.8h-0.8zM506.9 654.9h0.8v0.8h-0.8zM505.7 648.4h0.8v0.8h-0.8zM505.4 657.2h0.8v0.8h-0.8zM499.5 652.1h0.8v0.8h-0.8zM507.4 653.1h0.8v0.8h-0.8zM505.7 648.5h0.8v0.8h-0.8zM500.5 650.7h0.8v0.8h-0.8zM501.2 650.3h0.8v0.8h-0.8zM500.9 650.3h0.8v0.8h-0.8zM506.2 648.5h0.8v0.8h-0.8zM507.6 654.8h0.8v0.8h-0.8zM507.4 652.1h0.8v0.8h-0.8zM502.5 648.6h0.8v0.8h-0.8zM507.5 649.8h0.8v0.8h-0.8zM508.2 654.4h0.8v0.8h-0.8zM507.8 651.0h0.8v0.8h-0.8zM508.6 654.9h0.8v0.8h-0.8zM506.2 648.5h0.8v0.8h-0.8zM502.8 656.1h0.8v0.8h-0.8zM506.8 648.8h0.8v0.8h-0.8zM507.1 655.5h0.8v0.8h-0.8zM502.8 656.0h0.8v0.8h-0.8zM506.7 655.8h0.8v0.8h-0.8zM500.8 650.5h0.8v0.8h-0.8zM505.8 647.8h0.8v0.8h-0.8zM506.5 650.4h0.8v0.8h-0.8zM507.3 655.5h0.8v0.8h-0.8zM507.8 655.6h0.8v0.8h-0.8zM505.3 649.5h0.8v0.8h-0.8zM505.9 656.0h0.8v0.8h-0.8zM505.5 648.1h0.8v0.8h-0.8zM506.1 649.5h0.8v0.8h-0.8zM507.6 654.5h0.8v0.8h-0.8zM507.0 651.4h0.8v0.8h-0.8zM505.9 649.0h0.8v0.8h-0.8zM507.0 655.6h0.8v0.8h-0.8zM506.6 656.3h0.8v0.8h-0.8zM501.5 656.2h0.8v0.8h-0.8zM501.8 655.5h0.8v0.8h-0.8zM507.1 650.3h0.8v0.8h-0.8zM502.1 655.8h0.8v0.8h-0.8zM502.9 656.5h0.8v0.8h-0.8zM500.6 651.6h0.8v0.8h-0.8zM507.6 655.9h0.8v0.8h-0.8zM506.0 648.7h0.8v0.8h-0.8zM508.2 654.5h0.8v0.8h-0.8zM508.4 652.8h0.8v0.8h-0.8zM504.7 647.8h0.8v0.8h-0.8zM508.0 655.2h0.8v0.8h-0.8zM504.9 657.3h0.8v0.8h-0.8zM501.0 651.3h0.8v0.8h-0.8zM507.4 655.3h0.8v0.8h-0.8zM503.0 656.0h0.8v0.8h-0.8zM501.2 652.0h0.8v0.8h-0.8zM507.0 655.5h0.8v0.8h-0.8zM508.5 654.3h0.8v0.8h-0.8zM506.0 656.0h0.8v0.8h-0.8zM502.8 650.3h0.8v0.8h-0.8zM501.8 655.6h0.8v0.8h-0.8zM501.5 655.3h0.8v0.8h-0.8zM508.2 653.4h0.8v0.8h-0.8zM500.0 651.6h0.8v0.8h-0.8zM507.4 654.4h0.8v0.8h-0.8zM507.8 654.1h0.8v0.8h-0.8zM505.7 656.3h0.8v0.8h-0.8zM501.9 649.1h0.8v0.8h-0.8zM505.2 656.9h0.8v0.8h-0.8zM507.6 656.0h0.8v0.8h-0.8zM505.4 648.3h0.8v0.8h-0.8zM507.6 652.3h0.8v0.8h-0.8zM506.4 649.9h0.8v0.8h-0.8zM507.6 652.7h0.8v0.8h-0.8zM508.3 651.3h0.8v0.8h-0.8zM505.4 648.1h0.8v0.8h-0.8zM503.4 657.4h0.8v0.8h-0.8zM503.1 657.2h0.8v0.8h-0.8zM502.7 649.6h0.8v0.8h-0.8zM500.5 653.3h0.8v0.8h-0.8zM505.9 649.1h0.8v0.8h-0.8zM503.7 656.3h0.8v0.8h-0.8zM508.7 652.7h0.8v0.8h-0.8zM502.2 656.9h0.8v0.8h-0.8zM502.5 650.4h0.8v0.8h-0.8zM500.7 654.4h0.8v0.8h-0.8zM502.6 656.0h0.8v0.8h-0.8zM508.0 650.1h0.8v0.8h-0.8zM499.9 654.4h0.8v0.8h-0.8zM500.8 652.8h0.8v0.8h-0.8zM503.5 648.4h0.8v0.8h-0.8zM501.9 655.2h0.8v0.8h-0.8zM506.0 656.7h0.8v0.8h-0.8zM501.0 653.4h0.8v0.8h-0.8zM499.6 654.0h0.8v0.8h-0.8zM507.4 649.3h0.8v0.8h-0.8zM507.9 655.5h0.8v0.8h-0.8zM508.4 655.1h0.8v0.8h-0.8zM501.2 651.6h0.8v0.8h-0.8zM506.1 656.7h0.8v0.8h-0.8zM504.8 648.1h0.8v0.8h-0.8zM505.0 657.6h0.8v0.8h-0.8zM505.4 648.5h0.8v0.8h-0.8zM500.3 653.7h0.8v0.8h-0.8zM504.7 648.1h0.8v0.8h-0.8zM500.8 653.7h0.8v0.8h-0.8zM499.6 652.7h0.8v0.8h-0.8zM504.4 657.1h0.8v0.8h-0.8zM500.2 654.6h0.8v0.8h-0.8zM508.3 651.7h0.8v0.8h-0.8zM500.6 653.5h0.8v0.8h-0.8zM501.3 655.7h0.8v0.8h-0.8zM507.1 655.7h0.8v0.8h-0.8zM505.2 656.3h0.8v0.8h-0.8zM507.4 650.4h0.8v0.8h-0.8zM508.0 653.5h0.8v0.8h-0.8zM505.1 657.1h0.8v0.8h-0.8zM501.2 652.1h0.8v0.8h-0.8zM504.9 648.3h0.8v0.8h-0.8zM503.2 648.7h0.8v0.8h-0.8zM503.2 648.1h0.8v0.8h-0.8zM506.4 656.6h0.8v0.8h-0.8zM500.3 650.6h0.8v0.8h-0.8zM500.2 653.4h0.8v0.8h-0.8zM502.4 655.9h0.8v0.8h-0.8zM501.0 653.9h0.8v0.8h-0.8zM508.0 651.8h0.8v0.8h-0.8zM507.0 651.2h0.8v0.8h-0.8zM505.9 649.8h0.8v0.8h-0.8zM508.3 654.3h0.8v0.8h-0.8zM508.3 654.2h0.8v0.8h-0.8zM507.4 656.6h0.8v0.8h-0.8zM501.1 655.4h0.8v0.8h-0.8zM507.9 653.2h0.8v0.8h-0.8zM508.2 654.8h0.8v0.8h-0.8zM507.9 655.2h0.8v0.8h-0.8zM500.2 653.9h0.8v0.8h-0.8zM501.4 650.8h0.8v0.8h-0.8zM505.6 655.9h0.8v0.8h-0.8zM507.2 649.0h0.8v0.8h-0.8zM507.0 650.7h0.8v0.8h-0.8zM500.5 652.5h0.8v0.8h-0.8zM501.4 654.2h0.8v0.8h-0.8zM507.3 650.7h0.8v0.8h-0.8zM503.4 656.4h0.8v0.8h-0.8zM506.4 656.3h0.8v0.8h-0.8zM500.9 649.3h0.8v0.8h-0.8zM502.8 648.6h0.8v0.8h-0.8zM508.2 652.5h0.8v0.8h-0.8zM506.5 649.7h0.8v0.8h-0.8zM501.5 649.4h0.8v0.8h-0.8zM502.3 656.4h0.8v0.8h-0.8zM507.3 648.7h0.8v0.8h-0.8zM507.4 654.1h0.8v0.8h-0.8zM506.0 648.4h0.8v0.8h-0.8zM501.6 650.2h0.8v0.8h-0.8zM504.3 649.0h0.8v0.8h-0.8zM502.1 656.5h0.8v0.8h-0.8zM503.9 656.1h0.8v0.8h-0.8zM506.5 650.3h0.8v0.8h-0.8zM499.8 654.6h0.8v0.8h-0.8zM500.4 651.8h0.8v0.8h-0.8zM501.7 648.7h0.8v0.8h-0.8zM506.4 648.0h0.8v0.8h-0.8zM505.0 649.2h0.8v0.8h-0.8zM503.0 649.4h0.8v0.8h-0.8zM506.6 649.8h0.8v0.8h-0.8zM503.0 655.9h0.8v0.8h-0.8zM505.4 656.5h0.8v0.8h-0.8zM507.5 656.3h0.8v0.8h-0.8zM505.5 656.2h0.8v0.8h-0.8zM505.4 656.3h0.8v0.8h-0.8zM501.6 650.5h0.8v0.8h-0.8zM501.9 648.6h0.8v0.8h-0.8zM501.4 652.2h0.8v0.8h-0.8zM500.9 655.1h0.8v0.8h-0.8zM507.3 650.5h0.8v0.8h-0.8zM501.3 651.0h0.8v0.8h-0.8zM508.6 653.9h0.8v0.8h-0.8zM507.6 654.4h0.8v0.8h-0.8zM507.3 655.7h0.8v0.8h-0.8zM507.4 656.4h0.8v0.8h-0.8zM503.0 649.2h0.8v0.8h-0.8zM500.7 656.1h0.8v0.8h-0.8zM500.8 649.7h0.8v0.8h-0.8zM505.4 648.5h0.8v0.8h-0.8zM500.5 654.7h0.8v0.8h-0.8zM507.3 651.4h0.8v0.8h-0.8zM500.9 655.3h0.8v0.8h-0.8zM506.6 649.9h0.8v0.8h-0.8zM502.9 650.2h0.8v0.8h-0.8zM507.4 650.2h0.8v0.8h-0.8zM507.2 656.4h0.8v0.8h-0.8zM507.8 653.3h0.8v0.8h-0.8zM508.1 652.1h0.8v0.8h-0.8zM502.2 655.8h0.8v0.8h-0.8zM499.6 653.0h0.8v0.8h-0.8zM504.4 657.4h0.8v0.8h-0.8zM507.7 653.6h0.8v0.8h-0.8zM507.0 650.5h0.8v0.8h-0.8zM507.3 651.5h0.8v0.8h-0.8zM502.6 656.6h0.8v0.8h-0.8zM501.6 649.3h0.8v0.8h-0.8zM507.7 649.5h0.8v0.8h-0.8zM501.8 656.1h0.8v0.8h-0.8zM503.2 649.4h0.8v0.8h-0.8zM504.4 648.1h0.8v0.8h-0.8zM502.2 649.0h0.8v0.8h-0.8zM507.4 655.5h0.8v0.8h-0.8zM505.0 648.9h0.8v0.8h-0.8zM506.4 656.0h0.8v0.8h-0.8zM502.1 648.5h0.8v0.8h-0.8zM506.9 655.6h0.8v0.8h-0.8zM499.5 653.6h0.8v0.8h-0.8zM506.9 655.4h0.8v0.8h-0.8zM502.2 648.7h0.8v0.8h-0.8zM507.0 656.8h0.8v0.8h-0.8zM501.2 654.7h0.8v0.8h-0.8zM501.1 653.5h0.8v0.8h-0.8zM500.9 653.5h0.8v0.8h-0.8zM501.5 654.8h0.8v0.8h-0.8zM508.1 654.7h0.8v0.8h-0.8zM504.4 647.8h0.8v0.8h-0.8zM500.1 653.9h0.8v0.8h-0.8zM504.3 656.4h0.8v0.8h-0.8zM507.0 651.3h0.8v0.8h-0.8zM505.0 657.2h0.8v0.8h-0.8zM503.7 656.1h0.8v0.8h-0.8zM507.3 653.9h0.8v0.8h-0.8zM508.0 655.2h0.8v0.8h-0.8zM506.8 656.8h0.8v0.8h-0.8zM506.6 656.0h0.8v0.8h-0.8zM508.5 653.4h0.8v0.8h-0.8zM506.3 656.9h0.8v0.8h-0.8zM508.1 654.6h0.8v0.8h-0.8zM503.8 656.8h0.8v0.8h-0.8zM500.7 653.6h0.8v0.8h-0.8zM507.3 651.3h0.8v0.8h-0.8zM507.6 653.5h0.8v0.8h-0.8zM500.4 650.3h0.8v0.8h-0.8zM505.8 656.5h0.8v0.8h-0.8zM508.4 654.5h0.8v0.8h-0.8zM507.5 655.2h0.8v0.8h-0.8zM501.8 650.4h0.8v0.8h-0.8zM506.5 650.4h0.8v0.8h-0.8zM507.3 656.3h0.8v0.8h-0.8zM502.2 655.2h0.8v0.8h-0.8zM507.0 654.9h0.8v0.8h-0.8zM508.8 653.9h0.8v0.8h-0.8zM508.4 655.2h0.8v0.8h-0.8zM506.5 655.9h0.8v0.8h-0.8zM505.6 656.9h0.8v0.8h-0.8zM507.6 654.0h0.8v0.8h-0.8zM503.8 648.4h0.8v0.8h-0.8zM504.7 649.0h0.8v0.8h-0.8zM501.1 650.4h0.8v0.8h-0.8zM507.7 655.1h0.8v0.8h-0.8zM507.2 656.6h0.8v0.8h-0.8zM507.2 655.2h0.8v0.8h-0.8zM507.7 655.6h0.8v0.8h-0.8zM506.7 655.6h0.8v0.8h-0.8zM505.5 656.0h0.8v0.8h-0.8zM507.3 653.7h0.8v0.8h-0.8zM502.5 655.3h0.8v0.8h-0.8zM500.4 652.6h0.8v0.8h-0.8zM505.3 657.1h0.8v0.8h-0.8zM505.7 648.2h0.8v0.8h-0.8zM500.3 653.8h0.8v0.8h-0.8zM504.0 656.2h0.8v0.8h-0.8zM506.9 656.9h0.8v0.8h-0.8zM502.3 648.8h0.8v0.8h-0.8zM502.5 655.9h0.8v0.8h-0.8zM508.7 651.9h0.8v0.8h-0.8zM503.8 656.3h0.8v0.8h-0.8zM507.6 655.8h0.8v0.8h-0.8zM507.9 653.7h0.8v0.8h-0.8zM503.8 649.5h0.8v0.8h-0.8zM501.3 651.0h0.8v0.8h-0.8zM500.8 654.9h0.8v0.8h-0.8zM505.3 656.8h0.8v0.8h-0.8zM508.7 652.6h0.8v0.8h-0.8zM504.0 648.9h0.8v0.8h-0.8zM501.5 654.3h0.8v0.8h-0.8zM508.1 655.9h0.8v0.8h-0.8zM506.9 654.9h0.8v0.8h-0.8zM502.4 649.4h0.8v0.8h-0.8zM499.6 652.7h0.8v0.8h-0.8zM506.1 648.3h0.8v0.8h-0.8zM504.8 648.6h0.8v0.8h-0.8zM504.7 647.8h0.8v0.8h-0.8zM502.2 648.6h0.8v0.8h-0.8zM506.4 650.2h0.8v0.8h-0.8zM502.7 648.0h0.8v0.8h-0.8zM503.1 649.2h0.8v0.8h-0.8zM507.5 652.8h0.8v0.8h-0.8zM503.1 649.8h0.8v0.8h-0.8zM502.6 649.2h0.8v0.8h-0.8zM507.0 649.6h0.8v0.8h-0.8zM507.1 649.2h0.8v0.8h-0.8zM504.3 648.3h0.8v0.8h-0.8zM504.0 647.6h0.8v0.8h-0.8zM508.5 652.9h0.8v0.8h-0.8zM506.7 650.3h0.8v0.8h-0.8zM505.1 648.1h0.8v0.8h-0.8zM505.5 648.4h0.8v0.8h-0.8zM502.1 649.0h0.8v0.8h-0.8zM501.2 651.9h0.8v0.8h-0.8zM508.7 652.9h0.8v0.8h-0.8zM504.6 649.4h0.8v0.8h-0.8zM502.8 649.5h0.8v0.8h-0.8zM507.5 650.6h0.8v0.8h-0.8zM501.3 650.9h0.8v0.8h-0.8zM504.6 649.2h0.8v0.8h-0.8zM506.8 650.5h0.8v0.8h-0.8zM505.1 649.5h0.8v0.8h-0.8zM508.1 652.5h0.8v0.8h-0.8zM502.1 650.5h0.8v0.8h-0.8zM506.2 648.9h0.8v0.8h-0.8zM503.7 648.6h0.8v0.8h-0.8zM508.0 652.4h0.8v0.8h-0.8zM502.5 650.5h0.8v0.8h-0.8zM506.8 649.5h0.8v0.8h-0.8zM504.7 649.5h0.8v0.8h-0.8zM507.7 651.4h0.8v0.8h-0.8zM500.8 652.9h0.8v0.8h-0.8zM506.5 648.9h0.8v0.8h-0.8zM508.1 652.5h0.8v0.8h-0.8zM503.5 648.7h0.8v0.8h-0.8zM507.1 650.8h0.8v0.8h-0.8zM505.3 649.0h0.8v0.8h-0.8zM506.9 650.2h0.8v0.8h-0.8zM507.7 651.1h0.8v0.8h-0.8zM506.6 650.3h0.8v0.8h-0.8zM504.4 648.2h0.8v0.8h-0.8zM499.8 653.2h0.8v0.8h-0.8zM508.4 650.8h0.8v0.8h-0.8zM501.6 649.7h0.8v0.8h-0.8zM508.5 652.0h0.8v0.8h-0.8zM506.4 649.8h0.8v0.8h-0.8zM507.1 650.8h0.8v0.8h-0.8zM502.3 649.4h0.8v0.8h-0.8zM502.4 649.6h0.8v0.8h-0.8zM507.2 651.3h0.8v0.8h-0.8zM503.4 648.8h0.8v0.8h-0.8zM502.0 649.3h0.8v0.8h-0.8zM507.2 650.2h0.8v0.8h-0.8zM504.1 648.2h0.8v0.8h-0.8zM503.0 649.6h0.8v0.8h-0.8zM507.5 651.5h0.8v0.8h-0.8zM503.2 649.6h0.8v0.8h-0.8zM501.2 651.4h0.8v0.8h-0.8zM504.6 647.9h0.8v0.8h-0.8zM507.4 650.8h0.8v0.8h-0.8zM501.2 652.4h0.8v0.8h-0.8zM508.0 650.1h0.8v0.8h-0.8zM506.9 649.9h0.8v0.8h-0.8zM504.1 649.5h0.8v0.8h-0.8zM506.1 649.3h0.8v0.8h-0.8zM500.1 654.8h0.8v0.8h-0.8zM499.4 653.9h0.8v0.8h-0.8zM502.1 655.5h0.8v0.8h-0.8zM502.2 655.2h0.8v0.8h-0.8zM500.8 655.7h0.8v0.8h-0.8zM500.4 654.5h0.8v0.8h-0.8zM501.2 649.3h0.8v0.8h-0.8zM502.6 655.9h0.8v0.8h-0.8zM502.6 648.2h0.8v0.8h-0.8zM500.5 652.7h0.8v0.8h-0.8zM500.1 654.5h0.8v0.8h-0.8zM500.5 654.8h0.8v0.8h-0.8zM499.4 652.7h0.8v0.8h-0.8zM502.6 649.8h0.8v0.8h-0.8zM500.2 655.4h0.8v0.8h-0.8zM501.1 656.2h0.8v0.8h-0.8zM501.0 654.8h0.8v0.8h-0.8zM500.8 655.2h0.8v0.8h-0.8zM501.3 654.1h0.8v0.8h-0.8zM500.1 652.3h0.8v0.8h-0.8zM501.5 655.3h0.8v0.8h-0.8zM501.4 655.3h0.8v0.8h-0.8zM500.8 653.6h0.8v0.8h-0.8zM500.4 654.3h0.8v0.8h-0.8zM502.6 656.6h0.8v0.8h-0.8zM501.1 652.9h0.8v0.8h-0.8zM501.1 655.1h0.8v0.8h-0.8zM500.4 654.3h0.8v0.8h-0.8zM499.9 653.5h0.8v0.8h-0.8zM500.0 654.3h0.8v0.8h-0.8zM501.1 651.8h0.8v0.8h-0.8zM500.3 655.5h0.8v0.8h-0.8zM500.6 654.8h0.8v0.8h-0.8zM500.7 650.7h0.8v0.8h-0.8zM500.0 653.7h0.8v0.8h-0.8zM500.1 654.1h0.8v0.8h-0.8zM500.2 655.1h0.8v0.8h-0.8zM501.8 655.8h0.8v0.8h-0.8zM501.2 653.2h0.8v0.8h-0.8zM499.5 652.6h0.8v0.8h-0.8zM500.5 653.1h0.8v0.8h-0.8zM502.7 656.5h0.8v0.8h-0.8zM501.5 651.3h0.8v0.8h-0.8zM499.5 653.3h0.8v0.8h-0.8zM500.8 655.5h0.8v0.8h-0.8zM500.4 655.0h0.8v0.8h-0.8zM501.4 649.9h0.8v0.8h-0.8zM501.1 654.2h0.8v0.8h-0.8zM500.6 655.5h0.8v0.8h-0.8zM501.5 655.8h0.8v0.8h-0.8zM502.5 655.8h0.8v0.8h-0.8zM500.9 654.3h0.8v0.8h-0.8zM501.4 655.8h0.8v0.8h-0.8zM501.0 651.2h0.8v0.8h-0.8zM499.5 652.2h0.8v0.8h-0.8zM501.9 655.9h0.8v0.8h-0.8zM501.7 655.9h0.8v0.8h-0.8zM501.1 653.7h0.8v0.8h-0.8zM501.0 651.5h0.8v0.8h-0.8zM500.6 649.8h0.8v0.8h-0.8zM500.4 653.7h0.8v0.8h-0.8zM499.6 652.5h0.8v0.8h-0.8zM501.2 652.0h0.8v0.8h-0.8zM501.2 655.7h0.8v0.8h-0.8zM502.6 649.3h0.8v0.8h-0.8zM501.0 653.5h0.8v0.8h-0.8zM500.8 653.6h0.8v0.8h-0.8zM502.4 657.1h0.8v0.8h-0.8zM501.5 656.0h0.8v0.8h-0.8zM499.7 652.8h0.8v0.8h-0.8zM501.7 655.0h0.8v0.8h-0.8z" fill="#5cc24e" opacity="1"/>
<path d="M503.9 654.8h0.8v0.8h-0.8zM502.4 653.5h0.8v0.8h-0.8zM505.6 654.6h0.8v0.8h-0.8zM503.0 650.3h0.8v0.8h-0.8zM506.8 654.9h0.8v0.8h-0.8zM503.5 654.5h0.8v0.8h-0.8zM506.7 651.8h0.8v0.8h-0.8zM506.7 652.4h0.8v0.8h-0.8zM503.9 651.0h0.8v0.8h-0.8zM507.2 654.1h0.8v0.8h-0.8zM505.9 650.2h0.8v0.8h-0.8zM505.1 654.8h0.8v0.8h-0.8zM502.0 653.4h0.8v0.8h-0.8zM502.9 650.6h0.8v0.8h-0.8zM505.8 651.0h0.8v0.8h-0.8zM505.0 650.2h0.8v0.8h-0.8zM506.6 651.4h0.8v0.8h-0.8zM506.8 654.5h0.8v0.8h-0.8zM501.9 652.1h0.8v0.8h-0.8zM505.4 655.9h0.8v0.8h-0.8zM502.5 651.7h0.8v0.8h-0.8zM501.6 652.1h0.8v0.8h-0.8zM505.2 655.1h0.8v0.8h-0.8zM507.2 653.9h0.8v0.8h-0.8zM504.1 655.3h0.8v0.8h-0.8zM504.5 654.7h0.8v0.8h-0.8zM506.6 653.2h0.8v0.8h-0.8zM502.3 655.1h0.8v0.8h-0.8zM506.1 655.3h0.8v0.8h-0.8zM506.5 653.8h0.8v0.8h-0.8zM504.4 655.1h0.8v0.8h-0.8zM503.0 654.6h0.8v0.8h-0.8zM503.8 655.6h0.8v0.8h-0.8zM506.1 654.6h0.8v0.8h-0.8zM505.1 650.1h0.8v0.8h-0.8zM506.0 651.7h0.8v0.8h-0.8zM505.8 650.0h0.8v0.8h-0.8zM506.4 655.0h0.8v0.8h-0.8zM503.5 655.2h0.8v0.8h-0.8zM502.2 654.9h0.8v0.8h-0.8zM502.3 653.0h0.8v0.8h-0.8zM501.5 653.8h0.8v0.8h-0.8zM503.1 654.0h0.8v0.8h-0.8zM502.8 651.2h0.8v0.8h-0.8zM504.7 650.8h0.8v0.8h-0.8zM505.7 649.9h0.8v0.8h-0.8zM504.6 650.5h0.8v0.8h-0.8zM502.4 653.0h0.8v0.8h-0.8zM501.7 654.1h0.8v0.8h-0.8zM505.9 654.4h0.8v0.8h-0.8zM502.3 655.0h0.8v0.8h-0.8zM505.6 651.1h0.8v0.8h-0.8zM505.2 655.1h0.8v0.8h-0.8zM503.4 654.5h0.8v0.8h-0.8zM506.6 652.7h0.8v0.8h-0.8zM505.8 655.6h0.8v0.8h-0.8zM502.1 651.1h0.8v0.8h-0.8zM506.6 653.8h0.8v0.8h-0.8zM506.5 651.2h0.8v0.8h-0.8zM503.0 652.2h0.8v0.8h-0.8zM506.9 654.0h0.8v0.8h-0.8zM502.7 653.6h0.8v0.8h-0.8zM502.7 650.6h0.8v0.8h-0.8zM504.5 654.8h0.8v0.8h-0.8zM507.2 653.1h0.8v0.8h-0.8zM507.0 653.5h0.8v0.8h-0.8zM502.5 654.8h0.8v0.8h-0.8zM505.2 651.1h0.8v0.8h-0.8zM505.9 651.5h0.8v0.8h-0.8zM505.1 649.8h0.8v0.8h-0.8zM506.7 653.6h0.8v0.8h-0.8zM506.1 650.8h0.8v0.8h-0.8zM501.8 654.4h0.8v0.8h-0.8zM505.8 654.3h0.8v0.8h-0.8zM503.1 654.3h0.8v0.8h-0.8zM502.6 655.0h0.8v0.8h-0.8zM505.5 654.9h0.8v0.8h-0.8zM504.1 650.0h0.8v0.8h-0.8zM503.7 655.6h0.8v0.8h-0.8zM505.2 655.5h0.8v0.8h-0.8zM502.3 654.9h0.8v0.8h-0.8zM503.3 654.8h0.8v0.8h-0.8zM502.9 651.5h0.8v0.8h-0.8zM506.5 653.5h0.8v0.8h-0.8zM504.1 655.5h0.8v0.8h-0.8zM506.4 653.5h0.8v0.8h-0.8zM505.9 655.5h0.8v0.8h-0.8zM505.1 649.8h0.8v0.8h-0.8zM505.3 654.8h0.8v0.8h-0.8zM504.2 650.0h0.8v0.8h-0.8zM503.2 650.3h0.8v0.8h-0.8zM503.9 650.8h0.8v0.8h-0.8zM505.0 651.3h0.8v0.8h-0.8zM505.7 654.4h0.8v0.8h-0.8zM503.0 650.2h0.8v0.8h-0.8zM502.8 651.1h0.8v0.8h-0.8zM505.2 655.8h0.8v0.8h-0.8zM506.6 653.7h0.8v0.8h-0.8zM503.5 651.3h0.8v0.8h-0.8zM504.0 655.1h0.8v0.8h-0.8zM507.2 653.6h0.8v0.8h-0.8zM506.8 653.4h0.8v0.8h-0.8zM506.0 654.1h0.8v0.8h-0.8zM503.9 655.2h0.8v0.8h-0.8zM506.6 651.4h0.8v0.8h-0.8zM502.3 654.9h0.8v0.8h-0.8zM503.1 654.3h0.8v0.8h-0.8zM507.3 652.9h0.8v0.8h-0.8zM503.6 650.8h0.8v0.8h-0.8zM501.7 653.7h0.8v0.8h-0.8zM504.0 655.0h0.8v0.8h-0.8zM504.9 655.5h0.8v0.8h-0.8zM502.2 654.6h0.8v0.8h-0.8zM502.4 651.0h0.8v0.8h-0.8zM501.7 652.2h0.8v0.8h-0.8zM501.7 654.0h0.8v0.8h-0.8zM506.3 650.8h0.8v0.8h-0.8zM502.7 655.2h0.8v0.8h-0.8zM503.2 650.5h0.8v0.8h-0.8zM506.6 651.1h0.8v0.8h-0.8zM504.9 650.3h0.8v0.8h-0.8zM506.0 654.8h0.8v0.8h-0.8zM504.7 655.8h0.8v0.8h-0.8zM505.9 654.2h0.8v0.8h-0.8zM503.9 651.2h0.8v0.8h-0.8zM506.9 654.2h0.8v0.8h-0.8zM503.0 655.0h0.8v0.8h-0.8zM506.1 653.7h0.8v0.8h-0.8zM501.6 653.8h0.8v0.8h-0.8zM506.2 654.9h0.8v0.8h-0.8zM506.5 653.5h0.8v0.8h-0.8zM505.7 654.9h0.8v0.8h-0.8zM505.9 654.6h0.8v0.8h-0.8zM505.9 650.5h0.8v0.8h-0.8zM506.1 654.9h0.8v0.8h-0.8zM505.1 649.8h0.8v0.8h-0.8zM507.1 653.3h0.8v0.8h-0.8zM506.3 653.0h0.8v0.8h-0.8zM504.6 651.0h0.8v0.8h-0.8zM504.0 650.1h0.8v0.8h-0.8zM505.6 655.5h0.8v0.8h-0.8zM504.9 649.9h0.8v0.8h-0.8zM503.9 655.6h0.8v0.8h-0.8zM504.8 651.2h0.8v0.8h-0.8zM506.7 653.6h0.8v0.8h-0.8zM504.1 655.2h0.8v0.8h-0.8zM505.1 654.7h0.8v0.8h-0.8zM503.4 651.2h0.8v0.8h-0.8zM502.3 652.6h0.8v0.8h-0.8zM506.5 653.3h0.8v0.8h-0.8zM502.6 654.5h0.8v0.8h-0.8zM506.8 653.2h0.8v0.8h-0.8zM504.8 655.0h0.8v0.8h-0.8zM506.2 654.0h0.8v0.8h-0.8zM506.7 653.6h0.8v0.8h-0.8zM506.0 654.0h0.8v0.8h-0.8zM505.5 655.6h0.8v0.8h-0.8zM507.1 653.9h0.8v0.8h-0.8zM502.7 652.2h0.8v0.8h-0.8zM506.5 654.2h0.8v0.8h-0.8zM505.1 651.0h0.8v0.8h-0.8zM502.6 654.8h0.8v0.8h-0.8zM502.4 653.7h0.8v0.8h-0.8zM501.7 654.4h0.8v0.8h-0.8zM506.2 652.3h0.8v0.8h-0.8zM505.8 650.2h0.8v0.8h-0.8zM506.4 652.3h0.8v0.8h-0.8zM504.1 654.6h0.8v0.8h-0.8zM504.0 654.7h0.8v0.8h-0.8zM506.5 653.9h0.8v0.8h-0.8zM502.6 652.9h0.8v0.8h-0.8zM506.4 655.1h0.8v0.8h-0.8zM506.9 653.8h0.8v0.8h-0.8zM505.3 650.7h0.8v0.8h-0.8zM506.5 652.2h0.8v0.8h-0.8zM507.0 652.1h0.8v0.8h-0.8zM505.7 654.7h0.8v0.8h-0.8zM504.1 655.0h0.8v0.8h-0.8zM503.7 655.4h0.8v0.8h-0.8zM506.5 650.6h0.8v0.8h-0.8zM505.5 651.3h0.8v0.8h-0.8zM501.9 652.9h0.8v0.8h-0.8zM506.3 654.9h0.8v0.8h-0.8zM503.9 655.5h0.8v0.8h-0.8zM502.7 653.4h0.8v0.8h-0.8zM506.0 655.3h0.8v0.8h-0.8zM505.9 650.8h0.8v0.8h-0.8zM503.7 655.5h0.8v0.8h-0.8zM506.2 651.6h0.8v0.8h-0.8zM507.3 653.3h0.8v0.8h-0.8zM505.9 655.1h0.8v0.8h-0.8zM506.5 653.8h0.8v0.8h-0.8zM504.2 655.3h0.8v0.8h-0.8zM502.9 651.3h0.8v0.8h-0.8zM505.8 654.8h0.8v0.8h-0.8zM502.0 653.5h0.8v0.8h-0.8zM505.2 650.5h0.8v0.8h-0.8zM502.5 651.1h0.8v0.8h-0.8zM503.7 655.5h0.8v0.8h-0.8zM501.9 652.1h0.8v0.8h-0.8zM503.2 654.3h0.8v0.8h-0.8zM502.7 652.9h0.8v0.8h-0.8zM505.0 655.3h0.8v0.8h-0.8zM503.2 651.1h0.8v0.8h-0.8zM503.7 655.0h0.8v0.8h-0.8zM505.6 651.4h0.8v0.8h-0.8zM506.2 652.3h0.8v0.8h-0.8zM502.1 653.8h0.8v0.8h-0.8zM503.2 654.6h0.8v0.8h-0.8zM503.4 650.5h0.8v0.8h-0.8zM503.1 655.4h0.8v0.8h-0.8zM506.3 654.8h0.8v0.8h-0.8zM503.3 650.8h0.8v0.8h-0.8zM502.9 651.4h0.8v0.8h-0.8zM504.0 651.2h0.8v0.8h-0.8zM506.1 654.9h0.8v0.8h-0.8zM503.1 655.5h0.8v0.8h-0.8zM506.8 654.8h0.8v0.8h-0.8zM504.9 650.7h0.8v0.8h-0.8zM502.5 650.6h0.8v0.8h-0.8zM505.9 651.5h0.8v0.8h-0.8zM502.2 652.4h0.8v0.8h-0.8zM504.5 650.0h0.8v0.8h-0.8zM506.0 651.5h0.8v0.8h-0.8zM506.7 651.0h0.8v0.8h-0.8zM506.7 652.6h0.8v0.8h-0.8zM506.9 651.9h0.8v0.8h-0.8zM504.6 651.2h0.8v0.8h-0.8zM506.1 651.7h0.8v0.8h-0.8zM506.1 652.4h0.8v0.8h-0.8zM506.4 651.2h0.8v0.8h-0.8zM505.5 650.5h0.8v0.8h-0.8zM505.9 651.7h0.8v0.8h-0.8zM506.5 651.5h0.8v0.8h-0.8zM504.9 651.1h0.8v0.8h-0.8zM507.1 651.7h0.8v0.8h-0.8zM503.5 650.1h0.8v0.8h-0.8zM506.8 652.2h0.8v0.8h-0.8zM502.9 651.0h0.8v0.8h-0.8zM505.6 649.9h0.8v0.8h-0.8zM503.8 650.2h0.8v0.8h-0.8zM505.7 650.8h0.8v0.8h-0.8zM506.3 652.6h0.8v0.8h-0.8zM504.3 649.8h0.8v0.8h-0.8zM505.6 650.4h0.8v0.8h-0.8zM503.2 650.4h0.8v0.8h-0.8zM504.8 651.0h0.8v0.8h-0.8zM503.7 650.6h0.8v0.8h-0.8zM502.4 651.6h0.8v0.8h-0.8zM505.7 650.6h0.8v0.8h-0.8zM506.0 650.2h0.8v0.8h-0.8zM504.8 650.4h0.8v0.8h-0.8zM502.6 651.1h0.8v0.8h-0.8zM506.9 652.0h0.8v0.8h-0.8zM506.6 651.0h0.8v0.8h-0.8zM503.3 651.4h0.8v0.8h-0.8zM502.7 651.4h0.8v0.8h-0.8zM503.9 650.4h0.8v0.8h-0.8zM506.9 651.8h0.8v0.8h-0.8zM503.8 651.5h0.8v0.8h-0.8zM501.7 651.7h0.8v0.8h-0.8zM506.8 653.1h0.8v0.8h-0.8zM502.7 651.6h0.8v0.8h-0.8zM502.6 652.9h0.8v0.8h-0.8zM506.6 651.6h0.8v0.8h-0.8zM506.4 652.4h0.8v0.8h-0.8zM504.9 650.6h0.8v0.8h-0.8zM503.7 651.0h0.8v0.8h-0.8zM502.9 651.7h0.8v0.8h-0.8zM506.6 653.0h0.8v0.8h-0.8zM503.1 651.5h0.8v0.8h-0.8zM504.6 649.8h0.8v0.8h-0.8zM503.3 651.4h0.8v0.8h-0.8zM506.3 650.4h0.8v0.8h-0.8zM502.0 651.5h0.8v0.8h-0.8zM506.4 651.3h0.8v0.8h-0.8zM505.1 650.9h0.8v0.8h-0.8zM505.5 650.2h0.8v0.8h-0.8zM506.1 651.0h0.8v0.8h-0.8zM501.9 651.6h0.8v0.8h-0.8zM502.1 654.6h0.8v0.8h-0.8zM502.0 652.4h0.8v0.8h-0.8zM501.4 652.8h0.8v0.8h-0.8zM501.8 654.2h0.8v0.8h-0.8zM502.1 651.8h0.8v0.8h-0.8zM502.1 652.2h0.8v0.8h-0.8zM502.3 652.4h0.8v0.8h-0.8zM502.8 651.7h0.8v0.8h-0.8zM502.7 650.6h0.8v0.8h-0.8zM502.6 653.8h0.8v0.8h-0.8zM501.4 653.7h0.8v0.8h-0.8zM502.6 653.3h0.8v0.8h-0.8zM502.5 654.5h0.8v0.8h-0.8zM502.6 652.5h0.8v0.8h-0.8zM502.5 653.0h0.8v0.8h-0.8zM502.2 651.6h0.8v0.8h-0.8zM502.0 654.1h0.8v0.8h-0.8zM502.4 654.9h0.8v0.8h-0.8zM502.4 651.7h0.8v0.8h-0.8zM502.0 651.7h0.8v0.8h-0.8zM502.1 652.2h0.8v0.8h-0.8zM501.6 654.0h0.8v0.8h-0.8zM502.1 652.6h0.8v0.8h-0.8zM501.8 654.2h0.8v0.8h-0.8zM502.8 654.5h0.8v0.8h-0.8zM502.1 654.8h0.8v0.8h-0.8z" fill="#e9dc30" opacity="1"/>
<path d="M505.9 654.0h0.8v0.8h-0.8zM503.8 653.6h0.8v0.8h-0.8zM504.5 653.3h0.8v0.8h-0.8zM503.2 653.7h0.8v0.8h-0.8zM505.9 653.4h0.8v0.8h-0.8zM505.7 653.7h0.8v0.8h-0.8zM504.6 652.6h0.8v0.8h-0.8zM504.6 652.9h0.8v0.8h-0.8zM503.2 653.9h0.8v0.8h-0.8zM502.9 653.2h0.8v0.8h-0.8zM505.3 654.2h0.8v0.8h-0.8zM503.9 654.5h0.8v0.8h-0.8zM505.2 652.5h0.8v0.8h-0.8zM505.8 652.2h0.8v0.8h-0.8zM503.3 653.2h0.8v0.8h-0.8zM504.3 653.2h0.8v0.8h-0.8zM506.0 653.9h0.8v0.8h-0.8zM505.6 653.4h0.8v0.8h-0.8zM505.0 654.0h0.8v0.8h-0.8zM505.2 653.5h0.8v0.8h-0.8zM505.4 653.9h0.8v0.8h-0.8zM505.2 654.0h0.8v0.8h-0.8zM504.0 653.8h0.8v0.8h-0.8zM504.1 654.4h0.8v0.8h-0.8zM505.1 654.2h0.8v0.8h-0.8zM505.1 653.9h0.8v0.8h-0.8zM505.7 653.2h0.8v0.8h-0.8zM505.1 651.7h0.8v0.8h-0.8zM505.4 653.5h0.8v0.8h-0.8zM505.1 654.4h0.8v0.8h-0.8zM503.6 653.8h0.8v0.8h-0.8zM504.8 653.1h0.8v0.8h-0.8zM505.5 652.9h0.8v0.8h-0.8zM503.8 654.1h0.8v0.8h-0.8zM503.3 652.9h0.8v0.8h-0.8zM505.4 651.9h0.8v0.8h-0.8zM506.0 653.1h0.8v0.8h-0.8zM503.4 653.1h0.8v0.8h-0.8zM503.2 652.7h0.8v0.8h-0.8zM504.9 651.4h0.8v0.8h-0.8zM504.2 653.1h0.8v0.8h-0.8zM504.5 654.0h0.8v0.8h-0.8zM503.9 651.9h0.8v0.8h-0.8zM504.6 651.6h0.8v0.8h-0.8zM503.1 653.3h0.8v0.8h-0.8zM503.7 653.6h0.8v0.8h-0.8zM504.5 652.7h0.8v0.8h-0.8zM504.3 653.9h0.8v0.8h-0.8zM504.4 654.6h0.8v0.8h-0.8zM505.8 653.5h0.8v0.8h-0.8zM505.5 652.3h0.8v0.8h-0.8zM505.8 653.9h0.8v0.8h-0.8zM504.4 654.6h0.8v0.8h-0.8zM506.1 653.5h0.8v0.8h-0.8zM503.6 652.6h0.8v0.8h-0.8zM505.1 653.6h0.8v0.8h-0.8zM505.3 653.3h0.8v0.8h-0.8zM505.0 651.7h0.8v0.8h-0.8zM504.9 653.3h0.8v0.8h-0.8zM505.8 653.7h0.8v0.8h-0.8zM505.4 652.7h0.8v0.8h-0.8zM503.7 653.8h0.8v0.8h-0.8zM504.4 654.1h0.8v0.8h-0.8zM506.0 652.4h0.8v0.8h-0.8zM504.4 654.2h0.8v0.8h-0.8zM503.1 653.8h0.8v0.8h-0.8zM504.0 653.5h0.8v0.8h-0.8zM505.8 654.0h0.8v0.8h-0.8zM505.2 653.7h0.8v0.8h-0.8zM505.1 654.2h0.8v0.8h-0.8zM505.9 653.0h0.8v0.8h-0.8zM503.7 652.4h0.8v0.8h-0.8zM505.3 652.8h0.8v0.8h-0.8zM504.2 653.3h0.8v0.8h-0.8zM504.2 653.3h0.8v0.8h-0.8zM504.6 654.0h0.8v0.8h-0.8zM504.9 653.4h0.8v0.8h-0.8zM505.4 651.9h0.8v0.8h-0.8zM505.7 651.8h0.8v0.8h-0.8zM503.4 652.6h0.8v0.8h-0.8zM505.2 653.6h0.8v0.8h-0.8zM505.8 654.0h0.8v0.8h-0.8zM504.2 653.5h0.8v0.8h-0.8zM504.2 653.3h0.8v0.8h-0.8zM505.2 651.4h0.8v0.8h-0.8zM505.9 652.3h0.8v0.8h-0.8zM505.0 653.5h0.8v0.8h-0.8zM505.7 653.1h0.8v0.8h-0.8zM504.0 651.6h0.8v0.8h-0.8zM504.6 653.5h0.8v0.8h-0.8zM504.3 653.3h0.8v0.8h-0.8zM504.2 652.1h0.8v0.8h-0.8zM503.2 652.6h0.8v0.8h-0.8zM505.0 651.9h0.8v0.8h-0.8zM504.9 652.1h0.8v0.8h-0.8zM504.4 652.8h0.8v0.8h-0.8zM504.3 652.8h0.8v0.8h-0.8zM504.0 653.0h0.8v0.8h-0.8zM505.0 652.1h0.8v0.8h-0.8zM505.7 651.9h0.8v0.8h-0.8zM504.7 652.3h0.8v0.8h-0.8zM504.4 652.8h0.8v0.8h-0.8zM505.0 652.8h0.8v0.8h-0.8zM503.6 651.9h0.8v0.8h-0.8zM504.5 652.2h0.8v0.8h-0.8zM503.7 651.7h0.8v0.8h-0.8zM503.3 652.3h0.8v0.8h-0.8zM506.2 653.1h0.8v0.8h-0.8zM506.0 652.4h0.8v0.8h-0.8zM503.2 653.0h0.8v0.8h-0.8z" fill="#f0702a" opacity="1"/>
</g>
<line x1="388.80" y1="666.50" x2="388.80" y2="667.60" stroke="#333" stroke-width="0.35" />
<line x1="389.70" y1="666.50" x2="389.70" y2="667.60" stroke="#333" stroke-width="0.35" />
<line x1="390.60" y1="666.50" x2="390.60" y2="667.60" stroke="#333" stroke-width="0.35" />
<line x1="391.50" y1="666.50" x2="391.50" y2="667.60" stroke="#333" stroke-width="0.35" />
<line x1="392.40" y1="666.50" x2="392.40" y2="667.60" stroke="#333" stroke-width="0.35" />
<line x1="393.30" y1="666.50" x2="393.30" y2="667.60" stroke="#333" stroke-width="0.35" />
<line x1="394.20" y1="666.50" x2="394.20" y2="667.60" stroke="#333" stroke-width="0.35" />
<line x1="395.10" y1="666.50" x2="395.10" y2="667.60" stroke="#333" stroke-width="0.35" />
<line x1="396.00" y1="666.50" x2="396.00" y2="667.60" stroke="#333" stroke-width="0.35" />
<line x1="406.50" y1="666.50" x2="406.50" y2="667.50" stroke="#555" stroke-width="0.3" />
<line x1="409.60" y1="666.50" x2="409.60" y2="667.50" stroke="#555" stroke-width="0.3" />
<line x1="411.80" y1="666.50" x2="411.80" y2="667.50" stroke="#555" stroke-width="0.3" />
<line x1="413.50" y1="666.50" x2="413.50" y2="667.50" stroke="#555" stroke-width="0.3" />
<line x1="414.90" y1="666.50" x2="414.90" y2="667.50" stroke="#555" stroke-width="0.3" />
<line x1="416.07" y1="666.50" x2="416.07" y2="667.50" stroke="#555" stroke-width="0.3" />
<line x1="417.09" y1="666.50" x2="417.09" y2="667.50" stroke="#555" stroke-width="0.3" />
<line x1="417.99" y1="666.50" x2="417.99" y2="667.50" stroke="#555" stroke-width="0.3" />
<line x1="423.23" y1="666.50" x2="423.23" y2="667.50" stroke="#555" stroke-width="0.3" />
<line x1="425.81" y1="666.50" x2="425.81" y2="667.50" stroke="#555" stroke-width="0.3" />
<line x1="427.65" y1="666.50" x2="427.65" y2="667.50" stroke="#555" stroke-width="0.3" />
<line x1="429.07" y1="666.50" x2="429.07" y2="667.50" stroke="#555" stroke-width="0.3" />
<line x1="430.24" y1="666.50" x2="430.24" y2="667.50" stroke="#555" stroke-width="0.3" />
<line x1="431.22" y1="666.50" x2="431.22" y2="667.50" stroke="#555" stroke-width="0.3" />
<line x1="432.08" y1="666.50" x2="432.08" y2="667.50" stroke="#555" stroke-width="0.3" />
<line x1="432.83" y1="666.50" x2="432.83" y2="667.50" stroke="#555" stroke-width="0.3" />
<line x1="390.20" y1="667.10" x2="393.00" y2="667.10" stroke="#111" stroke-width="1.0" />
<line x1="469.90" y1="666.50" x2="469.90" y2="667.60" stroke="#333" stroke-width="0.35" />
<line x1="470.80" y1="666.50" x2="470.80" y2="667.60" stroke="#333" stroke-width="0.35" />
<line x1="471.70" y1="666.50" x2="471.70" y2="667.60" stroke="#333" stroke-width="0.35" />
<line x1="472.60" y1="666.50" x2="472.60" y2="667.60" stroke="#333" stroke-width="0.35" />
<line x1="473.50" y1="666.50" x2="473.50" y2="667.60" stroke="#333" stroke-width="0.35" />
<line x1="474.40" y1="666.50" x2="474.40" y2="667.60" stroke="#333" stroke-width="0.35" />
<line x1="475.30" y1="666.50" x2="475.30" y2="667.60" stroke="#333" stroke-width="0.35" />
<line x1="476.20" y1="666.50" x2="476.20" y2="667.60" stroke="#333" stroke-width="0.35" />
<line x1="477.10" y1="666.50" x2="477.10" y2="667.60" stroke="#333" stroke-width="0.35" />
<line x1="487.60" y1="666.50" x2="487.60" y2="667.50" stroke="#555" stroke-width="0.3" />
<line x1="490.70" y1="666.50" x2="490.70" y2="667.50" stroke="#555" stroke-width="0.3" />
<line x1="492.90" y1="666.50" x2="492.90" y2="667.50" stroke="#555" stroke-width="0.3" />
<line x1="494.60" y1="666.50" x2="494.60" y2="667.50" stroke="#555" stroke-width="0.3" />
<line x1="496.00" y1="666.50" x2="496.00" y2="667.50" stroke="#555" stroke-width="0.3" />
<line x1="497.17" y1="666.50" x2="497.17" y2="667.50" stroke="#555" stroke-width="0.3" />
<line x1="498.19" y1="666.50" x2="498.19" y2="667.50" stroke="#555" stroke-width="0.3" />
<line x1="499.09" y1="666.50" x2="499.09" y2="667.50" stroke="#555" stroke-width="0.3" />
<line x1="504.33" y1="666.50" x2="504.33" y2="667.50" stroke="#555" stroke-width="0.3" />
<line x1="506.91" y1="666.50" x2="506.91" y2="667.50" stroke="#555" stroke-width="0.3" />
<line x1="508.75" y1="666.50" x2="508.75" y2="667.50" stroke="#555" stroke-width="0.3" />
<line x1="510.17" y1="666.50" x2="510.17" y2="667.50" stroke="#555" stroke-width="0.3" />
<line x1="511.34" y1="666.50" x2="511.34" y2="667.50" stroke="#555" stroke-width="0.3" />
<line x1="512.32" y1="666.50" x2="512.32" y2="667.50" stroke="#555" stroke-width="0.3" />
<line x1="513.18" y1="666.50" x2="513.18" y2="667.50" stroke="#555" stroke-width="0.3" />
<line x1="513.93" y1="666.50" x2="513.93" y2="667.50" stroke="#555" stroke-width="0.3" />
<line x1="471.30" y1="667.10" x2="474.10" y2="667.10" stroke="#111" stroke-width="1.0" />
<line x1="376.50" y1="603.80" x2="376.50" y2="666.50" stroke="#555" stroke-width="0.7" />
<line x1="376.50" y1="666.50" x2="437.60" y2="666.50" stroke="#555" stroke-width="0.7" />
<line x1="459.80" y1="604.40" x2="459.80" y2="666.50" stroke="#555" stroke-width="0.7" />
<line x1="459.80" y1="666.50" x2="518.00" y2="666.50" stroke="#555" stroke-width="0.7" />
<path d="M411.5,666.3 V604.1" fill="none" stroke="#9a9a9a" stroke-width="0.8"/>
<path d="M411.2,604.1 H437.4 V666.3" fill="none" stroke="#666" stroke-width="1.0"/>
<path d="M493.4,666.3 V604.7" fill="none" stroke="#6e6e6e" stroke-width="0.7"/>
<path d="M493.4,604.7 H518.2 V666.3" fill="none" stroke="#9a9a9a" stroke-width="0.6"/>
<line x1="459.80" y1="604.70" x2="493.40" y2="604.70" stroke="#9a9a9a" stroke-width="0.6" />
<text x="425.40" y="615.68" font-size="7" text-anchor="middle" textLength="9.60" lengthAdjust="spacingAndGlyphs" fill="#333" stroke="#333" stroke-width="0.3" >0%</text>
<text x="507.80" y="615.05" font-size="7.2" text-anchor="middle" textLength="18.20" lengthAdjust="spacingAndGlyphs" fill="#333" stroke="#333" stroke-width="0.3" >96.9%</text>
<path d="M356.5,647.5 V678.4 H383" fill="none" stroke="#333" stroke-width="0.6"/>
<path d="M354.5,648.6 L356.5,644.6 L358.5,648.6 Z" fill="#222"/><path d="M382,676.4 L386,678.4 L382,680.4 Z" fill="#222"/>
<text transform="translate(359.6,632.2) rotate(-90)" font-size="10" text-anchor="middle" textLength="20.5" lengthAdjust="spacingAndGlyphs" fill="#333">SSC-A</text>
<text x="389.60" y="681.86" font-size="9.6" textLength="23.20" lengthAdjust="spacingAndGlyphs" fill="#333" stroke="#333" stroke-width="0.3" >pHrodo</text>
</svg>
</body></html>
